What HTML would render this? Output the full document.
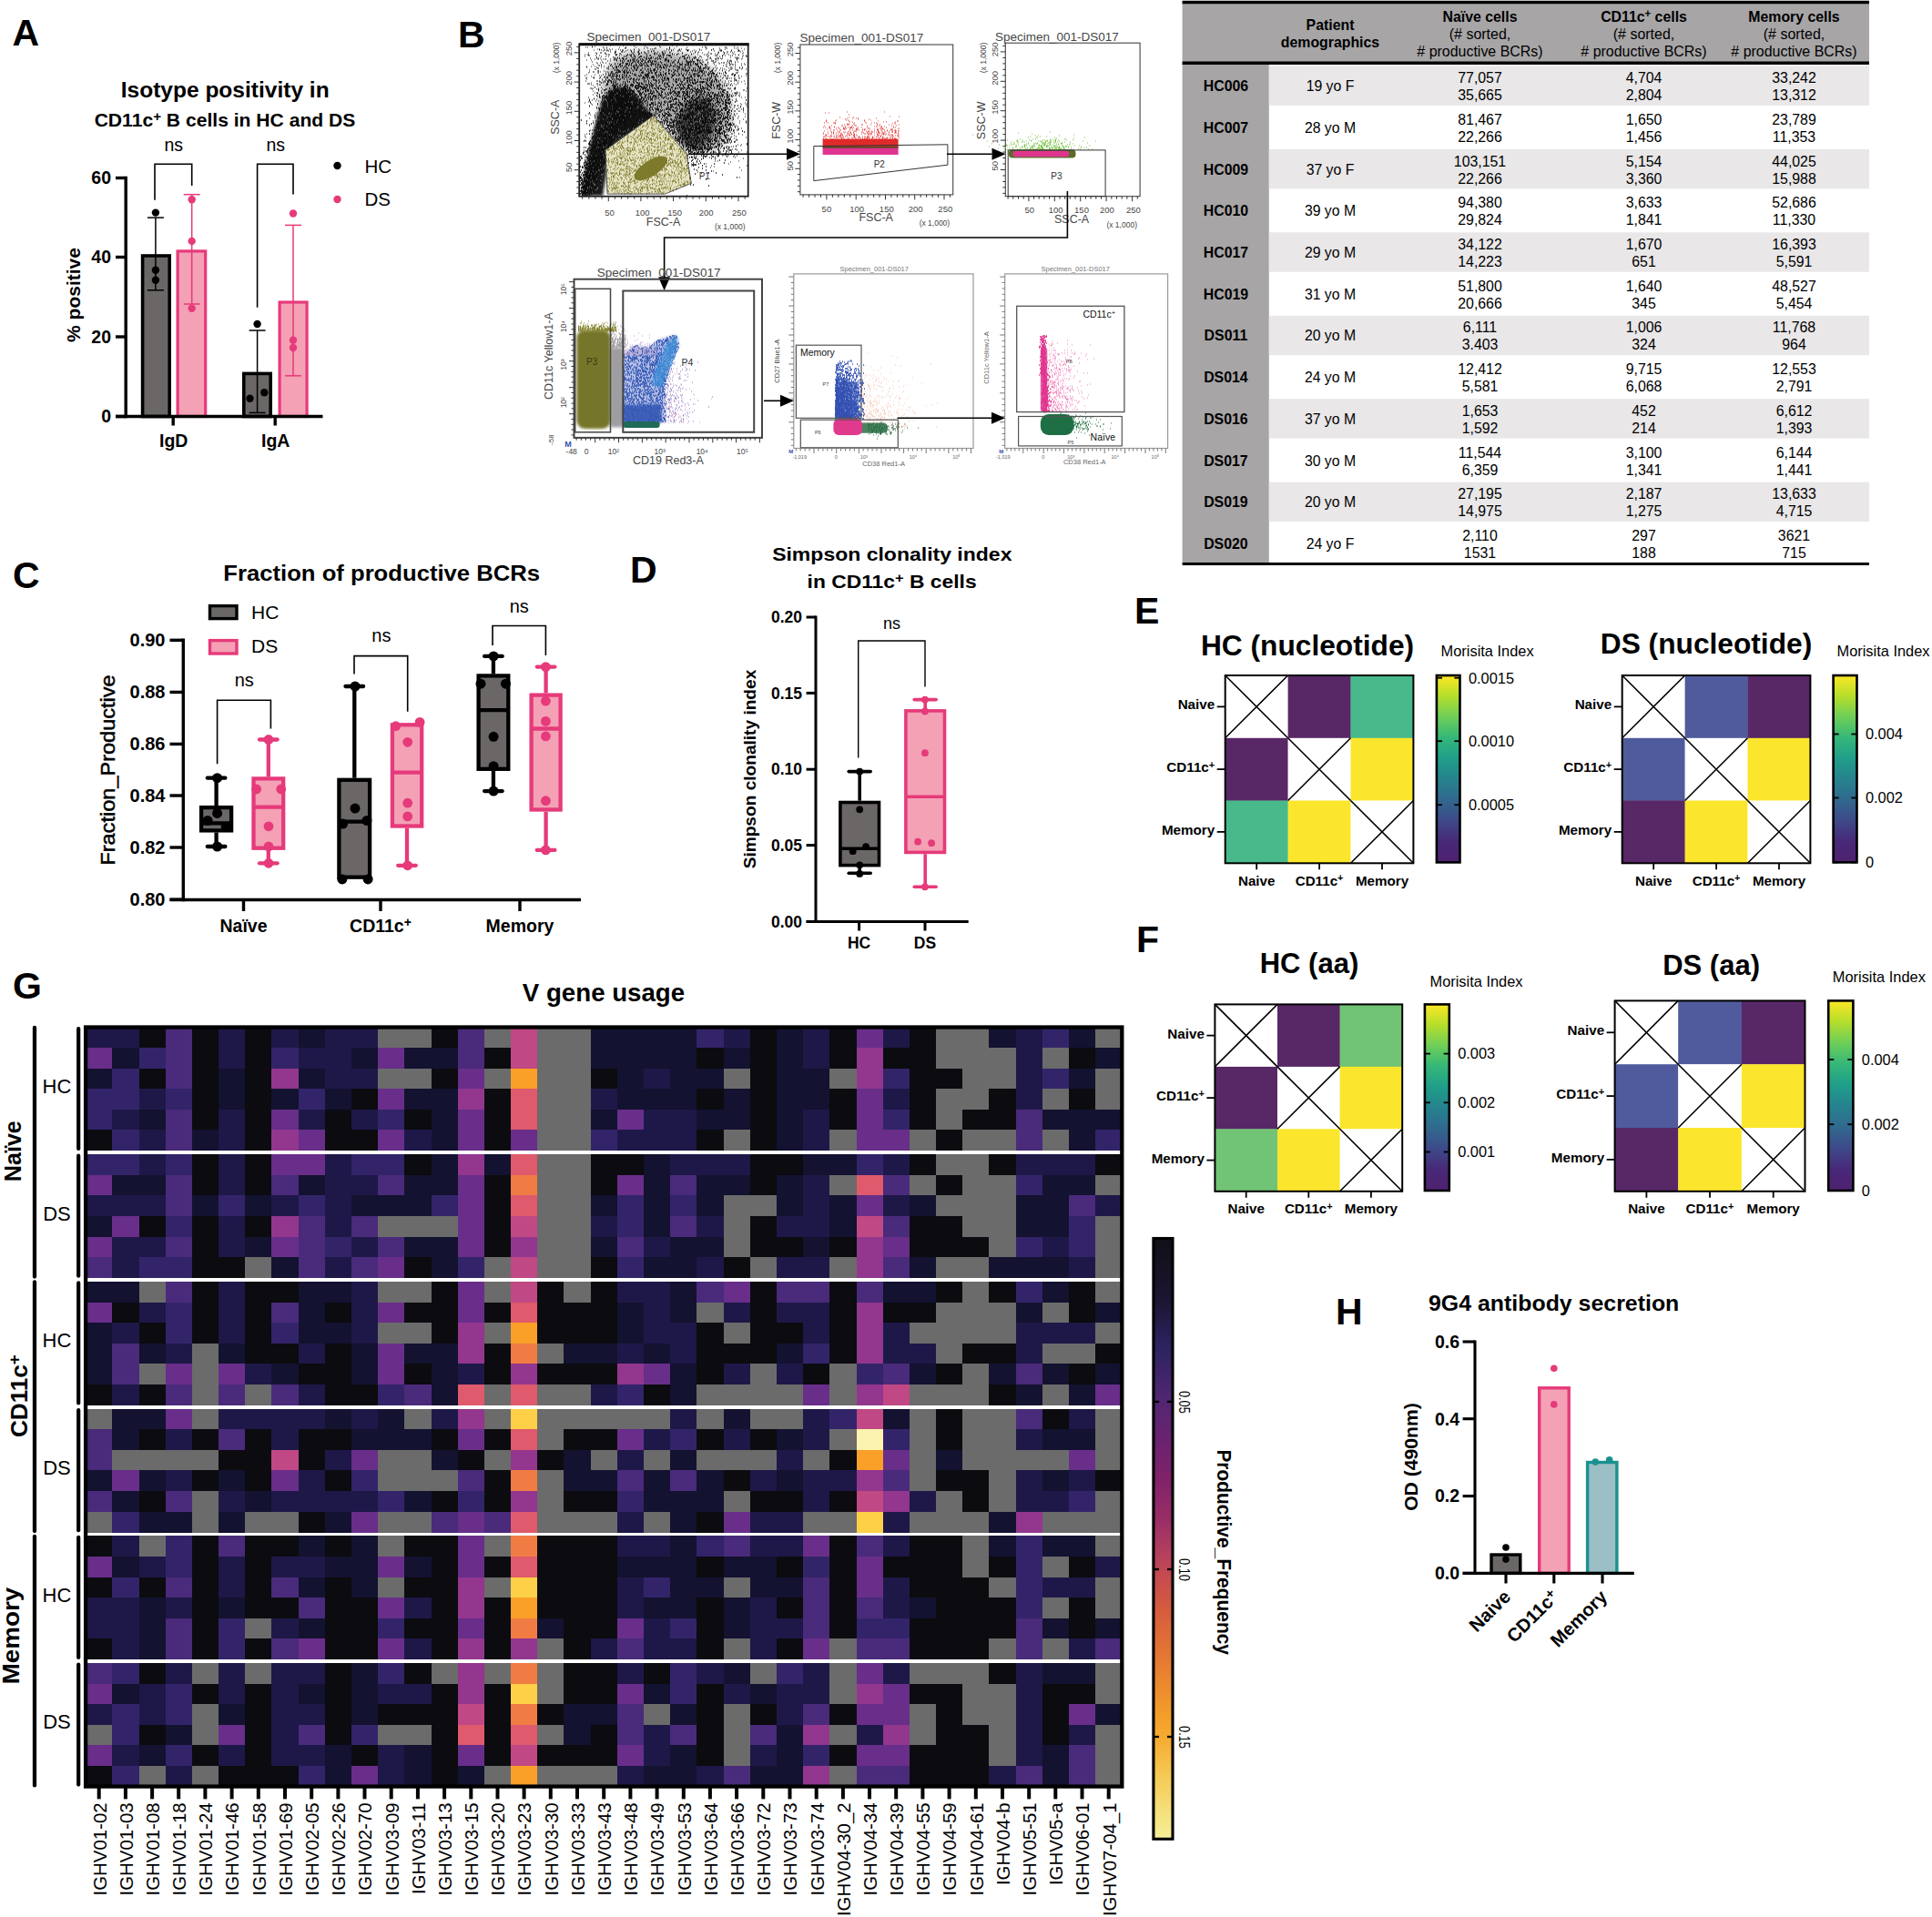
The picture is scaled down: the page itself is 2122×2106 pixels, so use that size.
<!DOCTYPE html><html><head><meta charset="utf-8"><title>Figure</title><style>html,body{margin:0;padding:0;background:#fff}svg{display:block}text{font-family:"Liberation Sans",sans-serif}</style></head><body>
<svg width="2122" height="2106" viewBox="0 0 2122 2106" font-family="Liberation Sans, sans-serif">
<rect x="0.0" y="0.0" width="2122.0" height="2106.0" fill="#fff"/>
<text x="13.5" y="50.0" font-size="41" font-weight="bold">A</text>
<text x="247.2" y="107.3" font-size="23" font-weight="bold" text-anchor="middle" textLength="229.0" lengthAdjust="spacingAndGlyphs">Isotype positivity in</text>
<text x="247.0" y="139.0" font-size="19.3" font-weight="bold" text-anchor="middle" textLength="286.7" lengthAdjust="spacingAndGlyphs">CD11c<tspan dy="-0.42em" font-size="72%">+</tspan><tspan dy="0.302em"> B cells in HC and DS</tspan></text>
<rect x="156.6" y="281.0" width="29.6" height="176.5" fill="#6b6767" stroke="#000" stroke-width="3.6"/>
<rect x="195.1" y="275.9" width="30.6" height="181.6" fill="#f4a1b6" stroke="#e63a7a" stroke-width="3.2"/>
<rect x="267.8" y="410.4" width="29.4" height="47.1" fill="#6b6767" stroke="#000" stroke-width="3.6"/>
<rect x="307.1" y="332.0" width="30.0" height="125.5" fill="#f4a1b6" stroke="#e63a7a" stroke-width="3.2"/>
<line x1="170.9" y1="239.1" x2="170.9" y2="318.8" stroke="#000" stroke-width="1.5"/>
<line x1="161.9" y1="239.1" x2="179.9" y2="239.1" stroke="#000" stroke-width="1.5"/>
<line x1="161.9" y1="318.8" x2="179.9" y2="318.8" stroke="#000" stroke-width="1.5"/>
<line x1="210.7" y1="213.7" x2="210.7" y2="334.0" stroke="#e63a7a" stroke-width="1.5"/>
<line x1="201.7" y1="213.7" x2="219.7" y2="213.7" stroke="#e63a7a" stroke-width="1.5"/>
<line x1="201.7" y1="334.0" x2="219.7" y2="334.0" stroke="#e63a7a" stroke-width="1.5"/>
<line x1="282.6" y1="363.0" x2="282.6" y2="453.4" stroke="#000" stroke-width="1.5"/>
<line x1="273.6" y1="363.0" x2="291.6" y2="363.0" stroke="#000" stroke-width="1.5"/>
<line x1="273.6" y1="453.4" x2="291.6" y2="453.4" stroke="#000" stroke-width="1.5"/>
<line x1="322.0" y1="247.4" x2="322.0" y2="412.8" stroke="#e63a7a" stroke-width="1.5"/>
<line x1="313.0" y1="247.4" x2="331.0" y2="247.4" stroke="#e63a7a" stroke-width="1.5"/>
<line x1="313.0" y1="412.8" x2="331.0" y2="412.8" stroke="#e63a7a" stroke-width="1.5"/>
<circle cx="170.9" cy="233.6" r="4.2" fill="#000"/>
<circle cx="170.9" cy="296.7" r="4.2" fill="#000"/>
<circle cx="170.9" cy="307.7" r="4.2" fill="#000"/>
<circle cx="282.6" cy="356.0" r="4.2" fill="#000"/>
<circle cx="274.5" cy="437.7" r="4.2" fill="#000"/>
<circle cx="290.3" cy="431.3" r="4.2" fill="#000"/>
<circle cx="210.7" cy="219.2" r="4.2" fill="#e63a7a"/>
<circle cx="210.7" cy="264.9" r="4.2" fill="#e63a7a"/>
<circle cx="210.7" cy="338.7" r="4.2" fill="#e63a7a"/>
<circle cx="322.0" cy="234.5" r="4.2" fill="#e63a7a"/>
<circle cx="322.0" cy="373.8" r="4.2" fill="#e63a7a"/>
<circle cx="322.0" cy="382.0" r="4.2" fill="#e63a7a"/>
<line x1="138.2" y1="193.8" x2="138.2" y2="459.2" stroke="#000" stroke-width="3.4"/>
<line x1="127.0" y1="457.5" x2="354.5" y2="457.5" stroke="#000" stroke-width="3.4"/>
<line x1="127.0" y1="195.5" x2="138.0" y2="195.5" stroke="#000" stroke-width="3.4"/>
<text x="122.0" y="202.3" font-size="19.5" font-weight="bold" text-anchor="end">60</text>
<line x1="127.0" y1="282.5" x2="138.0" y2="282.5" stroke="#000" stroke-width="3.4"/>
<text x="122.0" y="289.3" font-size="19.5" font-weight="bold" text-anchor="end">40</text>
<line x1="127.0" y1="370.0" x2="138.0" y2="370.0" stroke="#000" stroke-width="3.4"/>
<text x="122.0" y="376.8" font-size="19.5" font-weight="bold" text-anchor="end">20</text>
<line x1="127.0" y1="457.5" x2="138.0" y2="457.5" stroke="#000" stroke-width="3.4"/>
<text x="122.0" y="464.3" font-size="19.5" font-weight="bold" text-anchor="end">0</text>
<line x1="190.2" y1="457.5" x2="190.2" y2="467.5" stroke="#000" stroke-width="3.4"/>
<text x="190.7" y="490.7" font-size="19.5" font-weight="bold" text-anchor="middle">IgD</text>
<line x1="302.2" y1="457.5" x2="302.2" y2="467.5" stroke="#000" stroke-width="3.4"/>
<text x="302.7" y="490.7" font-size="19.5" font-weight="bold" text-anchor="middle">IgA</text>
<text x="87.5" y="324.0" font-size="21" font-weight="bold" text-anchor="middle" transform="rotate(-90 87.5 324.0)">% positive</text>
<path d="M170.0 219.8V180.3H210.7V204.0" fill="none" stroke="#000" stroke-width="1.6"/>
<path d="M282.6 337.8V180.3H322.0V213.4" fill="none" stroke="#000" stroke-width="1.6"/>
<text x="190.8" y="166.0" font-size="19.5" text-anchor="middle">ns</text>
<text x="302.7" y="166.0" font-size="19.5" text-anchor="middle">ns</text>
<circle cx="370.5" cy="182.0" r="4.2" fill="#000"/>
<text x="400.5" y="189.6" font-size="20.5">HC</text>
<circle cx="370.5" cy="219.0" r="4.2" fill="#e63a7a"/>
<text x="400.5" y="226.4" font-size="20.5">DS</text>
<text x="503.0" y="52.0" font-size="41" font-weight="bold">B</text>
<clipPath id="cp1"><rect x="636.2" y="48.3" width="185.5" height="167.4"/></clipPath>
<g clip-path="url(#cp1)">
<defs><filter id="b5" x="-20%" y="-20%" width="140%" height="140%"><feGaussianBlur stdDeviation="5"/></filter><filter id="b2" x="-20%" y="-20%" width="140%" height="140%"><feGaussianBlur stdDeviation="1.6"/></filter><filter id="b3" x="-30%" y="-30%" width="160%" height="160%"><feGaussianBlur stdDeviation="3.5"/></filter></defs>
<path d="M641 165h1M642 60h1M642 62h1M642 83h1M642 113h1M642 148h1M642 150h1M642 154h1M642 173h1M643 52h1M643 86h1M643 89h1M643 127h1M643 151h1M643 172h1M644 66h1M644 73h1M644 74h1M644 82h1M644 85h1M644 87h1M644 135h1M644 136h1M644 147h1M644 166h1M645 52h1M645 60h1M645 92h1M646 58h1M646 60h1M646 61h1M646 80h1M646 92h1M646 107h1M646 112h1M646 125h1M646 174h1M646 184h1M647 61h1M647 77h1M647 79h1M647 92h1M647 109h1M647 110h1M647 111h1M647 116h1M647 117h1M647 130h1M647 137h1M647 138h1M647 182h1M648 64h1M648 97h1M648 112h1M648 113h1M648 126h1M648 143h1M649 66h1M649 73h1M649 84h1M649 91h1M649 93h1M649 97h1M649 114h1M649 173h1M650 51h1M650 52h1M650 68h1M650 98h1M650 110h1M650 115h1M650 143h1M651 71h1M651 79h1M651 85h1M651 94h1M651 97h1M651 100h1M651 104h1M651 133h1M651 179h1M652 55h1M652 79h1M652 85h1M652 86h1M652 108h1M652 109h1M652 150h1M652 184h1M653 51h1M653 65h1M653 73h1M653 76h1M653 82h1M653 102h1M653 126h1M653 140h1M653 143h1M653 170h1M654 58h1M654 61h1M654 76h1M654 111h1M654 124h1M654 133h1M654 166h1M655 59h1M655 63h1M655 64h1M655 89h1M655 92h1M655 98h1M655 105h1M655 126h1M656 54h1M656 65h1M656 80h1M656 89h1M656 94h1M656 106h1M656 124h1M656 141h1M656 144h1M656 152h1M657 65h1M657 72h1M657 75h1M657 78h1M657 97h1M657 100h1M657 141h1M657 160h1M657 181h1M658 61h1M658 83h1M658 90h1M658 105h1M658 107h1M658 120h1M658 121h1M658 132h1M658 148h1M658 176h1M659 64h1M659 69h1M659 79h1M659 85h1M659 93h1M659 114h1M659 143h1M659 161h1M660 71h1M660 72h1M660 91h1M660 121h1M660 155h1M660 160h1M661 88h1M661 98h1M661 107h1M661 111h1M661 136h1M662 56h1M662 65h1M662 91h1M662 115h1M662 121h1M662 129h1M662 133h1M662 146h1M663 53h1M663 55h1M663 78h1M663 85h1M663 89h1M663 108h1M663 130h1M663 154h1M664 55h1M664 59h1M664 65h1M664 84h1M664 85h1M664 106h1M664 108h1M664 112h1M664 135h1M664 138h1M664 153h1M664 164h1M664 174h1M665 65h1M665 69h1M665 79h1M665 82h1M665 94h1M665 106h1M665 108h1M665 123h1M665 136h1M665 149h1M665 179h1M666 52h1M666 55h1M666 75h1M666 93h1M666 98h1M666 106h1M666 107h1M666 108h1M666 123h1M666 124h1M666 126h1M666 127h1M666 130h1M666 143h1M667 67h1M667 75h1M667 86h1M667 117h1M668 62h1M668 73h1M668 80h1M668 83h1M668 116h1M668 117h1M668 125h1M669 54h1M669 60h1M669 97h1M669 105h1M669 128h1M669 139h1M669 153h1M670 50h1M670 65h1M670 67h1M670 114h1M670 123h1M670 126h1M670 135h1M670 161h1M671 104h1M671 111h1M671 120h1M671 131h1M671 145h1M671 149h1M672 54h1M672 81h1M672 108h1M672 119h1M672 120h1M672 136h1M673 63h1M673 81h1M673 86h1M673 92h1M673 96h1M673 99h1M673 141h1M673 162h1M674 63h1M674 75h1M674 81h1M674 82h1M674 87h1M674 90h1M674 97h1M674 100h1M674 106h1M674 119h1M674 162h1M675 57h1M675 58h1M675 59h1M675 64h1M675 71h1M675 77h1M675 91h1M675 97h1M675 118h1M675 142h1M675 179h1M676 55h1M676 57h1M676 60h1M676 61h1M676 80h1M676 87h1M676 94h1M676 98h1M676 105h1M676 140h1M677 60h1M677 65h1M677 67h1M677 73h1M677 82h1M677 84h1M677 85h1M677 87h1M677 104h1M677 123h1M677 137h1M677 140h1M677 155h1M677 158h1M678 63h1M678 64h1M678 70h1M678 87h1M678 102h1M678 110h1M678 156h1M678 171h1M679 77h1M679 99h1M679 123h1M679 133h1M679 135h1M680 52h1M680 64h1M680 71h1M680 78h1M680 85h1M680 98h1M680 113h1M680 134h1M680 144h1M680 160h1M681 92h1M681 150h1M681 151h1M681 158h1M682 60h1M682 73h1M682 113h1M682 140h1M682 152h1M682 166h1M683 55h1M683 85h1M683 86h1M683 115h1M683 118h1M684 50h1M684 92h1M684 121h1M684 130h1M685 65h1M685 74h1M685 79h1M685 109h1M685 112h1M685 127h1M685 134h1M685 137h1M686 94h1M686 99h1M686 103h1M686 114h1M686 116h1M686 158h1M687 52h1M687 53h1M687 75h1M687 101h1M687 102h1M687 108h1M687 125h1M687 130h1M687 136h1M687 137h1M687 139h1M687 142h1M687 166h1M688 64h1M688 79h1M688 87h1M688 89h1M688 185h1M689 55h1M689 70h1M689 88h1M689 93h1M689 101h1M689 111h1M689 115h1M689 128h1M689 129h1M689 142h1M689 161h1M690 67h1M690 80h1M690 102h1M690 118h1M690 126h1M690 127h1M691 60h1M691 87h1M691 90h1M691 113h1M691 142h1M691 155h1M691 164h1M692 66h1M692 79h1M692 84h1M692 87h1M692 93h1M692 120h1M692 138h1M692 148h1M692 153h1M693 56h1M693 71h1M693 92h1M693 119h1M693 121h1M693 147h1M693 161h1M693 175h1M693 184h1M693 185h1M694 58h1M694 64h1M694 66h1M694 77h1M694 93h1M694 101h1M694 126h1M694 133h1M694 141h1M694 145h1M694 159h1M695 63h1M695 65h1M695 87h1M695 89h1M695 109h1M695 112h1M695 136h1M695 169h1M696 51h1M696 57h1M696 60h1M696 67h1M696 77h1M696 86h1M696 87h1M696 89h1M696 115h1M696 125h1M696 146h1M697 65h1M697 67h1M697 74h1M697 81h1M697 121h1M697 129h1M697 139h1M697 146h1M698 52h1M698 72h1M698 77h1M698 89h1M698 90h1M698 95h1M698 106h1M698 108h1M698 137h1M698 146h1M698 152h1M698 178h1M699 67h1M699 77h1M699 84h1M699 98h1M699 108h1M699 122h1M699 124h1M699 147h1M699 151h1M699 163h1M700 57h1M700 65h1M700 75h1M700 86h1M700 100h1M700 110h1M700 131h1M700 151h1M701 54h1M701 63h1M701 93h1M701 96h1M701 97h1M701 114h1M701 117h1M701 123h1M701 128h1M701 131h1M701 173h1M701 174h1M702 79h1M702 116h1M702 125h1M702 132h1M702 136h1M702 165h1M702 176h1M703 84h1M703 99h1M703 141h1M703 142h1M703 195h1M704 123h1M704 131h1M704 132h1M704 145h1M704 146h1M705 67h1M705 68h1M705 71h1M705 126h1M705 128h1M706 70h1M706 78h1M706 87h1M706 124h1M706 127h1M706 133h1M707 86h1M707 107h1M707 123h1M707 133h1M707 145h1M707 161h1M708 51h1M708 59h1M708 72h1M708 74h1M708 81h1M708 82h1M708 92h1M708 99h1M708 108h1M708 140h1M708 146h1M708 161h1M709 65h1M709 82h1M709 83h1M709 90h1M709 113h1M709 114h1M709 139h1M709 146h1M709 151h1M709 157h1M709 160h1M710 52h1M710 62h1M710 63h1M710 70h1M710 82h1M710 99h1M710 162h1M710 179h1M711 53h1M711 56h1M711 117h1M711 121h1M711 123h1M711 134h1M711 146h1M711 150h1M712 56h1M712 58h1M712 67h1M712 76h1M712 89h1M712 100h1M712 106h1M712 132h1M712 149h1M713 61h1M713 106h1M713 115h1M713 121h1M714 54h1M714 71h1M714 75h1M714 77h1M714 94h1M714 99h1M714 102h1M714 108h1M714 130h1M714 135h1M714 144h1M714 153h1M715 56h1M715 57h1M715 89h1M715 104h1M715 118h1M715 127h1M715 138h1M715 152h1M715 173h1M716 109h1M716 125h1M716 130h1M716 161h1M717 63h1M717 71h1M717 84h1M717 87h1M717 88h1M717 102h1M717 107h1M717 151h1M717 168h1M718 59h1M718 77h1M718 86h1M718 88h1M718 102h1M718 124h1M718 126h1M719 60h1M719 65h1M719 70h1M719 82h1M719 109h1M719 162h1M719 170h1M720 53h1M720 64h1M720 71h1M720 80h1M720 115h1M720 120h1M720 126h1M720 175h1M721 86h1M721 95h1M721 104h1M721 106h1M721 118h1M721 133h1M721 167h1M721 183h1M722 57h1M722 63h1M722 72h1M722 75h1M722 114h1M722 119h1M722 162h1M722 164h1M723 61h1M723 69h1M723 95h1M723 97h1M723 102h1M723 107h1M723 112h1M723 123h1M723 138h1M723 174h1M724 51h1M724 59h1M724 72h1M724 79h1M724 83h1M724 88h1M724 110h1M724 129h1M724 134h1M724 184h1M725 52h1M725 62h1M725 73h1M725 74h1M725 82h1M725 85h1M725 94h1M725 114h1M725 116h1M725 135h1M725 142h1M725 144h1M725 146h1M725 150h1M725 163h1M725 185h1M726 63h1M726 74h1M726 82h1M726 87h1M726 104h1M726 106h1M726 107h1M726 119h1M726 161h1M726 169h1M726 170h1M727 60h1M727 71h1M727 87h1M727 105h1M727 107h1M728 58h1M728 115h1M729 88h1M729 92h1M729 94h1M729 122h1M729 124h1M729 154h1M730 81h1M730 86h1M730 102h1M730 103h1M730 107h1M730 113h1M730 134h1M730 169h1M730 173h1M731 75h1M731 77h1M731 129h1M731 157h1M731 186h1M732 54h1M732 66h1M732 69h1M732 71h1M732 74h1M732 84h1M732 93h1M732 96h1M732 118h1M732 141h1M732 147h1M732 164h1M732 166h1M732 189h1M733 60h1M733 88h1M733 92h1M733 94h1M733 109h1M733 115h1M733 126h1M733 128h1M733 133h1M733 143h1M733 151h1M734 76h1M734 80h1M734 81h1M734 90h1M734 98h1M734 118h1M734 120h1M734 121h1M734 123h1M734 124h1M734 138h1M735 52h1M735 53h1M735 54h1M735 57h1M735 58h1M735 61h1M735 90h1M735 111h1M735 160h1M735 163h1M735 175h1M736 58h1M736 63h1M737 67h1M737 72h1M737 82h1M738 50h1M738 60h1M738 82h1M738 92h1M738 98h1M738 132h1M738 147h1M738 176h1M739 83h1M739 87h1M739 89h1M739 136h1M739 140h1M739 144h1M739 146h1M739 155h1M740 53h1M740 60h1M740 67h1M740 69h1M740 73h1M740 78h1M740 125h1M740 131h1M740 132h1M740 138h1M740 162h1M741 71h1M741 73h1M741 82h1M741 88h1M741 175h1M741 193h1M742 101h1M742 108h1M742 112h1M742 122h1M742 135h1M742 146h1M743 51h1M743 72h1M743 117h1M743 129h1M743 131h1M743 133h1M743 163h1M744 68h1M744 102h1M744 104h1M744 120h1M744 126h1M744 142h1M744 161h1M744 163h1M744 178h1M745 56h1M745 59h1M745 74h1M745 76h1M745 105h1M745 106h1M745 139h1M745 153h1M745 181h1M745 195h1M746 54h1M746 55h1M746 71h1M746 86h1M746 103h1M746 112h1M746 114h1M747 63h1M747 71h1M747 87h1M747 106h1M747 113h1M747 129h1M747 173h1M748 54h1M748 75h1M748 77h1M748 79h1M748 132h1M748 171h1M748 176h1M749 68h1M749 72h1M749 74h1M749 105h1M749 133h1M749 136h1M749 150h1M750 82h1M750 84h1M750 88h1M750 97h1M750 105h1M750 135h1M750 154h1M750 169h1M751 65h1M751 74h1M751 81h1M751 86h1M751 103h1M751 113h1M751 146h1M751 176h1M752 78h1M752 102h1M752 105h1M752 106h1M752 123h1M752 130h1M753 54h1M753 60h1M753 68h1M753 78h1M753 87h1M753 113h1M753 123h1M753 131h1M753 134h1M753 147h1M753 156h1M753 165h1M754 52h1M754 55h1M754 60h1M754 72h1M754 77h1M754 79h1M754 105h1M754 107h1M754 127h1M754 152h1M755 56h1M755 75h1M755 78h1M755 102h1M755 107h1M755 156h1M755 185h1M756 68h1M756 69h1M756 74h1M756 77h1M756 82h1M756 86h1M756 93h1M756 94h1M756 96h1M756 97h1M756 126h1M756 149h1M756 165h1M757 65h1M757 82h1M757 90h1M757 98h1M757 104h1M757 141h1M758 70h1M758 82h1M758 88h1M758 118h1M758 126h1M759 59h1M759 60h1M759 72h1M759 88h1M759 94h1M759 150h1M759 180h1M759 182h1M760 67h1M760 80h1M760 91h1M760 98h1M760 99h1M760 105h1M760 106h1M760 108h1M760 126h1M760 127h1M761 59h1M761 63h1M761 76h1M761 97h1M761 118h1M761 175h1M762 78h1M762 82h1M762 92h1M762 97h1M762 100h1M762 104h1M762 115h1M762 143h1M762 162h1M763 57h1M763 58h1M763 62h1M763 63h1M763 64h1M763 78h1M763 84h1M763 92h1M763 96h1M763 115h1M763 127h1M763 142h1M764 63h1M764 72h1M764 92h1M764 101h1M764 138h1M764 144h1M764 159h1M764 163h1M765 65h1M765 99h1M765 113h1M766 60h1M766 70h1M766 76h1M766 77h1M766 80h1M766 87h1M766 136h1M766 189h1M767 64h1M767 82h1M767 83h1M767 116h1M767 141h1M767 146h1M768 54h1M768 69h1M768 75h1M768 93h1M768 101h1M768 112h1M768 117h1M768 118h1M768 124h1M768 131h1M769 62h1M769 66h1M769 73h1M769 76h1M769 92h1M769 95h1M769 107h1M769 146h1M769 159h1M770 63h1M770 76h1M770 79h1M770 84h1M770 87h1M770 102h1M770 104h1M770 105h1M770 139h1M771 52h1M771 58h1M771 66h1M771 68h1M771 81h1M771 104h1M771 118h1M771 133h1M771 164h1M772 68h1M772 81h1M772 96h1M772 125h1M772 133h1M772 143h1M772 159h1M772 165h1M773 99h1M773 109h1M773 110h1M773 111h1M773 120h1M773 124h1M774 50h1M774 52h1M774 94h1M774 97h1M774 101h1M774 114h1M774 116h1M774 165h1M775 54h1M775 60h1M775 97h1M775 102h1M775 127h1M775 132h1M775 143h1M775 180h1M776 53h1M776 61h1M776 66h1M776 72h1M776 104h1M776 110h1M776 115h1M776 164h1M776 169h1M777 59h1M777 63h1M777 69h1M777 88h1M777 93h1M777 94h1M777 95h1M777 101h1M777 105h1M777 109h1M777 114h1M777 148h1M777 154h1M777 162h1M778 76h1M778 82h1M778 83h1M778 104h1M778 115h1M779 64h1M779 74h1M779 78h1M779 85h1M779 91h1M779 127h1M779 137h1M779 144h1M780 63h1M780 80h1M780 94h1M780 96h1M780 135h1M780 140h1M780 144h1M780 184h1M781 65h1M781 101h1M781 105h1M781 123h1M781 129h1M781 182h1M782 81h1M782 127h1M782 139h1M783 76h1M783 80h1M783 83h1M783 127h1M783 134h1M783 169h1M783 188h1M784 69h1M784 84h1M784 116h1M784 132h1M784 183h1M785 59h1M785 61h1M785 65h1M785 78h1M785 84h1M785 86h1M785 123h1M785 127h1M785 140h1M785 144h1M785 161h1M785 175h1M785 177h1M786 61h1M786 64h1M786 65h1M786 68h1M786 72h1M786 77h1M786 89h1M786 92h1M786 113h1M786 123h1M786 162h1M787 62h1M787 108h1M787 120h1M787 125h1M787 143h1M787 151h1M787 156h1M788 60h1M788 66h1M788 80h1M788 105h1M788 108h1M788 122h1M788 124h1M788 126h1M788 129h1M788 132h1M788 159h1M788 169h1M788 177h1M789 57h1M789 64h1M789 95h1M789 101h1M789 142h1M789 155h1M789 164h1M790 62h1M790 80h1M790 81h1M790 110h1M790 134h1M790 143h1M791 55h1M791 75h1M791 102h1M791 107h1M791 108h1M791 112h1M791 150h1M791 152h1M792 65h1M792 81h1M792 142h1M793 75h1M793 77h1M793 78h1M793 96h1M793 98h1M794 57h1M794 60h1M794 72h1M794 82h1M794 100h1M794 109h1M794 155h1M794 163h1M795 83h1M795 92h1M795 106h1M795 124h1M795 132h1M796 52h1M796 79h1M796 80h1M796 91h1M796 116h1M796 145h1M796 157h1M797 52h1M797 73h1M797 84h1M797 106h1M797 116h1M797 129h1M797 130h1M797 136h1M798 57h1M798 59h1M798 68h1M798 70h1M798 86h1M798 109h1M798 120h1M798 124h1M798 127h1M798 140h1M798 145h1M798 148h1M798 156h1M799 57h1M799 67h1M799 101h1M799 111h1M799 131h1M799 153h1M800 75h1M800 91h1M800 97h1M800 106h1M800 107h1M800 138h1M800 161h1M800 180h1M801 67h1M801 68h1M801 70h1M801 77h1M801 104h1M801 106h1M801 111h1M801 113h1M801 140h1M801 154h1M801 156h1M802 63h1M802 66h1M802 89h1M802 93h1M802 94h1M802 135h1M802 136h1M802 137h1M802 140h1M802 178h1M803 55h1M803 56h1M803 68h1M803 70h1M803 89h1M803 161h1M804 75h1M804 81h1M804 82h1M804 103h1M804 132h1M804 164h1M804 169h1M805 71h1M805 128h1M805 137h1M806 51h1M806 53h1M806 57h1M806 82h1M806 86h1M806 92h1M806 97h1M806 102h1M806 122h1M806 125h1M806 126h1M806 136h1M806 145h1M806 152h1M807 63h1M807 69h1M807 71h1M807 74h1M807 82h1M807 86h1M807 103h1M807 105h1M807 112h1M807 116h1M807 139h1M807 156h1M807 164h1M808 53h1M808 93h1M808 105h1M808 111h1M808 160h1M808 161h1M809 64h1M809 77h1M809 89h1M809 165h1M810 52h1M810 54h1M810 64h1M810 68h1M810 78h1M810 80h1M810 92h1M810 102h1M810 143h1M810 159h1M810 169h1M811 61h1M811 84h1M811 89h1M811 105h1M811 122h1M811 147h1M811 177h1M812 56h1M812 74h1M812 75h1M812 86h1M812 102h1M812 104h1M812 106h1M812 122h1M812 133h1M812 135h1M812 184h1M812 195h1M813 57h1M813 114h1M813 118h1M813 160h1M814 53h1M814 65h1M814 70h1M814 72h1M814 76h1M814 84h1M814 90h1M814 107h1M814 115h1M814 120h1M814 141h1M814 159h1M814 165h1M814 187h1M815 56h1M815 59h1M815 62h1M815 64h1M815 74h1M815 75h1M815 148h1M816 58h1M816 61h1M816 99h1M816 123h1M816 131h1M816 174h1M817 54h1M817 70h1M817 89h1M817 99h1M818 71h1M818 92h1M818 107h1M818 113h1M818 125h1M818 128h1M819 61h1M819 62h1M819 76h1M819 81h1M819 83h1M819 100h1M819 115h1M819 133h1M819 134h1M819 135h1M819 151h1M820 62h1M820 81h1M820 97h1M820 114h1M820 117h1M820 159h1M820 167h1M820 182h1M821 87h1M821 101h1M821 107h1M821 176h1" stroke="#222" stroke-width="1.1" fill="none"/>
<polygon points="658.4,124.4 662.1,94.6 669.6,71.0 687.0,58.6 724.2,56.1 761.5,62.3 786.3,79.7 801.2,104.5 803.7,135.6 793.8,160.4 773.9,169.1 755.3,167.9 719.3,128.1 687.0,141.8" fill="#000" opacity="0.34" filter="url(#b5)"/>
<path d="M659 121h1M659 123h1M660 121h1M661 106h1M661 109h1M661 119h1M661 123h1M661 124h1M662 107h1M662 113h1M662 122h1M663 99h1M663 105h1M663 108h1M663 114h1M663 115h1M664 90h1M664 99h1M664 107h1M664 110h1M664 111h1M664 112h1M664 113h1M664 116h1M664 117h1M664 123h1M664 127h1M665 87h1M665 88h1M665 98h1M665 106h1M665 117h1M666 85h1M666 92h1M666 93h1M666 102h1M666 109h1M666 116h1M666 118h1M667 85h1M667 89h1M667 90h1M667 92h1M667 93h1M667 113h1M667 114h1M667 117h1M667 121h1M667 126h1M667 128h1M668 82h1M668 88h1M668 90h1M668 100h1M668 102h1M668 114h1M668 117h1M668 121h1M668 125h1M669 83h1M669 88h1M669 97h1M669 100h1M669 101h1M669 106h1M669 110h1M669 113h1M669 116h1M669 128h1M670 72h1M670 81h1M670 83h1M670 102h1M670 103h1M670 114h1M670 117h1M670 122h1M670 125h1M670 128h1M670 129h1M670 131h1M671 71h1M671 79h1M671 80h1M671 85h1M671 89h1M671 90h1M671 91h1M671 100h1M671 102h1M671 103h1M671 108h1M671 117h1M671 124h1M671 130h1M671 132h1M672 73h1M672 79h1M672 82h1M672 84h1M672 87h1M672 100h1M672 101h1M672 103h1M672 107h1M672 117h1M672 119h1M672 125h1M672 128h1M672 129h1M672 130h1M673 75h1M673 84h1M673 90h1M673 94h1M673 102h1M673 105h1M673 107h1M673 129h1M673 130h1M674 82h1M674 83h1M674 93h1M674 95h1M674 96h1M674 103h1M674 115h1M674 122h1M674 125h1M674 128h1M675 70h1M675 77h1M675 94h1M675 96h1M675 98h1M675 99h1M675 102h1M675 114h1M675 117h1M675 121h1M675 129h1M676 73h1M676 74h1M676 80h1M676 81h1M676 84h1M676 89h1M676 90h1M676 92h1M676 103h1M676 117h1M676 118h1M676 119h1M676 128h1M677 66h1M677 74h1M677 75h1M677 77h1M677 79h1M677 83h1M677 86h1M677 93h1M677 98h1M677 100h1M677 105h1M677 107h1M677 110h1M677 116h1M677 119h1M677 125h1M677 126h1M677 134h1M678 77h1M678 80h1M678 83h1M678 92h1M678 95h1M678 104h1M678 109h1M678 111h1M678 116h1M678 127h1M678 128h1M678 132h1M678 133h1M679 73h1M679 78h1M679 79h1M679 87h1M679 100h1M679 103h1M679 107h1M679 125h1M679 131h1M679 133h1M680 64h1M680 71h1M680 78h1M680 79h1M680 83h1M680 84h1M680 88h1M680 94h1M680 97h1M680 99h1M680 101h1M680 104h1M680 115h1M680 131h1M680 134h1M680 135h1M681 66h1M681 67h1M681 70h1M681 71h1M681 73h1M681 79h1M681 87h1M681 94h1M681 102h1M681 103h1M681 107h1M681 114h1M681 117h1M681 122h1M681 123h1M681 124h1M682 97h1M682 98h1M682 108h1M682 112h1M682 113h1M682 116h1M682 118h1M682 122h1M683 64h1M683 67h1M683 69h1M683 72h1M683 77h1M683 82h1M683 84h1M683 93h1M683 103h1M683 104h1M683 116h1M683 118h1M683 123h1M683 127h1M683 129h1M683 134h1M684 64h1M684 65h1M684 69h1M684 75h1M684 79h1M684 85h1M684 90h1M684 97h1M684 107h1M684 112h1M684 125h1M684 132h1M684 133h1M684 135h1M685 62h1M685 67h1M685 78h1M685 80h1M685 82h1M685 83h1M685 87h1M685 95h1M685 96h1M685 97h1M685 102h1M685 103h1M685 104h1M685 109h1M685 114h1M685 116h1M685 125h1M685 128h1M685 132h1M685 133h1M685 135h1M686 73h1M686 77h1M686 79h1M686 80h1M686 85h1M686 90h1M686 94h1M686 97h1M686 98h1M686 107h1M686 112h1M686 117h1M686 121h1M686 123h1M686 125h1M686 133h1M686 139h1M687 62h1M687 65h1M687 70h1M687 72h1M687 92h1M687 94h1M687 97h1M687 98h1M687 104h1M687 115h1M687 120h1M687 121h1M687 132h1M687 134h1M687 136h1M687 138h1M687 140h1M688 61h1M688 70h1M688 71h1M688 74h1M688 77h1M688 78h1M688 79h1M688 81h1M688 83h1M688 85h1M688 95h1M688 99h1M688 111h1M688 117h1M688 119h1M688 136h1M689 60h1M689 67h1M689 70h1M689 75h1M689 80h1M689 94h1M689 97h1M689 102h1M689 108h1M689 118h1M689 119h1M689 127h1M689 137h1M689 138h1M689 139h1M689 141h1M690 67h1M690 72h1M690 79h1M690 85h1M690 103h1M690 105h1M690 107h1M690 108h1M690 123h1M690 131h1M690 137h1M690 139h1M691 69h1M691 71h1M691 77h1M691 83h1M691 90h1M691 96h1M691 98h1M691 101h1M691 112h1M691 113h1M691 116h1M691 123h1M691 126h1M691 127h1M692 61h1M692 66h1M692 67h1M692 80h1M692 87h1M692 103h1M692 104h1M692 106h1M692 110h1M692 131h1M692 132h1M692 133h1M692 138h1M693 60h1M693 62h1M693 70h1M693 72h1M693 75h1M693 86h1M693 94h1M693 99h1M693 111h1M693 116h1M693 118h1M693 124h1M693 139h1M694 69h1M694 81h1M694 93h1M694 95h1M694 100h1M694 107h1M694 114h1M694 116h1M694 119h1M695 59h1M695 66h1M695 68h1M695 73h1M695 78h1M695 87h1M695 90h1M695 94h1M695 101h1M695 122h1M695 124h1M695 129h1M695 131h1M695 137h1M696 61h1M696 65h1M696 72h1M696 73h1M696 75h1M696 82h1M696 88h1M696 99h1M696 101h1M696 105h1M696 116h1M696 127h1M696 129h1M696 136h1M697 62h1M697 63h1M697 68h1M697 75h1M697 83h1M697 103h1M697 111h1M697 122h1M697 131h1M697 136h1M698 70h1M698 71h1M698 72h1M698 77h1M698 82h1M698 88h1M698 94h1M698 95h1M698 104h1M698 111h1M698 125h1M698 128h1M698 137h1M699 66h1M699 72h1M699 75h1M699 77h1M699 87h1M699 91h1M699 94h1M699 97h1M699 98h1M699 113h1M699 114h1M699 131h1M699 134h1M700 68h1M700 74h1M700 91h1M700 97h1M700 100h1M700 109h1M700 110h1M700 113h1M700 120h1M701 58h1M701 60h1M701 67h1M701 69h1M701 73h1M701 83h1M701 88h1M701 92h1M701 93h1M701 94h1M701 96h1M701 100h1M701 117h1M702 59h1M702 63h1M702 71h1M702 84h1M702 87h1M702 91h1M702 93h1M702 95h1M702 102h1M702 116h1M702 117h1M702 121h1M702 123h1M702 127h1M702 130h1M703 62h1M703 65h1M703 69h1M703 72h1M703 77h1M703 82h1M703 95h1M703 98h1M703 102h1M703 103h1M703 105h1M703 109h1M703 111h1M703 112h1M703 113h1M703 127h1M704 58h1M704 62h1M704 67h1M704 70h1M704 72h1M704 77h1M704 80h1M704 83h1M704 92h1M704 95h1M704 96h1M704 103h1M704 107h1M704 108h1M704 109h1M704 115h1M704 118h1M704 123h1M704 125h1M705 65h1M705 72h1M705 75h1M705 79h1M705 80h1M705 86h1M705 92h1M705 107h1M705 111h1M705 120h1M705 121h1M705 126h1M706 66h1M706 80h1M706 84h1M706 85h1M706 93h1M706 97h1M706 98h1M706 101h1M706 108h1M706 110h1M706 114h1M706 124h1M707 63h1M707 70h1M707 85h1M707 88h1M707 89h1M707 90h1M707 95h1M707 97h1M707 103h1M707 109h1M707 112h1M707 120h1M707 121h1M707 122h1M707 124h1M707 125h1M708 58h1M708 67h1M708 68h1M708 72h1M708 76h1M708 83h1M708 86h1M708 95h1M708 97h1M708 100h1M708 105h1M708 111h1M708 118h1M708 125h1M708 128h1M709 64h1M709 69h1M709 84h1M709 89h1M709 93h1M709 98h1M709 100h1M709 105h1M709 107h1M709 121h1M709 124h1M709 126h1M710 59h1M710 61h1M710 65h1M710 71h1M710 73h1M710 78h1M710 82h1M710 83h1M710 85h1M710 93h1M710 110h1M710 116h1M710 119h1M710 129h1M710 130h1M711 68h1M711 72h1M711 76h1M711 81h1M711 82h1M711 83h1M711 85h1M711 87h1M711 94h1M711 98h1M711 99h1M711 100h1M711 107h1M711 112h1M711 113h1M711 115h1M711 124h1M711 125h1M711 127h1M711 128h1M711 131h1M712 64h1M712 67h1M712 68h1M712 73h1M712 78h1M712 80h1M712 82h1M712 84h1M712 89h1M712 92h1M712 99h1M712 103h1M712 105h1M712 108h1M712 109h1M712 124h1M712 129h1M713 65h1M713 66h1M713 80h1M713 86h1M713 95h1M713 97h1M713 115h1M713 119h1M713 120h1M713 123h1M713 124h1M713 130h1M714 61h1M714 64h1M714 67h1M714 68h1M714 76h1M714 78h1M714 91h1M714 99h1M714 101h1M714 102h1M714 106h1M714 107h1M714 108h1M714 110h1M714 115h1M714 116h1M714 118h1M714 121h1M714 125h1M715 63h1M715 64h1M715 69h1M715 71h1M715 72h1M715 78h1M715 80h1M715 85h1M715 92h1M715 93h1M715 100h1M715 103h1M715 109h1M715 113h1M715 114h1M715 125h1M715 126h1M715 129h1M716 67h1M716 68h1M716 70h1M716 80h1M716 84h1M716 85h1M716 93h1M716 95h1M716 97h1M716 102h1M716 103h1M716 107h1M716 109h1M716 110h1M716 113h1M716 114h1M716 118h1M716 120h1M717 70h1M717 77h1M717 84h1M717 94h1M717 100h1M717 106h1M717 113h1M717 115h1M717 116h1M717 121h1M718 59h1M718 67h1M718 76h1M718 78h1M718 85h1M718 92h1M718 97h1M718 101h1M718 105h1M718 126h1M719 58h1M719 68h1M719 76h1M719 77h1M719 80h1M719 88h1M719 97h1M719 105h1M719 106h1M719 107h1M719 109h1M719 112h1M719 115h1M719 119h1M719 127h1M720 64h1M720 67h1M720 73h1M720 74h1M720 80h1M720 82h1M720 88h1M720 90h1M720 91h1M720 93h1M720 94h1M720 98h1M720 99h1M720 106h1M720 120h1M720 122h1M720 123h1M720 124h1M720 125h1M721 59h1M721 69h1M721 78h1M721 79h1M721 83h1M721 84h1M721 89h1M721 96h1M721 100h1M721 101h1M721 120h1M721 129h1M722 64h1M722 65h1M722 71h1M722 74h1M722 76h1M722 101h1M722 117h1M722 119h1M722 120h1M722 121h1M722 125h1M723 61h1M723 71h1M723 82h1M723 84h1M723 88h1M723 91h1M723 98h1M723 103h1M723 108h1M723 113h1M723 121h1M723 127h1M724 62h1M724 64h1M724 74h1M724 90h1M724 94h1M724 103h1M724 104h1M724 113h1M724 117h1M724 126h1M724 128h1M725 61h1M725 65h1M725 68h1M725 72h1M725 77h1M725 80h1M725 81h1M725 82h1M725 97h1M725 105h1M725 115h1M725 121h1M725 123h1M725 134h1M726 69h1M726 75h1M726 83h1M726 97h1M726 100h1M726 102h1M726 104h1M726 112h1M726 114h1M726 117h1M726 122h1M726 131h1M726 134h1M727 57h1M727 58h1M727 85h1M727 88h1M727 90h1M727 98h1M727 101h1M727 121h1M727 125h1M727 126h1M727 129h1M727 134h1M727 136h1M728 59h1M728 61h1M728 63h1M728 73h1M728 74h1M728 79h1M728 82h1M728 83h1M728 98h1M728 108h1M728 127h1M728 132h1M729 60h1M729 71h1M729 74h1M729 75h1M729 86h1M729 88h1M729 93h1M729 99h1M729 112h1M729 115h1M729 121h1M729 127h1M729 128h1M729 133h1M729 135h1M729 136h1M730 58h1M730 65h1M730 66h1M730 67h1M730 71h1M730 81h1M730 86h1M730 91h1M730 95h1M730 98h1M730 112h1M730 113h1M730 124h1M730 126h1M730 127h1M730 130h1M731 65h1M731 66h1M731 72h1M731 73h1M731 80h1M731 81h1M731 82h1M731 96h1M731 106h1M731 120h1M731 132h1M732 61h1M732 64h1M732 86h1M732 91h1M732 92h1M732 108h1M732 112h1M732 120h1M732 129h1M732 130h1M732 133h1M732 134h1M732 136h1M733 67h1M733 72h1M733 86h1M733 87h1M733 92h1M733 104h1M733 114h1M733 115h1M733 116h1M733 119h1M733 123h1M733 126h1M733 131h1M733 138h1M733 140h1M734 61h1M734 66h1M734 67h1M734 68h1M734 77h1M734 78h1M734 86h1M734 87h1M734 88h1M734 94h1M734 98h1M734 104h1M734 108h1M734 112h1M734 118h1M734 127h1M734 138h1M735 61h1M735 73h1M735 77h1M735 81h1M735 102h1M735 112h1M735 120h1M735 125h1M735 134h1M735 138h1M735 142h1M735 143h1M735 145h1M736 61h1M736 70h1M736 72h1M736 98h1M736 99h1M736 100h1M736 102h1M736 103h1M736 108h1M736 112h1M736 115h1M736 116h1M736 118h1M736 121h1M736 126h1M736 128h1M736 138h1M737 63h1M737 78h1M737 85h1M737 96h1M737 102h1M737 106h1M737 111h1M737 115h1M737 118h1M737 127h1M737 131h1M737 143h1M738 59h1M738 69h1M738 83h1M738 84h1M738 96h1M738 109h1M738 115h1M738 134h1M738 143h1M738 145h1M738 147h1M739 68h1M739 73h1M739 76h1M739 80h1M739 83h1M739 87h1M739 93h1M739 94h1M739 100h1M739 110h1M739 114h1M739 122h1M739 134h1M739 135h1M739 139h1M739 146h1M739 147h1M740 79h1M740 82h1M740 100h1M740 102h1M740 109h1M740 115h1M740 132h1M740 141h1M740 143h1M741 66h1M741 71h1M741 77h1M741 81h1M741 89h1M741 97h1M741 98h1M741 102h1M741 108h1M741 109h1M741 114h1M741 123h1M741 139h1M741 145h1M742 78h1M742 87h1M742 90h1M742 91h1M742 97h1M742 114h1M742 118h1M742 122h1M742 126h1M742 130h1M742 140h1M742 147h1M742 148h1M742 151h1M743 60h1M743 74h1M743 83h1M743 87h1M743 90h1M743 94h1M743 103h1M743 105h1M743 106h1M743 113h1M743 120h1M743 133h1M743 134h1M743 135h1M743 137h1M743 138h1M743 139h1M743 141h1M743 142h1M743 153h1M744 69h1M744 73h1M744 76h1M744 77h1M744 78h1M744 79h1M744 97h1M744 101h1M744 105h1M744 115h1M744 125h1M744 127h1M744 129h1M744 134h1M744 144h1M744 151h1M744 153h1M744 155h1M745 66h1M745 68h1M745 74h1M745 81h1M745 83h1M745 87h1M745 88h1M745 94h1M745 101h1M745 103h1M745 110h1M745 116h1M745 126h1M745 130h1M745 133h1M745 135h1M745 137h1M745 146h1M745 150h1M745 153h1M746 64h1M746 70h1M746 73h1M746 75h1M746 82h1M746 92h1M746 96h1M746 101h1M746 102h1M746 106h1M746 113h1M746 117h1M746 119h1M746 127h1M746 128h1M746 129h1M746 130h1M746 133h1M746 138h1M746 142h1M746 143h1M746 152h1M746 154h1M746 157h1M747 71h1M747 89h1M747 93h1M747 94h1M747 97h1M747 99h1M747 113h1M747 115h1M747 125h1M747 128h1M747 135h1M747 144h1M747 147h1M748 71h1M748 81h1M748 90h1M748 97h1M748 98h1M748 114h1M748 120h1M748 121h1M748 122h1M748 138h1M748 145h1M748 149h1M749 62h1M749 70h1M749 76h1M749 83h1M749 90h1M749 101h1M749 107h1M749 109h1M749 114h1M749 119h1M749 120h1M749 121h1M749 122h1M749 125h1M749 139h1M749 141h1M749 143h1M749 145h1M749 149h1M749 150h1M749 152h1M749 153h1M749 155h1M749 156h1M749 159h1M750 62h1M750 76h1M750 77h1M750 83h1M750 94h1M750 95h1M750 98h1M750 116h1M750 127h1M750 130h1M750 140h1M750 141h1M750 146h1M750 160h1M750 162h1M751 62h1M751 64h1M751 86h1M751 88h1M751 96h1M751 101h1M751 111h1M751 130h1M751 145h1M751 146h1M751 152h1M752 61h1M752 64h1M752 71h1M752 73h1M752 77h1M752 93h1M752 111h1M752 116h1M752 118h1M752 127h1M752 142h1M752 148h1M753 66h1M753 71h1M753 82h1M753 91h1M753 99h1M753 100h1M753 103h1M753 104h1M753 108h1M753 114h1M753 122h1M753 130h1M753 131h1M753 136h1M753 143h1M753 146h1M753 151h1M753 153h1M753 157h1M753 159h1M753 161h1M753 165h1M754 64h1M754 67h1M754 69h1M754 86h1M754 89h1M754 98h1M754 101h1M754 102h1M754 104h1M754 111h1M754 115h1M754 128h1M754 131h1M754 141h1M754 152h1M754 153h1M754 164h1M755 63h1M755 68h1M755 70h1M755 71h1M755 78h1M755 85h1M755 86h1M755 88h1M755 89h1M755 90h1M755 103h1M755 105h1M755 125h1M755 126h1M755 127h1M755 128h1M755 135h1M755 145h1M755 149h1M755 152h1M755 154h1M755 155h1M755 156h1M755 157h1M755 158h1M755 159h1M755 162h1M755 164h1M756 61h1M756 69h1M756 70h1M756 72h1M756 77h1M756 93h1M756 95h1M756 113h1M756 120h1M756 130h1M756 137h1M756 139h1M756 143h1M756 145h1M756 146h1M756 150h1M756 156h1M756 162h1M756 165h1M756 166h1M756 167h1M757 63h1M757 68h1M757 74h1M757 75h1M757 85h1M757 87h1M757 88h1M757 89h1M757 93h1M757 97h1M757 101h1M757 113h1M757 116h1M757 126h1M757 127h1M757 132h1M757 135h1M757 139h1M757 143h1M757 145h1M757 166h1M758 67h1M758 69h1M758 71h1M758 72h1M758 91h1M758 99h1M758 109h1M758 112h1M758 113h1M758 117h1M758 127h1M758 132h1M758 133h1M758 134h1M758 141h1M758 143h1M758 146h1M758 149h1M758 150h1M758 152h1M758 156h1M758 162h1M758 164h1M758 165h1M758 166h1M758 168h1M759 68h1M759 77h1M759 83h1M759 84h1M759 85h1M759 94h1M759 98h1M759 107h1M759 108h1M759 111h1M759 115h1M759 116h1M759 131h1M759 140h1M759 141h1M759 142h1M759 155h1M759 157h1M759 160h1M759 167h1M760 65h1M760 66h1M760 78h1M760 86h1M760 88h1M760 91h1M760 95h1M760 99h1M760 108h1M760 109h1M760 117h1M760 122h1M760 124h1M760 128h1M760 140h1M760 147h1M760 159h1M760 160h1M760 163h1M761 70h1M761 75h1M761 77h1M761 91h1M761 92h1M761 100h1M761 105h1M761 112h1M761 120h1M761 126h1M761 130h1M761 139h1M761 140h1M761 142h1M761 143h1M761 149h1M761 152h1M761 163h1M761 165h1M762 64h1M762 68h1M762 81h1M762 84h1M762 87h1M762 88h1M762 100h1M762 107h1M762 119h1M762 122h1M762 128h1M762 132h1M762 139h1M762 146h1M762 152h1M762 157h1M762 161h1M763 70h1M763 75h1M763 77h1M763 81h1M763 82h1M763 88h1M763 89h1M763 91h1M763 97h1M763 98h1M763 101h1M763 102h1M763 110h1M763 115h1M763 119h1M763 120h1M763 122h1M763 141h1M763 143h1M763 144h1M763 154h1M763 158h1M763 161h1M763 163h1M763 165h1M764 70h1M764 71h1M764 78h1M764 91h1M764 103h1M764 108h1M764 113h1M764 115h1M764 116h1M764 117h1M764 132h1M764 133h1M764 138h1M764 141h1M764 145h1M764 149h1M764 154h1M764 156h1M764 160h1M764 161h1M765 66h1M765 71h1M765 81h1M765 82h1M765 90h1M765 99h1M765 100h1M765 104h1M765 120h1M765 123h1M765 129h1M765 141h1M765 142h1M765 150h1M765 155h1M765 168h1M766 66h1M766 67h1M766 69h1M766 70h1M766 71h1M766 73h1M766 83h1M766 84h1M766 88h1M766 90h1M766 107h1M766 119h1M766 128h1M766 136h1M766 146h1M766 151h1M766 152h1M766 168h1M767 73h1M767 74h1M767 80h1M767 84h1M767 99h1M767 106h1M767 107h1M767 113h1M767 119h1M767 134h1M767 135h1M767 147h1M767 148h1M767 151h1M767 155h1M767 165h1M767 166h1M767 167h1M768 67h1M768 75h1M768 78h1M768 83h1M768 99h1M768 104h1M768 109h1M768 110h1M768 121h1M768 128h1M768 130h1M768 139h1M768 141h1M768 145h1M768 146h1M768 161h1M768 164h1M769 69h1M769 73h1M769 74h1M769 75h1M769 78h1M769 86h1M769 90h1M769 95h1M769 96h1M769 97h1M769 100h1M769 102h1M769 115h1M769 116h1M769 119h1M769 123h1M769 149h1M769 158h1M769 162h1M770 70h1M770 78h1M770 79h1M770 90h1M770 98h1M770 100h1M770 102h1M770 110h1M770 113h1M770 127h1M770 128h1M770 129h1M770 130h1M770 136h1M770 139h1M770 143h1M770 152h1M770 153h1M770 160h1M770 162h1M770 163h1M770 167h1M771 79h1M771 83h1M771 90h1M771 91h1M771 95h1M771 97h1M771 106h1M771 123h1M771 129h1M771 135h1M771 136h1M771 154h1M771 156h1M771 161h1M771 162h1M771 166h1M772 77h1M772 87h1M772 90h1M772 96h1M772 98h1M772 107h1M772 109h1M772 112h1M772 113h1M772 114h1M772 117h1M772 121h1M772 125h1M772 129h1M772 133h1M772 134h1M772 139h1M772 140h1M772 141h1M772 144h1M772 157h1M773 75h1M773 81h1M773 97h1M773 101h1M773 102h1M773 112h1M773 113h1M773 124h1M773 128h1M773 137h1M773 138h1M773 141h1M773 142h1M773 143h1M773 146h1M773 162h1M773 163h1M774 71h1M774 74h1M774 83h1M774 87h1M774 101h1M774 110h1M774 126h1M774 133h1M774 135h1M774 145h1M774 152h1M775 73h1M775 75h1M775 79h1M775 92h1M775 96h1M775 106h1M775 108h1M775 117h1M775 119h1M775 127h1M775 128h1M775 129h1M775 130h1M775 134h1M775 138h1M775 147h1M775 152h1M775 153h1M776 87h1M776 88h1M776 91h1M776 93h1M776 98h1M776 104h1M776 109h1M776 110h1M776 111h1M776 117h1M776 125h1M776 128h1M776 133h1M776 134h1M776 140h1M776 141h1M776 142h1M776 147h1M776 152h1M776 167h1M777 76h1M777 82h1M777 86h1M777 89h1M777 93h1M777 96h1M777 97h1M777 98h1M777 108h1M777 111h1M777 115h1M777 116h1M777 121h1M777 127h1M777 128h1M777 133h1M777 134h1M777 135h1M777 136h1M777 146h1M777 153h1M777 162h1M777 164h1M778 75h1M778 80h1M778 94h1M778 102h1M778 104h1M778 108h1M778 110h1M778 111h1M778 113h1M778 127h1M778 140h1M778 142h1M778 151h1M778 156h1M778 165h1M779 87h1M779 88h1M779 95h1M779 104h1M779 106h1M779 111h1M779 112h1M779 124h1M779 125h1M779 133h1M779 138h1M779 139h1M779 149h1M779 153h1M779 163h1M779 164h1M780 79h1M780 86h1M780 96h1M780 102h1M780 107h1M780 110h1M780 114h1M780 120h1M780 125h1M780 135h1M780 141h1M780 142h1M780 149h1M780 151h1M780 154h1M780 157h1M780 161h1M781 78h1M781 81h1M781 83h1M781 84h1M781 89h1M781 90h1M781 92h1M781 93h1M781 94h1M781 97h1M781 107h1M781 121h1M781 123h1M781 124h1M781 127h1M781 134h1M781 137h1M781 144h1M781 145h1M781 153h1M781 162h1M781 164h1M782 77h1M782 80h1M782 88h1M782 90h1M782 102h1M782 114h1M782 117h1M782 130h1M782 133h1M782 135h1M782 145h1M782 155h1M782 158h1M783 80h1M783 81h1M783 93h1M783 102h1M783 108h1M783 111h1M783 115h1M783 128h1M783 132h1M783 147h1M783 149h1M783 159h1M784 81h1M784 89h1M784 90h1M784 96h1M784 97h1M784 104h1M784 105h1M784 130h1M784 136h1M784 153h1M784 154h1M785 85h1M785 87h1M785 106h1M785 114h1M785 120h1M785 123h1M785 124h1M785 127h1M785 132h1M785 133h1M785 134h1M785 140h1M785 141h1M785 148h1M785 150h1M785 151h1M785 153h1M785 154h1M785 155h1M785 157h1M786 82h1M786 84h1M786 87h1M786 108h1M786 113h1M786 131h1M786 132h1M786 142h1M786 143h1M786 151h1M786 161h1M786 162h1M787 82h1M787 88h1M787 90h1M787 94h1M787 95h1M787 97h1M787 105h1M787 106h1M787 107h1M787 111h1M787 112h1M787 133h1M787 146h1M787 155h1M788 84h1M788 94h1M788 95h1M788 104h1M788 108h1M788 112h1M788 114h1M788 121h1M788 130h1M788 147h1M788 149h1M788 150h1M788 158h1M788 159h1M789 89h1M789 98h1M789 102h1M789 103h1M789 106h1M789 112h1M789 115h1M789 122h1M789 126h1M789 127h1M789 135h1M789 142h1M789 144h1M789 146h1M789 155h1M789 156h1M789 159h1M789 162h1M790 92h1M790 94h1M790 96h1M790 98h1M790 109h1M790 113h1M790 117h1M790 123h1M790 126h1M790 131h1M790 141h1M790 142h1M790 144h1M790 145h1M790 146h1M790 148h1M790 150h1M790 159h1M791 88h1M791 93h1M791 97h1M791 101h1M791 106h1M791 117h1M791 130h1M791 134h1M791 136h1M791 142h1M791 143h1M791 147h1M792 98h1M792 120h1M792 121h1M792 127h1M792 134h1M792 141h1M792 146h1M792 153h1M792 154h1M792 161h1M793 94h1M793 100h1M793 101h1M793 104h1M793 105h1M793 106h1M793 111h1M793 114h1M793 121h1M793 125h1M793 131h1M793 138h1M793 146h1M793 147h1M793 154h1M794 99h1M794 104h1M794 112h1M794 114h1M794 127h1M794 130h1M794 131h1M794 139h1M794 141h1M794 144h1M794 154h1M795 94h1M795 102h1M795 107h1M795 119h1M795 125h1M795 130h1M795 144h1M795 145h1M795 147h1M795 148h1M795 149h1M795 156h1M796 99h1M796 112h1M796 114h1M796 115h1M796 118h1M796 121h1M796 134h1M796 137h1M796 145h1M796 149h1M796 151h1M797 103h1M797 110h1M797 111h1M797 112h1M797 113h1M797 115h1M797 117h1M797 119h1M797 121h1M797 136h1M797 137h1M797 139h1M797 142h1M797 149h1M797 151h1M798 101h1M798 104h1M798 105h1M798 107h1M798 113h1M798 116h1M798 117h1M798 118h1M798 123h1M798 129h1M798 134h1M798 140h1M798 143h1M798 148h1M799 102h1M799 104h1M799 105h1M799 110h1M799 113h1M799 119h1M799 123h1M799 124h1M799 126h1M799 128h1M799 129h1M799 130h1M799 131h1M799 134h1M799 135h1M799 137h1M799 142h1M800 109h1M800 110h1M800 113h1M800 114h1M800 121h1M800 122h1M800 123h1M800 132h1M800 137h1M800 142h1M800 144h1M801 104h1M801 109h1M801 114h1M801 117h1M801 124h1M801 128h1M801 130h1M801 136h1M801 137h1M801 141h1M802 112h1M802 127h1M802 130h1M802 137h1M802 139h1M803 122h1M803 137h1" stroke="#0a0a0a" stroke-width="1.4" fill="none"/>
<path d="M655 59h1M655 63h1M655 69h1M655 74h1M655 102h1M655 105h1M655 109h1M655 119h1M655 150h1M656 70h1M656 75h1M656 78h1M656 92h1M656 102h1M656 103h1M656 115h1M656 128h1M656 129h1M656 139h1M656 148h1M656 163h1M657 64h1M657 78h1M657 80h1M657 98h1M657 99h1M657 111h1M657 141h1M657 142h1M657 151h1M657 156h1M657 158h1M657 160h1M657 171h1M658 54h1M658 55h1M658 72h1M658 86h1M658 89h1M658 93h1M658 107h1M658 119h1M658 121h1M658 133h1M658 148h1M658 151h1M658 156h1M658 160h1M659 58h1M659 85h1M659 90h1M659 107h1M659 143h1M660 55h1M660 58h1M660 62h1M660 66h1M660 74h1M660 83h1M660 91h1M660 96h1M660 100h1M660 102h1M660 128h1M660 147h1M660 148h1M660 170h1M661 68h1M661 87h1M661 102h1M661 132h1M661 150h1M661 155h1M661 160h1M662 52h1M662 69h1M662 82h1M662 90h1M662 137h1M662 147h1M662 150h1M662 153h1M662 157h1M663 73h1M663 143h1M663 144h1M663 151h1M663 155h1M663 157h1M663 167h1M664 58h1M664 135h1M664 142h1M664 158h1M664 161h1M664 164h1M665 59h1M665 62h1M665 81h1M665 148h1M666 53h1M666 56h1M666 60h1M666 131h1M666 143h1M666 149h1M666 151h1M666 155h1M666 167h1M666 171h1M667 55h1M667 79h1M667 133h1M667 134h1M667 168h1M668 56h1M668 60h1M668 74h1M668 76h1M668 149h1M668 158h1M668 162h1M668 163h1M669 70h1M669 138h1M669 141h1M669 143h1M669 146h1M669 150h1M669 151h1M669 166h1M669 169h1M669 171h1M670 55h1M670 57h1M670 140h1M670 141h1M670 147h1M670 149h1M671 142h1M671 143h1M671 149h1M672 139h1M672 142h1M672 152h1M672 168h1M673 138h1M673 154h1M673 158h1M673 161h1M673 163h1M673 167h1M674 65h1M674 66h1M674 136h1M674 142h1M674 150h1M674 152h1M674 159h1M675 57h1M675 65h1M675 135h1M675 145h1M675 151h1M675 153h1M676 57h1M676 60h1M676 64h1M676 66h1M676 159h1M676 170h1M677 60h1M677 156h1M677 162h1M679 54h1M679 147h1M680 59h1M680 61h1M680 142h1M680 149h1M680 164h1M680 166h1M681 55h1M681 59h1M681 157h1M682 57h1M682 146h1M683 56h1M683 57h1M683 149h1M684 55h1M684 148h1M684 154h1M684 156h1M685 57h1M685 151h1M685 163h1M685 164h1M686 53h1M686 143h1M686 151h1M687 56h1M687 144h1M687 152h1M687 153h1M687 172h1M688 152h1M688 161h1M689 144h1M689 155h1M690 170h1M691 154h1M691 170h1M692 55h1M692 160h1M693 56h1M693 57h1M693 150h1M694 143h1M694 161h1M694 167h1M694 169h1M695 147h1M695 167h1M696 54h1M696 55h1M696 57h1M696 154h1M697 143h1M697 151h1M697 154h1M697 165h1M698 152h1M698 153h1M698 171h1M699 139h1M699 154h1M700 166h1M700 171h1M701 56h1M701 57h1M701 165h1M702 55h1M703 152h1M703 156h1M703 168h1M704 139h1M704 146h1M704 149h1M704 152h1M704 166h1M704 167h1M705 145h1M705 147h1M706 134h1M706 139h1M706 173h1M707 53h1M707 57h1M707 138h1M707 149h1M707 156h1M708 137h1M708 140h1M708 143h1M708 148h1M708 152h1M708 162h1M708 168h1M709 138h1M709 143h1M709 148h1M709 149h1M709 153h1M709 162h1M709 166h1M710 137h1M710 158h1M711 138h1M711 144h1M711 151h1M711 162h1M712 141h1M712 167h1M712 170h1M713 138h1M713 146h1M713 147h1M713 160h1M713 166h1M714 136h1M714 141h1M714 167h1M714 172h1M715 136h1M715 147h1M715 167h1M716 54h1M716 139h1M716 142h1M716 150h1M716 156h1M716 157h1M716 170h1M717 56h1M717 136h1M717 138h1M717 142h1M717 150h1M717 158h1M717 160h1M717 163h1M718 54h1M718 56h1M718 142h1M718 163h1M718 166h1M719 53h1M719 149h1M719 158h1M719 162h1M719 166h1M720 136h1M721 143h1M722 146h1M722 167h1M723 139h1M723 146h1M723 156h1M724 135h1M724 147h1M724 149h1M724 155h1M725 150h1M725 162h1M726 145h1M726 157h1M727 140h1M727 154h1M727 170h1M728 138h1M728 145h1M728 160h1M728 161h1M728 166h1M729 56h1M729 143h1M729 150h1M729 171h1M729 173h1M730 158h1M731 56h1M731 154h1M731 158h1M732 54h1M732 156h1M732 157h1M732 161h1M732 163h1M732 166h1M733 147h1M733 152h1M733 154h1M733 161h1M734 55h1M734 145h1M734 161h1M734 172h1M735 52h1M735 161h1M735 167h1M735 172h1M736 147h1M736 162h1M736 171h1M737 55h1M737 56h1M738 154h1M738 160h1M738 162h1M739 55h1M739 150h1M739 160h1M739 163h1M739 169h1M740 161h1M741 173h1M742 155h1M742 162h1M743 164h1M743 166h1M743 167h1M743 172h1M744 56h1M744 59h1M745 55h1M745 159h1M746 159h1M747 56h1M748 162h1M748 167h1M749 58h1M749 59h1M750 162h1M750 163h1M750 169h1M752 173h1M754 55h1M755 55h1M755 56h1M756 55h1M758 57h1M759 172h1M759 173h1M760 56h1M761 169h1M762 55h1M764 56h1M765 170h1M766 58h1M766 169h1M767 57h1M767 66h1M768 55h1M768 62h1M770 55h1M773 60h1M774 71h1M775 52h1M775 66h1M775 71h1M776 171h1M777 59h1M777 62h1M777 65h1M777 68h1M777 70h1M778 57h1M778 61h1M779 173h1M780 59h1M780 64h1M781 59h1M781 67h1M781 167h1M782 67h1M782 172h1M783 69h1M783 75h1M783 166h1M783 167h1M783 168h1M784 56h1M784 71h1M784 167h1M785 68h1M785 74h1M785 167h1M785 172h1M786 66h1M786 168h1M787 60h1M787 171h1M788 58h1M788 164h1M788 170h1M788 172h1M789 58h1M789 69h1M789 171h1M790 53h1M790 55h1M790 70h1M790 77h1M790 166h1M791 56h1M791 64h1M791 84h1M791 163h1M791 167h1M792 55h1M792 56h1M792 69h1M793 61h1M793 62h1M793 64h1M793 86h1M793 90h1M793 171h1M794 69h1M794 80h1M794 85h1M794 170h1M795 59h1M795 69h1M795 76h1M795 162h1M795 163h1M795 164h1M796 54h1M796 61h1M796 79h1M796 89h1M796 156h1M796 170h1M797 71h1M797 77h1M797 80h1M797 81h1M797 86h1M797 94h1M797 162h1M797 166h1M798 53h1M798 73h1M798 87h1M798 92h1M798 151h1M798 153h1M798 163h1M798 172h1M799 66h1M799 83h1M799 84h1M799 86h1M799 97h1M799 149h1M799 154h1M799 156h1M799 164h1M800 60h1M800 69h1M800 78h1M800 89h1M800 93h1M800 149h1M800 153h1M800 162h1M800 163h1M800 165h1M800 167h1M800 171h1M801 70h1M801 72h1M801 86h1M801 98h1M801 153h1M801 162h1M802 57h1M802 61h1M802 67h1M802 71h1M802 74h1M802 76h1M802 97h1M802 113h1M802 118h1M802 145h1M802 151h1M802 157h1M802 169h1M803 67h1M803 74h1M803 76h1M803 82h1M803 86h1M803 92h1M803 100h1M803 106h1M803 115h1M803 125h1M803 141h1M803 147h1M803 150h1M803 156h1M803 165h1M803 167h1M803 169h1M804 58h1M804 61h1M804 71h1M804 82h1M804 94h1M804 106h1M804 110h1M804 120h1M804 129h1M804 135h1M804 138h1M804 147h1M805 59h1M805 81h1M805 105h1M805 130h1M805 136h1M805 143h1M805 144h1M805 161h1M805 172h1M806 83h1M806 84h1M806 87h1M806 89h1M806 98h1M806 116h1M806 118h1M806 138h1M806 143h1M806 146h1M806 149h1M806 171h1M807 60h1M807 68h1M807 72h1M807 76h1M807 82h1M807 83h1M807 88h1M807 96h1M807 97h1M807 98h1M807 102h1M807 112h1M807 122h1M807 127h1M807 155h1M807 173h1M808 64h1M808 77h1M808 80h1M808 88h1M808 102h1M808 103h1M808 138h1M808 150h1M808 153h1M808 164h1M809 63h1M809 65h1M809 66h1M809 80h1M809 101h1M809 103h1M809 111h1M809 125h1M809 143h1M809 171h1M810 56h1M810 77h1M810 91h1M810 130h1M810 139h1M810 141h1M811 55h1M811 56h1M811 60h1M811 64h1M811 83h1M811 86h1M811 119h1M811 128h1M811 147h1M811 167h1" stroke="#0a0a0a" stroke-width="1.2" fill="none"/>
<polygon points="639.1,215.1 639.8,201.4 643.5,179.1 649.1,154.2 655.3,129.4 662.1,109.5 672.0,97.1 687.0,95.8 699.4,105.8 709.3,119.4 718.0,128.8 667.1,164.2 665.8,191.5 662.1,215.1" fill="#080808" opacity="0.95" filter="url(#b2)"/>
<path d="M633 189h1M633 211h1M634 168h1M635 174h1M635 194h1M635 201h1M635 204h1M635 210h1M635 211h1M636 193h1M636 196h1M636 204h1M636 208h1M636 210h1M636 215h1M637 172h1M637 176h1M637 183h1M637 189h1M637 194h1M637 195h1M637 196h1M637 199h1M637 203h1M637 210h1M637 213h1M638 132h1M638 172h1M638 174h1M638 187h1M638 192h1M638 195h1M638 196h1M638 198h1M638 201h1M638 202h1M638 206h1M638 207h1M638 209h1M638 210h1M638 212h1M639 174h1M639 183h1M639 184h1M639 190h1M639 197h1M639 198h1M639 199h1M639 201h1M639 203h1M639 204h1M639 206h1M639 210h1M639 211h1M639 213h1M639 214h1M639 215h1M640 168h1M640 169h1M640 184h1M640 192h1M640 193h1M640 200h1M640 201h1M640 202h1M640 205h1M640 206h1M640 207h1M640 208h1M640 210h1M640 211h1M640 212h1M640 213h1M640 214h1M640 216h1M641 155h1M641 162h1M641 167h1M641 179h1M641 180h1M641 182h1M641 189h1M641 192h1M641 195h1M641 197h1M641 198h1M641 199h1M641 200h1M641 204h1M641 205h1M641 206h1M641 207h1M641 210h1M641 212h1M641 213h1M641 215h1M641 217h1M641 219h1M641 221h1M642 170h1M642 176h1M642 178h1M642 182h1M642 184h1M642 189h1M642 192h1M642 196h1M642 199h1M642 202h1M642 203h1M642 204h1M642 205h1M642 206h1M642 209h1M642 210h1M642 212h1M642 213h1M642 214h1M642 215h1M642 216h1M643 155h1M643 162h1M643 166h1M643 178h1M643 179h1M643 181h1M643 184h1M643 185h1M643 189h1M643 191h1M643 192h1M643 194h1M643 195h1M643 199h1M643 200h1M643 201h1M643 202h1M643 203h1M643 206h1M643 207h1M643 208h1M643 209h1M643 211h1M643 212h1M643 215h1M643 216h1M644 133h1M644 167h1M644 173h1M644 180h1M644 181h1M644 184h1M644 186h1M644 187h1M644 190h1M644 191h1M644 193h1M644 194h1M644 199h1M644 200h1M644 202h1M644 204h1M644 205h1M644 206h1M644 207h1M644 208h1M644 212h1M644 214h1M644 220h1M645 164h1M645 165h1M645 166h1M645 168h1M645 173h1M645 174h1M645 181h1M645 182h1M645 183h1M645 184h1M645 185h1M645 187h1M645 190h1M645 191h1M645 195h1M645 196h1M645 199h1M645 200h1M645 202h1M645 203h1M645 205h1M645 207h1M645 209h1M645 210h1M645 211h1M645 215h1M645 224h1M646 158h1M646 163h1M646 171h1M646 175h1M646 177h1M646 179h1M646 181h1M646 182h1M646 183h1M646 188h1M646 193h1M646 194h1M646 195h1M646 196h1M646 198h1M646 199h1M646 200h1M646 202h1M646 203h1M646 204h1M646 208h1M646 213h1M647 124h1M647 144h1M647 147h1M647 156h1M647 157h1M647 158h1M647 159h1M647 162h1M647 165h1M647 173h1M647 176h1M647 178h1M647 179h1M647 180h1M647 181h1M647 182h1M647 183h1M647 185h1M647 186h1M647 191h1M647 192h1M647 193h1M647 194h1M647 195h1M647 200h1M647 203h1M647 204h1M647 205h1M647 214h1M648 155h1M648 159h1M648 165h1M648 171h1M648 176h1M648 178h1M648 180h1M648 181h1M648 185h1M648 188h1M648 189h1M648 190h1M648 192h1M648 194h1M648 195h1M648 199h1M648 207h1M648 210h1M648 214h1M648 215h1M649 136h1M649 160h1M649 164h1M649 165h1M649 167h1M649 169h1M649 170h1M649 173h1M649 176h1M649 178h1M649 180h1M649 182h1M649 183h1M649 185h1M649 186h1M649 188h1M649 189h1M649 190h1M649 191h1M649 192h1M649 195h1M649 198h1M649 199h1M649 201h1M649 202h1M649 203h1M649 204h1M649 211h1M649 213h1M649 217h1M650 147h1M650 151h1M650 152h1M650 160h1M650 163h1M650 173h1M650 175h1M650 181h1M650 182h1M650 183h1M650 185h1M650 186h1M650 189h1M650 191h1M650 192h1M650 195h1M650 201h1M650 204h1M650 205h1M651 135h1M651 150h1M651 156h1M651 159h1M651 162h1M651 164h1M651 165h1M651 166h1M651 170h1M651 171h1M651 175h1M651 176h1M651 179h1M651 180h1M651 182h1M651 183h1M651 187h1M651 188h1M651 190h1M651 192h1M651 193h1M651 195h1M651 196h1M651 198h1M651 200h1M651 204h1M651 210h1M652 143h1M652 156h1M652 161h1M652 162h1M652 164h1M652 171h1M652 172h1M652 173h1M652 174h1M652 175h1M652 176h1M652 178h1M652 180h1M652 181h1M652 182h1M652 183h1M652 186h1M652 188h1M652 189h1M652 190h1M652 191h1M652 192h1M652 193h1M652 194h1M652 196h1M652 197h1M652 201h1M652 202h1M653 96h1M653 127h1M653 129h1M653 151h1M653 160h1M653 161h1M653 162h1M653 166h1M653 167h1M653 168h1M653 169h1M653 171h1M653 173h1M653 174h1M653 175h1M653 178h1M653 179h1M653 180h1M653 184h1M653 185h1M653 186h1M653 187h1M653 190h1M653 194h1M653 196h1M653 197h1M653 206h1M654 152h1M654 153h1M654 156h1M654 159h1M654 161h1M654 162h1M654 167h1M654 170h1M654 172h1M654 174h1M654 177h1M654 183h1M654 184h1M654 185h1M654 186h1M654 192h1M654 195h1M654 200h1M655 118h1M655 137h1M655 140h1M655 146h1M655 147h1M655 150h1M655 156h1M655 157h1M655 159h1M655 163h1M655 166h1M655 167h1M655 171h1M655 173h1M655 175h1M655 177h1M655 178h1M655 179h1M655 183h1M655 184h1M655 186h1M655 188h1M655 191h1M655 192h1M655 200h1M655 205h1M656 114h1M656 136h1M656 143h1M656 148h1M656 153h1M656 154h1M656 156h1M656 157h1M656 163h1M656 168h1M656 173h1M656 174h1M656 180h1M656 181h1M656 182h1M656 186h1M656 189h1M656 190h1M656 191h1M656 198h1M657 119h1M657 134h1M657 136h1M657 140h1M657 143h1M657 148h1M657 149h1M657 153h1M657 154h1M657 156h1M657 162h1M657 163h1M657 164h1M657 165h1M657 166h1M657 170h1M657 172h1M657 176h1M657 177h1M657 180h1M657 181h1M657 189h1M658 104h1M658 106h1M658 133h1M658 143h1M658 144h1M658 145h1M658 146h1M658 148h1M658 150h1M658 151h1M658 156h1M658 159h1M658 161h1M658 164h1M658 165h1M658 166h1M658 167h1M658 169h1M658 172h1M658 173h1M658 175h1M658 177h1M658 181h1M658 183h1M658 186h1M658 200h1M659 124h1M659 125h1M659 132h1M659 134h1M659 138h1M659 143h1M659 145h1M659 146h1M659 149h1M659 158h1M659 159h1M659 160h1M659 167h1M659 169h1M659 170h1M659 173h1M659 174h1M659 175h1M659 176h1M659 177h1M659 178h1M659 183h1M659 186h1M659 188h1M659 200h1M660 112h1M660 124h1M660 133h1M660 134h1M660 136h1M660 140h1M660 142h1M660 148h1M660 149h1M660 156h1M660 159h1M660 160h1M660 165h1M660 167h1M660 168h1M660 171h1M660 172h1M660 174h1M660 176h1M660 181h1M660 183h1M660 189h1M660 190h1M661 109h1M661 114h1M661 122h1M661 135h1M661 136h1M661 140h1M661 141h1M661 143h1M661 152h1M661 154h1M661 155h1M661 157h1M661 161h1M661 162h1M661 163h1M661 164h1M661 165h1M661 166h1M661 167h1M661 168h1M661 169h1M661 172h1M661 173h1M661 175h1M661 179h1M661 185h1M661 190h1M662 105h1M662 128h1M662 142h1M662 144h1M662 145h1M662 147h1M662 149h1M662 150h1M662 154h1M662 157h1M662 164h1M662 167h1M662 168h1M662 178h1M662 187h1M663 121h1M663 122h1M663 133h1M663 134h1M663 138h1M663 140h1M663 145h1M663 146h1M663 149h1M663 151h1M663 154h1M663 155h1M663 157h1M663 159h1M663 162h1M663 165h1M663 169h1M663 174h1M663 178h1M664 102h1M664 111h1M664 122h1M664 126h1M664 129h1M664 130h1M664 139h1M664 140h1M664 147h1M664 149h1M664 151h1M664 153h1M664 154h1M664 156h1M664 157h1M664 158h1M664 160h1M664 161h1M664 163h1M664 165h1M664 168h1M664 173h1M664 177h1M664 179h1M665 112h1M665 124h1M665 135h1M665 138h1M665 140h1M665 141h1M665 146h1M665 147h1M665 149h1M665 150h1M665 152h1M665 154h1M665 156h1M665 157h1M665 158h1M665 160h1M665 162h1M665 167h1M665 171h1M666 102h1M666 105h1M666 118h1M666 126h1M666 130h1M666 135h1M666 136h1M666 139h1M666 140h1M666 141h1M666 142h1M666 153h1M666 157h1M666 159h1M666 166h1M666 169h1M666 173h1M666 179h1M667 121h1M667 122h1M667 124h1M667 125h1M667 132h1M667 134h1M667 137h1M667 141h1M667 143h1M667 159h1M667 162h1M667 163h1M667 165h1M667 167h1M667 170h1M667 171h1M667 172h1M668 112h1M668 116h1M668 117h1M668 124h1M668 126h1M668 139h1M668 144h1M668 145h1M668 151h1M668 156h1M668 160h1M668 161h1M668 163h1M668 164h1M668 165h1M668 166h1M669 105h1M669 113h1M669 114h1M669 115h1M669 122h1M669 130h1M669 131h1M669 133h1M669 137h1M669 144h1M669 146h1M669 148h1M669 151h1M669 152h1M669 159h1M669 162h1M669 163h1M669 165h1M669 166h1M670 89h1M670 104h1M670 106h1M670 107h1M670 109h1M670 124h1M670 125h1M670 129h1M670 130h1M670 137h1M670 138h1M670 140h1M670 142h1M670 147h1M670 150h1M670 151h1M670 153h1M670 155h1M670 156h1M670 158h1M670 159h1M670 165h1M670 169h1M671 108h1M671 116h1M671 118h1M671 121h1M671 129h1M671 131h1M671 132h1M671 133h1M671 137h1M671 139h1M671 140h1M671 143h1M671 150h1M671 152h1M671 154h1M671 156h1M671 158h1M671 160h1M671 164h1M671 165h1M671 170h1M672 94h1M672 103h1M672 104h1M672 105h1M672 107h1M672 110h1M672 113h1M672 116h1M672 117h1M672 121h1M672 123h1M672 127h1M672 128h1M672 131h1M672 135h1M672 137h1M672 138h1M672 139h1M672 140h1M672 143h1M672 145h1M672 146h1M672 149h1M672 155h1M672 159h1M672 162h1M673 92h1M673 111h1M673 112h1M673 117h1M673 119h1M673 120h1M673 127h1M673 133h1M673 136h1M673 139h1M673 140h1M673 144h1M673 146h1M673 160h1M674 88h1M674 95h1M674 97h1M674 103h1M674 111h1M674 115h1M674 121h1M674 124h1M674 130h1M674 131h1M674 132h1M674 135h1M674 137h1M674 138h1M674 145h1M674 147h1M674 152h1M674 153h1M674 163h1M675 95h1M675 105h1M675 108h1M675 111h1M675 113h1M675 115h1M675 117h1M675 118h1M675 119h1M675 122h1M675 127h1M675 129h1M675 131h1M675 135h1M675 136h1M675 139h1M675 142h1M675 143h1M675 144h1M675 148h1M675 159h1M676 95h1M676 101h1M676 103h1M676 111h1M676 115h1M676 117h1M676 120h1M676 121h1M676 122h1M676 123h1M676 125h1M676 126h1M676 130h1M676 131h1M676 134h1M676 135h1M676 140h1M676 143h1M676 145h1M676 147h1M676 158h1M676 163h1M677 105h1M677 107h1M677 109h1M677 112h1M677 115h1M677 117h1M677 118h1M677 119h1M677 120h1M677 121h1M677 122h1M677 126h1M677 129h1M677 131h1M677 132h1M677 133h1M677 134h1M677 138h1M677 139h1M677 140h1M677 143h1M677 144h1M677 147h1M677 148h1M677 156h1M677 157h1M678 95h1M678 96h1M678 98h1M678 103h1M678 106h1M678 109h1M678 114h1M678 115h1M678 116h1M678 124h1M678 126h1M678 127h1M678 129h1M678 134h1M678 137h1M678 141h1M678 143h1M678 144h1M678 147h1M678 150h1M679 105h1M679 111h1M679 112h1M679 114h1M679 118h1M679 121h1M679 125h1M679 128h1M679 129h1M679 130h1M679 137h1M679 142h1M679 143h1M679 145h1M679 147h1M679 150h1M680 97h1M680 100h1M680 103h1M680 106h1M680 109h1M680 110h1M680 115h1M680 116h1M680 119h1M680 121h1M680 124h1M680 128h1M680 131h1M680 132h1M680 134h1M680 139h1M680 141h1M680 143h1M680 145h1M680 149h1M681 101h1M681 105h1M681 109h1M681 110h1M681 111h1M681 113h1M681 115h1M681 123h1M681 124h1M681 128h1M681 129h1M681 133h1M681 134h1M681 136h1M681 137h1M681 144h1M681 149h1M682 100h1M682 101h1M682 108h1M682 113h1M682 115h1M682 117h1M682 118h1M682 121h1M682 122h1M682 123h1M682 124h1M682 127h1M682 129h1M682 132h1M682 133h1M682 141h1M683 98h1M683 99h1M683 105h1M683 108h1M683 110h1M683 113h1M683 119h1M683 128h1M683 129h1M683 130h1M683 134h1M683 135h1M683 140h1M683 142h1M683 143h1M683 144h1M684 97h1M684 99h1M684 101h1M684 107h1M684 108h1M684 110h1M684 118h1M684 123h1M684 127h1M684 129h1M684 132h1M684 133h1M684 145h1M684 152h1M685 102h1M685 112h1M685 114h1M685 118h1M685 121h1M685 122h1M685 127h1M685 128h1M685 131h1M685 139h1M685 142h1M685 146h1M685 147h1M686 92h1M686 96h1M686 109h1M686 111h1M686 113h1M686 114h1M686 120h1M686 123h1M686 125h1M686 129h1M686 130h1M686 132h1M686 135h1M686 136h1M686 137h1M687 83h1M687 99h1M687 100h1M687 103h1M687 105h1M687 107h1M687 109h1M687 111h1M687 115h1M687 116h1M687 130h1M687 131h1M687 132h1M687 137h1M687 139h1M688 100h1M688 102h1M688 104h1M688 105h1M688 109h1M688 113h1M688 114h1M688 116h1M688 119h1M688 124h1M688 126h1M688 129h1M689 90h1M689 96h1M689 106h1M689 107h1M689 114h1M689 122h1M689 128h1M690 99h1M690 101h1M690 104h1M690 112h1M690 113h1M690 116h1M690 119h1M690 129h1M690 130h1M690 134h1M691 97h1M691 100h1M691 101h1M691 103h1M691 104h1M691 105h1M691 111h1M691 113h1M691 116h1M691 117h1M691 118h1M691 120h1M691 121h1M691 128h1M692 94h1M692 97h1M692 99h1M692 100h1M692 111h1M692 116h1M692 122h1M693 93h1M693 99h1M693 104h1M693 109h1M693 110h1M693 111h1M693 117h1M693 121h1M693 123h1M693 133h1M693 136h1M693 142h1M694 100h1M694 103h1M694 104h1M694 107h1M694 114h1M694 115h1M694 118h1M694 119h1M694 120h1M694 125h1M694 127h1M694 136h1M694 138h1M694 139h1M695 93h1M695 100h1M695 102h1M695 118h1M696 91h1M696 101h1M696 102h1M696 125h1M696 135h1M697 95h1M697 96h1M697 104h1M697 106h1M697 115h1M697 116h1M697 117h1M697 126h1M698 96h1M698 97h1M698 117h1M698 119h1M698 122h1M698 132h1M699 104h1M699 108h1M699 114h1M699 119h1M699 133h1M700 94h1M700 96h1M700 106h1M700 109h1M700 111h1M700 114h1M701 101h1M701 106h1M701 121h1M702 100h1M702 103h1M702 104h1M702 109h1M702 110h1M702 112h1M702 113h1M702 116h1M703 95h1M703 114h1M704 91h1M704 104h1M704 106h1M704 112h1M704 117h1M705 96h1M705 98h1M705 102h1M705 113h1M706 96h1M706 110h1M708 96h1M708 104h1M708 106h1M709 97h1M709 101h1M709 111h1M710 95h1M710 96h1M710 104h1M710 109h1M713 93h1M713 103h1M713 115h1M714 102h1M714 127h1M715 95h1M717 86h1M717 105h1M719 114h1M725 105h1" stroke="#0a0a0a" stroke-width="1.4" fill="none"/>
<path d="M640 209h1M641 201h1M641 214h1M642 202h1M643 196h1M644 187h1M644 210h1M645 183h1M645 198h1M645 206h1M645 207h1M646 178h1M646 181h1M646 191h1M647 189h1M647 205h1M648 177h1M648 200h1M648 214h1M649 171h1M649 180h1M649 191h1M649 195h1M649 206h1M650 199h1M650 211h1M651 148h1M651 184h1M651 188h1M651 201h1M652 177h1M652 202h1M652 203h1M653 191h1M653 203h1M653 215h1M654 171h1M654 209h1M655 162h1M655 189h1M655 197h1M655 208h1M656 143h1M656 152h1M656 156h1M656 206h1M656 207h1M657 157h1M657 162h1M657 187h1M658 132h1M658 143h1M658 152h1M658 187h1M659 121h1M659 122h1M659 176h1M659 181h1M659 198h1M660 137h1M660 139h1M660 186h1M660 192h1M660 199h1M660 203h1M661 139h1M661 155h1M661 167h1M661 192h1M661 195h1M662 124h1M662 131h1M662 141h1M662 161h1M662 170h1M662 185h1M662 191h1M662 209h1M663 138h1M663 146h1M663 162h1M663 173h1M663 183h1M663 207h1M664 109h1M664 126h1M664 152h1M664 165h1M664 168h1M665 109h1M665 110h1M665 145h1M665 161h1M665 169h1M666 111h1M666 130h1M666 139h1M666 159h1M666 169h1M666 186h1M666 187h1M667 105h1M667 113h1M667 115h1M667 117h1M667 128h1M667 134h1M667 145h1M667 168h1M668 125h1M669 124h1M669 134h1M669 136h1M669 148h1M670 128h1M671 110h1M671 125h1M671 134h1M671 140h1M671 148h1M672 97h1M672 98h1M672 99h1M672 117h1M672 120h1M672 130h1M672 131h1M673 100h1M673 151h1M674 107h1M674 136h1M675 104h1M675 109h1M676 111h1M676 125h1M676 153h1M677 102h1M677 122h1M677 134h1M677 156h1M678 103h1M678 123h1M678 132h1M678 148h1M679 123h1M679 142h1M679 144h1M679 150h1M680 98h1M680 119h1M680 127h1M680 149h1M680 153h1M681 100h1M681 105h1M681 144h1M681 149h1M682 151h1M684 106h1M684 132h1M684 145h1M684 149h1M685 151h1M686 113h1M686 123h1M686 127h1M686 144h1M687 121h1M688 102h1M688 118h1M689 119h1M689 143h1M690 101h1M690 112h1M690 142h1M691 106h1M691 123h1M692 119h1M692 128h1M693 105h1M693 112h1M694 112h1M694 114h1M695 141h1M699 119h1M700 113h1M700 118h1M701 117h1M701 135h1M702 132h1M703 114h1M704 137h1M704 138h1M705 121h1M705 131h1M705 134h1M706 121h1M706 136h1M708 136h1M717 129h1M718 129h1" stroke="#ddd" stroke-width="1.0" fill="none" opacity="0.55"/>
<ellipse cx="765.2" cy="135.6" rx="19" ry="28" fill="#080808" opacity="0.8" filter="url(#b3)" transform="rotate(15 765.2 135.6)"/>
<path d="M705 147h1M708 152h1M711 100h1M712 90h1M713 96h1M713 125h1M713 126h1M713 179h1M716 127h1M717 136h1M717 143h1M719 71h1M721 108h1M721 156h1M722 97h1M722 116h1M723 96h1M723 105h1M723 120h1M723 133h1M723 143h1M724 123h1M725 145h1M726 163h1M727 91h1M727 101h1M728 89h1M728 145h1M728 164h1M728 170h1M729 86h1M729 107h1M729 146h1M729 159h1M730 84h1M730 92h1M730 111h1M730 132h1M730 148h1M731 88h1M731 104h1M731 125h1M731 141h1M731 146h1M731 147h1M731 171h1M732 120h1M732 125h1M732 137h1M733 92h1M733 102h1M733 116h1M733 134h1M733 138h1M733 140h1M733 147h1M733 157h1M733 178h1M734 95h1M734 126h1M734 127h1M734 141h1M734 147h1M734 151h1M734 186h1M735 95h1M735 127h1M735 136h1M735 154h1M735 165h1M735 178h1M736 108h1M736 111h1M736 119h1M736 131h1M736 135h1M736 140h1M736 144h1M736 153h1M737 117h1M737 132h1M737 135h1M737 138h1M737 140h1M738 101h1M738 107h1M738 117h1M738 121h1M738 139h1M738 140h1M738 152h1M738 153h1M738 171h1M739 104h1M739 111h1M739 118h1M739 121h1M739 133h1M739 135h1M739 137h1M739 138h1M739 147h1M739 161h1M739 162h1M739 172h1M739 196h1M740 122h1M740 134h1M740 137h1M740 143h1M740 145h1M740 146h1M741 101h1M741 105h1M741 119h1M741 124h1M741 129h1M741 133h1M741 150h1M741 151h1M741 153h1M741 161h1M741 176h1M742 103h1M742 108h1M742 109h1M742 112h1M742 115h1M742 128h1M742 132h1M742 137h1M742 140h1M742 152h1M742 155h1M742 169h1M742 181h1M743 89h1M743 109h1M743 119h1M743 122h1M743 125h1M743 132h1M743 133h1M743 134h1M743 137h1M743 138h1M743 154h1M744 93h1M744 128h1M744 136h1M744 141h1M744 143h1M744 144h1M744 163h1M744 178h1M745 101h1M745 110h1M745 112h1M745 115h1M745 116h1M745 140h1M745 143h1M745 145h1M745 155h1M745 167h1M745 168h1M746 96h1M746 123h1M746 128h1M746 133h1M746 135h1M746 140h1M746 143h1M746 151h1M746 156h1M746 157h1M747 115h1M747 121h1M747 122h1M747 123h1M747 126h1M747 127h1M747 130h1M747 134h1M747 136h1M747 149h1M747 151h1M747 152h1M747 163h1M747 172h1M747 177h1M747 192h1M748 92h1M748 115h1M748 126h1M748 129h1M748 135h1M748 139h1M748 140h1M748 144h1M748 156h1M748 157h1M748 162h1M748 165h1M748 180h1M748 182h1M749 93h1M749 97h1M749 109h1M749 115h1M749 116h1M749 120h1M749 121h1M749 122h1M749 126h1M749 127h1M749 134h1M749 141h1M749 144h1M749 147h1M749 148h1M749 153h1M749 157h1M749 164h1M749 189h1M750 83h1M750 95h1M750 98h1M750 101h1M750 103h1M750 104h1M750 123h1M750 130h1M750 132h1M750 136h1M750 139h1M750 153h1M750 160h1M750 164h1M750 189h1M751 85h1M751 92h1M751 101h1M751 102h1M751 106h1M751 108h1M751 121h1M751 127h1M751 129h1M751 131h1M751 134h1M751 138h1M751 139h1M751 140h1M751 143h1M751 145h1M751 147h1M751 149h1M751 172h1M752 75h1M752 86h1M752 97h1M752 108h1M752 109h1M752 115h1M752 117h1M752 122h1M752 127h1M752 130h1M752 132h1M752 137h1M752 138h1M752 141h1M752 145h1M752 150h1M752 156h1M752 168h1M752 186h1M752 187h1M753 77h1M753 103h1M753 109h1M753 113h1M753 114h1M753 116h1M753 118h1M753 122h1M753 129h1M753 131h1M753 134h1M753 136h1M753 140h1M753 141h1M753 144h1M753 146h1M753 149h1M753 151h1M753 175h1M753 181h1M754 80h1M754 97h1M754 111h1M754 114h1M754 115h1M754 120h1M754 121h1M754 127h1M754 129h1M754 137h1M754 139h1M754 147h1M754 151h1M754 157h1M754 159h1M754 160h1M754 172h1M754 215h1M755 86h1M755 91h1M755 94h1M755 95h1M755 97h1M755 100h1M755 101h1M755 104h1M755 106h1M755 111h1M755 119h1M755 126h1M755 128h1M755 129h1M755 146h1M755 152h1M755 157h1M755 171h1M755 174h1M755 183h1M755 184h1M756 96h1M756 106h1M756 112h1M756 116h1M756 120h1M756 122h1M756 127h1M756 128h1M756 129h1M756 134h1M756 135h1M756 136h1M756 140h1M756 142h1M756 143h1M756 148h1M756 149h1M756 151h1M756 155h1M756 156h1M756 159h1M756 161h1M756 167h1M756 179h1M757 80h1M757 103h1M757 106h1M757 107h1M757 110h1M757 111h1M757 120h1M757 124h1M757 132h1M757 134h1M757 135h1M757 139h1M757 143h1M757 150h1M757 159h1M757 169h1M757 173h1M757 197h1M758 84h1M758 94h1M758 100h1M758 109h1M758 113h1M758 115h1M758 118h1M758 119h1M758 123h1M758 125h1M758 127h1M758 130h1M758 134h1M758 137h1M758 142h1M758 144h1M758 160h1M758 161h1M758 163h1M758 165h1M758 203h1M759 102h1M759 112h1M759 118h1M759 119h1M759 121h1M759 122h1M759 125h1M759 134h1M759 142h1M759 151h1M759 157h1M759 159h1M759 177h1M759 219h1M760 90h1M760 91h1M760 96h1M760 101h1M760 106h1M760 115h1M760 124h1M760 128h1M760 130h1M760 134h1M760 137h1M760 142h1M760 143h1M760 147h1M760 152h1M760 160h1M760 162h1M760 167h1M760 173h1M760 176h1M760 181h1M761 68h1M761 82h1M761 110h1M761 113h1M761 114h1M761 120h1M761 121h1M761 123h1M761 125h1M761 130h1M761 132h1M761 135h1M761 136h1M761 143h1M761 145h1M761 146h1M761 160h1M761 161h1M761 162h1M761 163h1M761 179h1M761 181h1M761 182h1M761 203h1M762 110h1M762 121h1M762 127h1M762 128h1M762 131h1M762 133h1M762 142h1M762 147h1M762 149h1M762 151h1M762 153h1M762 156h1M762 161h1M762 163h1M762 168h1M762 169h1M762 171h1M762 173h1M762 181h1M762 186h1M763 102h1M763 110h1M763 111h1M763 116h1M763 118h1M763 125h1M763 129h1M763 131h1M763 132h1M763 134h1M763 135h1M763 137h1M763 140h1M763 142h1M763 144h1M763 149h1M763 154h1M763 158h1M763 159h1M763 160h1M763 162h1M763 163h1M763 164h1M763 168h1M763 174h1M763 181h1M763 191h1M764 99h1M764 105h1M764 109h1M764 111h1M764 112h1M764 116h1M764 120h1M764 121h1M764 122h1M764 128h1M764 129h1M764 131h1M764 132h1M764 136h1M764 139h1M764 140h1M764 144h1M764 146h1M764 150h1M764 154h1M764 155h1M764 158h1M764 159h1M764 164h1M764 172h1M764 174h1M764 181h1M765 98h1M765 101h1M765 102h1M765 103h1M765 108h1M765 111h1M765 112h1M765 113h1M765 115h1M765 117h1M765 118h1M765 119h1M765 121h1M765 124h1M765 125h1M765 126h1M765 128h1M765 129h1M765 132h1M765 134h1M765 135h1M765 139h1M765 140h1M765 141h1M765 143h1M765 145h1M765 147h1M765 151h1M765 156h1M765 158h1M765 162h1M765 165h1M765 166h1M765 169h1M765 177h1M765 178h1M765 187h1M766 78h1M766 94h1M766 97h1M766 98h1M766 101h1M766 109h1M766 112h1M766 117h1M766 118h1M766 127h1M766 130h1M766 136h1M766 137h1M766 140h1M766 142h1M766 146h1M766 147h1M766 151h1M766 153h1M766 156h1M766 161h1M766 162h1M766 163h1M766 168h1M766 175h1M767 100h1M767 102h1M767 106h1M767 107h1M767 117h1M767 120h1M767 125h1M767 128h1M767 129h1M767 130h1M767 132h1M767 133h1M767 135h1M767 136h1M767 137h1M767 140h1M767 141h1M767 145h1M767 147h1M767 148h1M767 152h1M767 153h1M767 156h1M767 164h1M767 180h1M767 184h1M768 77h1M768 79h1M768 90h1M768 106h1M768 115h1M768 119h1M768 120h1M768 122h1M768 126h1M768 128h1M768 131h1M768 135h1M768 136h1M768 138h1M768 141h1M768 142h1M768 144h1M768 154h1M768 155h1M768 159h1M768 163h1M768 169h1M768 177h1M769 85h1M769 93h1M769 95h1M769 96h1M769 104h1M769 115h1M769 118h1M769 120h1M769 130h1M769 133h1M769 134h1M769 135h1M769 139h1M769 144h1M769 146h1M769 148h1M769 164h1M769 167h1M769 179h1M770 98h1M770 111h1M770 117h1M770 118h1M770 121h1M770 123h1M770 124h1M770 125h1M770 126h1M770 127h1M770 134h1M770 135h1M770 144h1M770 145h1M770 149h1M770 150h1M770 157h1M770 163h1M770 164h1M770 171h1M770 175h1M770 190h1M771 71h1M771 78h1M771 90h1M771 100h1M771 110h1M771 113h1M771 118h1M771 119h1M771 121h1M771 123h1M771 132h1M771 134h1M771 135h1M771 136h1M771 138h1M771 141h1M771 142h1M771 146h1M771 147h1M771 148h1M771 149h1M771 152h1M771 155h1M771 157h1M771 159h1M771 161h1M771 164h1M771 165h1M771 168h1M771 182h1M771 185h1M772 75h1M772 90h1M772 103h1M772 107h1M772 114h1M772 118h1M772 120h1M772 121h1M772 127h1M772 129h1M772 135h1M772 137h1M772 138h1M772 141h1M772 142h1M772 144h1M772 147h1M772 148h1M772 149h1M772 151h1M772 156h1M772 158h1M772 159h1M772 167h1M772 168h1M772 171h1M772 173h1M772 174h1M773 79h1M773 90h1M773 100h1M773 104h1M773 113h1M773 115h1M773 117h1M773 119h1M773 120h1M773 122h1M773 124h1M773 127h1M773 135h1M773 136h1M773 137h1M773 138h1M773 152h1M773 159h1M773 161h1M773 163h1M773 167h1M773 171h1M773 180h1M774 109h1M774 110h1M774 113h1M774 117h1M774 120h1M774 126h1M774 129h1M774 130h1M774 131h1M774 133h1M774 138h1M774 148h1M774 149h1M774 160h1M774 161h1M774 163h1M774 172h1M775 90h1M775 112h1M775 113h1M775 114h1M775 116h1M775 118h1M775 122h1M775 123h1M775 124h1M775 126h1M775 129h1M775 130h1M775 133h1M775 134h1M775 137h1M775 146h1M775 154h1M775 162h1M775 163h1M775 172h1M775 183h1M775 187h1M775 197h1M776 104h1M776 105h1M776 118h1M776 119h1M776 125h1M776 126h1M776 127h1M776 130h1M776 132h1M776 134h1M776 143h1M776 144h1M776 148h1M776 151h1M776 158h1M776 164h1M776 167h1M776 170h1M777 74h1M777 94h1M777 97h1M777 102h1M777 115h1M777 117h1M777 120h1M777 123h1M777 124h1M777 125h1M777 126h1M777 132h1M777 133h1M777 134h1M777 138h1M777 139h1M777 143h1M777 144h1M777 154h1M777 155h1M777 158h1M777 159h1M777 160h1M777 164h1M777 166h1M778 99h1M778 114h1M778 116h1M778 120h1M778 125h1M778 132h1M778 134h1M778 141h1M778 143h1M778 144h1M778 145h1M778 146h1M778 152h1M778 153h1M778 155h1M778 159h1M778 161h1M778 164h1M778 165h1M778 190h1M778 204h1M779 81h1M779 88h1M779 99h1M779 104h1M779 106h1M779 109h1M779 114h1M779 120h1M779 122h1M779 123h1M779 131h1M779 143h1M779 144h1M779 145h1M779 146h1M779 154h1M779 155h1M779 156h1M779 162h1M780 91h1M780 93h1M780 106h1M780 110h1M780 111h1M780 115h1M780 116h1M780 119h1M780 120h1M780 122h1M780 125h1M780 126h1M780 127h1M780 133h1M780 140h1M780 141h1M780 145h1M780 146h1M780 155h1M780 159h1M780 160h1M780 163h1M780 168h1M781 55h1M781 85h1M781 106h1M781 109h1M781 110h1M781 128h1M781 129h1M781 132h1M781 133h1M781 141h1M781 144h1M781 145h1M781 153h1M781 158h1M781 164h1M781 171h1M781 174h1M781 188h1M782 78h1M782 103h1M782 109h1M782 117h1M782 118h1M782 119h1M782 121h1M782 130h1M782 152h1M782 155h1M782 162h1M783 54h1M783 67h1M783 94h1M783 116h1M783 120h1M783 121h1M783 125h1M783 129h1M783 134h1M783 135h1M783 143h1M783 147h1M783 167h1M783 172h1M784 81h1M784 106h1M784 108h1M784 121h1M784 122h1M784 124h1M784 126h1M784 127h1M784 132h1M784 133h1M784 138h1M784 158h1M784 162h1M784 180h1M785 103h1M785 105h1M785 110h1M785 118h1M785 126h1M785 130h1M785 141h1M785 143h1M785 144h1M785 148h1M785 154h1M785 174h1M786 88h1M786 104h1M786 116h1M786 122h1M786 123h1M786 124h1M786 135h1M786 139h1M786 142h1M786 144h1M786 145h1M786 148h1M786 152h1M786 155h1M786 190h1M787 75h1M787 105h1M787 109h1M787 117h1M787 121h1M787 126h1M787 139h1M787 143h1M787 153h1M787 161h1M788 64h1M788 104h1M788 110h1M788 112h1M788 124h1M788 131h1M788 136h1M788 137h1M788 144h1M788 146h1M788 147h1M788 164h1M789 90h1M789 93h1M789 112h1M789 120h1M789 124h1M789 130h1M789 138h1M789 146h1M789 161h1M789 165h1M789 166h1M789 168h1M789 171h1M790 105h1M790 113h1M790 129h1M790 134h1M790 135h1M790 139h1M790 140h1M790 143h1M790 146h1M790 152h1M790 158h1M790 160h1M790 168h1M790 176h1M791 116h1M791 117h1M791 122h1M791 126h1M791 129h1M791 133h1M791 136h1M791 140h1M791 147h1M792 103h1M792 105h1M792 109h1M792 110h1M792 124h1M792 128h1M792 135h1M792 136h1M792 139h1M792 142h1M792 158h1M793 133h1M793 155h1M793 160h1M793 192h1M794 101h1M794 119h1M794 128h1M794 155h1M794 166h1M795 58h1M795 99h1M795 119h1M795 130h1M795 146h1M795 154h1M795 157h1M795 179h1M796 79h1M796 83h1M796 110h1M796 120h1M796 121h1M796 128h1M796 130h1M796 138h1M796 150h1M796 169h1M796 170h1M796 176h1M797 110h1M797 120h1M797 121h1M797 129h1M797 133h1M797 152h1M797 157h1M797 168h1M798 94h1M798 108h1M798 125h1M798 154h1M798 161h1M798 166h1M798 170h1M798 172h1M799 107h1M799 155h1M799 157h1M800 121h1M800 126h1M800 144h1M800 152h1M801 109h1M801 121h1M801 136h1M801 137h1M801 141h1M801 143h1M801 154h1M801 165h1M802 153h1M802 165h1M803 105h1M803 122h1M803 142h1M803 143h1M803 155h1M803 167h1M805 131h1M806 156h1M807 140h1M808 88h1M808 109h1M809 120h1M809 154h1M809 195h1M810 116h1M811 142h1M813 117h1M815 144h1M816 119h1M816 121h1M817 145h1M819 110h1M820 158h1M821 132h1M823 116h1M832 147h1" stroke="#0a0a0a" stroke-width="1.4" fill="none"/>
<path d="M732 122h1M736 128h1M738 141h1M740 126h1M742 122h1M742 140h1M744 142h1M745 129h1M747 116h1M748 144h1M749 144h1M750 136h1M750 163h1M751 133h1M751 147h1M751 155h1M752 138h1M752 167h1M753 123h1M753 135h1M753 137h1M753 140h1M753 163h1M753 172h1M754 144h1M754 150h1M755 123h1M755 132h1M755 135h1M755 145h1M755 146h1M755 156h1M756 139h1M756 154h1M757 133h1M757 140h1M758 100h1M758 109h1M758 127h1M758 136h1M758 150h1M759 106h1M759 121h1M759 122h1M759 129h1M759 136h1M759 145h1M759 149h1M760 96h1M760 120h1M760 141h1M760 151h1M760 156h1M761 101h1M761 121h1M761 131h1M761 133h1M761 136h1M761 144h1M761 147h1M761 150h1M761 174h1M762 100h1M762 117h1M762 118h1M762 120h1M762 122h1M762 128h1M762 129h1M762 135h1M762 139h1M762 141h1M762 142h1M762 153h1M762 179h1M763 102h1M763 112h1M763 127h1M763 128h1M763 134h1M763 157h1M763 159h1M764 117h1M764 123h1M764 129h1M764 133h1M764 145h1M764 150h1M764 169h1M765 126h1M765 134h1M766 125h1M766 128h1M766 134h1M766 139h1M766 143h1M766 155h1M766 160h1M766 166h1M767 110h1M767 113h1M767 122h1M767 124h1M767 125h1M767 127h1M767 148h1M767 149h1M767 153h1M768 116h1M768 123h1M768 124h1M768 130h1M768 132h1M768 133h1M768 134h1M768 136h1M768 150h1M769 125h1M769 130h1M769 131h1M769 135h1M769 148h1M769 158h1M770 105h1M770 122h1M770 135h1M770 142h1M770 148h1M770 150h1M770 153h1M770 160h1M771 117h1M771 121h1M771 122h1M771 127h1M771 128h1M771 137h1M771 147h1M771 151h1M771 161h1M772 115h1M772 129h1M772 137h1M772 141h1M772 146h1M773 148h1M773 170h1M774 102h1M774 116h1M774 120h1M774 138h1M774 141h1M775 127h1M775 147h1M775 153h1M776 113h1M776 120h1M776 125h1M776 127h1M776 133h1M776 136h1M777 130h1M777 173h1M778 117h1M778 133h1M778 148h1M778 149h1M779 124h1M779 127h1M779 129h1M779 138h1M779 150h1M779 154h1M780 108h1M780 130h1M780 131h1M780 149h1M781 124h1M781 127h1M781 136h1M781 141h1M781 152h1M783 147h1M784 118h1M784 129h1M785 119h1M785 137h1M786 112h1M786 123h1M786 133h1M786 146h1M788 128h1M790 117h1M791 107h1M797 122h1" stroke="#ddd" stroke-width="1.0" fill="none" opacity="0.55"/>
<polygon points="665.1,164.9 717.7,126.9 753.9,168.6 759.3,201.2 730.4,213.1 667.0,213.1" fill="#e6e3c2"/>
<path d="M666 170h1M666 175h1M666 177h1M666 182h1M666 187h1M666 189h1M666 196h1M667 164h1M667 165h1M667 177h1M667 186h1M667 187h1M667 188h1M667 196h1M667 200h1M667 204h1M667 207h1M667 209h1M667 210h1M668 164h1M668 165h1M668 170h1M668 174h1M668 175h1M668 176h1M668 178h1M668 179h1M668 181h1M668 190h1M668 196h1M668 205h1M668 210h1M668 211h1M669 164h1M669 168h1M669 177h1M669 183h1M669 196h1M669 198h1M669 201h1M669 203h1M669 207h1M670 167h1M670 184h1M670 187h1M670 190h1M670 200h1M671 163h1M671 168h1M671 170h1M671 176h1M671 178h1M671 183h1M671 190h1M671 191h1M671 194h1M671 195h1M671 197h1M671 198h1M671 203h1M671 206h1M671 209h1M672 166h1M672 167h1M672 169h1M672 175h1M672 178h1M672 180h1M672 190h1M672 191h1M672 200h1M672 202h1M672 207h1M672 208h1M672 210h1M673 160h1M673 161h1M673 162h1M673 163h1M673 177h1M673 178h1M673 186h1M673 190h1M673 193h1M673 194h1M673 195h1M673 198h1M673 201h1M673 204h1M673 206h1M673 208h1M674 161h1M674 163h1M674 164h1M674 165h1M674 168h1M674 169h1M674 174h1M674 175h1M674 179h1M674 185h1M674 190h1M674 193h1M674 194h1M674 196h1M674 201h1M674 203h1M674 206h1M674 207h1M674 212h1M675 163h1M675 166h1M675 174h1M675 177h1M675 182h1M675 185h1M675 187h1M675 191h1M675 192h1M675 201h1M675 203h1M675 206h1M675 207h1M675 208h1M675 210h1M676 163h1M676 165h1M676 173h1M676 179h1M676 181h1M676 183h1M676 190h1M676 195h1M676 204h1M676 205h1M676 207h1M676 212h1M677 159h1M677 163h1M677 168h1M677 170h1M677 173h1M677 175h1M677 176h1M677 179h1M677 186h1M677 190h1M677 191h1M677 200h1M677 202h1M677 204h1M677 206h1M677 207h1M677 210h1M678 157h1M678 158h1M678 161h1M678 164h1M678 172h1M678 175h1M678 177h1M678 178h1M678 179h1M678 180h1M678 181h1M678 185h1M678 192h1M678 196h1M678 197h1M678 201h1M678 206h1M678 209h1M678 211h1M679 157h1M679 161h1M679 172h1M679 184h1M679 193h1M679 198h1M679 202h1M679 206h1M679 212h1M680 155h1M680 157h1M680 160h1M680 163h1M680 165h1M680 168h1M680 171h1M680 173h1M680 180h1M680 181h1M680 188h1M680 189h1M680 190h1M680 191h1M680 192h1M680 201h1M680 209h1M680 211h1M681 156h1M681 161h1M681 162h1M681 167h1M681 169h1M681 170h1M681 173h1M681 174h1M681 178h1M681 180h1M681 181h1M681 186h1M681 187h1M681 191h1M681 195h1M681 208h1M682 158h1M682 159h1M682 160h1M682 163h1M682 164h1M682 170h1M682 173h1M682 174h1M682 175h1M682 177h1M682 180h1M682 185h1M682 187h1M682 191h1M682 195h1M682 196h1M682 198h1M682 204h1M682 205h1M682 210h1M682 213h1M683 154h1M683 156h1M683 157h1M683 160h1M683 161h1M683 162h1M683 168h1M683 172h1M683 174h1M683 178h1M683 180h1M683 187h1M683 196h1M683 204h1M683 212h1M684 157h1M684 162h1M684 163h1M684 166h1M684 170h1M684 172h1M684 178h1M684 181h1M684 186h1M684 187h1M684 193h1M684 200h1M684 201h1M684 204h1M684 205h1M684 208h1M685 152h1M685 156h1M685 163h1M685 165h1M685 168h1M685 173h1M685 180h1M685 181h1M685 182h1M685 188h1M685 191h1M685 193h1M685 198h1M685 201h1M685 202h1M685 206h1M685 209h1M685 210h1M685 211h1M685 213h1M686 155h1M686 166h1M686 169h1M686 171h1M686 174h1M686 176h1M686 177h1M686 186h1M686 192h1M686 195h1M686 201h1M686 203h1M686 206h1M686 213h1M687 164h1M687 175h1M687 176h1M687 180h1M687 183h1M687 185h1M687 189h1M687 191h1M687 192h1M687 193h1M687 194h1M687 196h1M687 204h1M687 205h1M687 208h1M687 209h1M687 210h1M688 152h1M688 155h1M688 163h1M688 165h1M688 168h1M688 171h1M688 173h1M688 179h1M688 182h1M688 183h1M688 185h1M688 186h1M688 188h1M688 189h1M688 191h1M688 197h1M688 205h1M688 212h1M689 148h1M689 150h1M689 151h1M689 153h1M689 154h1M689 155h1M689 156h1M689 159h1M689 162h1M689 163h1M689 165h1M689 166h1M689 168h1M689 169h1M689 170h1M689 175h1M689 176h1M689 177h1M689 180h1M689 183h1M689 185h1M689 189h1M689 192h1M689 193h1M689 200h1M689 206h1M689 208h1M689 211h1M689 212h1M690 149h1M690 151h1M690 162h1M690 165h1M690 166h1M690 170h1M690 177h1M690 183h1M690 186h1M690 191h1M690 194h1M690 200h1M690 201h1M690 203h1M690 204h1M690 205h1M690 206h1M690 208h1M690 209h1M690 212h1M691 157h1M691 163h1M691 166h1M691 168h1M691 170h1M691 173h1M691 174h1M691 183h1M691 185h1M691 187h1M691 188h1M691 190h1M691 191h1M691 192h1M691 195h1M691 198h1M691 200h1M691 204h1M691 206h1M691 210h1M691 213h1M692 150h1M692 156h1M692 158h1M692 163h1M692 165h1M692 166h1M692 167h1M692 169h1M692 175h1M692 176h1M692 184h1M692 187h1M692 190h1M692 193h1M692 197h1M692 198h1M692 200h1M692 202h1M692 207h1M692 210h1M692 213h1M693 150h1M693 153h1M693 156h1M693 157h1M693 166h1M693 176h1M693 177h1M693 180h1M693 185h1M693 188h1M693 196h1M693 197h1M693 200h1M693 211h1M693 213h1M694 151h1M694 163h1M694 164h1M694 165h1M694 170h1M694 173h1M694 176h1M694 179h1M694 186h1M694 190h1M694 194h1M694 199h1M694 211h1M695 148h1M695 151h1M695 160h1M695 162h1M695 165h1M695 174h1M695 176h1M695 180h1M695 185h1M695 189h1M695 196h1M695 199h1M695 207h1M696 148h1M696 149h1M696 152h1M696 153h1M696 155h1M696 157h1M696 158h1M696 159h1M696 162h1M696 164h1M696 165h1M696 170h1M696 176h1M696 179h1M696 181h1M696 182h1M696 187h1M696 188h1M696 192h1M696 198h1M696 199h1M696 201h1M696 206h1M696 210h1M696 212h1M697 143h1M697 146h1M697 147h1M697 153h1M697 156h1M697 162h1M697 164h1M697 169h1M697 173h1M697 175h1M697 177h1M697 178h1M697 180h1M697 186h1M697 188h1M697 192h1M697 198h1M697 199h1M697 201h1M697 202h1M697 205h1M697 209h1M698 143h1M698 145h1M698 151h1M698 154h1M698 155h1M698 156h1M698 166h1M698 177h1M698 182h1M698 187h1M698 188h1M698 196h1M698 201h1M698 206h1M698 207h1M698 212h1M699 141h1M699 143h1M699 144h1M699 151h1M699 157h1M699 171h1M699 174h1M699 182h1M699 183h1M699 184h1M699 186h1M699 189h1M699 191h1M699 194h1M699 200h1M699 204h1M699 207h1M699 208h1M700 149h1M700 151h1M700 152h1M700 156h1M700 159h1M700 160h1M700 174h1M700 188h1M700 192h1M700 193h1M700 194h1M700 195h1M700 196h1M700 200h1M700 208h1M700 210h1M701 140h1M701 142h1M701 148h1M701 150h1M701 154h1M701 164h1M701 168h1M701 173h1M701 179h1M701 182h1M701 185h1M701 186h1M701 193h1M701 194h1M701 195h1M701 197h1M701 208h1M701 209h1M701 211h1M701 212h1M702 143h1M702 149h1M702 153h1M702 159h1M702 165h1M702 167h1M702 176h1M702 181h1M702 182h1M702 186h1M702 188h1M702 191h1M702 206h1M703 138h1M703 141h1M703 144h1M703 145h1M703 146h1M703 147h1M703 148h1M703 152h1M703 154h1M703 155h1M703 164h1M703 167h1M703 170h1M703 173h1M703 174h1M703 182h1M703 183h1M703 185h1M703 187h1M703 198h1M703 202h1M703 205h1M703 208h1M703 209h1M703 210h1M703 212h1M704 143h1M704 144h1M704 148h1M704 150h1M704 151h1M704 152h1M704 156h1M704 159h1M704 166h1M704 167h1M704 174h1M704 176h1M704 179h1M704 184h1M704 192h1M704 194h1M704 195h1M704 201h1M704 203h1M704 206h1M704 207h1M704 210h1M704 213h1M705 139h1M705 140h1M705 144h1M705 146h1M705 147h1M705 149h1M705 154h1M705 161h1M705 163h1M705 168h1M705 174h1M705 177h1M705 179h1M705 185h1M705 187h1M705 189h1M705 194h1M705 195h1M705 200h1M705 205h1M705 206h1M705 207h1M705 208h1M705 210h1M706 138h1M706 139h1M706 143h1M706 153h1M706 161h1M706 162h1M706 172h1M706 174h1M706 178h1M706 179h1M706 182h1M706 183h1M706 188h1M706 198h1M706 205h1M707 138h1M707 143h1M707 148h1M707 151h1M707 152h1M707 153h1M707 156h1M707 161h1M707 164h1M707 165h1M707 168h1M707 172h1M707 181h1M707 182h1M707 183h1M707 186h1M707 187h1M707 189h1M707 199h1M707 202h1M707 206h1M707 207h1M708 146h1M708 153h1M708 156h1M708 158h1M708 159h1M708 168h1M708 171h1M708 173h1M708 176h1M708 177h1M708 178h1M708 182h1M708 189h1M708 190h1M708 205h1M709 138h1M709 139h1M709 143h1M709 144h1M709 146h1M709 149h1M709 150h1M709 175h1M709 180h1M709 188h1M709 190h1M709 198h1M709 202h1M709 203h1M709 206h1M710 135h1M710 137h1M710 141h1M710 147h1M710 150h1M710 151h1M710 153h1M710 154h1M710 157h1M710 163h1M710 164h1M710 168h1M710 170h1M710 174h1M710 177h1M710 186h1M710 192h1M710 193h1M710 195h1M710 198h1M710 200h1M710 203h1M710 205h1M710 207h1M710 209h1M710 212h1M710 213h1M711 133h1M711 135h1M711 136h1M711 137h1M711 139h1M711 141h1M711 146h1M711 147h1M711 148h1M711 150h1M711 157h1M711 162h1M711 163h1M711 165h1M711 166h1M711 167h1M711 171h1M711 180h1M711 182h1M711 185h1M711 187h1M711 189h1M711 197h1M711 198h1M711 199h1M711 203h1M711 205h1M711 206h1M711 207h1M711 208h1M711 210h1M712 139h1M712 146h1M712 151h1M712 152h1M712 155h1M712 160h1M712 166h1M712 168h1M712 170h1M712 173h1M712 175h1M712 183h1M712 186h1M712 193h1M712 195h1M712 196h1M712 197h1M712 201h1M712 209h1M712 212h1M713 134h1M713 136h1M713 145h1M713 148h1M713 153h1M713 154h1M713 156h1M713 161h1M713 163h1M713 165h1M713 168h1M713 170h1M713 177h1M713 181h1M713 183h1M713 187h1M713 191h1M713 192h1M713 199h1M713 203h1M713 205h1M713 212h1M714 131h1M714 132h1M714 133h1M714 145h1M714 152h1M714 153h1M714 157h1M714 172h1M714 174h1M714 175h1M714 179h1M714 180h1M714 182h1M714 183h1M714 186h1M714 190h1M714 195h1M714 203h1M714 206h1M714 207h1M715 129h1M715 130h1M715 131h1M715 133h1M715 135h1M715 137h1M715 140h1M715 141h1M715 146h1M715 149h1M715 152h1M715 153h1M715 154h1M715 155h1M715 157h1M715 158h1M715 160h1M715 164h1M715 165h1M715 169h1M715 173h1M715 182h1M715 183h1M715 184h1M715 186h1M715 188h1M715 191h1M715 192h1M715 195h1M715 207h1M715 211h1M716 131h1M716 134h1M716 136h1M716 138h1M716 140h1M716 142h1M716 144h1M716 147h1M716 149h1M716 157h1M716 160h1M716 167h1M716 169h1M716 172h1M716 175h1M716 178h1M716 180h1M716 182h1M716 186h1M716 197h1M716 198h1M716 199h1M716 202h1M716 203h1M716 206h1M716 207h1M716 211h1M717 128h1M717 129h1M717 130h1M717 132h1M717 138h1M717 141h1M717 146h1M717 147h1M717 148h1M717 150h1M717 153h1M717 157h1M717 161h1M717 169h1M717 170h1M717 172h1M717 174h1M717 176h1M717 177h1M717 185h1M717 198h1M717 202h1M717 207h1M718 130h1M718 132h1M718 134h1M718 137h1M718 142h1M718 143h1M718 147h1M718 149h1M718 154h1M718 161h1M718 165h1M718 166h1M718 167h1M718 169h1M718 173h1M718 176h1M718 181h1M718 190h1M718 192h1M718 193h1M718 198h1M718 201h1M718 208h1M719 133h1M719 146h1M719 148h1M719 153h1M719 154h1M719 155h1M719 158h1M719 161h1M719 162h1M719 166h1M719 173h1M719 192h1M719 193h1M719 195h1M719 202h1M719 207h1M719 208h1M719 210h1M719 211h1M720 129h1M720 131h1M720 133h1M720 134h1M720 136h1M720 139h1M720 141h1M720 146h1M720 151h1M720 165h1M720 171h1M720 175h1M720 183h1M720 188h1M720 190h1M720 192h1M720 199h1M720 204h1M720 205h1M720 210h1M721 132h1M721 133h1M721 134h1M721 135h1M721 149h1M721 151h1M721 155h1M721 158h1M721 162h1M721 168h1M721 169h1M721 174h1M721 176h1M721 178h1M721 183h1M721 184h1M721 185h1M721 189h1M721 191h1M721 192h1M721 193h1M721 194h1M721 196h1M721 197h1M721 200h1M721 201h1M721 204h1M721 208h1M721 212h1M722 133h1M722 141h1M722 143h1M722 147h1M722 149h1M722 151h1M722 152h1M722 153h1M722 158h1M722 161h1M722 162h1M722 164h1M722 165h1M722 166h1M722 167h1M722 175h1M722 181h1M722 184h1M722 193h1M722 194h1M722 195h1M722 209h1M722 210h1M723 134h1M723 138h1M723 139h1M723 141h1M723 144h1M723 157h1M723 160h1M723 162h1M723 165h1M723 170h1M723 171h1M723 174h1M723 175h1M723 181h1M723 183h1M723 184h1M723 188h1M723 191h1M723 194h1M723 199h1M723 204h1M723 207h1M723 208h1M723 211h1M723 212h1M724 137h1M724 142h1M724 144h1M724 145h1M724 148h1M724 150h1M724 152h1M724 165h1M724 171h1M724 172h1M724 176h1M724 180h1M724 185h1M724 191h1M724 192h1M724 195h1M724 199h1M724 200h1M724 202h1M724 203h1M724 207h1M724 208h1M724 209h1M724 210h1M725 137h1M725 143h1M725 145h1M725 148h1M725 151h1M725 152h1M725 156h1M725 157h1M725 158h1M725 159h1M725 160h1M725 162h1M725 165h1M725 168h1M725 176h1M725 177h1M725 192h1M725 194h1M725 197h1M725 199h1M725 203h1M725 210h1M725 211h1M726 140h1M726 144h1M726 146h1M726 153h1M726 163h1M726 165h1M726 167h1M726 177h1M726 180h1M726 185h1M726 187h1M726 193h1M726 196h1M726 199h1M726 203h1M726 205h1M726 207h1M726 212h1M727 139h1M727 140h1M727 143h1M727 145h1M727 156h1M727 161h1M727 163h1M727 176h1M727 180h1M727 186h1M727 187h1M727 192h1M727 197h1M727 200h1M727 202h1M727 203h1M727 207h1M727 212h1M728 140h1M728 143h1M728 149h1M728 151h1M728 155h1M728 160h1M728 166h1M728 167h1M728 175h1M728 180h1M728 182h1M728 195h1M728 199h1M728 206h1M728 208h1M728 211h1M728 213h1M729 143h1M729 156h1M729 157h1M729 160h1M729 162h1M729 164h1M729 167h1M729 170h1M729 173h1M729 176h1M729 177h1M729 184h1M729 185h1M729 187h1M729 192h1M729 193h1M729 194h1M729 197h1M729 200h1M729 202h1M729 206h1M729 207h1M729 211h1M730 141h1M730 145h1M730 147h1M730 148h1M730 151h1M730 152h1M730 153h1M730 154h1M730 158h1M730 160h1M730 165h1M730 166h1M730 167h1M730 175h1M730 182h1M730 185h1M730 187h1M730 189h1M730 191h1M730 193h1M730 195h1M730 206h1M731 148h1M731 150h1M731 151h1M731 152h1M731 154h1M731 160h1M731 165h1M731 167h1M731 171h1M731 177h1M731 185h1M731 186h1M731 187h1M731 192h1M731 197h1M731 199h1M731 203h1M731 205h1M731 206h1M731 207h1M732 145h1M732 159h1M732 169h1M732 170h1M732 173h1M732 176h1M732 177h1M732 178h1M732 179h1M732 180h1M732 182h1M732 183h1M732 186h1M732 191h1M732 202h1M732 208h1M733 145h1M733 152h1M733 153h1M733 154h1M733 157h1M733 158h1M733 163h1M733 164h1M733 167h1M733 181h1M733 182h1M733 190h1M733 199h1M733 205h1M733 206h1M734 147h1M734 148h1M734 150h1M734 152h1M734 153h1M734 154h1M734 170h1M734 176h1M734 177h1M734 179h1M734 180h1M734 181h1M734 188h1M734 191h1M734 192h1M734 195h1M734 199h1M734 208h1M735 150h1M735 153h1M735 158h1M735 162h1M735 164h1M735 170h1M735 173h1M735 174h1M735 176h1M735 180h1M735 192h1M735 193h1M735 201h1M735 203h1M735 206h1M735 210h1M736 149h1M736 151h1M736 155h1M736 158h1M736 160h1M736 161h1M736 162h1M736 163h1M736 164h1M736 168h1M736 169h1M736 174h1M736 175h1M736 178h1M736 179h1M736 181h1M736 182h1M736 193h1M736 196h1M736 199h1M736 206h1M736 207h1M736 208h1M736 209h1M737 152h1M737 158h1M737 160h1M737 161h1M737 162h1M737 163h1M737 164h1M737 169h1M737 170h1M737 171h1M737 175h1M737 179h1M737 183h1M737 187h1M737 189h1M737 192h1M737 194h1M737 204h1M738 152h1M738 158h1M738 159h1M738 160h1M738 164h1M738 166h1M738 168h1M738 170h1M738 175h1M738 177h1M738 178h1M738 179h1M738 189h1M738 190h1M738 199h1M738 200h1M738 202h1M738 209h1M739 156h1M739 159h1M739 161h1M739 169h1M739 171h1M739 177h1M739 179h1M739 182h1M739 185h1M739 193h1M739 198h1M739 199h1M739 208h1M739 210h1M740 155h1M740 157h1M740 163h1M740 164h1M740 176h1M740 182h1M740 183h1M740 189h1M740 190h1M740 191h1M740 195h1M740 197h1M740 199h1M740 206h1M741 158h1M741 165h1M741 176h1M741 177h1M741 178h1M741 179h1M741 182h1M741 193h1M741 199h1M741 200h1M742 155h1M742 158h1M742 173h1M742 179h1M742 180h1M742 184h1M742 187h1M742 192h1M742 194h1M742 197h1M742 200h1M742 201h1M742 205h1M742 207h1M743 160h1M743 164h1M743 169h1M743 171h1M743 172h1M743 178h1M743 179h1M743 184h1M743 186h1M743 207h1M743 208h1M744 161h1M744 171h1M744 175h1M744 177h1M744 180h1M744 181h1M744 182h1M744 183h1M744 188h1M744 192h1M744 194h1M744 195h1M744 198h1M744 204h1M745 164h1M745 166h1M745 169h1M745 171h1M745 175h1M745 180h1M745 181h1M745 184h1M745 186h1M745 190h1M745 191h1M745 197h1M745 198h1M745 200h1M745 201h1M745 204h1M746 163h1M746 164h1M746 169h1M746 179h1M746 183h1M746 188h1M746 191h1M746 203h1M747 163h1M747 165h1M747 166h1M747 167h1M747 168h1M747 172h1M747 173h1M747 176h1M747 177h1M747 178h1M747 179h1M747 184h1M747 188h1M747 189h1M747 193h1M747 195h1M747 203h1M747 204h1M748 164h1M748 166h1M748 172h1M748 178h1M748 179h1M748 180h1M748 181h1M748 183h1M748 185h1M748 187h1M748 189h1M748 190h1M748 192h1M748 194h1M748 196h1M748 197h1M748 200h1M748 204h1M749 164h1M749 167h1M749 169h1M749 170h1M749 176h1M749 181h1M749 182h1M749 185h1M749 188h1M749 202h1M750 166h1M750 171h1M750 185h1M750 187h1M750 195h1M750 202h1M750 203h1M750 205h1M751 168h1M751 169h1M751 173h1M751 184h1M751 185h1M751 186h1M751 188h1M751 199h1M751 201h1M751 202h1M751 203h1M752 167h1M752 172h1M752 173h1M752 174h1M752 175h1M752 178h1M752 186h1M752 190h1M752 191h1M752 195h1M752 201h1M752 203h1M752 204h1M753 168h1M753 169h1M753 177h1M753 182h1M753 186h1M753 188h1M753 189h1M753 193h1M753 199h1M754 170h1M754 171h1M754 173h1M754 181h1M754 182h1M754 183h1M754 185h1M754 186h1M754 192h1M754 200h1M754 203h1M755 176h1M755 179h1M755 180h1M755 184h1M755 185h1M755 188h1M755 199h1M755 200h1M755 201h1M756 186h1M756 189h1M756 190h1M756 191h1M757 188h1M757 194h1M757 195h1M757 196h1M757 197h1M757 200h1M758 195h1M758 196h1M758 200h1M759 201h1" stroke="#7e7b2e" stroke-width="1.2" fill="none"/>
<ellipse cx="714.8" cy="184.9" rx="21" ry="8.5" fill="#7d7a2c" transform="rotate(-33 714.8 184.9)"/>
<polygon points="665.1,164.9 717.7,126.9 753.9,168.6 759.3,201.2 730.4,213.1 667.0,213.1" fill="none" stroke="#444" stroke-width="0.9"/>
</g>
<rect x="636.2" y="48.3" width="185.5" height="167.4" fill="none" stroke="#222" stroke-width="1.8"/>
<line x1="636.2" y1="48.8" x2="822.6" y2="48.8" stroke="#111" stroke-width="3"/>
<path d="M639.7 215.7v3M646.9 215.7v3M654.0 215.7v3M661.1 215.7v3M668.3 215.7v5.5M675.4 215.7v3M682.5 215.7v3M689.7 215.7v3M696.8 215.7v3M703.9 215.7v5.5M711.1 215.7v3M718.2 215.7v3M725.3 215.7v3M732.5 215.7v3M739.6 215.7v5.5M746.8 215.7v3M753.9 215.7v3M761.0 215.7v3M768.2 215.7v3M775.3 215.7v5.5M782.4 215.7v3M789.6 215.7v3M796.7 215.7v3M803.8 215.7v3M811.0 215.7v5.5M818.1 215.7v3" stroke="#333" stroke-width="1" fill="none"/>
<path d="M636.2 212.4h-3M636.2 206.0h-3M636.2 199.6h-3M636.2 193.1h-3M636.2 186.7h-5.5M636.2 180.2h-3M636.2 173.8h-3M636.2 167.4h-3M636.2 160.9h-3M636.2 154.5h-5.5M636.2 148.1h-3M636.2 141.6h-3M636.2 135.2h-3M636.2 128.7h-3M636.2 122.3h-5.5M636.2 115.9h-3M636.2 109.4h-3M636.2 103.0h-3M636.2 96.5h-3M636.2 90.1h-5.5M636.2 83.7h-3M636.2 77.2h-3M636.2 70.8h-3M636.2 64.4h-3M636.2 57.9h-5.5M636.2 51.5h-3" stroke="#333" stroke-width="1" fill="none"/>
<text x="644.5" y="44.6" font-size="13.5" fill="#474747">Specimen_001-DS017</text>
<text x="669.5" y="236.7" font-size="9.5" text-anchor="middle" fill="#474747">50</text>
<text x="705.7" y="236.7" font-size="9.5" text-anchor="middle" fill="#474747">100</text>
<text x="741.2" y="236.7" font-size="9.5" text-anchor="middle" fill="#474747">150</text>
<text x="775.7" y="236.7" font-size="9.5" text-anchor="middle" fill="#474747">200</text>
<text x="811.9" y="236.7" font-size="9.5" text-anchor="middle" fill="#474747">250</text>
<text x="728.6" y="247.5" font-size="12.5" text-anchor="middle" fill="#474747">FSC-A</text>
<text x="801.7" y="251.9" font-size="8.5" text-anchor="middle" fill="#474747">(x 1,000)</text>
<text x="614.4" y="128.7" font-size="12.5" text-anchor="middle" fill="#474747" transform="rotate(-90 614.4 128.7)">SSC-A</text>
<text x="614.4" y="63.5" font-size="8.5" text-anchor="middle" fill="#474747" transform="rotate(-90 614.4 63.5)">(x 1,000)</text>
<text x="627.8" y="183.8" font-size="9.5" text-anchor="middle" fill="#474747" transform="rotate(-90 627.8 183.8)">50</text>
<text x="627.8" y="151.2" font-size="9.5" text-anchor="middle" fill="#474747" transform="rotate(-90 627.8 151.2)">100</text>
<text x="627.8" y="118.6" font-size="9.5" text-anchor="middle" fill="#474747" transform="rotate(-90 627.8 118.6)">150</text>
<text x="627.8" y="85.9" font-size="9.5" text-anchor="middle" fill="#474747" transform="rotate(-90 627.8 85.9)">200</text>
<text x="627.8" y="53.3" font-size="9.5" text-anchor="middle" fill="#474747" transform="rotate(-90 627.8 53.3)">250</text>
<text x="767.7" y="196.8" font-size="10" fill="#333">P1</text>
<rect x="878.9" y="49.0" width="167.8" height="164.9" fill="none" stroke="#444" stroke-width="1.1"/>
<path d="M904 140h1M904 146h1M904 147h1M904 150h1M904 152h1M904 153h1M905 135h1M905 138h1M905 144h1M905 150h1M906 124h1M906 140h1M906 148h1M906 150h1M906 152h1M907 132h1M907 133h1M907 134h1M907 148h1M907 149h1M907 153h1M908 142h1M908 150h1M908 153h1M909 135h1M909 145h1M909 147h1M910 124h1M910 140h1M910 150h1M911 139h1M911 140h1M911 141h1M911 151h1M912 142h1M912 144h1M912 149h1M912 150h1M912 153h1M913 138h1M913 145h1M913 146h1M913 148h1M913 150h1M913 153h1M914 153h1M915 135h1M915 143h1M915 145h1M915 146h1M915 147h1M915 150h1M915 153h1M916 135h1M916 139h1M916 140h1M916 143h1M916 149h1M916 151h1M917 133h1M917 135h1M917 136h1M917 153h1M918 132h1M918 141h1M918 146h1M918 148h1M918 150h1M918 151h1M919 143h1M919 149h1M919 151h1M919 153h1M920 140h1M920 145h1M920 147h1M921 141h1M921 145h1M921 149h1M921 150h1M921 151h1M922 129h1M922 142h1M922 144h1M922 146h1M922 149h1M923 143h1M923 147h1M923 148h1M923 149h1M923 150h1M923 151h1M924 138h1M924 146h1M924 148h1M924 151h1M924 152h1M924 153h1M925 138h1M925 148h1M925 149h1M925 151h1M926 140h1M926 141h1M926 142h1M926 145h1M926 150h1M926 152h1M927 137h1M927 141h1M927 142h1M927 146h1M927 153h1M928 131h1M928 139h1M928 140h1M928 142h1M928 145h1M928 150h1M929 132h1M929 141h1M929 149h1M930 123h1M930 130h1M930 136h1M930 137h1M930 146h1M930 148h1M930 150h1M930 153h1M931 132h1M931 137h1M931 140h1M931 145h1M931 147h1M931 152h1M932 126h1M932 129h1M932 133h1M932 136h1M932 137h1M932 144h1M932 147h1M932 149h1M932 152h1M933 134h1M933 140h1M933 141h1M933 143h1M933 146h1M933 148h1M933 149h1M934 140h1M934 141h1M934 145h1M934 146h1M935 139h1M935 140h1M935 147h1M935 148h1M935 151h1M936 130h1M936 134h1M936 138h1M936 141h1M936 143h1M936 152h1M937 129h1M937 136h1M937 140h1M937 145h1M937 146h1M937 148h1M937 149h1M937 151h1M938 135h1M938 137h1M938 144h1M938 147h1M938 148h1M938 149h1M938 150h1M938 151h1M939 138h1M939 144h1M939 151h1M939 153h1M940 130h1M940 138h1M940 141h1M940 142h1M940 143h1M940 145h1M940 148h1M940 152h1M941 141h1M941 143h1M941 149h1M942 130h1M942 131h1M942 140h1M942 142h1M942 151h1M943 143h1M943 150h1M943 151h1M943 153h1M944 151h1M945 152h1M946 137h1M946 140h1M946 145h1M946 147h1M947 137h1M947 142h1M947 143h1M947 145h1M947 150h1M947 152h1M947 153h1M948 146h1M949 132h1M949 133h1M949 142h1M949 143h1M949 147h1M949 150h1M949 152h1M949 153h1M950 134h1M950 142h1M950 147h1M950 150h1M950 152h1M951 135h1M951 144h1M951 152h1M952 138h1M952 140h1M952 145h1M952 146h1M952 147h1M952 150h1M952 151h1M952 152h1M952 153h1M953 141h1M953 144h1M953 148h1M953 150h1M953 151h1M954 131h1M954 141h1M954 144h1M954 145h1M954 146h1M954 147h1M954 148h1M954 150h1M954 152h1M954 153h1M955 142h1M955 151h1M956 132h1M956 137h1M956 146h1M956 147h1M956 148h1M957 135h1M957 144h1M957 145h1M957 147h1M957 152h1M958 145h1M958 150h1M958 151h1M958 152h1M959 151h1M960 135h1M960 139h1M960 142h1M960 144h1M960 146h1M960 149h1M960 153h1M961 153h1M962 130h1M962 135h1M962 139h1M962 145h1M962 150h1M962 152h1M963 136h1M963 137h1M963 139h1M963 142h1M963 143h1M963 147h1M963 148h1M963 150h1M964 133h1M964 142h1M964 143h1M964 144h1M964 145h1M964 146h1M964 148h1M964 149h1M964 151h1M965 138h1M965 145h1M965 146h1M965 148h1M965 152h1M966 137h1M966 141h1M966 146h1M966 150h1M966 152h1M967 139h1M967 141h1M967 143h1M967 149h1M967 150h1M968 139h1M968 140h1M968 142h1M968 144h1M968 146h1M968 148h1M968 153h1M969 141h1M969 142h1M969 145h1M969 147h1M969 150h1M969 151h1M969 152h1M969 153h1M970 134h1M970 142h1M970 146h1M970 147h1M970 148h1M970 151h1M971 123h1M971 139h1M971 143h1M971 145h1M971 147h1M971 152h1M972 145h1M972 148h1M972 152h1M973 134h1M973 140h1M973 147h1M973 152h1M974 143h1M974 144h1M974 151h1M974 152h1M975 148h1M976 137h1M976 145h1M976 146h1M976 148h1M977 128h1M977 143h1M977 149h1M977 151h1M977 153h1M978 142h1M978 148h1M978 151h1M979 138h1M979 142h1M979 143h1M979 145h1M979 148h1M979 150h1M979 153h1M980 136h1M980 142h1M980 144h1M980 145h1M980 148h1M980 149h1M980 151h1M980 152h1M981 139h1M981 140h1M981 150h1M982 135h1M982 143h1M982 146h1M982 152h1M982 153h1M983 134h1M983 136h1M983 140h1M983 143h1M983 144h1M983 145h1M983 146h1M983 149h1M983 152h1M983 153h1M984 138h1M984 144h1M984 146h1M984 153h1M985 133h1M985 149h1M986 133h1M986 142h1M986 144h1M986 146h1M986 147h1M986 149h1M986 150h1M987 128h1M987 137h1M987 141h1M987 144h1M987 148h1M987 151h1" stroke="#e24a4a" stroke-width="1.1" fill="none"/>
<rect x="903.6" y="152.6" width="83.0" height="9.4" fill="#e02a2a"/>
<rect x="903.6" y="162.0" width="83.0" height="8.0" fill="#e0358f"/>
<rect x="903.6" y="160.9" width="83.0" height="1.8" fill="#5a4a20"/>
<polygon points="893.8,160.6 1040.9,158.8 1040.9,181.2 893.8,198.6" fill="none" stroke="#333" stroke-width="1"/>
<path d="M882.1 213.8v3M888.6 213.8v3M895.0 213.8v3M901.5 213.8v3M907.9 213.8v5.5M914.4 213.8v3M920.9 213.8v3M927.3 213.8v3M933.8 213.8v3M940.2 213.8v5.5M946.7 213.8v3M953.1 213.8v3M959.6 213.8v3M966.0 213.8v3M972.5 213.8v5.5M978.9 213.8v3M985.4 213.8v3M991.8 213.8v3M998.3 213.8v3M1004.7 213.8v5.5M1011.2 213.8v3M1017.6 213.8v3M1024.1 213.8v3M1030.5 213.8v3M1037.0 213.8v5.5M1043.4 213.8v3" stroke="#333" stroke-width="1" fill="none"/>
<path d="M878.9 210.7h-3M878.9 204.3h-3M878.9 198.0h-3M878.9 191.6h-3M878.9 185.3h-5.5M878.9 179.0h-3M878.9 172.6h-3M878.9 166.3h-3M878.9 159.9h-3M878.9 153.6h-5.5M878.9 147.3h-3M878.9 140.9h-3M878.9 134.6h-3M878.9 128.2h-3M878.9 121.9h-5.5M878.9 115.6h-3M878.9 109.2h-3M878.9 102.9h-3M878.9 96.5h-3M878.9 90.2h-5.5M878.9 83.9h-3M878.9 77.5h-3M878.9 71.2h-3M878.9 64.8h-3M878.9 58.5h-5.5M878.9 52.2h-3" stroke="#333" stroke-width="1" fill="none"/>
<text x="878.5" y="46.3" font-size="13.5" fill="#474747">Specimen_001-DS017</text>
<text x="907.9" y="232.7" font-size="9.5" text-anchor="middle" fill="#474747">50</text>
<text x="941.2" y="232.7" font-size="9.5" text-anchor="middle" fill="#474747">100</text>
<text x="973.8" y="232.7" font-size="9.5" text-anchor="middle" fill="#474747">150</text>
<text x="1005.7" y="232.7" font-size="9.5" text-anchor="middle" fill="#474747">200</text>
<text x="1038.3" y="232.7" font-size="9.5" text-anchor="middle" fill="#474747">250</text>
<text x="962.2" y="242.8" font-size="12.5" text-anchor="middle" fill="#474747">FSC-A</text>
<text x="1026.4" y="247.5" font-size="8.5" text-anchor="middle" fill="#474747">(x 1,000)</text>
<text x="857.2" y="132.3" font-size="12.5" text-anchor="middle" fill="#474747" transform="rotate(-90 857.2 132.3)">FSC-W</text>
<text x="857.2" y="63.5" font-size="8.5" text-anchor="middle" fill="#474747" transform="rotate(-90 857.2 63.5)">(x 1,000)</text>
<text x="870.6" y="182.3" font-size="9.5" text-anchor="middle" fill="#474747" transform="rotate(-90 870.6 182.3)">50</text>
<text x="870.6" y="149.7" font-size="9.5" text-anchor="middle" fill="#474747" transform="rotate(-90 870.6 149.7)">100</text>
<text x="870.6" y="117.8" font-size="9.5" text-anchor="middle" fill="#474747" transform="rotate(-90 870.6 117.8)">150</text>
<text x="870.6" y="85.9" font-size="9.5" text-anchor="middle" fill="#474747" transform="rotate(-90 870.6 85.9)">200</text>
<text x="870.6" y="54.4" font-size="9.5" text-anchor="middle" fill="#474747" transform="rotate(-90 870.6 54.4)">250</text>
<text x="959.7" y="183.8" font-size="10" fill="#333">P2</text>
<rect x="1104.3" y="47.2" width="147.8" height="168.5" fill="none" stroke="#444" stroke-width="1.1"/>
<path d="M1068 148h1M1084 155h1M1086 161h1M1089 158h1M1096 163h1M1097 159h1M1102 154h1M1102 163h1M1103 165h1M1104 162h1M1105 159h1M1105 160h1M1106 154h1M1106 160h1M1106 164h1M1108 160h1M1108 163h1M1110 156h1M1110 158h1M1110 159h1M1110 165h1M1112 159h1M1112 162h1M1112 163h1M1113 156h1M1113 158h1M1114 158h1M1115 160h1M1115 162h1M1116 155h1M1116 160h1M1116 161h1M1117 154h1M1117 155h1M1117 157h1M1117 164h1M1118 146h1M1118 156h1M1118 159h1M1119 164h1M1120 153h1M1120 162h1M1121 164h1M1122 156h1M1122 161h1M1122 162h1M1123 154h1M1123 156h1M1123 162h1M1124 160h1M1124 165h1M1125 156h1M1125 159h1M1125 160h1M1125 161h1M1125 162h1M1125 165h1M1126 159h1M1126 163h1M1127 155h1M1127 158h1M1127 160h1M1127 164h1M1128 162h1M1128 164h1M1129 151h1M1129 157h1M1129 158h1M1130 154h1M1130 160h1M1130 164h1M1131 150h1M1131 163h1M1131 164h1M1131 165h1M1132 154h1M1132 155h1M1132 161h1M1132 162h1M1132 164h1M1133 147h1M1133 161h1M1133 163h1M1134 153h1M1134 160h1M1134 161h1M1134 162h1M1134 163h1M1134 165h1M1135 158h1M1135 160h1M1135 164h1M1136 158h1M1136 160h1M1136 161h1M1136 164h1M1137 149h1M1137 153h1M1137 157h1M1137 164h1M1137 165h1M1138 151h1M1138 158h1M1138 164h1M1138 165h1M1139 151h1M1139 157h1M1139 158h1M1139 163h1M1139 164h1M1140 149h1M1140 155h1M1140 160h1M1140 162h1M1140 163h1M1141 159h1M1141 160h1M1141 162h1M1141 163h1M1141 165h1M1142 150h1M1142 155h1M1142 160h1M1142 163h1M1142 164h1M1143 156h1M1143 160h1M1143 161h1M1143 162h1M1143 164h1M1143 165h1M1144 155h1M1144 156h1M1144 158h1M1144 160h1M1144 161h1M1144 162h1M1144 163h1M1144 164h1M1145 154h1M1145 157h1M1145 158h1M1145 162h1M1145 163h1M1145 164h1M1146 157h1M1146 159h1M1146 160h1M1146 164h1M1147 154h1M1147 157h1M1147 158h1M1147 159h1M1147 160h1M1147 165h1M1148 155h1M1148 156h1M1148 157h1M1148 159h1M1148 165h1M1149 150h1M1149 155h1M1149 160h1M1149 161h1M1149 162h1M1149 165h1M1150 154h1M1150 155h1M1150 158h1M1150 160h1M1150 161h1M1150 165h1M1151 157h1M1151 160h1M1152 156h1M1152 158h1M1152 160h1M1152 162h1M1152 163h1M1152 164h1M1152 165h1M1153 145h1M1153 153h1M1153 154h1M1153 156h1M1153 157h1M1153 158h1M1153 159h1M1153 163h1M1153 164h1M1154 155h1M1154 156h1M1154 160h1M1154 162h1M1155 153h1M1155 162h1M1155 163h1M1156 159h1M1156 162h1M1156 164h1M1157 154h1M1157 157h1M1157 160h1M1157 162h1M1157 165h1M1158 151h1M1158 155h1M1158 157h1M1158 160h1M1158 161h1M1158 163h1M1159 153h1M1159 154h1M1159 155h1M1159 156h1M1159 160h1M1159 162h1M1159 163h1M1160 152h1M1160 158h1M1160 160h1M1160 162h1M1160 163h1M1161 156h1M1161 161h1M1162 154h1M1162 158h1M1162 159h1M1162 162h1M1162 163h1M1163 149h1M1163 155h1M1163 161h1M1163 162h1M1163 163h1M1163 164h1M1164 163h1M1164 164h1M1165 157h1M1165 158h1M1165 163h1M1166 157h1M1166 158h1M1166 160h1M1166 164h1M1167 160h1M1167 162h1M1168 161h1M1168 162h1M1168 163h1M1168 164h1M1169 153h1M1169 156h1M1169 163h1M1169 165h1M1170 152h1M1170 160h1M1170 161h1M1170 165h1M1171 154h1M1171 161h1M1172 159h1M1173 161h1M1173 162h1M1173 165h1M1174 159h1M1175 156h1M1175 158h1M1176 161h1M1176 163h1M1178 154h1M1178 158h1M1179 148h1M1179 152h1M1180 160h1M1184 163h1M1185 160h1M1186 164h1M1187 161h1M1187 162h1M1189 155h1M1191 151h1M1191 162h1M1193 162h1M1194 157h1M1195 164h1M1196 160h1M1199 164h1M1203 155h1" stroke="#7cc64a" stroke-width="1.1" fill="none"/>
<rect x="1107.9" y="164.2" width="73.6" height="9.4" fill="#5d6b2a" rx="4"/>
<rect x="1112.6" y="165.7" width="61.6" height="6.5" fill="#e0358f" rx="3"/>
<rect x="1107.2" y="164.9" width="106.9" height="50.7" fill="none" stroke="#333" stroke-width="1"/>
<path d="M1107.1 215.7v3M1112.8 215.7v3M1118.5 215.7v3M1124.2 215.7v3M1129.9 215.7v5.5M1135.5 215.7v3M1141.2 215.7v3M1146.9 215.7v3M1152.6 215.7v3M1158.3 215.7v5.5M1164.0 215.7v3M1169.7 215.7v3M1175.3 215.7v3M1181.0 215.7v3M1186.7 215.7v5.5M1192.4 215.7v3M1198.1 215.7v3M1203.8 215.7v3M1209.5 215.7v3M1215.1 215.7v5.5M1220.8 215.7v3M1226.5 215.7v3M1232.2 215.7v3M1237.9 215.7v3M1243.6 215.7v5.5M1249.3 215.7v3" stroke="#333" stroke-width="1" fill="none"/>
<path d="M1104.3 212.4h-3M1104.3 205.9h-3M1104.3 199.5h-3M1104.3 193.0h-3M1104.3 186.5h-5.5M1104.3 180.0h-3M1104.3 173.5h-3M1104.3 167.1h-3M1104.3 160.6h-3M1104.3 154.1h-5.5M1104.3 147.6h-3M1104.3 141.1h-3M1104.3 134.7h-3M1104.3 128.2h-3M1104.3 121.7h-5.5M1104.3 115.2h-3M1104.3 108.7h-3M1104.3 102.3h-3M1104.3 95.8h-3M1104.3 89.3h-5.5M1104.3 82.8h-3M1104.3 76.3h-3M1104.3 69.9h-3M1104.3 63.4h-3M1104.3 56.9h-5.5M1104.3 50.4h-3" stroke="#333" stroke-width="1" fill="none"/>
<text x="1093.0" y="44.6" font-size="13.5" fill="#474747">Specimen_001-DS017</text>
<text x="1130.7" y="233.8" font-size="9.5" text-anchor="middle" fill="#474747">50</text>
<text x="1159.7" y="233.8" font-size="9.5" text-anchor="middle" fill="#474747">100</text>
<text x="1188.0" y="233.8" font-size="9.5" text-anchor="middle" fill="#474747">150</text>
<text x="1215.9" y="233.8" font-size="9.5" text-anchor="middle" fill="#474747">200</text>
<text x="1244.9" y="233.8" font-size="9.5" text-anchor="middle" fill="#474747">250</text>
<text x="1177.1" y="245.4" font-size="12.5" text-anchor="middle" fill="#474747">SSC-A</text>
<text x="1232.2" y="250.1" font-size="8.5" text-anchor="middle" fill="#474747">(x 1,000)</text>
<text x="1082.5" y="132.3" font-size="12.5" text-anchor="middle" fill="#474747" transform="rotate(-90 1082.5 132.3)">SSC-W</text>
<text x="1082.5" y="63.5" font-size="8.5" text-anchor="middle" fill="#474747" transform="rotate(-90 1082.5 63.5)">(x 1,000)</text>
<text x="1096.3" y="182.3" font-size="9.5" text-anchor="middle" fill="#474747" transform="rotate(-90 1096.3 182.3)">50</text>
<text x="1096.3" y="149.7" font-size="9.5" text-anchor="middle" fill="#474747" transform="rotate(-90 1096.3 149.7)">100</text>
<text x="1096.3" y="117.8" font-size="9.5" text-anchor="middle" fill="#474747" transform="rotate(-90 1096.3 117.8)">150</text>
<text x="1096.3" y="85.9" font-size="9.5" text-anchor="middle" fill="#474747" transform="rotate(-90 1096.3 85.9)">200</text>
<text x="1096.3" y="54.4" font-size="9.5" text-anchor="middle" fill="#474747" transform="rotate(-90 1096.3 54.4)">250</text>
<text x="1154.3" y="196.8" font-size="10" fill="#333">P3</text>
<line x1="755.7" y1="169.3" x2="864.0" y2="169.3" stroke="#000" stroke-width="1.6"/>
<polygon points="879.0,169.3 864.0,175.8 864.0,162.8" fill="#000"/>
<line x1="1040.0" y1="169.3" x2="1089.5" y2="169.3" stroke="#000" stroke-width="1.6"/>
<polygon points="1104.5,169.3 1089.5,175.8 1089.5,162.8" fill="#000"/>
<path d="M1172.4 210V261H729.6V305" fill="none" stroke="#000" stroke-width="1.6"/>
<line x1="729.6" y1="300.0" x2="729.6" y2="304.2" stroke="#000" stroke-width="1.6"/>
<polygon points="729.6,319.2 723.1,304.2 736.1,304.2" fill="#000"/>
<rect x="670.5" y="381.9" width="14.4" height="87.5" fill="#8e8c90" opacity="0.85" filter="url(#b2)"/>
<path d="M671 367h1M671 368h1M671 369h1M671 372h1M671 376h1M671 377h1M671 379h1M672 362h1M672 367h1M672 371h1M672 372h1M672 373h1M672 374h1M672 375h1M672 376h1M672 379h1M672 380h1M672 381h1M672 382h1M673 364h1M673 366h1M673 370h1M673 372h1M673 373h1M673 375h1M673 376h1M673 377h1M673 378h1M673 379h1M673 380h1M673 381h1M673 382h1M674 357h1M674 360h1M674 366h1M674 368h1M674 370h1M674 374h1M674 375h1M674 376h1M674 377h1M674 378h1M674 379h1M674 380h1M674 381h1M674 382h1M675 355h1M675 368h1M675 372h1M675 373h1M675 374h1M675 375h1M675 376h1M675 378h1M675 380h1M675 381h1M676 367h1M676 370h1M676 371h1M676 372h1M676 373h1M676 377h1M676 381h1M676 382h1M677 364h1M677 369h1M677 373h1M677 376h1M677 378h1M677 379h1M677 380h1M677 381h1M677 382h1M678 358h1M678 372h1M678 373h1M678 374h1M678 375h1M678 376h1M678 377h1M678 378h1M678 379h1M678 380h1M678 382h1M679 362h1M679 366h1M679 373h1M679 374h1M679 376h1M679 378h1M679 379h1M679 380h1M679 381h1M680 366h1M680 367h1M680 370h1M680 371h1M680 372h1M680 373h1M680 375h1M680 376h1M680 377h1M680 378h1M680 379h1M680 380h1M680 381h1M681 358h1M681 367h1M681 368h1M681 369h1M681 371h1M681 372h1M681 373h1M681 374h1M681 376h1M681 377h1M681 378h1M681 379h1M681 380h1M681 381h1M681 382h1M682 359h1M682 364h1M682 367h1M682 371h1M682 373h1M682 374h1M682 375h1M682 376h1M682 377h1M682 378h1M682 379h1M682 380h1M682 381h1M683 368h1M683 370h1M683 372h1M683 375h1M683 376h1M683 377h1M683 380h1M683 381h1M684 366h1M684 371h1M684 373h1M684 376h1M684 378h1M684 381h1M685 361h1M685 363h1M685 371h1M685 373h1M685 374h1M685 376h1M685 378h1M685 380h1M685 381h1M685 382h1M686 368h1M686 370h1M686 371h1M686 372h1M686 373h1M686 374h1M686 376h1M686 377h1M686 378h1M686 380h1M686 381h1M687 364h1M687 369h1M687 374h1M687 378h1M687 382h1" stroke="#a9a4ac" stroke-width="1.1" fill="none"/>
<rect x="633.3" y="362.4" width="37.4" height="108.6" fill="#76762a" rx="9" filter="url(#b2)"/>
<path d="M635 358h1M635 359h1M635 360h1M635 361h1M635 362h1M635 363h1M635 364h1M636 359h1M636 361h1M636 362h1M636 364h1M637 355h1M637 358h1M637 359h1M637 360h1M637 361h1M637 362h1M637 363h1M637 364h1M638 353h1M638 355h1M638 360h1M638 362h1M638 363h1M638 364h1M639 360h1M639 361h1M639 362h1M639 363h1M639 364h1M640 357h1M640 358h1M640 359h1M640 360h1M640 361h1M640 362h1M640 364h1M641 355h1M641 358h1M641 360h1M641 362h1M641 363h1M641 364h1M642 358h1M642 360h1M642 361h1M642 362h1M642 364h1M643 357h1M643 359h1M643 360h1M643 361h1M643 363h1M644 359h1M644 362h1M644 364h1M645 356h1M645 358h1M645 359h1M645 361h1M645 362h1M645 363h1M645 364h1M646 353h1M646 358h1M646 359h1M646 360h1M646 361h1M646 362h1M646 364h1M647 361h1M647 363h1M647 364h1M648 360h1M648 361h1M648 363h1M648 364h1M649 357h1M649 358h1M649 361h1M649 364h1M650 357h1M650 358h1M650 360h1M650 361h1M650 362h1M650 363h1M650 364h1M651 359h1M651 360h1M651 361h1M651 363h1M651 364h1M652 357h1M652 359h1M652 360h1M652 361h1M652 362h1M652 363h1M652 364h1M653 357h1M653 358h1M653 359h1M653 360h1M653 361h1M653 362h1M653 363h1M653 364h1M654 356h1M654 358h1M654 363h1M654 364h1M655 357h1M655 360h1M655 361h1M655 362h1M655 363h1M655 364h1M656 360h1M656 361h1M656 362h1M656 363h1M656 364h1M657 356h1M657 359h1M657 361h1M657 362h1M657 363h1M657 364h1M658 358h1M658 359h1M658 360h1M658 361h1M658 362h1M658 363h1M658 364h1M659 358h1M659 359h1M659 363h1M660 357h1M660 358h1M660 359h1M660 360h1M660 361h1M660 362h1M660 363h1M660 364h1M661 355h1M661 360h1M661 361h1M661 362h1M661 363h1M661 364h1M662 357h1M662 358h1M662 359h1M662 362h1M662 363h1M662 364h1M663 355h1M663 356h1M663 359h1M663 360h1M663 361h1M663 363h1M663 364h1M664 358h1M664 361h1M664 362h1M664 363h1M664 364h1M665 354h1M665 360h1M665 361h1M665 362h1M665 363h1M665 364h1M666 358h1M666 361h1M666 362h1M666 363h1M666 364h1M667 355h1M667 359h1M667 360h1M667 361h1M667 362h1M667 363h1M667 364h1M668 360h1M668 361h1M668 362h1M668 363h1M669 358h1M669 360h1M669 361h1M669 362h1M669 363h1M669 364h1M670 358h1M670 361h1M670 362h1M670 364h1M671 356h1M671 361h1M671 362h1M671 363h1M671 364h1M672 359h1M672 360h1M672 361h1M672 362h1M672 363h1M672 364h1M673 354h1M673 356h1M673 357h1M673 359h1M673 361h1M673 362h1M673 363h1M673 364h1M674 358h1M674 360h1M674 361h1M674 363h1M674 364h1M675 356h1M675 357h1M675 359h1M675 360h1M675 362h1M675 363h1M676 354h1M676 359h1M676 360h1M676 361h1M676 362h1M676 363h1M676 364h1" stroke="#8a8836" stroke-width="1.2" fill="none"/>
<polygon points="684.2,464.0 684.2,390.0 697.7,379.2 711.1,381.9 724.6,372.5 742.1,367.8 746.1,379.2 736.7,399.4 730.6,419.6 730.6,464.0" fill="#4a62c0" opacity="0.42" filter="url(#b2)"/>
<path d="M684 398h1M684 408h1M684 412h1M684 413h1M684 432h1M684 442h1M684 443h1M684 449h1M684 463h1M685 390h1M685 391h1M685 392h1M685 403h1M685 406h1M685 408h1M685 410h1M685 413h1M685 414h1M685 415h1M685 416h1M685 418h1M685 419h1M685 420h1M685 423h1M685 424h1M685 427h1M685 428h1M685 430h1M685 435h1M685 438h1M685 440h1M685 442h1M685 443h1M685 444h1M685 446h1M685 449h1M685 451h1M685 452h1M685 453h1M685 454h1M685 459h1M685 460h1M686 389h1M686 393h1M686 396h1M686 400h1M686 401h1M686 408h1M686 415h1M686 416h1M686 417h1M686 428h1M686 431h1M686 436h1M686 438h1M686 446h1M686 449h1M686 451h1M686 454h1M686 456h1M686 460h1M686 461h1M686 463h1M687 393h1M687 397h1M687 401h1M687 404h1M687 411h1M687 412h1M687 416h1M687 417h1M687 421h1M687 423h1M687 427h1M687 430h1M687 431h1M687 436h1M687 438h1M687 439h1M687 440h1M687 443h1M687 448h1M687 451h1M687 453h1M687 460h1M687 462h1M688 389h1M688 392h1M688 399h1M688 403h1M688 406h1M688 407h1M688 418h1M688 424h1M688 428h1M688 430h1M688 432h1M688 433h1M688 434h1M688 436h1M688 446h1M688 447h1M688 454h1M689 387h1M689 389h1M689 391h1M689 396h1M689 400h1M689 403h1M689 405h1M689 408h1M689 409h1M689 411h1M689 412h1M689 417h1M689 422h1M689 424h1M689 427h1M689 432h1M689 433h1M689 434h1M689 435h1M689 436h1M689 437h1M689 438h1M689 442h1M689 446h1M689 451h1M689 454h1M689 455h1M689 459h1M689 460h1M689 462h1M690 389h1M690 391h1M690 392h1M690 393h1M690 394h1M690 396h1M690 397h1M690 400h1M690 402h1M690 405h1M690 406h1M690 409h1M690 410h1M690 416h1M690 417h1M690 418h1M690 425h1M690 432h1M690 435h1M690 438h1M690 440h1M690 445h1M690 446h1M690 448h1M690 449h1M690 455h1M690 457h1M690 459h1M690 461h1M690 462h1M690 463h1M690 464h1M691 385h1M691 388h1M691 391h1M691 393h1M691 398h1M691 402h1M691 403h1M691 411h1M691 412h1M691 418h1M691 424h1M691 427h1M691 428h1M691 429h1M691 430h1M691 432h1M691 434h1M691 438h1M691 441h1M691 443h1M691 444h1M691 449h1M691 461h1M691 462h1M691 464h1M692 385h1M692 393h1M692 394h1M692 397h1M692 403h1M692 404h1M692 405h1M692 409h1M692 416h1M692 419h1M692 431h1M692 438h1M692 440h1M692 441h1M692 447h1M692 451h1M692 458h1M692 462h1M693 386h1M693 394h1M693 396h1M693 402h1M693 408h1M693 410h1M693 413h1M693 414h1M693 416h1M693 417h1M693 425h1M693 426h1M693 432h1M693 433h1M693 435h1M693 437h1M693 439h1M693 443h1M693 446h1M693 447h1M693 448h1M693 449h1M693 453h1M693 454h1M693 463h1M694 383h1M694 384h1M694 385h1M694 387h1M694 392h1M694 394h1M694 395h1M694 396h1M694 397h1M694 401h1M694 406h1M694 420h1M694 421h1M694 422h1M694 423h1M694 424h1M694 427h1M694 430h1M694 432h1M694 436h1M694 438h1M694 441h1M694 442h1M694 446h1M694 451h1M694 453h1M694 455h1M694 456h1M694 457h1M694 460h1M694 461h1M695 382h1M695 384h1M695 385h1M695 386h1M695 389h1M695 391h1M695 393h1M695 395h1M695 405h1M695 407h1M695 409h1M695 414h1M695 417h1M695 418h1M695 419h1M695 421h1M695 425h1M695 432h1M695 439h1M695 441h1M695 443h1M695 449h1M695 450h1M695 451h1M695 455h1M695 457h1M695 462h1M696 381h1M696 384h1M696 386h1M696 388h1M696 389h1M696 390h1M696 393h1M696 394h1M696 396h1M696 398h1M696 403h1M696 410h1M696 419h1M696 422h1M696 424h1M696 426h1M696 430h1M696 431h1M696 434h1M696 435h1M696 438h1M696 439h1M696 440h1M696 443h1M696 445h1M696 449h1M696 458h1M696 462h1M696 463h1M697 381h1M697 390h1M697 392h1M697 393h1M697 394h1M697 395h1M697 404h1M697 407h1M697 410h1M697 418h1M697 422h1M697 424h1M697 427h1M697 429h1M697 435h1M697 447h1M697 450h1M697 451h1M697 459h1M697 460h1M697 462h1M698 380h1M698 387h1M698 393h1M698 394h1M698 398h1M698 403h1M698 405h1M698 408h1M698 411h1M698 413h1M698 414h1M698 416h1M698 419h1M698 420h1M698 424h1M698 427h1M698 429h1M698 431h1M698 434h1M698 435h1M698 436h1M698 437h1M698 438h1M698 448h1M698 451h1M698 455h1M699 380h1M699 384h1M699 385h1M699 388h1M699 391h1M699 392h1M699 393h1M699 394h1M699 400h1M699 404h1M699 406h1M699 408h1M699 410h1M699 412h1M699 415h1M699 416h1M699 417h1M699 418h1M699 419h1M699 423h1M699 424h1M699 425h1M699 431h1M699 434h1M699 438h1M699 441h1M699 442h1M699 447h1M699 450h1M699 452h1M699 456h1M699 458h1M700 380h1M700 387h1M700 388h1M700 395h1M700 400h1M700 402h1M700 407h1M700 409h1M700 410h1M700 412h1M700 415h1M700 416h1M700 418h1M700 419h1M700 420h1M700 421h1M700 423h1M700 427h1M700 428h1M700 439h1M700 440h1M700 444h1M700 446h1M700 451h1M700 452h1M700 453h1M700 460h1M700 461h1M700 462h1M701 382h1M701 385h1M701 391h1M701 396h1M701 397h1M701 406h1M701 407h1M701 408h1M701 411h1M701 413h1M701 417h1M701 421h1M701 422h1M701 424h1M701 427h1M701 431h1M701 434h1M701 435h1M701 439h1M701 441h1M701 443h1M701 451h1M701 452h1M701 457h1M701 462h1M702 383h1M702 390h1M702 402h1M702 407h1M702 410h1M702 415h1M702 418h1M702 419h1M702 423h1M702 428h1M702 430h1M702 431h1M702 432h1M702 433h1M702 435h1M702 436h1M702 442h1M702 444h1M702 446h1M702 450h1M702 454h1M702 462h1M703 384h1M703 390h1M703 391h1M703 395h1M703 396h1M703 401h1M703 403h1M703 407h1M703 408h1M703 411h1M703 412h1M703 414h1M703 415h1M703 418h1M703 419h1M703 422h1M703 423h1M703 424h1M703 428h1M703 429h1M703 431h1M703 436h1M703 437h1M703 445h1M703 448h1M703 458h1M703 462h1M704 383h1M704 390h1M704 395h1M704 396h1M704 398h1M704 400h1M704 403h1M704 405h1M704 410h1M704 411h1M704 414h1M704 415h1M704 416h1M704 418h1M704 422h1M704 430h1M704 433h1M704 437h1M704 438h1M704 441h1M704 443h1M704 444h1M704 448h1M704 450h1M704 451h1M704 452h1M704 453h1M704 456h1M704 457h1M704 460h1M704 461h1M705 383h1M705 384h1M705 386h1M705 387h1M705 389h1M705 392h1M705 393h1M705 396h1M705 397h1M705 400h1M705 401h1M705 402h1M705 404h1M705 405h1M705 406h1M705 407h1M705 408h1M705 413h1M705 420h1M705 422h1M705 429h1M705 438h1M705 439h1M705 442h1M705 447h1M705 452h1M705 456h1M705 460h1M706 382h1M706 383h1M706 385h1M706 386h1M706 390h1M706 392h1M706 393h1M706 404h1M706 407h1M706 408h1M706 409h1M706 412h1M706 415h1M706 419h1M706 420h1M706 422h1M706 425h1M706 432h1M706 434h1M706 436h1M706 438h1M706 439h1M706 440h1M706 442h1M706 444h1M706 445h1M706 446h1M706 447h1M706 449h1M706 450h1M706 457h1M706 459h1M706 463h1M707 388h1M707 392h1M707 396h1M707 398h1M707 400h1M707 401h1M707 406h1M707 407h1M707 408h1M707 412h1M707 413h1M707 415h1M707 416h1M707 417h1M707 420h1M707 421h1M707 423h1M707 424h1M707 425h1M707 427h1M707 430h1M707 433h1M707 434h1M707 437h1M707 441h1M707 445h1M707 449h1M707 452h1M707 459h1M707 462h1M707 463h1M708 381h1M708 382h1M708 384h1M708 385h1M708 386h1M708 388h1M708 391h1M708 394h1M708 397h1M708 400h1M708 401h1M708 402h1M708 404h1M708 408h1M708 409h1M708 412h1M708 416h1M708 418h1M708 419h1M708 421h1M708 422h1M708 423h1M708 425h1M708 428h1M708 429h1M708 432h1M708 434h1M708 441h1M708 445h1M708 446h1M708 448h1M708 450h1M708 452h1M708 455h1M708 460h1M708 461h1M709 385h1M709 387h1M709 391h1M709 393h1M709 396h1M709 398h1M709 404h1M709 405h1M709 407h1M709 408h1M709 409h1M709 411h1M709 415h1M709 418h1M709 419h1M709 421h1M709 424h1M709 429h1M709 431h1M709 441h1M709 447h1M709 451h1M709 459h1M709 463h1M710 382h1M710 384h1M710 386h1M710 387h1M710 389h1M710 392h1M710 393h1M710 394h1M710 395h1M710 396h1M710 398h1M710 399h1M710 401h1M710 405h1M710 409h1M710 411h1M710 413h1M710 415h1M710 421h1M710 423h1M710 424h1M710 428h1M710 432h1M710 433h1M710 434h1M710 437h1M710 439h1M710 442h1M710 445h1M710 447h1M710 451h1M710 452h1M710 454h1M710 456h1M711 386h1M711 387h1M711 391h1M711 392h1M711 393h1M711 394h1M711 395h1M711 397h1M711 398h1M711 405h1M711 406h1M711 412h1M711 415h1M711 416h1M711 417h1M711 419h1M711 424h1M711 426h1M711 428h1M711 429h1M711 430h1M711 432h1M711 433h1M711 445h1M711 458h1M711 462h1M712 384h1M712 386h1M712 389h1M712 393h1M712 395h1M712 396h1M712 409h1M712 410h1M712 415h1M712 419h1M712 425h1M712 427h1M712 430h1M712 432h1M712 439h1M712 443h1M712 446h1M712 447h1M712 452h1M712 453h1M712 461h1M712 462h1M712 463h1M712 464h1M713 381h1M713 382h1M713 383h1M713 384h1M713 387h1M713 391h1M713 393h1M713 394h1M713 397h1M713 399h1M713 401h1M713 404h1M713 406h1M713 408h1M713 410h1M713 411h1M713 415h1M713 418h1M713 421h1M713 423h1M713 425h1M713 429h1M713 432h1M713 433h1M713 435h1M713 436h1M713 440h1M713 446h1M713 450h1M713 451h1M713 453h1M713 454h1M713 455h1M713 457h1M713 461h1M713 463h1M714 381h1M714 382h1M714 393h1M714 396h1M714 400h1M714 401h1M714 402h1M714 404h1M714 406h1M714 409h1M714 413h1M714 414h1M714 415h1M714 421h1M714 425h1M714 428h1M714 431h1M714 433h1M714 434h1M714 436h1M714 438h1M714 440h1M714 443h1M714 445h1M714 446h1M714 447h1M714 448h1M714 451h1M714 454h1M714 457h1M714 458h1M714 459h1M714 460h1M714 462h1M715 380h1M715 382h1M715 383h1M715 386h1M715 387h1M715 388h1M715 390h1M715 392h1M715 399h1M715 401h1M715 406h1M715 408h1M715 412h1M715 413h1M715 419h1M715 421h1M715 427h1M715 430h1M715 432h1M715 434h1M715 436h1M715 438h1M715 439h1M715 442h1M715 444h1M715 447h1M715 448h1M715 449h1M715 455h1M715 456h1M715 457h1M715 459h1M716 379h1M716 385h1M716 390h1M716 391h1M716 397h1M716 400h1M716 401h1M716 402h1M716 403h1M716 404h1M716 407h1M716 409h1M716 419h1M716 420h1M716 423h1M716 428h1M716 431h1M716 437h1M716 440h1M716 441h1M716 450h1M716 453h1M716 456h1M716 457h1M716 461h1M716 462h1M717 387h1M717 388h1M717 391h1M717 393h1M717 398h1M717 399h1M717 400h1M717 401h1M717 406h1M717 407h1M717 409h1M717 411h1M717 414h1M717 422h1M717 423h1M717 430h1M717 431h1M717 434h1M717 439h1M717 441h1M717 442h1M717 446h1M717 449h1M717 453h1M717 455h1M717 456h1M717 458h1M717 461h1M717 462h1M717 463h1M718 377h1M718 379h1M718 384h1M718 386h1M718 387h1M718 390h1M718 398h1M718 401h1M718 402h1M718 405h1M718 406h1M718 407h1M718 409h1M718 411h1M718 413h1M718 414h1M718 415h1M718 428h1M718 431h1M718 435h1M718 444h1M718 447h1M718 457h1M718 462h1M719 382h1M719 383h1M719 388h1M719 396h1M719 399h1M719 400h1M719 401h1M719 403h1M719 408h1M719 412h1M719 417h1M719 421h1M719 423h1M719 426h1M719 435h1M719 442h1M719 445h1M719 446h1M719 450h1M719 452h1M719 454h1M719 455h1M719 458h1M719 462h1M719 463h1M719 464h1M720 376h1M720 385h1M720 390h1M720 392h1M720 393h1M720 395h1M720 397h1M720 398h1M720 399h1M720 400h1M720 405h1M720 407h1M720 409h1M720 414h1M720 415h1M720 419h1M720 429h1M720 430h1M720 434h1M720 438h1M720 440h1M720 443h1M720 446h1M720 449h1M720 454h1M720 455h1M720 457h1M720 459h1M720 461h1M720 464h1M721 375h1M721 376h1M721 377h1M721 378h1M721 379h1M721 381h1M721 382h1M721 383h1M721 386h1M721 388h1M721 391h1M721 392h1M721 393h1M721 394h1M721 396h1M721 397h1M721 398h1M721 399h1M721 401h1M721 406h1M721 412h1M721 422h1M721 423h1M721 430h1M721 436h1M721 437h1M721 438h1M721 440h1M721 441h1M721 445h1M721 446h1M721 448h1M721 449h1M721 451h1M721 457h1M721 458h1M721 459h1M722 374h1M722 383h1M722 384h1M722 389h1M722 391h1M722 394h1M722 396h1M722 398h1M722 408h1M722 410h1M722 411h1M722 412h1M722 414h1M722 416h1M722 419h1M722 420h1M722 421h1M722 423h1M722 425h1M722 434h1M722 437h1M722 439h1M722 441h1M722 442h1M722 445h1M722 448h1M722 451h1M722 458h1M723 374h1M723 376h1M723 380h1M723 388h1M723 389h1M723 392h1M723 393h1M723 395h1M723 401h1M723 403h1M723 404h1M723 407h1M723 408h1M723 414h1M723 418h1M723 421h1M723 422h1M723 423h1M723 428h1M723 432h1M723 433h1M723 434h1M723 440h1M723 443h1M723 446h1M723 448h1M723 449h1M723 453h1M723 457h1M723 460h1M723 461h1M723 464h1M724 374h1M724 376h1M724 379h1M724 382h1M724 383h1M724 387h1M724 390h1M724 391h1M724 396h1M724 397h1M724 398h1M724 399h1M724 406h1M724 408h1M724 423h1M724 427h1M724 429h1M724 430h1M724 431h1M724 433h1M724 436h1M724 439h1M724 445h1M724 447h1M724 448h1M724 449h1M724 453h1M724 458h1M724 461h1M724 462h1M725 374h1M725 384h1M725 388h1M725 390h1M725 399h1M725 402h1M725 403h1M725 405h1M725 408h1M725 410h1M725 415h1M725 416h1M725 419h1M725 425h1M725 426h1M725 429h1M725 431h1M725 436h1M725 437h1M725 438h1M725 439h1M725 442h1M725 443h1M725 446h1M725 447h1M725 449h1M725 455h1M725 456h1M725 458h1M725 460h1M725 462h1M726 375h1M726 378h1M726 379h1M726 383h1M726 384h1M726 386h1M726 388h1M726 389h1M726 390h1M726 391h1M726 394h1M726 395h1M726 396h1M726 398h1M726 402h1M726 410h1M726 413h1M726 414h1M726 415h1M726 422h1M726 423h1M726 424h1M726 432h1M726 435h1M726 440h1M726 443h1M726 449h1M726 451h1M726 453h1M726 457h1M726 460h1M726 461h1M726 462h1M727 375h1M727 376h1M727 378h1M727 380h1M727 390h1M727 391h1M727 401h1M727 403h1M727 411h1M727 413h1M727 415h1M727 416h1M727 418h1M727 420h1M727 422h1M727 424h1M727 425h1M727 427h1M727 428h1M727 430h1M727 431h1M727 434h1M727 435h1M727 437h1M727 438h1M727 441h1M727 443h1M727 445h1M727 446h1M727 449h1M727 463h1M728 373h1M728 377h1M728 379h1M728 382h1M728 388h1M728 389h1M728 395h1M728 398h1M728 400h1M728 402h1M728 405h1M728 406h1M728 412h1M728 413h1M728 414h1M728 415h1M728 416h1M728 417h1M728 421h1M728 425h1M728 427h1M728 429h1M728 430h1M728 434h1M728 447h1M728 448h1M728 455h1M728 459h1M728 463h1M729 376h1M729 377h1M729 384h1M729 388h1M729 393h1M729 396h1M729 397h1M729 399h1M729 402h1M729 405h1M729 407h1M729 409h1M729 410h1M729 411h1M729 412h1M729 415h1M729 416h1M729 417h1M729 418h1M729 419h1M729 422h1M729 424h1M729 427h1M729 431h1M729 433h1M729 434h1M729 437h1M729 443h1M729 449h1M729 452h1M729 459h1M729 460h1M729 461h1M730 374h1M730 375h1M730 380h1M730 383h1M730 384h1M730 385h1M730 386h1M730 396h1M730 401h1M730 402h1M730 406h1M730 407h1M730 409h1M730 411h1M730 415h1M730 416h1M730 418h1M730 419h1M730 422h1M730 428h1M730 433h1M730 434h1M730 436h1M730 440h1M730 444h1M730 445h1M730 451h1M730 452h1M730 453h1M730 457h1M730 460h1M730 461h1M730 463h1M731 373h1M731 374h1M731 375h1M731 390h1M731 391h1M731 392h1M731 397h1M731 404h1M731 409h1M731 412h1M731 417h1M731 419h1M731 422h1M731 456h1M731 462h1M732 371h1M732 373h1M732 374h1M732 376h1M732 377h1M732 381h1M732 385h1M732 388h1M732 390h1M732 395h1M732 401h1M732 403h1M732 405h1M732 414h1M732 415h1M733 372h1M733 373h1M733 374h1M733 377h1M733 380h1M733 387h1M733 388h1M733 389h1M733 393h1M733 399h1M733 402h1M733 406h1M733 408h1M733 409h1M733 411h1M733 412h1M734 375h1M734 379h1M734 381h1M734 383h1M734 390h1M734 396h1M734 399h1M734 401h1M734 406h1M734 408h1M735 370h1M735 379h1M735 385h1M735 388h1M735 389h1M735 392h1M735 395h1M735 399h1M735 403h1M736 370h1M736 372h1M736 377h1M736 378h1M736 380h1M736 381h1M736 382h1M736 384h1M736 385h1M736 391h1M736 392h1M736 393h1M736 395h1M736 401h1M737 371h1M737 378h1M737 382h1M737 384h1M737 387h1M737 388h1M737 393h1M737 398h1M738 369h1M738 373h1M738 376h1M738 379h1M738 380h1M738 381h1M738 387h1M738 388h1M738 393h1M738 396h1M739 369h1M739 372h1M739 380h1M739 382h1M739 383h1M739 391h1M739 393h1M740 369h1M740 371h1M740 375h1M740 377h1M740 381h1M740 383h1M740 384h1M740 385h1M740 386h1M740 392h1M741 371h1M741 375h1M741 378h1M741 380h1M741 382h1M741 384h1M741 386h1M741 388h1M742 369h1M742 371h1M742 376h1M742 378h1M742 380h1M742 381h1M742 382h1M742 383h1M742 386h1M742 387h1M743 370h1M743 371h1M743 381h1M743 386h1M744 378h1M744 381h1M744 384h1M745 377h1M745 382h1" stroke="#3558b5" stroke-width="1.3" fill="none"/>
<polygon points="715.2,420.9 724.6,392.7 735.4,372.5 744.8,370.5 741.4,390.0 732.0,412.9 724.6,427.7" fill="#3f8fd8" opacity="0.55" filter="url(#b2)"/>
<path d="M716 419h1M717 417h1M717 420h1M718 413h1M718 414h1M719 409h1M719 410h1M719 414h1M719 415h1M719 419h1M719 424h1M720 408h1M720 409h1M720 413h1M720 414h1M720 415h1M720 416h1M720 417h1M720 420h1M720 422h1M720 423h1M721 405h1M721 406h1M721 407h1M721 408h1M721 409h1M721 410h1M721 412h1M721 420h1M721 422h1M722 401h1M722 402h1M722 403h1M722 404h1M722 406h1M722 408h1M722 411h1M722 412h1M722 413h1M722 415h1M722 417h1M723 399h1M723 400h1M723 406h1M723 407h1M723 409h1M723 411h1M723 412h1M723 414h1M723 415h1M723 418h1M723 419h1M723 423h1M723 424h1M724 396h1M724 399h1M724 401h1M724 402h1M724 403h1M724 404h1M724 407h1M724 410h1M724 411h1M724 412h1M724 415h1M724 417h1M724 418h1M724 420h1M724 422h1M724 423h1M724 424h1M725 393h1M725 394h1M725 395h1M725 404h1M725 406h1M725 407h1M725 409h1M725 412h1M725 413h1M725 414h1M725 415h1M725 417h1M725 419h1M725 420h1M725 422h1M725 424h1M726 391h1M726 392h1M726 398h1M726 399h1M726 400h1M726 406h1M726 411h1M726 415h1M726 418h1M726 420h1M726 423h1M727 391h1M727 392h1M727 400h1M727 404h1M727 405h1M727 409h1M727 412h1M727 416h1M727 417h1M727 419h1M727 421h1M728 389h1M728 394h1M728 398h1M728 399h1M728 401h1M728 402h1M728 406h1M728 409h1M728 410h1M728 413h1M728 414h1M728 417h1M728 418h1M728 420h1M729 387h1M729 390h1M729 396h1M729 398h1M729 403h1M729 409h1M729 413h1M729 414h1M730 383h1M730 385h1M730 386h1M730 387h1M730 392h1M730 397h1M730 400h1M730 402h1M730 403h1M730 405h1M730 406h1M730 408h1M730 411h1M730 412h1M730 413h1M731 384h1M731 386h1M731 391h1M731 392h1M731 393h1M731 395h1M731 403h1M731 405h1M731 407h1M731 408h1M731 409h1M731 412h1M732 379h1M732 381h1M732 383h1M732 387h1M732 388h1M732 389h1M732 390h1M732 394h1M732 395h1M732 396h1M732 397h1M732 399h1M732 404h1M732 406h1M732 407h1M732 411h1M732 412h1M732 413h1M733 378h1M733 380h1M733 387h1M733 392h1M733 396h1M733 398h1M733 399h1M733 400h1M733 401h1M733 404h1M733 408h1M733 409h1M733 410h1M734 377h1M734 382h1M734 384h1M734 385h1M734 386h1M734 387h1M734 392h1M734 394h1M734 396h1M734 399h1M734 400h1M734 402h1M734 404h1M734 406h1M735 377h1M735 378h1M735 381h1M735 382h1M735 383h1M735 386h1M735 390h1M735 392h1M735 395h1M735 396h1M735 399h1M735 404h1M735 405h1M736 377h1M736 380h1M736 382h1M736 383h1M736 386h1M736 387h1M736 388h1M736 390h1M736 391h1M736 393h1M736 396h1M736 401h1M736 402h1M737 378h1M737 381h1M737 382h1M737 383h1M737 384h1M737 386h1M737 387h1M737 388h1M737 392h1M737 393h1M737 398h1M737 401h1M738 375h1M738 376h1M738 377h1M738 378h1M738 379h1M738 381h1M738 382h1M738 384h1M738 385h1M738 392h1M738 399h1M739 374h1M739 375h1M739 376h1M739 382h1M739 383h1M739 384h1M739 392h1M739 394h1M740 373h1M740 375h1M740 380h1M740 384h1M740 385h1M740 388h1M740 394h1M741 372h1M741 373h1M741 375h1M741 378h1M741 382h1M741 386h1M741 390h1M741 391h1M742 371h1M742 380h1M742 382h1M742 385h1M742 386h1M743 371h1M743 378h1M743 381h1" stroke="#3f8fd8" stroke-width="1.3" fill="none"/>
<path d="M730 416h1M730 439h1M730 464h1M731 426h1M731 435h1M731 441h1M731 443h1M731 444h1M731 456h1M732 414h1M732 422h1M732 433h1M732 434h1M732 442h1M732 444h1M732 449h1M733 415h1M733 422h1M733 423h1M733 424h1M733 426h1M733 428h1M733 431h1M733 439h1M733 449h1M733 458h1M734 405h1M734 406h1M734 409h1M734 417h1M734 424h1M734 438h1M734 439h1M734 441h1M734 442h1M734 448h1M734 449h1M734 450h1M734 457h1M734 458h1M734 459h1M734 462h1M735 402h1M735 403h1M735 411h1M735 414h1M735 419h1M735 430h1M735 439h1M735 440h1M735 443h1M735 446h1M735 449h1M735 451h1M735 453h1M735 456h1M736 408h1M736 416h1M736 422h1M736 427h1M736 430h1M736 434h1M736 437h1M736 439h1M736 442h1M736 452h1M736 461h1M736 463h1M737 405h1M737 406h1M737 428h1M737 429h1M737 435h1M737 438h1M737 444h1M737 447h1M737 454h1M737 457h1M737 463h1M738 415h1M738 418h1M738 426h1M738 434h1M738 448h1M738 452h1M738 456h1M739 399h1M739 413h1M739 424h1M739 430h1M739 451h1M739 454h1M739 464h1M740 400h1M740 435h1M740 440h1M740 441h1M740 458h1M740 461h1M740 462h1M740 463h1M741 437h1M741 438h1M741 450h1M741 453h1M741 454h1M741 457h1M742 432h1M742 436h1M742 438h1M742 448h1M742 449h1M742 462h1M743 405h1M743 424h1M743 434h1M743 445h1M744 429h1M744 436h1M744 451h1M745 411h1M745 416h1M745 426h1M745 437h1M745 441h1M745 443h1M745 448h1M746 411h1M746 414h1M746 416h1M746 425h1M746 447h1M746 464h1M747 402h1M747 408h1M747 416h1M747 427h1M747 434h1M747 450h1M747 462h1M748 423h1M748 435h1M748 440h1M748 446h1M748 460h1M748 464h1M749 406h1M749 427h1M749 434h1M749 441h1M750 456h1M750 457h1M750 460h1M750 461h1M750 463h1M751 418h1M752 404h1M752 412h1M752 444h1M752 450h1M752 455h1M753 397h1M753 400h1M753 407h1M753 418h1M753 428h1M754 405h1M754 406h1M754 457h1M755 411h1M755 414h1M755 443h1M755 454h1M756 445h1M756 458h1M756 463h1M757 406h1M757 449h1M757 453h1M758 439h1M759 430h1M760 420h1M760 453h1M761 444h1M761 463h1M762 451h1M763 407h1M766 398h1M766 440h1M778 447h1M782 436h1" stroke="#7f78c8" stroke-width="1.1" fill="none"/>
<path d="M730 409h1M730 413h1M730 428h1M730 430h1M730 439h1M730 440h1M730 445h1M731 437h1M731 445h1M731 446h1M731 448h1M731 452h1M731 458h1M731 462h1M732 396h1M732 402h1M732 410h1M732 426h1M732 432h1M732 436h1M732 447h1M732 453h1M732 458h1M732 464h1M733 408h1M734 405h1M734 412h1M734 416h1M734 419h1M734 441h1M734 442h1M734 447h1M734 465h1M735 435h1M735 448h1M735 449h1M736 410h1M736 422h1M736 426h1M736 427h1M736 432h1M736 442h1M736 447h1M736 457h1M736 461h1M737 422h1M737 438h1M737 441h1M737 446h1M738 408h1M738 409h1M738 458h1M739 405h1M739 422h1M739 431h1M739 434h1M739 454h1M739 459h1M739 461h1M740 441h1M740 453h1M740 455h1M740 458h1M741 398h1M741 411h1M741 423h1M741 439h1M741 442h1M741 450h1M741 456h1M741 464h1M742 423h1M742 429h1M742 445h1M742 454h1M742 455h1M742 456h1M743 408h1M743 410h1M743 438h1M743 440h1M743 446h1M743 455h1M745 415h1M745 428h1M745 442h1M745 449h1M745 455h1M745 458h1M745 459h1M746 411h1M746 457h1M747 413h1M747 422h1M747 429h1M747 430h1M747 458h1M748 437h1M748 441h1M748 450h1M748 462h1M748 463h1M749 433h1M749 438h1M749 446h1M749 452h1M750 426h1M750 442h1M750 463h1M750 464h1M752 444h1M752 446h1M753 402h1M753 448h1M754 406h1M754 453h1M754 460h1M755 451h1M755 455h1M755 465h1M757 397h1M757 427h1M761 433h1M762 434h1M762 438h1M763 444h1M768 464h1M781 438h1" stroke="#d9a3c4" stroke-width="1.1" fill="none"/>
<path d="M684 376h1M684 378h1M684 384h1M684 389h1M685 368h1M685 385h1M685 386h1M685 387h1M685 388h1M685 389h1M686 377h1M686 385h1M686 386h1M686 389h1M686 390h1M687 380h1M687 384h1M687 386h1M687 388h1M687 389h1M688 372h1M688 379h1M688 380h1M688 385h1M688 388h1M688 389h1M689 374h1M689 376h1M689 377h1M689 378h1M689 384h1M689 389h1M689 390h1M690 384h1M690 386h1M690 387h1M690 388h1M690 389h1M691 381h1M691 386h1M691 387h1M691 389h1M692 379h1M692 382h1M692 383h1M692 386h1M692 388h1M692 390h1M693 381h1M693 383h1M693 388h1M694 379h1M694 381h1M694 382h1M694 386h1M694 387h1M695 381h1M695 382h1M695 383h1M695 388h1M695 390h1M696 369h1M696 388h1M696 389h1M697 374h1M697 385h1M697 387h1M697 388h1M698 383h1M698 385h1M698 386h1M698 389h1M699 379h1M699 380h1M699 383h1M699 384h1M699 385h1M699 388h1M699 389h1M700 373h1M700 383h1M700 385h1M700 390h1M701 366h1M701 385h1M701 386h1M701 389h1M701 390h1M702 378h1M702 383h1M702 384h1M702 387h1M702 388h1M702 389h1M703 376h1M703 378h1M703 379h1M703 383h1M703 384h1M703 386h1M703 387h1M703 388h1M703 389h1M704 377h1M704 385h1M704 387h1M705 369h1M705 376h1M705 380h1M705 382h1M706 383h1M706 384h1M706 385h1M706 386h1M706 390h1M707 383h1M707 384h1M707 388h1M707 389h1M708 378h1M708 382h1M708 384h1M708 385h1M709 381h1M709 385h1M709 386h1M709 387h1M709 388h1M710 381h1M711 377h1M711 379h1M711 382h1M711 385h1M711 387h1M712 384h1M712 388h1M712 389h1M713 368h1M713 371h1M713 378h1M713 379h1M713 381h1M713 383h1M713 385h1M713 386h1M713 387h1M714 380h1M714 385h1M714 386h1M714 390h1M715 381h1M715 388h1M715 389h1M716 384h1M716 386h1M716 387h1M716 388h1M716 390h1M717 381h1M717 382h1M717 385h1M717 388h1M718 384h1" stroke="#c8a8d0" stroke-width="1.0" fill="none"/>
<rect x="684.5" y="444.5" width="41.7" height="20.2" fill="#3558b5" opacity="0.9" filter="url(#b2)"/>
<rect x="684.5" y="462.9" width="40.1" height="7.0" fill="#1f6a58" rx="3"/>
<rect x="631.7" y="317.3" width="38.8" height="157.5" fill="none" stroke="#444" stroke-width="1.5"/>
<rect x="684.3" y="319.5" width="143.9" height="155.3" fill="none" stroke="#444" stroke-width="2"/>
<rect x="630.5" y="306.7" width="206.5" height="174.2" fill="none" stroke="#444" stroke-width="2"/>
<path d="M633.1 480.8v3M638.3 480.8v3M643.4 480.8v3M648.6 480.8v3M653.7 480.8v5.5M658.9 480.8v3M664.1 480.8v3M669.2 480.8v3M674.4 480.8v3M679.5 480.8v5.5M684.7 480.8v3M689.9 480.8v3M695.0 480.8v3M700.2 480.8v3M705.4 480.8v5.5M710.5 480.8v3M715.7 480.8v3M720.8 480.8v3M726.0 480.8v3M731.2 480.8v5.5M736.3 480.8v3M741.5 480.8v3M746.6 480.8v3M751.8 480.8v3M757.0 480.8v5.5M762.1 480.8v3M767.3 480.8v3M772.5 480.8v3M777.6 480.8v3M782.8 480.8v5.5M787.9 480.8v3M793.1 480.8v3M798.3 480.8v3M803.4 480.8v3M808.6 480.8v5.5M813.7 480.8v3M818.9 480.8v3M824.1 480.8v3M829.2 480.8v3M834.4 480.8v5.5" stroke="#333" stroke-width="1" fill="none"/>
<path d="M630.5 477.9h-3M630.5 472.1h-3M630.5 466.3h-3M630.5 460.5h-3M630.5 454.7h-5.5M630.5 448.9h-3M630.5 443.1h-3M630.5 437.3h-3M630.5 431.5h-3M630.5 425.7h-5.5M630.5 419.9h-3M630.5 414.1h-3M630.5 408.3h-3M630.5 402.5h-3M630.5 396.7h-5.5M630.5 390.8h-3M630.5 385.0h-3M630.5 379.2h-3M630.5 373.4h-3M630.5 367.6h-5.5M630.5 361.8h-3M630.5 356.0h-3M630.5 350.2h-3M630.5 344.4h-3M630.5 338.6h-5.5M630.5 332.8h-3M630.5 327.0h-3M630.5 321.2h-3M630.5 315.4h-3M630.5 309.6h-5.5" stroke="#333" stroke-width="1" fill="none"/>
<text x="655.7" y="304.3" font-size="13.5" fill="#474747">Specimen_001-DS017</text>
<text x="733.9" y="509.7" font-size="12.5" text-anchor="middle" fill="#474747">CD19 Red3-A</text>
<text x="606.8" y="391.1" font-size="12.5" text-anchor="middle" fill="#474747" transform="rotate(-90 606.8 391.1)">CD11c Yellow1-A</text>
<text x="627.7" y="498.5" font-size="8.5" text-anchor="middle" fill="#474747">-48</text>
<text x="644.1" y="498.5" font-size="8.5" text-anchor="middle" fill="#474747">0</text>
<text x="673.9" y="498.5" font-size="8.5" text-anchor="middle" fill="#474747">10²</text>
<text x="724.6" y="498.5" font-size="8.5" text-anchor="middle" fill="#474747">10³</text>
<text x="771.2" y="498.5" font-size="8.5" text-anchor="middle" fill="#474747">10⁴</text>
<text x="815.6" y="498.5" font-size="8.5" text-anchor="middle" fill="#474747">10⁵</text>
<text x="621.7" y="442.2" font-size="8.5" text-anchor="middle" fill="#474747" transform="rotate(-90 621.7 442.2)">10²</text>
<text x="621.7" y="400.5" font-size="8.5" text-anchor="middle" fill="#474747" transform="rotate(-90 621.7 400.5)">10³</text>
<text x="621.7" y="358.7" font-size="8.5" text-anchor="middle" fill="#474747" transform="rotate(-90 621.7 358.7)">10⁴</text>
<text x="621.7" y="317.7" font-size="8.5" text-anchor="middle" fill="#474747" transform="rotate(-90 621.7 317.7)">10⁵</text>
<text x="608.0" y="483.2" font-size="8" text-anchor="middle" fill="#474747" transform="rotate(-90 608.0 483.2)">-58</text>
<text x="620.3" y="490.6" font-size="9" font-weight="bold" fill="#3a50b0">M</text>
<text x="748.5" y="402.3" font-size="10.5" fill="#333">P4</text>
<text x="644.1" y="401.2" font-size="10" fill="#3a3a10">P3</text>
<rect x="871.8" y="300.9" width="197.2" height="191.6" fill="none" stroke="#999" stroke-width="1.2"/>
<path d="M947 427h1M947 443h1M947 452h1M947 456h1M948 425h1M948 433h1M948 434h1M948 435h1M948 445h1M948 451h1M948 454h1M948 457h1M948 465h1M948 469h1M949 415h1M949 429h1M949 441h1M949 445h1M949 447h1M949 453h1M949 456h1M949 464h1M949 469h1M949 471h1M950 402h1M950 412h1M950 420h1M950 430h1M950 435h1M950 443h1M950 451h1M950 455h1M950 457h1M950 468h1M950 471h1M951 413h1M951 433h1M951 436h1M951 451h1M951 457h1M951 468h1M952 440h1M952 446h1M952 447h1M952 450h1M952 456h1M952 457h1M952 458h1M952 459h1M952 464h1M952 465h1M952 469h1M952 470h1M953 422h1M953 423h1M953 424h1M953 428h1M953 437h1M953 439h1M953 442h1M953 454h1M953 463h1M953 465h1M953 466h1M953 470h1M954 387h1M954 412h1M954 424h1M954 425h1M954 426h1M954 434h1M954 449h1M954 454h1M954 458h1M954 459h1M954 461h1M954 465h1M954 469h1M955 417h1M955 427h1M955 430h1M955 435h1M955 441h1M955 442h1M955 443h1M955 445h1M955 452h1M955 454h1M955 455h1M955 460h1M955 463h1M955 466h1M955 469h1M955 470h1M956 403h1M956 413h1M956 424h1M956 427h1M956 434h1M956 440h1M956 443h1M956 444h1M956 446h1M956 447h1M956 452h1M956 455h1M956 458h1M956 461h1M956 462h1M956 465h1M956 466h1M956 471h1M957 436h1M957 443h1M957 452h1M957 455h1M957 456h1M957 465h1M957 468h1M957 471h1M958 416h1M958 445h1M958 447h1M958 456h1M958 458h1M958 464h1M959 407h1M959 412h1M959 420h1M959 424h1M959 441h1M959 445h1M959 446h1M959 451h1M959 452h1M959 457h1M959 458h1M959 462h1M959 463h1M960 423h1M960 427h1M960 438h1M960 441h1M960 450h1M960 458h1M960 471h1M961 414h1M961 419h1M961 441h1M961 450h1M961 453h1M961 459h1M961 469h1M962 417h1M962 418h1M962 428h1M962 439h1M962 441h1M962 445h1M962 449h1M962 450h1M962 453h1M962 455h1M962 463h1M962 465h1M962 468h1M963 423h1M963 436h1M963 443h1M963 445h1M963 451h1M963 452h1M963 460h1M963 464h1M963 466h1M963 467h1M963 468h1M963 471h1M964 407h1M964 415h1M964 434h1M964 442h1M964 450h1M964 451h1M964 453h1M964 456h1M964 460h1M964 462h1M964 466h1M964 470h1M964 471h1M965 417h1M965 420h1M965 424h1M965 435h1M965 440h1M965 443h1M965 457h1M965 466h1M965 468h1M965 469h1M965 471h1M966 424h1M966 437h1M966 454h1M966 457h1M966 460h1M966 461h1M966 465h1M966 467h1M967 404h1M967 411h1M967 421h1M967 425h1M967 454h1M967 456h1M967 459h1M967 460h1M967 462h1M967 463h1M967 470h1M968 420h1M968 430h1M968 436h1M968 447h1M968 449h1M968 458h1M968 463h1M968 465h1M968 470h1M969 425h1M969 437h1M969 451h1M969 458h1M969 460h1M969 467h1M969 469h1M970 414h1M970 429h1M970 447h1M970 450h1M970 455h1M970 461h1M971 417h1M971 451h1M971 452h1M971 453h1M971 455h1M971 458h1M971 459h1M971 464h1M972 436h1M972 454h1M972 455h1M972 461h1M973 416h1M973 422h1M973 445h1M973 466h1M974 434h1M974 447h1M974 449h1M974 461h1M974 464h1M975 419h1M975 431h1M975 443h1M975 444h1M975 447h1M975 452h1M975 455h1M976 427h1M976 430h1M976 435h1M976 453h1M976 457h1M976 464h1M976 467h1M977 426h1M977 437h1M977 440h1M977 446h1M977 452h1M978 410h1M978 435h1M978 447h1M978 455h1M978 462h1M978 465h1M978 468h1M978 470h1M979 391h1M979 456h1M979 457h1M979 463h1M979 470h1M979 471h1M980 424h1M980 433h1M981 419h1M981 427h1M981 441h1M981 445h1M981 460h1M981 461h1M981 469h1M982 453h1M983 401h1M983 437h1M983 465h1M984 435h1M984 453h1M984 468h1M984 470h1M985 393h1M985 452h1M985 454h1M985 465h1M986 419h1M986 450h1M986 454h1M986 456h1M986 461h1M987 418h1M987 425h1M987 435h1M987 438h1M987 442h1M987 445h1M987 466h1M987 467h1M987 471h1M988 437h1M988 438h1M988 468h1M989 402h1M989 459h1M990 431h1M990 450h1M990 457h1M990 461h1M990 468h1M991 469h1M992 424h1M992 430h1M992 446h1M992 456h1M992 459h1M992 468h1M993 443h1M993 455h1M993 469h1M993 471h1M994 466h1M994 468h1M995 422h1M995 439h1M995 450h1M995 468h1M996 458h1M996 467h1M997 437h1M997 447h1M998 451h1M998 463h1M999 447h1M999 448h1M1002 415h1M1002 451h1M1003 454h1M1003 462h1M1004 453h1M1005 454h1M1012 421h1M1013 459h1M1017 446h1M1022 400h1M1023 445h1M1028 469h1M1029 443h1" stroke="#f2b9a0" stroke-width="1.1" fill="none" opacity="0.8"/>
<path d="M917 409h1M917 417h1M917 423h1M917 426h1M917 427h1M917 429h1M917 430h1M917 434h1M917 440h1M917 441h1M917 443h1M917 445h1M917 447h1M917 448h1M917 449h1M917 450h1M917 451h1M917 453h1M917 454h1M917 455h1M917 456h1M917 457h1M917 459h1M917 460h1M918 401h1M918 403h1M918 405h1M918 406h1M918 407h1M918 409h1M918 410h1M918 414h1M918 416h1M918 417h1M918 418h1M918 419h1M918 420h1M918 421h1M918 422h1M918 423h1M918 424h1M918 425h1M918 426h1M918 428h1M918 429h1M918 430h1M918 431h1M918 432h1M918 433h1M918 434h1M918 435h1M918 436h1M918 437h1M918 438h1M918 439h1M918 440h1M918 441h1M918 442h1M918 443h1M918 444h1M918 445h1M918 446h1M918 447h1M918 448h1M918 449h1M918 450h1M918 451h1M918 452h1M918 453h1M918 454h1M918 455h1M918 456h1M918 457h1M918 458h1M918 459h1M918 460h1M919 401h1M919 402h1M919 403h1M919 404h1M919 405h1M919 407h1M919 411h1M919 412h1M919 413h1M919 415h1M919 417h1M919 418h1M919 419h1M919 420h1M919 421h1M919 422h1M919 423h1M919 425h1M919 426h1M919 427h1M919 428h1M919 429h1M919 431h1M919 432h1M919 433h1M919 434h1M919 435h1M919 436h1M919 437h1M919 438h1M919 439h1M919 440h1M919 441h1M919 442h1M919 443h1M919 444h1M919 445h1M919 446h1M919 448h1M919 449h1M919 450h1M919 451h1M919 452h1M919 453h1M919 454h1M919 455h1M919 456h1M919 457h1M919 458h1M919 459h1M919 460h1M920 399h1M920 401h1M920 404h1M920 406h1M920 410h1M920 411h1M920 412h1M920 414h1M920 415h1M920 416h1M920 417h1M920 418h1M920 419h1M920 420h1M920 421h1M920 424h1M920 425h1M920 426h1M920 427h1M920 428h1M920 429h1M920 430h1M920 431h1M920 432h1M920 433h1M920 434h1M920 435h1M920 436h1M920 437h1M920 438h1M920 439h1M920 440h1M920 441h1M920 442h1M920 443h1M920 444h1M920 445h1M920 446h1M920 447h1M920 448h1M920 449h1M920 450h1M920 451h1M920 452h1M920 453h1M920 454h1M920 455h1M920 456h1M920 458h1M921 400h1M921 401h1M921 402h1M921 403h1M921 406h1M921 407h1M921 411h1M921 414h1M921 416h1M921 417h1M921 418h1M921 421h1M921 422h1M921 426h1M921 427h1M921 428h1M921 429h1M921 430h1M921 431h1M921 432h1M921 434h1M921 435h1M921 436h1M921 437h1M921 438h1M921 439h1M921 440h1M921 441h1M921 442h1M921 443h1M921 444h1M921 445h1M921 446h1M921 447h1M921 448h1M921 449h1M921 450h1M921 451h1M921 452h1M921 453h1M921 454h1M921 455h1M921 456h1M921 457h1M921 458h1M921 459h1M922 397h1M922 399h1M922 404h1M922 406h1M922 410h1M922 412h1M922 413h1M922 414h1M922 416h1M922 418h1M922 420h1M922 422h1M922 423h1M922 424h1M922 425h1M922 426h1M922 427h1M922 428h1M922 430h1M922 432h1M922 433h1M922 434h1M922 435h1M922 436h1M922 437h1M922 439h1M922 442h1M922 443h1M922 444h1M922 445h1M922 446h1M922 447h1M922 448h1M922 449h1M922 450h1M922 451h1M922 452h1M922 453h1M922 454h1M922 455h1M922 456h1M922 457h1M922 458h1M922 459h1M923 399h1M923 401h1M923 402h1M923 406h1M923 407h1M923 410h1M923 412h1M923 414h1M923 416h1M923 417h1M923 421h1M923 422h1M923 423h1M923 424h1M923 425h1M923 427h1M923 428h1M923 429h1M923 430h1M923 431h1M923 432h1M923 433h1M923 434h1M923 435h1M923 436h1M923 437h1M923 438h1M923 439h1M923 440h1M923 441h1M923 442h1M923 443h1M923 444h1M923 445h1M923 446h1M923 447h1M923 449h1M923 450h1M923 451h1M923 452h1M923 453h1M923 455h1M923 456h1M923 457h1M923 458h1M923 459h1M923 460h1M924 399h1M924 403h1M924 406h1M924 408h1M924 410h1M924 415h1M924 416h1M924 417h1M924 418h1M924 419h1M924 420h1M924 421h1M924 422h1M924 423h1M924 425h1M924 426h1M924 427h1M924 428h1M924 431h1M924 432h1M924 433h1M924 434h1M924 435h1M924 436h1M924 437h1M924 438h1M924 439h1M924 440h1M924 441h1M924 442h1M924 443h1M924 444h1M924 445h1M924 446h1M924 447h1M924 448h1M924 449h1M924 450h1M924 451h1M924 452h1M924 453h1M924 454h1M924 455h1M924 456h1M924 457h1M924 458h1M924 459h1M924 460h1M925 397h1M925 402h1M925 404h1M925 406h1M925 408h1M925 411h1M925 412h1M925 413h1M925 416h1M925 418h1M925 419h1M925 421h1M925 422h1M925 425h1M925 426h1M925 427h1M925 428h1M925 429h1M925 430h1M925 431h1M925 432h1M925 433h1M925 434h1M925 435h1M925 436h1M925 437h1M925 438h1M925 439h1M925 440h1M925 441h1M925 442h1M925 443h1M925 444h1M925 446h1M925 448h1M925 449h1M925 450h1M925 451h1M925 452h1M925 453h1M925 454h1M925 455h1M925 456h1M925 457h1M925 458h1M925 459h1M926 402h1M926 403h1M926 407h1M926 412h1M926 415h1M926 416h1M926 417h1M926 418h1M926 419h1M926 420h1M926 421h1M926 422h1M926 423h1M926 424h1M926 425h1M926 426h1M926 427h1M926 428h1M926 429h1M926 430h1M926 431h1M926 432h1M926 433h1M926 434h1M926 435h1M926 436h1M926 437h1M926 439h1M926 440h1M926 441h1M926 442h1M926 443h1M926 444h1M926 445h1M926 446h1M926 447h1M926 449h1M926 450h1M926 451h1M926 452h1M926 453h1M926 454h1M926 455h1M926 456h1M926 457h1M926 458h1M926 459h1M926 460h1M927 398h1M927 401h1M927 412h1M927 413h1M927 415h1M927 416h1M927 418h1M927 419h1M927 420h1M927 421h1M927 422h1M927 423h1M927 424h1M927 425h1M927 426h1M927 427h1M927 429h1M927 430h1M927 431h1M927 432h1M927 434h1M927 435h1M927 436h1M927 437h1M927 438h1M927 439h1M927 440h1M927 442h1M927 443h1M927 444h1M927 446h1M927 448h1M927 449h1M927 451h1M927 452h1M927 453h1M927 454h1M927 455h1M927 456h1M927 457h1M927 458h1M927 459h1M927 460h1M928 400h1M928 405h1M928 408h1M928 409h1M928 416h1M928 418h1M928 419h1M928 420h1M928 421h1M928 423h1M928 426h1M928 428h1M928 429h1M928 430h1M928 432h1M928 433h1M928 435h1M928 436h1M928 440h1M928 442h1M928 443h1M928 444h1M928 445h1M928 446h1M928 447h1M928 448h1M928 449h1M928 453h1M928 454h1M928 455h1M928 456h1M928 457h1M928 458h1M928 459h1M928 460h1M929 400h1M929 405h1M929 408h1M929 409h1M929 410h1M929 411h1M929 412h1M929 414h1M929 415h1M929 417h1M929 419h1M929 420h1M929 422h1M929 423h1M929 424h1M929 425h1M929 426h1M929 427h1M929 428h1M929 429h1M929 430h1M929 431h1M929 432h1M929 435h1M929 436h1M929 437h1M929 438h1M929 439h1M929 440h1M929 441h1M929 442h1M929 443h1M929 444h1M929 445h1M929 446h1M929 447h1M929 448h1M929 449h1M929 450h1M929 451h1M929 452h1M929 453h1M929 454h1M929 455h1M929 456h1M929 457h1M929 458h1M929 459h1M930 399h1M930 405h1M930 409h1M930 410h1M930 413h1M930 415h1M930 417h1M930 418h1M930 419h1M930 421h1M930 422h1M930 423h1M930 425h1M930 427h1M930 429h1M930 430h1M930 432h1M930 433h1M930 434h1M930 435h1M930 436h1M930 437h1M930 438h1M930 439h1M930 440h1M930 441h1M930 443h1M930 444h1M930 445h1M930 447h1M930 448h1M930 449h1M930 450h1M930 451h1M930 452h1M930 453h1M930 454h1M930 455h1M930 456h1M930 457h1M930 458h1M930 459h1M930 460h1M931 397h1M931 398h1M931 400h1M931 403h1M931 406h1M931 408h1M931 409h1M931 410h1M931 412h1M931 417h1M931 421h1M931 422h1M931 423h1M931 424h1M931 426h1M931 427h1M931 428h1M931 429h1M931 430h1M931 432h1M931 433h1M931 434h1M931 436h1M931 437h1M931 439h1M931 440h1M931 441h1M931 442h1M931 443h1M931 444h1M931 445h1M931 446h1M931 447h1M931 449h1M931 450h1M931 451h1M931 452h1M931 453h1M931 454h1M931 455h1M931 456h1M931 457h1M931 458h1M931 459h1M931 460h1M932 411h1M932 412h1M932 413h1M932 416h1M932 418h1M932 419h1M932 420h1M932 421h1M932 424h1M932 425h1M932 426h1M932 427h1M932 428h1M932 429h1M932 430h1M932 433h1M932 434h1M932 437h1M932 440h1M932 441h1M932 443h1M932 444h1M932 445h1M932 446h1M932 448h1M932 449h1M932 450h1M932 451h1M932 452h1M932 453h1M932 454h1M932 455h1M932 456h1M932 457h1M932 458h1M932 459h1M932 460h1M933 397h1M933 403h1M933 404h1M933 407h1M933 410h1M933 411h1M933 413h1M933 415h1M933 416h1M933 417h1M933 421h1M933 422h1M933 423h1M933 427h1M933 429h1M933 430h1M933 432h1M933 433h1M933 434h1M933 435h1M933 436h1M933 437h1M933 438h1M933 440h1M933 441h1M933 442h1M933 443h1M933 444h1M933 445h1M933 446h1M933 448h1M933 449h1M933 450h1M933 451h1M933 452h1M933 454h1M933 456h1M933 457h1M933 458h1M933 459h1M934 396h1M934 405h1M934 407h1M934 410h1M934 413h1M934 420h1M934 422h1M934 424h1M934 425h1M934 428h1M934 429h1M934 430h1M934 431h1M934 432h1M934 434h1M934 435h1M934 436h1M934 437h1M934 439h1M934 440h1M934 441h1M934 443h1M934 444h1M934 445h1M934 446h1M934 447h1M934 448h1M934 449h1M934 450h1M934 452h1M934 454h1M934 455h1M934 456h1M934 457h1M934 458h1M934 459h1M934 460h1M935 397h1M935 406h1M935 412h1M935 417h1M935 418h1M935 420h1M935 422h1M935 423h1M935 424h1M935 425h1M935 427h1M935 429h1M935 430h1M935 431h1M935 432h1M935 433h1M935 434h1M935 435h1M935 437h1M935 438h1M935 439h1M935 441h1M935 442h1M935 443h1M935 444h1M935 445h1M935 446h1M935 447h1M935 448h1M935 449h1M935 450h1M935 452h1M935 453h1M935 455h1M935 456h1M935 457h1M935 458h1M935 459h1M935 460h1M936 400h1M936 413h1M936 415h1M936 420h1M936 424h1M936 427h1M936 430h1M936 432h1M936 436h1M936 440h1M936 441h1M936 442h1M936 444h1M936 445h1M936 447h1M936 448h1M936 450h1M936 451h1M936 452h1M936 453h1M936 454h1M936 455h1M936 456h1M936 457h1M936 459h1M936 460h1M937 411h1M937 413h1M937 415h1M937 419h1M937 421h1M937 422h1M937 427h1M937 429h1M937 434h1M937 435h1M937 436h1M937 440h1M937 442h1M937 443h1M937 444h1M937 445h1M937 447h1M937 449h1M937 451h1M937 452h1M937 455h1M937 456h1M937 458h1M938 406h1M938 408h1M938 410h1M938 417h1M938 421h1M938 424h1M938 426h1M938 428h1M938 429h1M938 430h1M938 431h1M938 432h1M938 436h1M938 437h1M938 438h1M938 439h1M938 440h1M938 442h1M938 443h1M938 444h1M938 445h1M938 446h1M938 447h1M938 448h1M938 449h1M938 450h1M938 452h1M938 454h1M938 455h1M938 456h1M938 457h1M938 458h1M938 460h1M939 405h1M939 409h1M939 410h1M939 417h1M939 418h1M939 422h1M939 424h1M939 425h1M939 426h1M939 427h1M939 430h1M939 433h1M939 435h1M939 437h1M939 438h1M939 441h1M939 442h1M939 443h1M939 444h1M939 446h1M939 448h1M939 449h1M939 450h1M939 451h1M939 452h1M939 454h1M939 455h1M939 458h1M939 459h1M940 405h1M940 407h1M940 411h1M940 413h1M940 414h1M940 416h1M940 421h1M940 422h1M940 423h1M940 424h1M940 425h1M940 426h1M940 430h1M940 431h1M940 432h1M940 435h1M940 436h1M940 440h1M940 442h1M940 443h1M940 445h1M940 446h1M940 448h1M940 449h1M940 451h1M940 452h1M940 453h1M940 455h1M940 456h1M940 457h1M941 400h1M941 413h1M941 414h1M941 426h1M941 431h1M941 434h1M941 435h1M941 437h1M941 440h1M941 444h1M941 447h1M941 448h1M941 449h1M941 450h1M941 451h1M941 452h1M941 457h1M941 459h1M942 405h1M942 406h1M942 410h1M942 412h1M942 418h1M942 423h1M942 426h1M942 431h1M942 432h1M942 434h1M942 436h1M942 447h1M942 448h1M942 449h1M942 452h1M942 453h1M942 455h1M942 456h1M942 458h1M943 402h1M943 407h1M943 408h1M943 410h1M943 427h1M943 430h1M943 431h1M943 432h1M943 434h1M943 440h1M943 441h1M943 446h1M943 448h1M943 452h1M943 454h1M943 456h1M943 458h1M943 459h1M944 410h1M944 411h1M944 413h1M944 417h1M944 419h1M944 421h1M944 425h1M944 434h1M944 435h1M944 437h1M944 438h1M944 440h1M944 441h1M944 447h1M944 452h1M944 454h1M944 455h1M944 456h1M944 457h1M944 460h1M945 417h1M945 421h1M945 425h1M945 429h1M945 431h1M945 434h1M945 435h1M945 439h1M945 443h1M945 444h1M945 446h1M945 447h1M945 449h1M945 455h1M945 456h1M945 457h1M945 460h1M946 420h1M946 422h1M946 423h1M946 427h1M946 429h1M946 430h1M946 434h1M946 436h1M946 438h1M946 455h1M946 456h1M947 418h1M947 420h1M947 421h1M947 423h1M947 438h1M947 440h1M947 441h1M947 449h1M947 450h1M947 452h1M947 460h1M948 401h1M948 410h1M948 421h1M948 438h1M948 440h1M948 441h1M948 443h1M948 450h1M948 453h1M948 456h1M948 457h1M948 460h1M949 427h1M949 433h1M949 443h1M949 455h1" stroke="#3350b2" stroke-width="1.3" fill="none"/>
<rect x="917.7" y="419.1" width="25.7" height="41.0" fill="#3350b2" opacity="0.6"/>
<rect x="937.8" y="464.6" width="37.3" height="11.2" fill="#2c6e46" rx="5" opacity="0.85"/>
<path d="M953 466h1M953 467h1M953 468h1M953 470h1M953 472h1M953 474h1M954 466h1M954 467h1M954 468h1M954 472h1M954 477h1M955 467h1M955 468h1M955 469h1M955 471h1M955 472h1M955 475h1M956 471h1M956 476h1M957 466h1M957 467h1M957 468h1M957 470h1M957 472h1M957 473h1M957 474h1M957 475h1M958 466h1M958 472h1M958 473h1M958 474h1M958 475h1M959 465h1M959 468h1M959 469h1M959 470h1M959 472h1M959 473h1M959 478h1M960 470h1M960 471h1M960 472h1M960 473h1M961 466h1M961 468h1M961 469h1M961 470h1M961 475h1M962 468h1M962 469h1M962 470h1M962 472h1M962 473h1M962 474h1M962 475h1M962 477h1M963 466h1M963 468h1M963 470h1M963 472h1M963 474h1M963 475h1M963 482h1M964 466h1M964 469h1M964 476h1M964 479h1M965 468h1M965 469h1M965 470h1M965 471h1M965 472h1M965 473h1M966 465h1M966 466h1M966 467h1M966 471h1M966 474h1M966 476h1M966 477h1M967 465h1M967 468h1M967 469h1M967 471h1M967 472h1M967 473h1M967 474h1M967 475h1M967 476h1M967 477h1M968 464h1M968 466h1M968 471h1M968 473h1M968 476h1M969 466h1M969 467h1M969 469h1M969 470h1M969 471h1M969 474h1M970 471h1M970 472h1M971 468h1M971 470h1M972 469h1M972 472h1M972 476h1M973 468h1M973 469h1M973 470h1M973 473h1M973 474h1M973 475h1M973 477h1M974 469h1M974 477h1M975 468h1M975 472h1M976 469h1M976 472h1M977 474h1M977 476h1M978 475h1M978 476h1M978 477h1M979 467h1M979 470h1M979 475h1M980 465h1M980 467h1M980 469h1M980 470h1M980 472h1M981 468h1M981 471h1M981 472h1M982 471h1M983 466h1M983 471h1M983 473h1M984 469h1M985 467h1M985 469h1M985 471h1M986 466h1M986 469h1M986 474h1M987 465h1M987 469h1M990 469h1M990 475h1M991 473h1M993 466h1M996 470h1M1008 470h1" stroke="#2c6e46" stroke-width="1.1" fill="none"/>
<rect x="915.4" y="460.1" width="31.7" height="17.9" fill="#e03a8c" rx="6"/>
<rect x="874.4" y="379.2" width="71.6" height="80.1" fill="none" stroke="#555" stroke-width="1.2"/>
<rect x="879.3" y="461.2" width="107.0" height="30.6" fill="none" stroke="#555" stroke-width="1.2"/>
<path d="M874.3 492.5v3M879.2 492.5v3M884.2 492.5v3M889.1 492.5v3M894.0 492.5v5.5M898.9 492.5v3M903.9 492.5v3M908.8 492.5v3M913.7 492.5v3M918.7 492.5v5.5M923.6 492.5v3M928.5 492.5v3M933.5 492.5v3M938.4 492.5v3M943.3 492.5v5.5M948.2 492.5v3M953.2 492.5v3M958.1 492.5v3M963.0 492.5v3M968.0 492.5v5.5M972.9 492.5v3M977.8 492.5v3M982.7 492.5v3M987.7 492.5v3M992.6 492.5v5.5M997.5 492.5v3M1002.5 492.5v3M1007.4 492.5v3M1012.3 492.5v3M1017.2 492.5v5.5M1022.2 492.5v3M1027.1 492.5v3M1032.0 492.5v3M1037.0 492.5v3M1041.9 492.5v5.5M1046.8 492.5v3M1051.8 492.5v3M1056.7 492.5v3M1061.6 492.5v3M1066.5 492.5v5.5" stroke="#777" stroke-width="1" fill="none"/>
<path d="M871.8 489.3h-3M871.8 482.9h-3M871.8 476.5h-3M871.8 470.2h-3M871.8 463.8h-5.5M871.8 457.4h-3M871.8 451.0h-3M871.8 444.6h-3M871.8 438.2h-3M871.8 431.8h-5.5M871.8 425.5h-3M871.8 419.1h-3M871.8 412.7h-3M871.8 406.3h-3M871.8 399.9h-5.5M871.8 393.5h-3M871.8 387.1h-3M871.8 380.8h-3M871.8 374.4h-3M871.8 368.0h-5.5M871.8 361.6h-3M871.8 355.2h-3M871.8 348.8h-3M871.8 342.4h-3M871.8 336.1h-5.5M871.8 329.7h-3M871.8 323.3h-3M871.8 316.9h-3M871.8 310.5h-3M871.8 304.1h-5.5" stroke="#777" stroke-width="1" fill="none"/>
<text x="960.2" y="298.3" font-size="7.5" text-anchor="middle" fill="#777">Specimen_001-DS017</text>
<text x="970.6" y="511.5" font-size="7.5" text-anchor="middle" fill="#666">CD38 Red1-A</text>
<text x="855.8" y="396.7" font-size="7.5" text-anchor="middle" fill="#444" transform="rotate(-90 855.8 396.7)">CD27 Blue1-A</text>
<text x="878.9" y="391.1" font-size="10.5" fill="#111">Memory</text>
<text x="903.5" y="423.6" font-size="5.5" fill="#444">P7</text>
<text x="894.9" y="477.2" font-size="5.5" fill="#444">P6</text>
<text x="878.2" y="504.1" font-size="5.5" text-anchor="middle" fill="#666">-1,019</text>
<text x="918.4" y="504.1" font-size="5.5" text-anchor="middle" fill="#666">0</text>
<text x="949.0" y="504.1" font-size="5.5" text-anchor="middle" fill="#666">10³</text>
<text x="1003.0" y="504.1" font-size="5.5" text-anchor="middle" fill="#666">10⁴</text>
<text x="1050.4" y="504.1" font-size="5.5" text-anchor="middle" fill="#666">10⁵</text>
<text x="866.2" y="498.1" font-size="6" font-weight="bold" fill="#3a50b0">M</text>
<rect x="1103.7" y="300.9" width="178.9" height="191.6" fill="none" stroke="#999" stroke-width="1.2"/>
<path d="M1150 410h1M1150 419h1M1150 433h1M1150 439h1M1150 440h1M1150 442h1M1151 396h1M1151 402h1M1151 408h1M1151 413h1M1151 416h1M1151 417h1M1151 421h1M1151 423h1M1151 426h1M1151 431h1M1151 433h1M1151 436h1M1151 437h1M1151 440h1M1151 441h1M1151 443h1M1151 444h1M1151 446h1M1151 447h1M1151 450h1M1151 452h1M1152 378h1M1152 385h1M1152 390h1M1152 396h1M1152 399h1M1152 401h1M1152 409h1M1152 410h1M1152 421h1M1152 423h1M1152 436h1M1152 440h1M1152 445h1M1152 446h1M1152 447h1M1152 449h1M1152 450h1M1152 452h1M1153 389h1M1153 392h1M1153 395h1M1153 396h1M1153 398h1M1153 419h1M1153 420h1M1153 422h1M1153 433h1M1153 436h1M1153 441h1M1153 445h1M1153 446h1M1153 449h1M1153 452h1M1154 379h1M1154 380h1M1154 387h1M1154 398h1M1154 406h1M1154 407h1M1154 409h1M1154 418h1M1154 419h1M1154 428h1M1154 431h1M1154 436h1M1154 441h1M1154 443h1M1154 444h1M1154 445h1M1154 446h1M1155 375h1M1155 377h1M1155 379h1M1155 384h1M1155 398h1M1155 402h1M1155 407h1M1155 412h1M1155 413h1M1155 420h1M1155 422h1M1155 423h1M1155 425h1M1155 426h1M1155 431h1M1155 438h1M1155 439h1M1155 441h1M1155 448h1M1155 450h1M1155 451h1M1155 452h1M1156 378h1M1156 390h1M1156 394h1M1156 401h1M1156 402h1M1156 409h1M1156 414h1M1156 415h1M1156 418h1M1156 420h1M1156 421h1M1156 425h1M1156 429h1M1156 432h1M1156 439h1M1156 442h1M1156 447h1M1156 451h1M1156 452h1M1157 382h1M1157 385h1M1157 389h1M1157 391h1M1157 401h1M1157 406h1M1157 420h1M1157 421h1M1157 423h1M1157 425h1M1157 426h1M1157 431h1M1157 432h1M1157 437h1M1157 440h1M1157 441h1M1157 442h1M1157 443h1M1157 445h1M1157 446h1M1157 448h1M1157 452h1M1158 385h1M1158 391h1M1158 393h1M1158 394h1M1158 396h1M1158 398h1M1158 404h1M1158 410h1M1158 411h1M1158 412h1M1158 419h1M1158 420h1M1158 422h1M1158 423h1M1158 425h1M1158 427h1M1158 431h1M1158 436h1M1158 438h1M1158 441h1M1158 445h1M1158 449h1M1159 385h1M1159 388h1M1159 392h1M1159 394h1M1159 400h1M1159 405h1M1159 408h1M1159 410h1M1159 417h1M1159 420h1M1159 424h1M1159 430h1M1159 431h1M1159 436h1M1159 438h1M1159 442h1M1159 443h1M1159 445h1M1159 449h1M1159 450h1M1159 451h1M1160 401h1M1160 403h1M1160 404h1M1160 405h1M1160 410h1M1160 413h1M1160 417h1M1160 424h1M1160 426h1M1160 428h1M1160 430h1M1160 431h1M1160 432h1M1160 433h1M1160 435h1M1160 439h1M1160 445h1M1160 447h1M1160 451h1M1160 452h1M1161 377h1M1161 389h1M1161 397h1M1161 407h1M1161 415h1M1161 416h1M1161 421h1M1161 429h1M1161 435h1M1161 442h1M1161 446h1M1161 447h1M1161 448h1M1161 449h1M1162 389h1M1162 390h1M1162 405h1M1162 408h1M1162 410h1M1162 412h1M1162 414h1M1162 417h1M1162 419h1M1162 421h1M1162 422h1M1162 423h1M1162 427h1M1162 429h1M1162 431h1M1162 433h1M1162 434h1M1162 441h1M1162 444h1M1162 445h1M1162 449h1M1162 452h1M1163 389h1M1163 395h1M1163 400h1M1163 405h1M1163 406h1M1163 412h1M1163 431h1M1163 433h1M1163 435h1M1163 436h1M1163 443h1M1163 448h1M1163 449h1M1163 451h1M1163 452h1M1164 400h1M1164 402h1M1164 406h1M1164 407h1M1164 409h1M1164 410h1M1164 412h1M1164 418h1M1164 420h1M1164 426h1M1164 427h1M1164 429h1M1164 431h1M1164 432h1M1164 437h1M1164 444h1M1164 445h1M1164 452h1M1165 397h1M1165 401h1M1165 425h1M1165 432h1M1165 445h1M1165 446h1M1165 448h1M1165 451h1M1166 388h1M1166 397h1M1166 405h1M1166 418h1M1166 423h1M1166 426h1M1166 427h1M1166 428h1M1166 435h1M1166 436h1M1166 441h1M1166 442h1M1166 444h1M1166 448h1M1167 401h1M1167 408h1M1167 416h1M1167 418h1M1167 421h1M1167 424h1M1167 426h1M1167 435h1M1167 437h1M1167 445h1M1167 450h1M1168 397h1M1168 400h1M1168 401h1M1168 411h1M1168 413h1M1168 419h1M1168 425h1M1168 429h1M1168 431h1M1168 433h1M1168 450h1M1169 385h1M1169 388h1M1169 399h1M1169 405h1M1169 416h1M1169 435h1M1169 436h1M1170 393h1M1170 395h1M1170 400h1M1170 401h1M1170 411h1M1170 424h1M1170 432h1M1170 436h1M1170 437h1M1170 438h1M1170 442h1M1170 444h1M1170 447h1M1170 449h1M1170 451h1M1171 397h1M1171 405h1M1171 406h1M1171 408h1M1171 416h1M1171 427h1M1171 435h1M1171 438h1M1171 439h1M1171 445h1M1171 446h1M1171 447h1M1171 451h1M1172 374h1M1172 378h1M1172 384h1M1172 387h1M1172 390h1M1172 426h1M1172 427h1M1172 431h1M1172 438h1M1172 439h1M1172 441h1M1172 442h1M1172 447h1M1173 396h1M1173 397h1M1173 402h1M1173 403h1M1173 406h1M1173 407h1M1173 417h1M1173 425h1M1173 427h1M1173 439h1M1173 449h1M1173 452h1M1174 395h1M1174 404h1M1174 407h1M1174 408h1M1174 416h1M1174 429h1M1174 442h1M1175 392h1M1175 398h1M1175 406h1M1175 409h1M1175 413h1M1175 424h1M1175 428h1M1175 429h1M1175 431h1M1175 435h1M1175 438h1M1175 444h1M1175 446h1M1176 385h1M1176 392h1M1176 406h1M1176 437h1M1176 439h1M1176 445h1M1177 379h1M1177 388h1M1177 398h1M1177 424h1M1177 426h1M1177 427h1M1177 437h1M1177 440h1M1177 443h1M1178 428h1M1178 436h1M1178 439h1M1178 445h1M1178 450h1M1179 389h1M1179 402h1M1179 415h1M1179 429h1M1180 387h1M1180 389h1M1180 413h1M1180 440h1M1180 449h1M1180 452h1M1181 447h1M1182 440h1M1182 450h1M1183 408h1M1183 426h1M1183 443h1M1183 450h1M1184 394h1M1184 429h1M1184 442h1M1185 393h1M1185 399h1M1185 419h1M1185 432h1M1185 441h1M1186 419h1M1187 388h1M1187 424h1M1187 430h1M1188 432h1M1188 436h1M1190 410h1M1190 438h1M1191 446h1M1192 391h1M1193 389h1M1194 395h1M1194 410h1M1194 423h1M1194 437h1M1195 434h1M1197 379h1M1197 422h1M1201 394h1" stroke="#ee6fb0" stroke-width="1.1" fill="none" opacity="0.85"/>
<path d="M1141 381h1M1141 382h1M1141 401h1M1141 412h1M1142 370h1M1142 373h1M1142 376h1M1142 380h1M1142 381h1M1142 392h1M1142 396h1M1142 405h1M1142 410h1M1143 370h1M1143 372h1M1143 373h1M1143 374h1M1143 378h1M1143 382h1M1143 385h1M1143 386h1M1143 387h1M1143 388h1M1143 389h1M1143 390h1M1143 392h1M1143 399h1M1143 400h1M1143 401h1M1143 402h1M1143 403h1M1143 404h1M1143 406h1M1143 407h1M1143 408h1M1143 409h1M1143 410h1M1143 413h1M1143 424h1M1143 432h1M1143 442h1M1143 443h1M1143 447h1M1144 370h1M1144 371h1M1144 372h1M1144 374h1M1144 375h1M1144 376h1M1144 377h1M1144 379h1M1144 380h1M1144 382h1M1144 383h1M1144 384h1M1144 385h1M1144 386h1M1144 387h1M1144 388h1M1144 389h1M1144 390h1M1144 391h1M1144 392h1M1144 393h1M1144 395h1M1144 399h1M1144 401h1M1144 404h1M1144 405h1M1144 406h1M1144 407h1M1144 408h1M1144 409h1M1144 410h1M1144 411h1M1144 412h1M1144 417h1M1144 419h1M1144 428h1M1144 431h1M1144 432h1M1144 434h1M1144 438h1M1144 439h1M1144 440h1M1144 442h1M1144 445h1M1144 448h1M1144 449h1M1145 369h1M1145 372h1M1145 373h1M1145 374h1M1145 375h1M1145 376h1M1145 379h1M1145 380h1M1145 381h1M1145 382h1M1145 383h1M1145 384h1M1145 385h1M1145 386h1M1145 388h1M1145 389h1M1145 391h1M1145 392h1M1145 393h1M1145 394h1M1145 395h1M1145 396h1M1145 397h1M1145 398h1M1145 399h1M1145 400h1M1145 401h1M1145 402h1M1145 403h1M1145 404h1M1145 405h1M1145 406h1M1145 407h1M1145 408h1M1145 410h1M1145 411h1M1145 412h1M1145 414h1M1145 415h1M1145 418h1M1145 419h1M1145 420h1M1145 422h1M1145 423h1M1145 424h1M1145 425h1M1145 426h1M1145 427h1M1145 428h1M1145 429h1M1145 430h1M1145 431h1M1145 432h1M1145 433h1M1145 434h1M1145 436h1M1145 437h1M1145 438h1M1145 439h1M1145 440h1M1145 442h1M1145 443h1M1145 448h1M1145 449h1M1145 450h1M1145 451h1M1145 452h1M1146 369h1M1146 370h1M1146 371h1M1146 372h1M1146 374h1M1146 375h1M1146 376h1M1146 377h1M1146 378h1M1146 379h1M1146 380h1M1146 381h1M1146 382h1M1146 384h1M1146 385h1M1146 386h1M1146 387h1M1146 388h1M1146 389h1M1146 390h1M1146 391h1M1146 392h1M1146 393h1M1146 394h1M1146 395h1M1146 396h1M1146 397h1M1146 398h1M1146 399h1M1146 400h1M1146 401h1M1146 402h1M1146 403h1M1146 404h1M1146 405h1M1146 406h1M1146 407h1M1146 408h1M1146 409h1M1146 410h1M1146 411h1M1146 412h1M1146 414h1M1146 415h1M1146 417h1M1146 418h1M1146 419h1M1146 420h1M1146 421h1M1146 423h1M1146 424h1M1146 426h1M1146 427h1M1146 428h1M1146 429h1M1146 430h1M1146 431h1M1146 433h1M1146 434h1M1146 437h1M1146 438h1M1146 439h1M1146 440h1M1146 441h1M1146 442h1M1146 444h1M1146 445h1M1146 446h1M1146 447h1M1146 448h1M1146 449h1M1146 451h1M1146 452h1M1147 369h1M1147 371h1M1147 374h1M1147 377h1M1147 378h1M1147 379h1M1147 381h1M1147 382h1M1147 383h1M1147 384h1M1147 386h1M1147 387h1M1147 388h1M1147 389h1M1147 390h1M1147 391h1M1147 392h1M1147 393h1M1147 394h1M1147 395h1M1147 397h1M1147 398h1M1147 399h1M1147 400h1M1147 402h1M1147 403h1M1147 404h1M1147 405h1M1147 406h1M1147 407h1M1147 408h1M1147 409h1M1147 410h1M1147 411h1M1147 412h1M1147 413h1M1147 414h1M1147 415h1M1147 416h1M1147 417h1M1147 418h1M1147 419h1M1147 420h1M1147 421h1M1147 422h1M1147 423h1M1147 424h1M1147 425h1M1147 426h1M1147 427h1M1147 428h1M1147 429h1M1147 430h1M1147 431h1M1147 432h1M1147 433h1M1147 434h1M1147 436h1M1147 437h1M1147 438h1M1147 439h1M1147 440h1M1147 441h1M1147 442h1M1147 443h1M1147 444h1M1147 445h1M1147 446h1M1147 449h1M1147 450h1M1147 451h1M1147 452h1M1147 453h1M1148 370h1M1148 374h1M1148 375h1M1148 376h1M1148 380h1M1148 382h1M1148 383h1M1148 386h1M1148 388h1M1148 389h1M1148 393h1M1148 394h1M1148 395h1M1148 399h1M1148 400h1M1148 401h1M1148 404h1M1148 405h1M1148 406h1M1148 407h1M1148 409h1M1148 411h1M1148 412h1M1148 413h1M1148 414h1M1148 416h1M1148 417h1M1148 418h1M1148 419h1M1148 420h1M1148 421h1M1148 422h1M1148 423h1M1148 424h1M1148 425h1M1148 426h1M1148 427h1M1148 429h1M1148 430h1M1148 431h1M1148 432h1M1148 433h1M1148 434h1M1148 436h1M1148 437h1M1148 438h1M1148 439h1M1148 440h1M1148 441h1M1148 442h1M1148 443h1M1148 444h1M1148 445h1M1148 446h1M1148 447h1M1148 448h1M1148 449h1M1148 450h1M1148 451h1M1148 452h1M1149 369h1M1149 370h1M1149 377h1M1149 392h1M1149 396h1M1149 400h1M1149 402h1M1149 403h1M1149 404h1M1149 410h1M1149 414h1M1149 415h1M1149 416h1M1149 417h1M1149 418h1M1149 419h1M1149 420h1M1149 421h1M1149 422h1M1149 426h1M1149 428h1M1149 429h1M1149 430h1M1149 432h1M1149 434h1M1149 435h1M1149 436h1M1149 437h1M1149 438h1M1149 439h1M1149 441h1M1149 442h1M1149 444h1M1149 445h1M1149 446h1M1149 447h1M1149 448h1M1149 449h1M1149 450h1M1149 451h1M1149 452h1M1150 398h1M1150 411h1M1150 412h1M1150 417h1M1150 425h1M1150 426h1M1150 427h1M1150 428h1M1150 429h1M1150 430h1M1150 432h1M1150 434h1M1150 435h1M1150 436h1M1150 437h1M1150 438h1M1150 439h1M1150 440h1M1150 441h1M1150 443h1M1150 444h1M1150 445h1M1150 446h1M1150 451h1M1151 405h1M1151 412h1M1151 418h1M1151 424h1M1151 425h1M1151 429h1M1151 433h1M1151 441h1M1151 445h1M1151 448h1M1151 451h1M1152 413h1M1152 415h1M1152 432h1M1152 435h1M1152 439h1M1152 440h1M1152 451h1M1152 452h1M1153 414h1M1153 427h1M1153 431h1M1153 441h1M1153 446h1M1154 441h1M1155 425h1" stroke="#e0358f" stroke-width="1.4" fill="none"/>
<rect x="1142.8" y="381.8" width="7.5" height="70.8" fill="#e0358f" rx="3" opacity="0.8"/>
<path d="M1161 466h1M1162 459h1M1162 461h1M1162 463h1M1162 464h1M1162 465h1M1162 466h1M1162 467h1M1162 468h1M1162 470h1M1162 471h1M1163 459h1M1163 464h1M1163 465h1M1163 467h1M1163 469h1M1163 471h1M1163 473h1M1164 455h1M1164 462h1M1164 463h1M1164 464h1M1164 465h1M1164 467h1M1164 468h1M1164 469h1M1164 475h1M1164 477h1M1165 454h1M1165 459h1M1165 460h1M1165 462h1M1165 463h1M1165 464h1M1165 465h1M1165 467h1M1165 468h1M1165 469h1M1165 472h1M1166 461h1M1166 462h1M1166 463h1M1166 465h1M1166 466h1M1166 467h1M1166 468h1M1167 457h1M1167 459h1M1167 462h1M1167 464h1M1167 465h1M1167 466h1M1167 467h1M1167 469h1M1168 461h1M1168 465h1M1168 466h1M1168 467h1M1168 468h1M1168 472h1M1168 475h1M1169 462h1M1169 463h1M1169 464h1M1169 465h1M1169 466h1M1169 467h1M1169 472h1M1170 460h1M1170 461h1M1170 463h1M1170 464h1M1170 466h1M1170 467h1M1170 469h1M1170 470h1M1170 471h1M1171 457h1M1171 458h1M1171 461h1M1171 463h1M1171 464h1M1171 467h1M1171 468h1M1172 458h1M1172 460h1M1172 463h1M1172 464h1M1172 465h1M1172 466h1M1172 467h1M1172 468h1M1172 473h1M1172 474h1M1173 456h1M1173 458h1M1173 460h1M1173 462h1M1173 463h1M1173 465h1M1173 466h1M1173 469h1M1173 470h1M1173 472h1M1173 473h1M1174 459h1M1174 462h1M1174 463h1M1174 465h1M1174 466h1M1174 467h1M1175 458h1M1175 464h1M1175 467h1M1175 468h1M1176 460h1M1176 462h1M1176 464h1M1176 465h1M1176 466h1M1176 468h1M1176 469h1M1176 472h1M1177 457h1M1177 458h1M1177 460h1M1177 468h1M1177 471h1M1178 459h1M1178 464h1M1178 465h1M1178 466h1M1178 467h1M1178 468h1M1178 470h1M1179 458h1M1179 459h1M1179 461h1M1179 463h1M1179 464h1M1179 467h1M1179 468h1M1179 469h1M1179 471h1M1180 459h1M1180 464h1M1180 466h1M1180 467h1M1180 475h1M1181 456h1M1181 458h1M1181 463h1M1181 465h1M1181 466h1M1181 468h1M1182 457h1M1182 465h1M1182 468h1M1182 469h1M1182 470h1M1182 472h1M1182 481h1M1183 465h1M1183 466h1M1183 467h1M1183 469h1M1184 460h1M1184 465h1M1184 466h1M1184 468h1M1184 470h1M1184 475h1M1185 458h1M1185 463h1M1185 464h1M1185 465h1M1185 470h1M1185 473h1M1186 457h1M1186 466h1M1186 467h1M1186 469h1M1186 471h1M1187 467h1M1187 475h1M1188 461h1M1188 463h1M1188 465h1M1188 466h1M1188 470h1M1189 458h1M1189 464h1M1189 471h1M1189 472h1M1190 463h1M1190 464h1M1190 466h1M1190 471h1M1191 465h1M1191 471h1M1191 476h1M1192 454h1M1192 459h1M1192 460h1M1192 464h1M1192 465h1M1192 466h1M1192 468h1M1192 470h1M1193 458h1M1193 464h1M1193 467h1M1193 468h1M1193 471h1M1194 463h1M1194 469h1M1194 470h1M1194 472h1M1194 474h1M1195 466h1M1195 467h1M1195 471h1M1195 472h1M1196 463h1M1196 478h1M1197 459h1M1197 465h1M1197 469h1M1198 459h1M1199 466h1M1200 458h1M1203 466h1M1204 461h1M1204 468h1M1205 468h1M1206 464h1M1208 461h1M1208 468h1M1208 469h1M1211 466h1M1211 472h1M1212 466h1M1219 471h1M1220 465h1" stroke="#2c7a4a" stroke-width="1.1" fill="none"/>
<rect x="1142.8" y="454.9" width="36.5" height="23.1" fill="#1f6f45" rx="9"/>
<rect x="1116.7" y="336.3" width="118.2" height="116.3" fill="none" stroke="#555" stroke-width="1.3"/>
<rect x="1118.6" y="457.5" width="113.7" height="32.4" fill="none" stroke="#555" stroke-width="1.2"/>
<path d="M1105.9 492.5v3M1110.4 492.5v3M1114.8 492.5v3M1119.3 492.5v3M1123.8 492.5v5.5M1128.3 492.5v3M1132.7 492.5v3M1137.2 492.5v3M1141.7 492.5v3M1146.2 492.5v5.5M1150.6 492.5v3M1155.1 492.5v3M1159.6 492.5v3M1164.0 492.5v3M1168.5 492.5v5.5M1173.0 492.5v3M1177.5 492.5v3M1181.9 492.5v3M1186.4 492.5v3M1190.9 492.5v5.5M1195.4 492.5v3M1199.8 492.5v3M1204.3 492.5v3M1208.8 492.5v3M1213.2 492.5v5.5M1217.7 492.5v3M1222.2 492.5v3M1226.7 492.5v3M1231.1 492.5v3M1235.6 492.5v5.5M1240.1 492.5v3M1244.6 492.5v3M1249.0 492.5v3M1253.5 492.5v3M1258.0 492.5v5.5M1262.4 492.5v3M1266.9 492.5v3M1271.4 492.5v3M1275.9 492.5v3M1280.3 492.5v5.5" stroke="#777" stroke-width="1" fill="none"/>
<path d="M1103.7 489.3h-3M1103.7 482.9h-3M1103.7 476.5h-3M1103.7 470.2h-3M1103.7 463.8h-5.5M1103.7 457.4h-3M1103.7 451.0h-3M1103.7 444.6h-3M1103.7 438.2h-3M1103.7 431.8h-5.5M1103.7 425.5h-3M1103.7 419.1h-3M1103.7 412.7h-3M1103.7 406.3h-3M1103.7 399.9h-5.5M1103.7 393.5h-3M1103.7 387.1h-3M1103.7 380.8h-3M1103.7 374.4h-3M1103.7 368.0h-5.5M1103.7 361.6h-3M1103.7 355.2h-3M1103.7 348.8h-3M1103.7 342.4h-3M1103.7 336.1h-5.5M1103.7 329.7h-3M1103.7 323.3h-3M1103.7 316.9h-3M1103.7 310.5h-3M1103.7 304.1h-5.5" stroke="#777" stroke-width="1" fill="none"/>
<text x="1181.2" y="298.3" font-size="7.5" text-anchor="middle" fill="#777">Specimen_001-DS017</text>
<text x="1191.3" y="510.4" font-size="7.5" text-anchor="middle" fill="#666">CD38 Red1-A</text>
<text x="1086.1" y="393.0" font-size="7.5" text-anchor="middle" fill="#666" transform="rotate(-90 1086.1 393.0)">CD11c Yellow1-A</text>
<text x="1189.4" y="349.4" font-size="10.5" fill="#111">CD11c<tspan dy="-0.42em" font-size="72%">+</tspan></text>
<text x="1197.6" y="483.6" font-size="10.5" fill="#111">Naïve</text>
<text x="1170.8" y="398.6" font-size="5.5" fill="#444">P8</text>
<text x="1172.6" y="488.0" font-size="5.5" fill="#444">P5</text>
<text x="1101.8" y="504.1" font-size="5.5" text-anchor="middle" fill="#666">-1,019</text>
<text x="1145.8" y="504.1" font-size="5.5" text-anchor="middle" fill="#666">0</text>
<text x="1176.3" y="504.1" font-size="5.5" text-anchor="middle" fill="#666">10³</text>
<text x="1224.8" y="504.1" font-size="5.5" text-anchor="middle" fill="#666">10⁴</text>
<text x="1268.8" y="504.1" font-size="5.5" text-anchor="middle" fill="#666">10⁵</text>
<text x="1097.3" y="498.1" font-size="6" font-weight="bold" fill="#3a50b0">M</text>
<line x1="839.0" y1="440.3" x2="857.0" y2="440.3" stroke="#000" stroke-width="1.6"/>
<polygon points="872.0,440.3 857.0,446.8 857.0,433.8" fill="#000"/>
<line x1="985.5" y1="459.3" x2="1089.0" y2="459.3" stroke="#000" stroke-width="1.6"/>
<polygon points="1104.0,459.3 1089.0,465.8 1089.0,452.8" fill="#000"/>
<rect x="1298.6" y="1.5" width="754.4" height="68.0" fill="#a7a5a6"/>
<rect x="1298.6" y="70.0" width="95.2" height="549.0" fill="#a7a5a6"/>
<rect x="1393.8" y="72.4" width="659.2" height="43.4" fill="#e9e7e8"/>
<text transform="translate(1346.4 100.1) scale(0.935 1)" font-size="17" font-weight="bold" text-anchor="middle">HC006</text>
<text transform="translate(1461.0 100.1) scale(0.93 1)" font-size="17" text-anchor="middle">19 yo F</text>
<text transform="translate(1625.5 91.1) scale(0.935 1)" font-size="17" text-anchor="middle">77,057</text>
<text transform="translate(1625.5 110.1) scale(0.935 1)" font-size="17" text-anchor="middle">35,665</text>
<text transform="translate(1805.5 91.1) scale(0.935 1)" font-size="17" text-anchor="middle">4,704</text>
<text transform="translate(1805.5 110.1) scale(0.935 1)" font-size="17" text-anchor="middle">2,804</text>
<text transform="translate(1970.5 91.1) scale(0.935 1)" font-size="17" text-anchor="middle">33,242</text>
<text transform="translate(1970.5 110.1) scale(0.935 1)" font-size="17" text-anchor="middle">13,312</text>
<text transform="translate(1346.4 145.8) scale(0.935 1)" font-size="17" font-weight="bold" text-anchor="middle">HC007</text>
<text transform="translate(1461.0 145.8) scale(0.93 1)" font-size="17" text-anchor="middle">28 yo M</text>
<text transform="translate(1625.5 136.8) scale(0.935 1)" font-size="17" text-anchor="middle">81,467</text>
<text transform="translate(1625.5 155.8) scale(0.935 1)" font-size="17" text-anchor="middle">22,266</text>
<text transform="translate(1805.5 136.8) scale(0.935 1)" font-size="17" text-anchor="middle">1,650</text>
<text transform="translate(1805.5 155.8) scale(0.935 1)" font-size="17" text-anchor="middle">1,456</text>
<text transform="translate(1970.5 136.8) scale(0.935 1)" font-size="17" text-anchor="middle">23,789</text>
<text transform="translate(1970.5 155.8) scale(0.935 1)" font-size="17" text-anchor="middle">11,353</text>
<rect x="1393.8" y="163.9" width="659.2" height="43.4" fill="#e9e7e8"/>
<text transform="translate(1346.4 191.5) scale(0.935 1)" font-size="17" font-weight="bold" text-anchor="middle">HC009</text>
<text transform="translate(1461.0 191.5) scale(0.93 1)" font-size="17" text-anchor="middle">37 yo F</text>
<text transform="translate(1625.5 182.5) scale(0.935 1)" font-size="17" text-anchor="middle">103,151</text>
<text transform="translate(1625.5 201.5) scale(0.935 1)" font-size="17" text-anchor="middle">22,266</text>
<text transform="translate(1805.5 182.5) scale(0.935 1)" font-size="17" text-anchor="middle">5,154</text>
<text transform="translate(1805.5 201.5) scale(0.935 1)" font-size="17" text-anchor="middle">3,360</text>
<text transform="translate(1970.5 182.5) scale(0.935 1)" font-size="17" text-anchor="middle">44,025</text>
<text transform="translate(1970.5 201.5) scale(0.935 1)" font-size="17" text-anchor="middle">15,988</text>
<text transform="translate(1346.4 237.3) scale(0.935 1)" font-size="17" font-weight="bold" text-anchor="middle">HC010</text>
<text transform="translate(1461.0 237.3) scale(0.93 1)" font-size="17" text-anchor="middle">39 yo M</text>
<text transform="translate(1625.5 228.3) scale(0.935 1)" font-size="17" text-anchor="middle">94,380</text>
<text transform="translate(1625.5 247.3) scale(0.935 1)" font-size="17" text-anchor="middle">29,824</text>
<text transform="translate(1805.5 228.3) scale(0.935 1)" font-size="17" text-anchor="middle">3,633</text>
<text transform="translate(1805.5 247.3) scale(0.935 1)" font-size="17" text-anchor="middle">1,841</text>
<text transform="translate(1970.5 228.3) scale(0.935 1)" font-size="17" text-anchor="middle">52,686</text>
<text transform="translate(1970.5 247.3) scale(0.935 1)" font-size="17" text-anchor="middle">11,330</text>
<rect x="1393.8" y="255.3" width="659.2" height="43.4" fill="#e9e7e8"/>
<text transform="translate(1346.4 283.0) scale(0.935 1)" font-size="17" font-weight="bold" text-anchor="middle">HC017</text>
<text transform="translate(1461.0 283.0) scale(0.93 1)" font-size="17" text-anchor="middle">29 yo M</text>
<text transform="translate(1625.5 274.0) scale(0.935 1)" font-size="17" text-anchor="middle">34,122</text>
<text transform="translate(1625.5 293.0) scale(0.935 1)" font-size="17" text-anchor="middle">14,223</text>
<text transform="translate(1805.5 274.0) scale(0.935 1)" font-size="17" text-anchor="middle">1,670</text>
<text transform="translate(1805.5 293.0) scale(0.935 1)" font-size="17" text-anchor="middle">651</text>
<text transform="translate(1970.5 274.0) scale(0.935 1)" font-size="17" text-anchor="middle">16,393</text>
<text transform="translate(1970.5 293.0) scale(0.935 1)" font-size="17" text-anchor="middle">5,591</text>
<text transform="translate(1346.4 328.7) scale(0.935 1)" font-size="17" font-weight="bold" text-anchor="middle">HC019</text>
<text transform="translate(1461.0 328.7) scale(0.93 1)" font-size="17" text-anchor="middle">31 yo M</text>
<text transform="translate(1625.5 319.7) scale(0.935 1)" font-size="17" text-anchor="middle">51,800</text>
<text transform="translate(1625.5 338.7) scale(0.935 1)" font-size="17" text-anchor="middle">20,666</text>
<text transform="translate(1805.5 319.7) scale(0.935 1)" font-size="17" text-anchor="middle">1,640</text>
<text transform="translate(1805.5 338.7) scale(0.935 1)" font-size="17" text-anchor="middle">345</text>
<text transform="translate(1970.5 319.7) scale(0.935 1)" font-size="17" text-anchor="middle">48,527</text>
<text transform="translate(1970.5 338.7) scale(0.935 1)" font-size="17" text-anchor="middle">5,454</text>
<rect x="1393.8" y="346.8" width="659.2" height="43.4" fill="#e9e7e8"/>
<text transform="translate(1346.4 374.4) scale(0.935 1)" font-size="17" font-weight="bold" text-anchor="middle">DS011</text>
<text transform="translate(1461.0 374.4) scale(0.93 1)" font-size="17" text-anchor="middle">20 yo M</text>
<text transform="translate(1625.5 365.4) scale(0.935 1)" font-size="17" text-anchor="middle">6,111</text>
<text transform="translate(1625.5 384.4) scale(0.935 1)" font-size="17" text-anchor="middle">3.403</text>
<text transform="translate(1805.5 365.4) scale(0.935 1)" font-size="17" text-anchor="middle">1,006</text>
<text transform="translate(1805.5 384.4) scale(0.935 1)" font-size="17" text-anchor="middle">324</text>
<text transform="translate(1970.5 365.4) scale(0.935 1)" font-size="17" text-anchor="middle">11,768</text>
<text transform="translate(1970.5 384.4) scale(0.935 1)" font-size="17" text-anchor="middle">964</text>
<text transform="translate(1346.4 420.2) scale(0.935 1)" font-size="17" font-weight="bold" text-anchor="middle">DS014</text>
<text transform="translate(1461.0 420.2) scale(0.93 1)" font-size="17" text-anchor="middle">24 yo M</text>
<text transform="translate(1625.5 411.2) scale(0.935 1)" font-size="17" text-anchor="middle">12,412</text>
<text transform="translate(1625.5 430.2) scale(0.935 1)" font-size="17" text-anchor="middle">5,581</text>
<text transform="translate(1805.5 411.2) scale(0.935 1)" font-size="17" text-anchor="middle">9,715</text>
<text transform="translate(1805.5 430.2) scale(0.935 1)" font-size="17" text-anchor="middle">6,068</text>
<text transform="translate(1970.5 411.2) scale(0.935 1)" font-size="17" text-anchor="middle">12,553</text>
<text transform="translate(1970.5 430.2) scale(0.935 1)" font-size="17" text-anchor="middle">2,791</text>
<rect x="1393.8" y="438.2" width="659.2" height="43.4" fill="#e9e7e8"/>
<text transform="translate(1346.4 465.9) scale(0.935 1)" font-size="17" font-weight="bold" text-anchor="middle">DS016</text>
<text transform="translate(1461.0 465.9) scale(0.93 1)" font-size="17" text-anchor="middle">37 yo M</text>
<text transform="translate(1625.5 456.9) scale(0.935 1)" font-size="17" text-anchor="middle">1,653</text>
<text transform="translate(1625.5 475.9) scale(0.935 1)" font-size="17" text-anchor="middle">1,592</text>
<text transform="translate(1805.5 456.9) scale(0.935 1)" font-size="17" text-anchor="middle">452</text>
<text transform="translate(1805.5 475.9) scale(0.935 1)" font-size="17" text-anchor="middle">214</text>
<text transform="translate(1970.5 456.9) scale(0.935 1)" font-size="17" text-anchor="middle">6,612</text>
<text transform="translate(1970.5 475.9) scale(0.935 1)" font-size="17" text-anchor="middle">1,393</text>
<text transform="translate(1346.4 511.6) scale(0.935 1)" font-size="17" font-weight="bold" text-anchor="middle">DS017</text>
<text transform="translate(1461.0 511.6) scale(0.93 1)" font-size="17" text-anchor="middle">30 yo M</text>
<text transform="translate(1625.5 502.6) scale(0.935 1)" font-size="17" text-anchor="middle">11,544</text>
<text transform="translate(1625.5 521.6) scale(0.935 1)" font-size="17" text-anchor="middle">6,359</text>
<text transform="translate(1805.5 502.6) scale(0.935 1)" font-size="17" text-anchor="middle">3,100</text>
<text transform="translate(1805.5 521.6) scale(0.935 1)" font-size="17" text-anchor="middle">1,341</text>
<text transform="translate(1970.5 502.6) scale(0.935 1)" font-size="17" text-anchor="middle">6,144</text>
<text transform="translate(1970.5 521.6) scale(0.935 1)" font-size="17" text-anchor="middle">1,441</text>
<rect x="1393.8" y="529.7" width="659.2" height="43.4" fill="#e9e7e8"/>
<text transform="translate(1346.4 557.4) scale(0.935 1)" font-size="17" font-weight="bold" text-anchor="middle">DS019</text>
<text transform="translate(1461.0 557.4) scale(0.93 1)" font-size="17" text-anchor="middle">20 yo M</text>
<text transform="translate(1625.5 548.4) scale(0.935 1)" font-size="17" text-anchor="middle">27,195</text>
<text transform="translate(1625.5 567.4) scale(0.935 1)" font-size="17" text-anchor="middle">14,975</text>
<text transform="translate(1805.5 548.4) scale(0.935 1)" font-size="17" text-anchor="middle">2,187</text>
<text transform="translate(1805.5 567.4) scale(0.935 1)" font-size="17" text-anchor="middle">1,275</text>
<text transform="translate(1970.5 548.4) scale(0.935 1)" font-size="17" text-anchor="middle">13,633</text>
<text transform="translate(1970.5 567.4) scale(0.935 1)" font-size="17" text-anchor="middle">4,715</text>
<text transform="translate(1346.4 603.1) scale(0.935 1)" font-size="17" font-weight="bold" text-anchor="middle">DS020</text>
<text transform="translate(1461.0 603.1) scale(0.93 1)" font-size="17" text-anchor="middle">24 yo F</text>
<text transform="translate(1625.5 594.1) scale(0.935 1)" font-size="17" text-anchor="middle">2,110</text>
<text transform="translate(1625.5 613.1) scale(0.935 1)" font-size="17" text-anchor="middle">1531</text>
<text transform="translate(1805.5 594.1) scale(0.935 1)" font-size="17" text-anchor="middle">297</text>
<text transform="translate(1805.5 613.1) scale(0.935 1)" font-size="17" text-anchor="middle">188</text>
<text transform="translate(1970.5 594.1) scale(0.935 1)" font-size="17" text-anchor="middle">3621</text>
<text transform="translate(1970.5 613.1) scale(0.935 1)" font-size="17" text-anchor="middle">715</text>
<line x1="1298.6" y1="2.5" x2="2053.0" y2="2.5" stroke="#000" stroke-width="3.4"/>
<line x1="1298.6" y1="69.3" x2="2053.0" y2="69.3" stroke="#000" stroke-width="3.4"/>
<line x1="1298.6" y1="619.5" x2="2053.0" y2="619.5" stroke="#000" stroke-width="3.2"/>
<text transform="translate(1461.0 32.5) scale(0.955 1)" font-size="16.6" font-weight="bold" text-anchor="middle">Patient</text>
<text transform="translate(1461.0 51.5) scale(0.955 1)" font-size="16.6" font-weight="bold" text-anchor="middle">demographics</text>
<text transform="translate(1625.5 23.8) scale(0.955 1)" font-size="16.6" font-weight="bold" text-anchor="middle">Naïve cells</text>
<text transform="translate(1625.5 42.5) scale(0.962 1)" font-size="16.6" text-anchor="middle">(# sorted,</text>
<text transform="translate(1625.5 61.5) scale(0.962 1)" font-size="16.6" text-anchor="middle"># productive BCRs)</text>
<text transform="translate(1805.5 23.8) scale(0.955 1)" font-size="16.6" font-weight="bold" text-anchor="middle">CD11c<tspan dy="-0.42em" font-size="72%">+</tspan><tspan dy="0.302em"> cells</tspan></text>
<text transform="translate(1805.5 42.5) scale(0.962 1)" font-size="16.6" text-anchor="middle">(# sorted,</text>
<text transform="translate(1805.5 61.5) scale(0.962 1)" font-size="16.6" text-anchor="middle"># productive BCRs)</text>
<text transform="translate(1970.5 23.8) scale(0.955 1)" font-size="16.6" font-weight="bold" text-anchor="middle">Memory cells</text>
<text transform="translate(1970.5 42.5) scale(0.962 1)" font-size="16.6" text-anchor="middle">(# sorted,</text>
<text transform="translate(1970.5 61.5) scale(0.962 1)" font-size="16.6" text-anchor="middle"># productive BCRs)</text>
<text x="14.0" y="646.0" font-size="41" font-weight="bold">C</text>
<text x="419.2" y="637.5" font-size="24.6" font-weight="bold" text-anchor="middle" textLength="347.8" lengthAdjust="spacingAndGlyphs">Fraction of productive BCRs</text>
<rect x="230.5" y="665.6" width="29.5" height="14.0" fill="#6b6767" stroke="#000" stroke-width="3.4"/>
<text x="276.0" y="679.8" font-size="21">HC</text>
<rect x="230.5" y="703.6" width="29.5" height="14.4" fill="#f4a1b6" stroke="#e63a7a" stroke-width="3.4"/>
<text x="276.0" y="717.4" font-size="21">DS</text>
<line x1="237.6" y1="854.7" x2="237.6" y2="885.0" stroke="#000" stroke-width="4.3"/>
<line x1="227.8" y1="854.7" x2="247.4" y2="854.7" stroke="#000" stroke-width="4.3" stroke-linecap="round"/>
<line x1="237.6" y1="914.5" x2="237.6" y2="930.0" stroke="#000" stroke-width="4.3"/>
<line x1="227.8" y1="930.0" x2="247.4" y2="930.0" stroke="#000" stroke-width="4.3" stroke-linecap="round"/>
<rect x="221.1" y="887.1" width="33.0" height="25.3" fill="#6b6767" stroke="#000" stroke-width="4.3"/>
<line x1="221.1" y1="904.3" x2="254.1" y2="904.3" stroke="#000" stroke-width="4.3"/>
<line x1="294.8" y1="812.5" x2="294.8" y2="853.3" stroke="#e63a7a" stroke-width="4.3"/>
<line x1="285.0" y1="812.5" x2="304.6" y2="812.5" stroke="#e63a7a" stroke-width="4.3" stroke-linecap="round"/>
<line x1="294.8" y1="933.9" x2="294.8" y2="948.3" stroke="#e63a7a" stroke-width="4.3"/>
<line x1="285.0" y1="948.3" x2="304.6" y2="948.3" stroke="#e63a7a" stroke-width="4.3" stroke-linecap="round"/>
<rect x="278.5" y="855.4" width="32.7" height="76.3" fill="#f4a1b6" stroke="#e63a7a" stroke-width="4.3"/>
<line x1="278.5" y1="886.7" x2="311.1" y2="886.7" stroke="#e63a7a" stroke-width="4.3"/>
<line x1="389.3" y1="754.0" x2="389.3" y2="854.7" stroke="#000" stroke-width="4.3"/>
<line x1="379.5" y1="754.0" x2="399.1" y2="754.0" stroke="#000" stroke-width="4.3" stroke-linecap="round"/>
<rect x="372.4" y="856.8" width="33.7" height="106.9" fill="#6b6767" stroke="#000" stroke-width="4.3"/>
<line x1="372.4" y1="902.6" x2="406.2" y2="902.6" stroke="#000" stroke-width="4.3"/>
<line x1="447.0" y1="909.6" x2="447.0" y2="950.8" stroke="#e63a7a" stroke-width="4.3"/>
<line x1="437.2" y1="950.8" x2="456.8" y2="950.8" stroke="#e63a7a" stroke-width="4.3" stroke-linecap="round"/>
<rect x="430.9" y="796.3" width="32.3" height="111.2" fill="#f4a1b6" stroke="#e63a7a" stroke-width="4.3"/>
<line x1="430.9" y1="848.7" x2="463.2" y2="848.7" stroke="#e63a7a" stroke-width="4.3"/>
<line x1="541.9" y1="720.9" x2="541.9" y2="740.3" stroke="#000" stroke-width="4.3"/>
<line x1="532.1" y1="720.9" x2="551.7" y2="720.9" stroke="#000" stroke-width="4.3" stroke-linecap="round"/>
<line x1="541.9" y1="847.0" x2="541.9" y2="869.1" stroke="#000" stroke-width="4.3"/>
<line x1="532.1" y1="869.1" x2="551.7" y2="869.1" stroke="#000" stroke-width="4.3" stroke-linecap="round"/>
<rect x="525.6" y="742.4" width="32.7" height="102.4" fill="#6b6767" stroke="#000" stroke-width="4.3"/>
<line x1="525.6" y1="780.1" x2="558.2" y2="780.1" stroke="#000" stroke-width="4.3"/>
<line x1="599.6" y1="732.6" x2="599.6" y2="761.4" stroke="#e63a7a" stroke-width="4.3"/>
<line x1="589.8" y1="732.6" x2="609.4" y2="732.6" stroke="#e63a7a" stroke-width="4.3" stroke-linecap="round"/>
<line x1="599.6" y1="891.7" x2="599.6" y2="933.9" stroke="#e63a7a" stroke-width="4.3"/>
<line x1="589.8" y1="933.9" x2="609.4" y2="933.9" stroke="#e63a7a" stroke-width="4.3" stroke-linecap="round"/>
<rect x="583.6" y="763.6" width="32.0" height="125.9" fill="#f4a1b6" stroke="#e63a7a" stroke-width="4.3"/>
<line x1="583.6" y1="800.5" x2="615.6" y2="800.5" stroke="#e63a7a" stroke-width="4.3"/>
<circle cx="238.6" cy="854.7" r="5.5" fill="#000"/>
<circle cx="238.6" cy="893.4" r="5.5" fill="#000"/>
<circle cx="228.1" cy="901.5" r="5.5" fill="#000"/>
<circle cx="248.2" cy="908.5" r="5.5" fill="#000"/>
<circle cx="238.6" cy="930.0" r="5.5" fill="#000"/>
<circle cx="390.0" cy="754.0" r="5.5" fill="#000"/>
<circle cx="390.0" cy="888.1" r="5.5" fill="#000"/>
<circle cx="376.6" cy="905.0" r="5.5" fill="#000"/>
<circle cx="403.0" cy="901.5" r="5.5" fill="#000"/>
<circle cx="375.9" cy="965.9" r="5.5" fill="#000"/>
<circle cx="404.1" cy="965.9" r="5.5" fill="#000"/>
<circle cx="542.1" cy="720.9" r="5.5" fill="#000"/>
<circle cx="528.0" cy="751.2" r="5.5" fill="#000"/>
<circle cx="555.4" cy="751.2" r="5.5" fill="#000"/>
<circle cx="542.1" cy="809.3" r="5.5" fill="#000"/>
<circle cx="542.1" cy="841.7" r="5.5" fill="#000"/>
<circle cx="542.1" cy="869.1" r="5.5" fill="#000"/>
<circle cx="295.0" cy="812.5" r="5.4" fill="#e63a7a"/>
<circle cx="281.6" cy="867.0" r="5.4" fill="#e63a7a"/>
<circle cx="308.7" cy="867.0" r="5.4" fill="#e63a7a"/>
<circle cx="295.0" cy="907.8" r="5.4" fill="#e63a7a"/>
<circle cx="295.0" cy="930.0" r="5.4" fill="#e63a7a"/>
<circle cx="295.0" cy="948.3" r="5.4" fill="#e63a7a"/>
<circle cx="461.1" cy="793.4" r="5.4" fill="#e63a7a"/>
<circle cx="434.7" cy="797.7" r="5.4" fill="#e63a7a"/>
<circle cx="447.7" cy="815.3" r="5.4" fill="#e63a7a"/>
<circle cx="447.7" cy="882.2" r="5.4" fill="#e63a7a"/>
<circle cx="447.7" cy="896.9" r="5.4" fill="#e63a7a"/>
<circle cx="447.7" cy="950.8" r="5.4" fill="#e63a7a"/>
<circle cx="599.4" cy="732.6" r="5.4" fill="#e63a7a"/>
<circle cx="599.4" cy="770.2" r="5.4" fill="#e63a7a"/>
<circle cx="599.4" cy="792.4" r="5.4" fill="#e63a7a"/>
<circle cx="599.4" cy="808.9" r="5.4" fill="#e63a7a"/>
<circle cx="599.4" cy="879.7" r="5.4" fill="#e63a7a"/>
<circle cx="599.4" cy="933.9" r="5.4" fill="#e63a7a"/>
<line x1="201.3" y1="701.6" x2="201.3" y2="990.2" stroke="#000" stroke-width="3.4"/>
<line x1="186.5" y1="988.5" x2="638.0" y2="988.5" stroke="#000" stroke-width="3.4"/>
<line x1="186.5" y1="703.3" x2="201.0" y2="703.3" stroke="#000" stroke-width="3.4"/>
<text x="181.5" y="710.3" font-size="20" font-weight="bold" text-anchor="end">0.90</text>
<line x1="186.5" y1="760.4" x2="201.0" y2="760.4" stroke="#000" stroke-width="3.4"/>
<text x="181.5" y="767.4" font-size="20" font-weight="bold" text-anchor="end">0.88</text>
<line x1="186.5" y1="817.4" x2="201.0" y2="817.4" stroke="#000" stroke-width="3.4"/>
<text x="181.5" y="824.4" font-size="20" font-weight="bold" text-anchor="end">0.86</text>
<line x1="186.5" y1="874.0" x2="201.0" y2="874.0" stroke="#000" stroke-width="3.4"/>
<text x="181.5" y="881.0" font-size="20" font-weight="bold" text-anchor="end">0.84</text>
<line x1="186.5" y1="931.0" x2="201.0" y2="931.0" stroke="#000" stroke-width="3.4"/>
<text x="181.5" y="938.0" font-size="20" font-weight="bold" text-anchor="end">0.82</text>
<line x1="186.5" y1="988.2" x2="201.0" y2="988.2" stroke="#000" stroke-width="3.4"/>
<text x="181.5" y="995.2" font-size="20" font-weight="bold" text-anchor="end">0.80</text>
<line x1="267.5" y1="988.5" x2="267.5" y2="1001.0" stroke="#000" stroke-width="3.4"/>
<text x="267.5" y="1023.6" font-size="19.5" font-weight="bold" text-anchor="middle">Naïve</text>
<line x1="418.0" y1="988.5" x2="418.0" y2="1001.0" stroke="#000" stroke-width="3.4"/>
<text x="418.0" y="1023.6" font-size="19.5" font-weight="bold" text-anchor="middle">CD11c<tspan dy="-0.42em" font-size="72%">+</tspan></text>
<line x1="571.0" y1="988.5" x2="571.0" y2="1001.0" stroke="#000" stroke-width="3.4"/>
<text x="571.0" y="1023.6" font-size="19.5" font-weight="bold" text-anchor="middle">Memory</text>
<text x="125.5" y="846.0" font-size="22" text-anchor="middle" transform="rotate(-90 125.5 846.0)" stroke="#000" stroke-width="0.5" textLength="209.4" lengthAdjust="spacingAndGlyphs">Fraction_Productive</text>
<path d="M238.6 839.2V769.2H297.4V800.5" fill="none" stroke="#000" stroke-width="1.6"/>
<text x="268.2" y="753.7" font-size="20" text-anchor="middle">ns</text>
<path d="M389.0 740.6V720.6H447.7V781.8" fill="none" stroke="#000" stroke-width="1.6"/>
<text x="418.9" y="705.0" font-size="20" text-anchor="middle">ns</text>
<path d="M541.0 709.0V687.5H599.4V720.0" fill="none" stroke="#000" stroke-width="1.6"/>
<text x="570.2" y="673.4" font-size="20" text-anchor="middle">ns</text>
<text x="692.0" y="639.5" font-size="41" font-weight="bold">D</text>
<text x="979.8" y="616.4" font-size="20.6" font-weight="bold" text-anchor="middle" textLength="263.3" lengthAdjust="spacingAndGlyphs">Simpson clonality index</text>
<text x="979.6" y="646.4" font-size="20.6" font-weight="bold" text-anchor="middle" textLength="186.1" lengthAdjust="spacingAndGlyphs">in CD11c<tspan dy="-0.42em" font-size="72%">+</tspan><tspan dy="0.302em"> B cells</tspan></text>
<line x1="944.2" y1="847.6" x2="944.2" y2="879.7" stroke="#000" stroke-width="3.6"/>
<line x1="932.2" y1="847.6" x2="956.2" y2="847.6" stroke="#000" stroke-width="3.6" stroke-linecap="round"/>
<line x1="944.2" y1="952.4" x2="944.2" y2="959.3" stroke="#000" stroke-width="3.6"/>
<line x1="932.2" y1="959.3" x2="956.2" y2="959.3" stroke="#000" stroke-width="3.6" stroke-linecap="round"/>
<rect x="922.9" y="881.5" width="42.6" height="69.1" fill="#6b6767" stroke="#000" stroke-width="3.6"/>
<line x1="922.9" y1="932.2" x2="965.5" y2="932.2" stroke="#000" stroke-width="3.6"/>
<line x1="1016.2" y1="768.6" x2="1016.2" y2="779.1" stroke="#e63a7a" stroke-width="3.6"/>
<line x1="1004.2" y1="768.6" x2="1028.2" y2="768.6" stroke="#e63a7a" stroke-width="3.6" stroke-linecap="round"/>
<line x1="1016.2" y1="938.2" x2="1016.2" y2="974.3" stroke="#e63a7a" stroke-width="3.6"/>
<line x1="1004.2" y1="974.3" x2="1028.2" y2="974.3" stroke="#e63a7a" stroke-width="3.6" stroke-linecap="round"/>
<rect x="994.9" y="780.9" width="42.6" height="155.5" fill="#f4a1b6" stroke="#e63a7a" stroke-width="3.6"/>
<line x1="994.9" y1="875.2" x2="1037.6" y2="875.2" stroke="#e63a7a" stroke-width="3.6"/>
<circle cx="944.2" cy="847.6" r="3.9" fill="#000"/>
<circle cx="944.2" cy="889.3" r="3.9" fill="#000"/>
<circle cx="951.1" cy="930.1" r="3.9" fill="#000"/>
<circle cx="936.7" cy="935.2" r="3.9" fill="#000"/>
<circle cx="944.2" cy="950.3" r="3.9" fill="#000"/>
<circle cx="944.2" cy="959.9" r="3.9" fill="#000"/>
<circle cx="1015.9" cy="768.6" r="3.9" fill="#e63a7a"/>
<circle cx="1015.9" cy="781.5" r="3.9" fill="#e63a7a"/>
<circle cx="1015.9" cy="827.2" r="3.9" fill="#e63a7a"/>
<circle cx="1008.1" cy="924.7" r="3.9" fill="#e63a7a"/>
<circle cx="1023.1" cy="926.2" r="3.9" fill="#e63a7a"/>
<circle cx="1015.9" cy="974.3" r="3.9" fill="#e63a7a"/>
<line x1="896.0" y1="676.5" x2="896.0" y2="1014.0" stroke="#000" stroke-width="3"/>
<line x1="885.6" y1="1012.5" x2="1063.7" y2="1012.5" stroke="#000" stroke-width="3"/>
<line x1="885.6" y1="678.0" x2="896.0" y2="678.0" stroke="#000" stroke-width="3"/>
<text x="881.0" y="684.2" font-size="17.5" font-weight="bold" text-anchor="end">0.20</text>
<line x1="885.6" y1="761.4" x2="896.0" y2="761.4" stroke="#000" stroke-width="3"/>
<text x="881.0" y="767.6" font-size="17.5" font-weight="bold" text-anchor="end">0.15</text>
<line x1="885.6" y1="845.2" x2="896.0" y2="845.2" stroke="#000" stroke-width="3"/>
<text x="881.0" y="851.4" font-size="17.5" font-weight="bold" text-anchor="end">0.10</text>
<line x1="885.6" y1="928.6" x2="896.0" y2="928.6" stroke="#000" stroke-width="3"/>
<text x="881.0" y="934.8" font-size="17.5" font-weight="bold" text-anchor="end">0.05</text>
<line x1="885.6" y1="1012.4" x2="896.0" y2="1012.4" stroke="#000" stroke-width="3"/>
<text x="881.0" y="1018.6" font-size="17.5" font-weight="bold" text-anchor="end">0.00</text>
<line x1="943.6" y1="1012.5" x2="943.6" y2="1022.5" stroke="#000" stroke-width="3"/>
<text x="943.6" y="1041.8" font-size="17.5" font-weight="bold" text-anchor="middle">HC</text>
<line x1="1016.0" y1="1012.5" x2="1016.0" y2="1022.5" stroke="#000" stroke-width="3"/>
<text x="1016.0" y="1041.8" font-size="17.5" font-weight="bold" text-anchor="middle">DS</text>
<text x="830.0" y="845.0" font-size="17.8" font-weight="bold" text-anchor="middle" transform="rotate(-90 830.0 845.0)" textLength="218.6" lengthAdjust="spacingAndGlyphs">Simpson clonality index</text>
<path d="M942.7 832.6V704.0H1016.0V754.5" fill="none" stroke="#000" stroke-width="1.4"/>
<text x="979.6" y="691.2" font-size="18" text-anchor="middle">ns</text>
<text x="1246.0" y="685.0" font-size="41" font-weight="bold">E</text>
<text x="1248.0" y="1046.0" font-size="41" font-weight="bold">F</text>
<rect x="1345.7" y="742.0" width="68.9" height="68.8" fill="#fff"/>
<rect x="1414.6" y="742.0" width="69.2" height="69.1" fill="#582766"/>
<rect x="1483.5" y="742.0" width="69.2" height="69.1" fill="#48b98b"/>
<rect x="1345.7" y="810.8" width="69.2" height="69.1" fill="#582766"/>
<rect x="1414.6" y="810.8" width="68.9" height="68.8" fill="#fff"/>
<rect x="1483.5" y="810.8" width="69.2" height="69.1" fill="#fbe62d"/>
<rect x="1345.7" y="879.5" width="69.2" height="69.1" fill="#48b98b"/>
<rect x="1414.6" y="879.5" width="69.2" height="69.1" fill="#fbe62d"/>
<rect x="1483.5" y="879.5" width="68.9" height="68.8" fill="#fff"/>
<path d="M1345.7 742.0L1414.6 810.8M1414.6 742.0L1345.7 810.8" fill="none" stroke="#000" stroke-width="1.6"/>
<path d="M1414.6 810.8L1483.5 879.5M1483.5 810.8L1414.6 879.5" fill="none" stroke="#000" stroke-width="1.6"/>
<path d="M1483.5 879.5L1552.4 948.3M1552.4 879.5L1483.5 948.3" fill="none" stroke="#000" stroke-width="1.6"/>
<rect x="1345.7" y="742.0" width="206.7" height="206.3" fill="none" stroke="#000" stroke-width="2"/>
<line x1="1336.7" y1="776.4" x2="1345.7" y2="776.4" stroke="#000" stroke-width="1.8"/>
<text x="1334.2" y="779.4" font-size="15.2" font-weight="bold" text-anchor="end">Naive</text>
<line x1="1380.2" y1="948.3" x2="1380.2" y2="955.3" stroke="#000" stroke-width="1.8"/>
<text x="1380.2" y="972.6" font-size="15.2" font-weight="bold" text-anchor="middle">Naive</text>
<line x1="1336.7" y1="845.1" x2="1345.7" y2="845.1" stroke="#000" stroke-width="1.8"/>
<text x="1334.2" y="848.1" font-size="15.2" font-weight="bold" text-anchor="end">CD11c<tspan dy="-0.42em" font-size="72%">+</tspan></text>
<line x1="1449.1" y1="948.3" x2="1449.1" y2="955.3" stroke="#000" stroke-width="1.8"/>
<text x="1449.1" y="972.6" font-size="15.2" font-weight="bold" text-anchor="middle">CD11c<tspan dy="-0.42em" font-size="72%">+</tspan></text>
<line x1="1336.7" y1="913.9" x2="1345.7" y2="913.9" stroke="#000" stroke-width="1.8"/>
<text x="1334.2" y="916.9" font-size="15.2" font-weight="bold" text-anchor="end">Memory</text>
<line x1="1518.0" y1="948.3" x2="1518.0" y2="955.3" stroke="#000" stroke-width="1.8"/>
<text x="1518.0" y="972.6" font-size="15.2" font-weight="bold" text-anchor="middle">Memory</text>
<text x="1436.0" y="720.3" font-size="31" font-weight="bold" text-anchor="middle" textLength="234.2" lengthAdjust="spacingAndGlyphs">HC (nucleotide)</text>
<defs><linearGradient id="vg1" x1="0" y1="0" x2="0" y2="1"><stop offset="0" stop-color="#fde725"/><stop offset="0.111" stop-color="#b5de2b"/><stop offset="0.222" stop-color="#6ece58"/><stop offset="0.333" stop-color="#35b779"/><stop offset="0.444" stop-color="#1f9e89"/><stop offset="0.556" stop-color="#26828e"/><stop offset="0.667" stop-color="#31688e"/><stop offset="0.778" stop-color="#3e4989"/><stop offset="0.889" stop-color="#482878"/><stop offset="1" stop-color="#4e2270"/></linearGradient></defs>
<rect x="1577.9" y="742.0" width="25.6" height="205.4" fill="url(#vg1)" stroke="#000" stroke-width="2.6"/>
<line x1="1578.0" y1="744.7" x2="1584.0" y2="744.7" stroke="#000" stroke-width="1.8"/>
<line x1="1597.4" y1="744.7" x2="1603.4" y2="744.7" stroke="#000" stroke-width="1.8"/>
<text x="1612.9" y="750.5" font-size="16.4">0.0015</text>
<line x1="1578.0" y1="814.2" x2="1584.0" y2="814.2" stroke="#000" stroke-width="1.8"/>
<line x1="1597.4" y1="814.2" x2="1603.4" y2="814.2" stroke="#000" stroke-width="1.8"/>
<text x="1612.9" y="820.0" font-size="16.4">0.0010</text>
<line x1="1578.0" y1="884.2" x2="1584.0" y2="884.2" stroke="#000" stroke-width="1.8"/>
<line x1="1597.4" y1="884.2" x2="1603.4" y2="884.2" stroke="#000" stroke-width="1.8"/>
<text x="1612.9" y="890.0" font-size="16.4">0.0005</text>
<text x="1582.6" y="720.8" font-size="16.4">Morisita Index</text>
<rect x="1781.7" y="742.0" width="68.9" height="68.8" fill="#fff"/>
<rect x="1850.6" y="742.0" width="69.2" height="69.1" fill="#4f5b9c"/>
<rect x="1919.5" y="742.0" width="69.2" height="69.1" fill="#582766"/>
<rect x="1781.7" y="810.8" width="69.2" height="69.1" fill="#4f5b9c"/>
<rect x="1850.6" y="810.8" width="68.9" height="68.8" fill="#fff"/>
<rect x="1919.5" y="810.8" width="69.2" height="69.1" fill="#fbe62d"/>
<rect x="1781.7" y="879.5" width="69.2" height="69.1" fill="#582766"/>
<rect x="1850.6" y="879.5" width="69.2" height="69.1" fill="#fbe62d"/>
<rect x="1919.5" y="879.5" width="68.9" height="68.8" fill="#fff"/>
<path d="M1781.7 742.0L1850.6 810.8M1850.6 742.0L1781.7 810.8" fill="none" stroke="#000" stroke-width="1.6"/>
<path d="M1850.6 810.8L1919.5 879.5M1919.5 810.8L1850.6 879.5" fill="none" stroke="#000" stroke-width="1.6"/>
<path d="M1919.5 879.5L1988.4 948.3M1988.4 879.5L1919.5 948.3" fill="none" stroke="#000" stroke-width="1.6"/>
<rect x="1781.7" y="742.0" width="206.7" height="206.3" fill="none" stroke="#000" stroke-width="2"/>
<line x1="1772.7" y1="776.4" x2="1781.7" y2="776.4" stroke="#000" stroke-width="1.8"/>
<text x="1770.2" y="779.4" font-size="15.2" font-weight="bold" text-anchor="end">Naive</text>
<line x1="1816.2" y1="948.3" x2="1816.2" y2="955.3" stroke="#000" stroke-width="1.8"/>
<text x="1816.2" y="972.6" font-size="15.2" font-weight="bold" text-anchor="middle">Naive</text>
<line x1="1772.7" y1="845.1" x2="1781.7" y2="845.1" stroke="#000" stroke-width="1.8"/>
<text x="1770.2" y="848.1" font-size="15.2" font-weight="bold" text-anchor="end">CD11c<tspan dy="-0.42em" font-size="72%">+</tspan></text>
<line x1="1885.1" y1="948.3" x2="1885.1" y2="955.3" stroke="#000" stroke-width="1.8"/>
<text x="1885.1" y="972.6" font-size="15.2" font-weight="bold" text-anchor="middle">CD11c<tspan dy="-0.42em" font-size="72%">+</tspan></text>
<line x1="1772.7" y1="913.9" x2="1781.7" y2="913.9" stroke="#000" stroke-width="1.8"/>
<text x="1770.2" y="916.9" font-size="15.2" font-weight="bold" text-anchor="end">Memory</text>
<line x1="1954.0" y1="948.3" x2="1954.0" y2="955.3" stroke="#000" stroke-width="1.8"/>
<text x="1954.0" y="972.6" font-size="15.2" font-weight="bold" text-anchor="middle">Memory</text>
<text x="1874.0" y="717.6" font-size="31" font-weight="bold" text-anchor="middle" textLength="232.4" lengthAdjust="spacingAndGlyphs">DS (nucleotide)</text>
<defs><linearGradient id="vg2" x1="0" y1="0" x2="0" y2="1"><stop offset="0" stop-color="#fde725"/><stop offset="0.111" stop-color="#b5de2b"/><stop offset="0.222" stop-color="#6ece58"/><stop offset="0.333" stop-color="#35b779"/><stop offset="0.444" stop-color="#1f9e89"/><stop offset="0.556" stop-color="#26828e"/><stop offset="0.667" stop-color="#31688e"/><stop offset="0.778" stop-color="#3e4989"/><stop offset="0.889" stop-color="#482878"/><stop offset="1" stop-color="#4e2270"/></linearGradient></defs>
<rect x="2013.6" y="742.0" width="25.9" height="205.4" fill="url(#vg2)" stroke="#000" stroke-width="2.6"/>
<line x1="2013.7" y1="806.5" x2="2019.7" y2="806.5" stroke="#000" stroke-width="1.8"/>
<line x1="2033.4" y1="806.5" x2="2039.4" y2="806.5" stroke="#000" stroke-width="1.8"/>
<text x="2048.9" y="812.3" font-size="16.4">0.004</text>
<line x1="2013.7" y1="876.5" x2="2019.7" y2="876.5" stroke="#000" stroke-width="1.8"/>
<line x1="2033.4" y1="876.5" x2="2039.4" y2="876.5" stroke="#000" stroke-width="1.8"/>
<text x="2048.9" y="882.3" font-size="16.4">0.002</text>
<line x1="2013.7" y1="947.4" x2="2019.7" y2="947.4" stroke="#000" stroke-width="1.8"/>
<line x1="2033.4" y1="947.4" x2="2039.4" y2="947.4" stroke="#000" stroke-width="1.8"/>
<text x="2048.9" y="953.2" font-size="16.4">0</text>
<text x="2017.5" y="721.3" font-size="16.4">Morisita Index</text>
<rect x="1334.4" y="1103.4" width="68.6" height="68.5" fill="#fff"/>
<rect x="1403.0" y="1103.4" width="68.9" height="68.8" fill="#582766"/>
<rect x="1471.6" y="1103.4" width="68.9" height="68.8" fill="#71c375"/>
<rect x="1334.4" y="1171.9" width="68.9" height="68.8" fill="#582766"/>
<rect x="1403.0" y="1171.9" width="68.6" height="68.5" fill="#fff"/>
<rect x="1471.6" y="1171.9" width="68.9" height="68.8" fill="#fbe62d"/>
<rect x="1334.4" y="1240.3" width="68.9" height="68.8" fill="#71c375"/>
<rect x="1403.0" y="1240.3" width="68.9" height="68.8" fill="#fbe62d"/>
<rect x="1471.6" y="1240.3" width="68.6" height="68.5" fill="#fff"/>
<path d="M1334.4 1103.4L1403.0 1171.9M1403.0 1103.4L1334.4 1171.9" fill="none" stroke="#000" stroke-width="1.6"/>
<path d="M1403.0 1171.9L1471.6 1240.3M1471.6 1171.9L1403.0 1240.3" fill="none" stroke="#000" stroke-width="1.6"/>
<path d="M1471.6 1240.3L1540.2 1308.8M1540.2 1240.3L1471.6 1308.8" fill="none" stroke="#000" stroke-width="1.6"/>
<rect x="1334.4" y="1103.4" width="205.8" height="205.4" fill="none" stroke="#000" stroke-width="2"/>
<line x1="1325.4" y1="1137.6" x2="1334.4" y2="1137.6" stroke="#000" stroke-width="1.8"/>
<text x="1322.9" y="1140.6" font-size="15.2" font-weight="bold" text-anchor="end">Naive</text>
<line x1="1368.7" y1="1308.8" x2="1368.7" y2="1315.8" stroke="#000" stroke-width="1.8"/>
<text x="1368.7" y="1333.1" font-size="15.2" font-weight="bold" text-anchor="middle">Naive</text>
<line x1="1325.4" y1="1206.1" x2="1334.4" y2="1206.1" stroke="#000" stroke-width="1.8"/>
<text x="1322.9" y="1209.1" font-size="15.2" font-weight="bold" text-anchor="end">CD11c<tspan dy="-0.42em" font-size="72%">+</tspan></text>
<line x1="1437.3" y1="1308.8" x2="1437.3" y2="1315.8" stroke="#000" stroke-width="1.8"/>
<text x="1437.3" y="1333.1" font-size="15.2" font-weight="bold" text-anchor="middle">CD11c<tspan dy="-0.42em" font-size="72%">+</tspan></text>
<line x1="1325.4" y1="1274.6" x2="1334.4" y2="1274.6" stroke="#000" stroke-width="1.8"/>
<text x="1322.9" y="1277.6" font-size="15.2" font-weight="bold" text-anchor="end">Memory</text>
<line x1="1505.9" y1="1308.8" x2="1505.9" y2="1315.8" stroke="#000" stroke-width="1.8"/>
<text x="1505.9" y="1333.1" font-size="15.2" font-weight="bold" text-anchor="middle">Memory</text>
<text x="1438.0" y="1068.7" font-size="31" font-weight="bold" text-anchor="middle">HC (aa)</text>
<defs><linearGradient id="vg3" x1="0" y1="0" x2="0" y2="1"><stop offset="0" stop-color="#fde725"/><stop offset="0.111" stop-color="#b5de2b"/><stop offset="0.222" stop-color="#6ece58"/><stop offset="0.333" stop-color="#35b779"/><stop offset="0.444" stop-color="#1f9e89"/><stop offset="0.556" stop-color="#26828e"/><stop offset="0.667" stop-color="#31688e"/><stop offset="0.778" stop-color="#3e4989"/><stop offset="0.889" stop-color="#482878"/><stop offset="1" stop-color="#4e2270"/></linearGradient></defs>
<rect x="1564.9" y="1103.4" width="26.9" height="204.6" fill="url(#vg3)" stroke="#000" stroke-width="2.6"/>
<line x1="1565.0" y1="1157.6" x2="1571.0" y2="1157.6" stroke="#000" stroke-width="1.8"/>
<line x1="1585.7" y1="1157.6" x2="1591.7" y2="1157.6" stroke="#000" stroke-width="1.8"/>
<text x="1601.2" y="1163.4" font-size="16.4">0.003</text>
<line x1="1565.0" y1="1211.3" x2="1571.0" y2="1211.3" stroke="#000" stroke-width="1.8"/>
<line x1="1585.7" y1="1211.3" x2="1591.7" y2="1211.3" stroke="#000" stroke-width="1.8"/>
<text x="1601.2" y="1217.1" font-size="16.4">0.002</text>
<line x1="1565.0" y1="1265.5" x2="1571.0" y2="1265.5" stroke="#000" stroke-width="1.8"/>
<line x1="1585.7" y1="1265.5" x2="1591.7" y2="1265.5" stroke="#000" stroke-width="1.8"/>
<text x="1601.2" y="1271.3" font-size="16.4">0.001</text>
<text x="1570.5" y="1083.8" font-size="16.4">Morisita Index</text>
<rect x="1773.6" y="1099.4" width="69.6" height="69.8" fill="#fff"/>
<rect x="1843.2" y="1099.4" width="69.9" height="70.1" fill="#4f5b9c"/>
<rect x="1912.9" y="1099.4" width="69.9" height="70.1" fill="#582766"/>
<rect x="1773.6" y="1169.2" width="69.9" height="70.1" fill="#4f5b9c"/>
<rect x="1843.2" y="1169.2" width="69.6" height="69.8" fill="#fff"/>
<rect x="1912.9" y="1169.2" width="69.9" height="70.1" fill="#fbe62d"/>
<rect x="1773.6" y="1239.0" width="69.9" height="70.1" fill="#582766"/>
<rect x="1843.2" y="1239.0" width="69.9" height="70.1" fill="#fbe62d"/>
<rect x="1912.9" y="1239.0" width="69.6" height="69.8" fill="#fff"/>
<path d="M1773.6 1099.4L1843.2 1169.2M1843.2 1099.4L1773.6 1169.2" fill="none" stroke="#000" stroke-width="1.6"/>
<path d="M1843.2 1169.2L1912.9 1239.0M1912.9 1169.2L1843.2 1239.0" fill="none" stroke="#000" stroke-width="1.6"/>
<path d="M1912.9 1239.0L1982.5 1308.8M1982.5 1239.0L1912.9 1308.8" fill="none" stroke="#000" stroke-width="1.6"/>
<rect x="1773.6" y="1099.4" width="208.9" height="209.4" fill="none" stroke="#000" stroke-width="2"/>
<line x1="1764.6" y1="1134.3" x2="1773.6" y2="1134.3" stroke="#000" stroke-width="1.8"/>
<text x="1762.1" y="1137.3" font-size="15.2" font-weight="bold" text-anchor="end">Naive</text>
<line x1="1808.4" y1="1308.8" x2="1808.4" y2="1315.8" stroke="#000" stroke-width="1.8"/>
<text x="1808.4" y="1333.1" font-size="15.2" font-weight="bold" text-anchor="middle">Naive</text>
<line x1="1764.6" y1="1204.1" x2="1773.6" y2="1204.1" stroke="#000" stroke-width="1.8"/>
<text x="1762.1" y="1207.1" font-size="15.2" font-weight="bold" text-anchor="end">CD11c<tspan dy="-0.42em" font-size="72%">+</tspan></text>
<line x1="1878.0" y1="1308.8" x2="1878.0" y2="1315.8" stroke="#000" stroke-width="1.8"/>
<text x="1878.0" y="1333.1" font-size="15.2" font-weight="bold" text-anchor="middle">CD11c<tspan dy="-0.42em" font-size="72%">+</tspan></text>
<line x1="1764.6" y1="1273.9" x2="1773.6" y2="1273.9" stroke="#000" stroke-width="1.8"/>
<text x="1762.1" y="1276.9" font-size="15.2" font-weight="bold" text-anchor="end">Memory</text>
<line x1="1947.7" y1="1308.8" x2="1947.7" y2="1315.8" stroke="#000" stroke-width="1.8"/>
<text x="1947.7" y="1333.1" font-size="15.2" font-weight="bold" text-anchor="middle">Memory</text>
<text x="1879.6" y="1071.0" font-size="31" font-weight="bold" text-anchor="middle">DS (aa)</text>
<defs><linearGradient id="vg4" x1="0" y1="0" x2="0" y2="1"><stop offset="0" stop-color="#fde725"/><stop offset="0.111" stop-color="#b5de2b"/><stop offset="0.222" stop-color="#6ece58"/><stop offset="0.333" stop-color="#35b779"/><stop offset="0.444" stop-color="#1f9e89"/><stop offset="0.556" stop-color="#26828e"/><stop offset="0.667" stop-color="#31688e"/><stop offset="0.778" stop-color="#3e4989"/><stop offset="0.889" stop-color="#482878"/><stop offset="1" stop-color="#4e2270"/></linearGradient></defs>
<rect x="2008.2" y="1099.4" width="27.2" height="208.6" fill="url(#vg4)" stroke="#000" stroke-width="2.6"/>
<line x1="2008.3" y1="1164.0" x2="2014.3" y2="1164.0" stroke="#000" stroke-width="1.8"/>
<line x1="2029.3" y1="1164.0" x2="2035.3" y2="1164.0" stroke="#000" stroke-width="1.8"/>
<text x="2044.8" y="1169.8" font-size="16.4">0.004</text>
<line x1="2008.3" y1="1235.2" x2="2014.3" y2="1235.2" stroke="#000" stroke-width="1.8"/>
<line x1="2029.3" y1="1235.2" x2="2035.3" y2="1235.2" stroke="#000" stroke-width="1.8"/>
<text x="2044.8" y="1241.0" font-size="16.4">0.002</text>
<line x1="2008.3" y1="1308.0" x2="2014.3" y2="1308.0" stroke="#000" stroke-width="1.8"/>
<line x1="2029.3" y1="1308.0" x2="2035.3" y2="1308.0" stroke="#000" stroke-width="1.8"/>
<text x="2044.8" y="1313.8" font-size="16.4">0</text>
<text x="2012.8" y="1079.4" font-size="16.4">Morisita Index</text>
<g shape-rendering="crispEdges">
<rect x="94.1" y="1128.5" width="1138.2" height="834.1" fill="#fff"/>
<rect x="94.1" y="1128.5" width="58.7" height="22.9" fill="#1e1848"/>
<rect x="152.5" y="1128.5" width="29.5" height="22.9" fill="#0b0b10"/>
<rect x="181.7" y="1128.5" width="29.5" height="22.9" fill="#4a2a7a"/>
<rect x="210.8" y="1128.5" width="29.5" height="22.9" fill="#0b0b10"/>
<rect x="240.0" y="1128.5" width="29.5" height="22.9" fill="#1e1848"/>
<rect x="269.2" y="1128.5" width="29.5" height="22.9" fill="#0b0b10"/>
<rect x="298.4" y="1128.5" width="29.5" height="22.9" fill="#1e1848"/>
<rect x="327.6" y="1128.5" width="29.5" height="22.9" fill="#131230"/>
<rect x="356.8" y="1128.5" width="58.7" height="22.9" fill="#1e1848"/>
<rect x="415.1" y="1128.5" width="58.7" height="22.9" fill="#6b6b6b"/>
<rect x="473.5" y="1128.5" width="29.5" height="22.9" fill="#0b0b10"/>
<rect x="502.7" y="1128.5" width="29.5" height="22.9" fill="#4a2a7a"/>
<rect x="531.9" y="1128.5" width="29.5" height="22.9" fill="#6b6b6b"/>
<rect x="561.1" y="1128.5" width="29.5" height="22.9" fill="#c04884"/>
<rect x="590.2" y="1128.5" width="58.7" height="22.9" fill="#6b6b6b"/>
<rect x="648.6" y="1128.5" width="117.0" height="22.9" fill="#131230"/>
<rect x="765.3" y="1128.5" width="29.5" height="22.9" fill="#33246a"/>
<rect x="794.5" y="1128.5" width="29.5" height="22.9" fill="#1e1848"/>
<rect x="823.7" y="1128.5" width="29.5" height="22.9" fill="#0b0b10"/>
<rect x="852.9" y="1128.5" width="29.5" height="22.9" fill="#131230"/>
<rect x="882.1" y="1128.5" width="29.5" height="22.9" fill="#1e1848"/>
<rect x="911.3" y="1128.5" width="29.5" height="22.9" fill="#0b0b10"/>
<rect x="940.5" y="1128.5" width="29.5" height="22.9" fill="#682e8a"/>
<rect x="969.6" y="1128.5" width="29.5" height="22.9" fill="#1e1848"/>
<rect x="998.8" y="1128.5" width="29.5" height="22.9" fill="#0b0b10"/>
<rect x="1028.0" y="1128.5" width="58.7" height="22.9" fill="#6b6b6b"/>
<rect x="1086.4" y="1128.5" width="29.5" height="22.9" fill="#131230"/>
<rect x="1115.6" y="1128.5" width="29.5" height="22.9" fill="#1e1848"/>
<rect x="1144.7" y="1128.5" width="29.5" height="22.9" fill="#33246a"/>
<rect x="1173.9" y="1128.5" width="29.5" height="22.9" fill="#131230"/>
<rect x="1203.1" y="1128.5" width="29.5" height="22.9" fill="#6b6b6b"/>
<rect x="94.1" y="1151.1" width="29.5" height="22.9" fill="#682e8a"/>
<rect x="123.3" y="1151.1" width="29.5" height="22.9" fill="#131230"/>
<rect x="152.5" y="1151.1" width="29.5" height="22.9" fill="#33246a"/>
<rect x="181.7" y="1151.1" width="29.5" height="22.9" fill="#4a2a7a"/>
<rect x="210.8" y="1151.1" width="29.5" height="22.9" fill="#0b0b10"/>
<rect x="240.0" y="1151.1" width="29.5" height="22.9" fill="#1e1848"/>
<rect x="269.2" y="1151.1" width="29.5" height="22.9" fill="#0b0b10"/>
<rect x="298.4" y="1151.1" width="29.5" height="22.9" fill="#33246a"/>
<rect x="327.6" y="1151.1" width="58.7" height="22.9" fill="#1e1848"/>
<rect x="385.9" y="1151.1" width="29.5" height="22.9" fill="#131230"/>
<rect x="415.1" y="1151.1" width="29.5" height="22.9" fill="#682e8a"/>
<rect x="444.3" y="1151.1" width="58.7" height="22.9" fill="#131230"/>
<rect x="502.7" y="1151.1" width="29.5" height="22.9" fill="#4a2a7a"/>
<rect x="531.9" y="1151.1" width="29.5" height="22.9" fill="#0b0b10"/>
<rect x="561.1" y="1151.1" width="29.5" height="22.9" fill="#c04884"/>
<rect x="590.2" y="1151.1" width="58.7" height="22.9" fill="#6b6b6b"/>
<rect x="648.6" y="1151.1" width="117.0" height="22.9" fill="#131230"/>
<rect x="765.3" y="1151.1" width="29.5" height="22.9" fill="#0b0b10"/>
<rect x="794.5" y="1151.1" width="29.5" height="22.9" fill="#131230"/>
<rect x="823.7" y="1151.1" width="29.5" height="22.9" fill="#0b0b10"/>
<rect x="852.9" y="1151.1" width="29.5" height="22.9" fill="#131230"/>
<rect x="882.1" y="1151.1" width="29.5" height="22.9" fill="#1e1848"/>
<rect x="911.3" y="1151.1" width="29.5" height="22.9" fill="#0b0b10"/>
<rect x="940.5" y="1151.1" width="29.5" height="22.9" fill="#92368e"/>
<rect x="969.6" y="1151.1" width="58.7" height="22.9" fill="#0b0b10"/>
<rect x="1028.0" y="1151.1" width="87.9" height="22.9" fill="#6b6b6b"/>
<rect x="1115.6" y="1151.1" width="29.5" height="22.9" fill="#1e1848"/>
<rect x="1144.7" y="1151.1" width="29.5" height="22.9" fill="#6b6b6b"/>
<rect x="1173.9" y="1151.1" width="29.5" height="22.9" fill="#0b0b10"/>
<rect x="1203.1" y="1151.1" width="29.5" height="22.9" fill="#131230"/>
<rect x="94.1" y="1173.7" width="29.5" height="22.9" fill="#131230"/>
<rect x="123.3" y="1173.7" width="29.5" height="22.9" fill="#33246a"/>
<rect x="152.5" y="1173.7" width="29.5" height="22.9" fill="#0b0b10"/>
<rect x="181.7" y="1173.7" width="29.5" height="22.9" fill="#4a2a7a"/>
<rect x="210.8" y="1173.7" width="29.5" height="22.9" fill="#0b0b10"/>
<rect x="240.0" y="1173.7" width="29.5" height="22.9" fill="#131230"/>
<rect x="269.2" y="1173.7" width="29.5" height="22.9" fill="#0b0b10"/>
<rect x="298.4" y="1173.7" width="29.5" height="22.9" fill="#92368e"/>
<rect x="327.6" y="1173.7" width="29.5" height="22.9" fill="#131230"/>
<rect x="356.8" y="1173.7" width="58.7" height="22.9" fill="#1e1848"/>
<rect x="415.1" y="1173.7" width="58.7" height="22.9" fill="#6b6b6b"/>
<rect x="473.5" y="1173.7" width="29.5" height="22.9" fill="#0b0b10"/>
<rect x="502.7" y="1173.7" width="29.5" height="22.9" fill="#682e8a"/>
<rect x="531.9" y="1173.7" width="29.5" height="22.9" fill="#6b6b6b"/>
<rect x="561.1" y="1173.7" width="29.5" height="22.9" fill="#fa9f28"/>
<rect x="590.2" y="1173.7" width="58.7" height="22.9" fill="#6b6b6b"/>
<rect x="648.6" y="1173.7" width="29.5" height="22.9" fill="#0b0b10"/>
<rect x="677.8" y="1173.7" width="29.5" height="22.9" fill="#131230"/>
<rect x="707.0" y="1173.7" width="29.5" height="22.9" fill="#1e1848"/>
<rect x="736.2" y="1173.7" width="58.7" height="22.9" fill="#131230"/>
<rect x="794.5" y="1173.7" width="29.5" height="22.9" fill="#6b6b6b"/>
<rect x="823.7" y="1173.7" width="29.5" height="22.9" fill="#0b0b10"/>
<rect x="852.9" y="1173.7" width="58.7" height="22.9" fill="#131230"/>
<rect x="911.3" y="1173.7" width="29.5" height="22.9" fill="#6b6b6b"/>
<rect x="940.5" y="1173.7" width="29.5" height="22.9" fill="#92368e"/>
<rect x="969.6" y="1173.7" width="29.5" height="22.9" fill="#33246a"/>
<rect x="998.8" y="1173.7" width="58.7" height="22.9" fill="#0b0b10"/>
<rect x="1057.2" y="1173.7" width="58.7" height="22.9" fill="#6b6b6b"/>
<rect x="1115.6" y="1173.7" width="29.5" height="22.9" fill="#1e1848"/>
<rect x="1144.7" y="1173.7" width="29.5" height="22.9" fill="#33246a"/>
<rect x="1173.9" y="1173.7" width="29.5" height="22.9" fill="#131230"/>
<rect x="1203.1" y="1173.7" width="29.5" height="22.9" fill="#6b6b6b"/>
<rect x="94.1" y="1196.3" width="58.7" height="22.9" fill="#33246a"/>
<rect x="152.5" y="1196.3" width="29.5" height="22.9" fill="#1e1848"/>
<rect x="181.7" y="1196.3" width="29.5" height="22.9" fill="#33246a"/>
<rect x="210.8" y="1196.3" width="29.5" height="22.9" fill="#0b0b10"/>
<rect x="240.0" y="1196.3" width="29.5" height="22.9" fill="#131230"/>
<rect x="269.2" y="1196.3" width="29.5" height="22.9" fill="#0b0b10"/>
<rect x="298.4" y="1196.3" width="29.5" height="22.9" fill="#131230"/>
<rect x="327.6" y="1196.3" width="29.5" height="22.9" fill="#33246a"/>
<rect x="356.8" y="1196.3" width="29.5" height="22.9" fill="#131230"/>
<rect x="385.9" y="1196.3" width="29.5" height="22.9" fill="#0b0b10"/>
<rect x="415.1" y="1196.3" width="29.5" height="22.9" fill="#682e8a"/>
<rect x="444.3" y="1196.3" width="58.7" height="22.9" fill="#131230"/>
<rect x="502.7" y="1196.3" width="29.5" height="22.9" fill="#92368e"/>
<rect x="531.9" y="1196.3" width="29.5" height="22.9" fill="#0b0b10"/>
<rect x="561.1" y="1196.3" width="29.5" height="22.9" fill="#de5a6c"/>
<rect x="590.2" y="1196.3" width="58.7" height="22.9" fill="#6b6b6b"/>
<rect x="648.6" y="1196.3" width="29.5" height="22.9" fill="#1e1848"/>
<rect x="677.8" y="1196.3" width="87.9" height="22.9" fill="#131230"/>
<rect x="765.3" y="1196.3" width="29.5" height="22.9" fill="#0b0b10"/>
<rect x="794.5" y="1196.3" width="29.5" height="22.9" fill="#131230"/>
<rect x="823.7" y="1196.3" width="29.5" height="22.9" fill="#0b0b10"/>
<rect x="852.9" y="1196.3" width="58.7" height="22.9" fill="#131230"/>
<rect x="911.3" y="1196.3" width="29.5" height="22.9" fill="#0b0b10"/>
<rect x="940.5" y="1196.3" width="29.5" height="22.9" fill="#682e8a"/>
<rect x="969.6" y="1196.3" width="29.5" height="22.9" fill="#1e1848"/>
<rect x="998.8" y="1196.3" width="29.5" height="22.9" fill="#0b0b10"/>
<rect x="1028.0" y="1196.3" width="58.7" height="22.9" fill="#6b6b6b"/>
<rect x="1086.4" y="1196.3" width="29.5" height="22.9" fill="#0b0b10"/>
<rect x="1115.6" y="1196.3" width="29.5" height="22.9" fill="#1e1848"/>
<rect x="1144.7" y="1196.3" width="29.5" height="22.9" fill="#6b6b6b"/>
<rect x="1173.9" y="1196.3" width="29.5" height="22.9" fill="#0b0b10"/>
<rect x="1203.1" y="1196.3" width="29.5" height="22.9" fill="#6b6b6b"/>
<rect x="94.1" y="1218.8" width="29.5" height="22.9" fill="#33246a"/>
<rect x="123.3" y="1218.8" width="29.5" height="22.9" fill="#1e1848"/>
<rect x="152.5" y="1218.8" width="29.5" height="22.9" fill="#131230"/>
<rect x="181.7" y="1218.8" width="29.5" height="22.9" fill="#4a2a7a"/>
<rect x="210.8" y="1218.8" width="29.5" height="22.9" fill="#0b0b10"/>
<rect x="240.0" y="1218.8" width="29.5" height="22.9" fill="#1e1848"/>
<rect x="269.2" y="1218.8" width="29.5" height="22.9" fill="#0b0b10"/>
<rect x="298.4" y="1218.8" width="29.5" height="22.9" fill="#682e8a"/>
<rect x="327.6" y="1218.8" width="29.5" height="22.9" fill="#1e1848"/>
<rect x="356.8" y="1218.8" width="29.5" height="22.9" fill="#0b0b10"/>
<rect x="385.9" y="1218.8" width="29.5" height="22.9" fill="#1e1848"/>
<rect x="415.1" y="1218.8" width="29.5" height="22.9" fill="#33246a"/>
<rect x="444.3" y="1218.8" width="29.5" height="22.9" fill="#0b0b10"/>
<rect x="473.5" y="1218.8" width="29.5" height="22.9" fill="#131230"/>
<rect x="502.7" y="1218.8" width="29.5" height="22.9" fill="#682e8a"/>
<rect x="531.9" y="1218.8" width="29.5" height="22.9" fill="#0b0b10"/>
<rect x="561.1" y="1218.8" width="29.5" height="22.9" fill="#de5a6c"/>
<rect x="590.2" y="1218.8" width="58.7" height="22.9" fill="#6b6b6b"/>
<rect x="648.6" y="1218.8" width="29.5" height="22.9" fill="#131230"/>
<rect x="677.8" y="1218.8" width="29.5" height="22.9" fill="#682e8a"/>
<rect x="707.0" y="1218.8" width="58.7" height="22.9" fill="#1e1848"/>
<rect x="765.3" y="1218.8" width="58.7" height="22.9" fill="#131230"/>
<rect x="823.7" y="1218.8" width="29.5" height="22.9" fill="#0b0b10"/>
<rect x="852.9" y="1218.8" width="29.5" height="22.9" fill="#131230"/>
<rect x="882.1" y="1218.8" width="29.5" height="22.9" fill="#1e1848"/>
<rect x="911.3" y="1218.8" width="29.5" height="22.9" fill="#0b0b10"/>
<rect x="940.5" y="1218.8" width="29.5" height="22.9" fill="#682e8a"/>
<rect x="969.6" y="1218.8" width="29.5" height="22.9" fill="#33246a"/>
<rect x="998.8" y="1218.8" width="29.5" height="22.9" fill="#0b0b10"/>
<rect x="1028.0" y="1218.8" width="29.5" height="22.9" fill="#6b6b6b"/>
<rect x="1057.2" y="1218.8" width="58.7" height="22.9" fill="#0b0b10"/>
<rect x="1115.6" y="1218.8" width="29.5" height="22.9" fill="#4a2a7a"/>
<rect x="1144.7" y="1218.8" width="87.9" height="22.9" fill="#131230"/>
<rect x="94.1" y="1241.4" width="29.5" height="22.9" fill="#0b0b10"/>
<rect x="123.3" y="1241.4" width="29.5" height="22.9" fill="#33246a"/>
<rect x="152.5" y="1241.4" width="29.5" height="22.9" fill="#1e1848"/>
<rect x="181.7" y="1241.4" width="29.5" height="22.9" fill="#4a2a7a"/>
<rect x="210.8" y="1241.4" width="29.5" height="22.9" fill="#131230"/>
<rect x="240.0" y="1241.4" width="29.5" height="22.9" fill="#1e1848"/>
<rect x="269.2" y="1241.4" width="29.5" height="22.9" fill="#0b0b10"/>
<rect x="298.4" y="1241.4" width="29.5" height="22.9" fill="#92368e"/>
<rect x="327.6" y="1241.4" width="29.5" height="22.9" fill="#682e8a"/>
<rect x="356.8" y="1241.4" width="58.7" height="22.9" fill="#0b0b10"/>
<rect x="415.1" y="1241.4" width="29.5" height="22.9" fill="#682e8a"/>
<rect x="444.3" y="1241.4" width="29.5" height="22.9" fill="#1e1848"/>
<rect x="473.5" y="1241.4" width="29.5" height="22.9" fill="#131230"/>
<rect x="502.7" y="1241.4" width="29.5" height="22.9" fill="#682e8a"/>
<rect x="531.9" y="1241.4" width="29.5" height="22.9" fill="#0b0b10"/>
<rect x="561.1" y="1241.4" width="29.5" height="22.9" fill="#682e8a"/>
<rect x="590.2" y="1241.4" width="58.7" height="22.9" fill="#6b6b6b"/>
<rect x="648.6" y="1241.4" width="29.5" height="22.9" fill="#33246a"/>
<rect x="677.8" y="1241.4" width="87.9" height="22.9" fill="#1e1848"/>
<rect x="765.3" y="1241.4" width="29.5" height="22.9" fill="#0b0b10"/>
<rect x="794.5" y="1241.4" width="29.5" height="22.9" fill="#6b6b6b"/>
<rect x="823.7" y="1241.4" width="29.5" height="22.9" fill="#0b0b10"/>
<rect x="852.9" y="1241.4" width="29.5" height="22.9" fill="#131230"/>
<rect x="882.1" y="1241.4" width="29.5" height="22.9" fill="#1e1848"/>
<rect x="911.3" y="1241.4" width="29.5" height="22.9" fill="#6b6b6b"/>
<rect x="940.5" y="1241.4" width="58.7" height="22.9" fill="#682e8a"/>
<rect x="998.8" y="1241.4" width="29.5" height="22.9" fill="#6b6b6b"/>
<rect x="1028.0" y="1241.4" width="29.5" height="22.9" fill="#0b0b10"/>
<rect x="1057.2" y="1241.4" width="58.7" height="22.9" fill="#6b6b6b"/>
<rect x="1115.6" y="1241.4" width="29.5" height="22.9" fill="#4a2a7a"/>
<rect x="1144.7" y="1241.4" width="29.5" height="22.9" fill="#6b6b6b"/>
<rect x="1173.9" y="1241.4" width="29.5" height="22.9" fill="#131230"/>
<rect x="1203.1" y="1241.4" width="29.5" height="22.9" fill="#33246a"/>
<rect x="94.1" y="1268.2" width="58.7" height="22.9" fill="#33246a"/>
<rect x="152.5" y="1268.2" width="29.5" height="22.9" fill="#1e1848"/>
<rect x="181.7" y="1268.2" width="29.5" height="22.9" fill="#33246a"/>
<rect x="210.8" y="1268.2" width="29.5" height="22.9" fill="#0b0b10"/>
<rect x="240.0" y="1268.2" width="29.5" height="22.9" fill="#1e1848"/>
<rect x="269.2" y="1268.2" width="29.5" height="22.9" fill="#0b0b10"/>
<rect x="298.4" y="1268.2" width="58.7" height="22.9" fill="#682e8a"/>
<rect x="356.8" y="1268.2" width="29.5" height="22.9" fill="#1e1848"/>
<rect x="385.9" y="1268.2" width="58.7" height="22.9" fill="#33246a"/>
<rect x="444.3" y="1268.2" width="29.5" height="22.9" fill="#0b0b10"/>
<rect x="473.5" y="1268.2" width="29.5" height="22.9" fill="#131230"/>
<rect x="502.7" y="1268.2" width="29.5" height="22.9" fill="#92368e"/>
<rect x="531.9" y="1268.2" width="29.5" height="22.9" fill="#131230"/>
<rect x="561.1" y="1268.2" width="29.5" height="22.9" fill="#de5a6c"/>
<rect x="590.2" y="1268.2" width="58.7" height="22.9" fill="#6b6b6b"/>
<rect x="648.6" y="1268.2" width="58.7" height="22.9" fill="#0b0b10"/>
<rect x="707.0" y="1268.2" width="29.5" height="22.9" fill="#131230"/>
<rect x="736.2" y="1268.2" width="87.9" height="22.9" fill="#1e1848"/>
<rect x="823.7" y="1268.2" width="58.7" height="22.9" fill="#0b0b10"/>
<rect x="882.1" y="1268.2" width="58.7" height="22.9" fill="#131230"/>
<rect x="940.5" y="1268.2" width="29.5" height="22.9" fill="#33246a"/>
<rect x="969.6" y="1268.2" width="29.5" height="22.9" fill="#1e1848"/>
<rect x="998.8" y="1268.2" width="29.5" height="22.9" fill="#0b0b10"/>
<rect x="1028.0" y="1268.2" width="58.7" height="22.9" fill="#6b6b6b"/>
<rect x="1086.4" y="1268.2" width="29.5" height="22.9" fill="#0b0b10"/>
<rect x="1115.6" y="1268.2" width="87.9" height="22.9" fill="#1e1848"/>
<rect x="1203.1" y="1268.2" width="29.5" height="22.9" fill="#0b0b10"/>
<rect x="94.1" y="1290.8" width="29.5" height="22.9" fill="#682e8a"/>
<rect x="123.3" y="1290.8" width="58.7" height="22.9" fill="#131230"/>
<rect x="181.7" y="1290.8" width="29.5" height="22.9" fill="#4a2a7a"/>
<rect x="210.8" y="1290.8" width="29.5" height="22.9" fill="#0b0b10"/>
<rect x="240.0" y="1290.8" width="29.5" height="22.9" fill="#1e1848"/>
<rect x="269.2" y="1290.8" width="29.5" height="22.9" fill="#0b0b10"/>
<rect x="298.4" y="1290.8" width="29.5" height="22.9" fill="#4a2a7a"/>
<rect x="327.6" y="1290.8" width="29.5" height="22.9" fill="#131230"/>
<rect x="356.8" y="1290.8" width="58.7" height="22.9" fill="#1e1848"/>
<rect x="415.1" y="1290.8" width="29.5" height="22.9" fill="#4a2a7a"/>
<rect x="444.3" y="1290.8" width="58.7" height="22.9" fill="#131230"/>
<rect x="502.7" y="1290.8" width="29.5" height="22.9" fill="#682e8a"/>
<rect x="531.9" y="1290.8" width="29.5" height="22.9" fill="#0b0b10"/>
<rect x="561.1" y="1290.8" width="29.5" height="22.9" fill="#f07c44"/>
<rect x="590.2" y="1290.8" width="58.7" height="22.9" fill="#6b6b6b"/>
<rect x="648.6" y="1290.8" width="29.5" height="22.9" fill="#0b0b10"/>
<rect x="677.8" y="1290.8" width="29.5" height="22.9" fill="#682e8a"/>
<rect x="707.0" y="1290.8" width="29.5" height="22.9" fill="#131230"/>
<rect x="736.2" y="1290.8" width="29.5" height="22.9" fill="#4a2a7a"/>
<rect x="765.3" y="1290.8" width="58.7" height="22.9" fill="#131230"/>
<rect x="823.7" y="1290.8" width="29.5" height="22.9" fill="#0b0b10"/>
<rect x="852.9" y="1290.8" width="29.5" height="22.9" fill="#131230"/>
<rect x="882.1" y="1290.8" width="29.5" height="22.9" fill="#1e1848"/>
<rect x="911.3" y="1290.8" width="29.5" height="22.9" fill="#6b6b6b"/>
<rect x="940.5" y="1290.8" width="29.5" height="22.9" fill="#de5a6c"/>
<rect x="969.6" y="1290.8" width="29.5" height="22.9" fill="#4a2a7a"/>
<rect x="998.8" y="1290.8" width="29.5" height="22.9" fill="#6b6b6b"/>
<rect x="1028.0" y="1290.8" width="29.5" height="22.9" fill="#0b0b10"/>
<rect x="1057.2" y="1290.8" width="58.7" height="22.9" fill="#6b6b6b"/>
<rect x="1115.6" y="1290.8" width="29.5" height="22.9" fill="#33246a"/>
<rect x="1144.7" y="1290.8" width="58.7" height="22.9" fill="#131230"/>
<rect x="1203.1" y="1290.8" width="29.5" height="22.9" fill="#6b6b6b"/>
<rect x="94.1" y="1313.4" width="87.9" height="22.9" fill="#1e1848"/>
<rect x="181.7" y="1313.4" width="29.5" height="22.9" fill="#4a2a7a"/>
<rect x="210.8" y="1313.4" width="29.5" height="22.9" fill="#131230"/>
<rect x="240.0" y="1313.4" width="29.5" height="22.9" fill="#33246a"/>
<rect x="269.2" y="1313.4" width="29.5" height="22.9" fill="#131230"/>
<rect x="298.4" y="1313.4" width="29.5" height="22.9" fill="#1e1848"/>
<rect x="327.6" y="1313.4" width="29.5" height="22.9" fill="#33246a"/>
<rect x="356.8" y="1313.4" width="29.5" height="22.9" fill="#1e1848"/>
<rect x="385.9" y="1313.4" width="87.9" height="22.9" fill="#131230"/>
<rect x="473.5" y="1313.4" width="29.5" height="22.9" fill="#33246a"/>
<rect x="502.7" y="1313.4" width="29.5" height="22.9" fill="#682e8a"/>
<rect x="531.9" y="1313.4" width="29.5" height="22.9" fill="#0b0b10"/>
<rect x="561.1" y="1313.4" width="29.5" height="22.9" fill="#de5a6c"/>
<rect x="590.2" y="1313.4" width="58.7" height="22.9" fill="#6b6b6b"/>
<rect x="648.6" y="1313.4" width="29.5" height="22.9" fill="#131230"/>
<rect x="677.8" y="1313.4" width="29.5" height="22.9" fill="#33246a"/>
<rect x="707.0" y="1313.4" width="29.5" height="22.9" fill="#131230"/>
<rect x="736.2" y="1313.4" width="29.5" height="22.9" fill="#33246a"/>
<rect x="765.3" y="1313.4" width="29.5" height="22.9" fill="#131230"/>
<rect x="794.5" y="1313.4" width="58.7" height="22.9" fill="#6b6b6b"/>
<rect x="852.9" y="1313.4" width="29.5" height="22.9" fill="#131230"/>
<rect x="882.1" y="1313.4" width="29.5" height="22.9" fill="#1e1848"/>
<rect x="911.3" y="1313.4" width="29.5" height="22.9" fill="#131230"/>
<rect x="940.5" y="1313.4" width="29.5" height="22.9" fill="#682e8a"/>
<rect x="969.6" y="1313.4" width="29.5" height="22.9" fill="#1e1848"/>
<rect x="998.8" y="1313.4" width="29.5" height="22.9" fill="#131230"/>
<rect x="1028.0" y="1313.4" width="87.9" height="22.9" fill="#6b6b6b"/>
<rect x="1115.6" y="1313.4" width="58.7" height="22.9" fill="#131230"/>
<rect x="1173.9" y="1313.4" width="29.5" height="22.9" fill="#4a2a7a"/>
<rect x="1203.1" y="1313.4" width="29.5" height="22.9" fill="#1e1848"/>
<rect x="94.1" y="1336.0" width="29.5" height="22.9" fill="#131230"/>
<rect x="123.3" y="1336.0" width="29.5" height="22.9" fill="#682e8a"/>
<rect x="152.5" y="1336.0" width="29.5" height="22.9" fill="#0b0b10"/>
<rect x="181.7" y="1336.0" width="29.5" height="22.9" fill="#33246a"/>
<rect x="210.8" y="1336.0" width="29.5" height="22.9" fill="#0b0b10"/>
<rect x="240.0" y="1336.0" width="29.5" height="22.9" fill="#1e1848"/>
<rect x="269.2" y="1336.0" width="29.5" height="22.9" fill="#0b0b10"/>
<rect x="298.4" y="1336.0" width="29.5" height="22.9" fill="#92368e"/>
<rect x="327.6" y="1336.0" width="29.5" height="22.9" fill="#4a2a7a"/>
<rect x="356.8" y="1336.0" width="29.5" height="22.9" fill="#1e1848"/>
<rect x="385.9" y="1336.0" width="29.5" height="22.9" fill="#4a2a7a"/>
<rect x="415.1" y="1336.0" width="87.9" height="22.9" fill="#6b6b6b"/>
<rect x="502.7" y="1336.0" width="29.5" height="22.9" fill="#682e8a"/>
<rect x="531.9" y="1336.0" width="29.5" height="22.9" fill="#0b0b10"/>
<rect x="561.1" y="1336.0" width="29.5" height="22.9" fill="#c04884"/>
<rect x="590.2" y="1336.0" width="58.7" height="22.9" fill="#6b6b6b"/>
<rect x="648.6" y="1336.0" width="29.5" height="22.9" fill="#1e1848"/>
<rect x="677.8" y="1336.0" width="29.5" height="22.9" fill="#33246a"/>
<rect x="707.0" y="1336.0" width="29.5" height="22.9" fill="#131230"/>
<rect x="736.2" y="1336.0" width="29.5" height="22.9" fill="#4a2a7a"/>
<rect x="765.3" y="1336.0" width="29.5" height="22.9" fill="#1e1848"/>
<rect x="794.5" y="1336.0" width="29.5" height="22.9" fill="#6b6b6b"/>
<rect x="823.7" y="1336.0" width="29.5" height="22.9" fill="#0b0b10"/>
<rect x="852.9" y="1336.0" width="58.7" height="22.9" fill="#1e1848"/>
<rect x="911.3" y="1336.0" width="29.5" height="22.9" fill="#131230"/>
<rect x="940.5" y="1336.0" width="29.5" height="22.9" fill="#c04884"/>
<rect x="969.6" y="1336.0" width="29.5" height="22.9" fill="#4a2a7a"/>
<rect x="998.8" y="1336.0" width="58.7" height="22.9" fill="#0b0b10"/>
<rect x="1057.2" y="1336.0" width="58.7" height="22.9" fill="#6b6b6b"/>
<rect x="1115.6" y="1336.0" width="58.7" height="22.9" fill="#131230"/>
<rect x="1173.9" y="1336.0" width="29.5" height="22.9" fill="#33246a"/>
<rect x="1203.1" y="1336.0" width="29.5" height="22.9" fill="#6b6b6b"/>
<rect x="94.1" y="1358.6" width="29.5" height="22.9" fill="#682e8a"/>
<rect x="123.3" y="1358.6" width="58.7" height="22.9" fill="#1e1848"/>
<rect x="181.7" y="1358.6" width="29.5" height="22.9" fill="#4a2a7a"/>
<rect x="210.8" y="1358.6" width="29.5" height="22.9" fill="#0b0b10"/>
<rect x="240.0" y="1358.6" width="29.5" height="22.9" fill="#1e1848"/>
<rect x="269.2" y="1358.6" width="29.5" height="22.9" fill="#131230"/>
<rect x="298.4" y="1358.6" width="29.5" height="22.9" fill="#682e8a"/>
<rect x="327.6" y="1358.6" width="29.5" height="22.9" fill="#4a2a7a"/>
<rect x="356.8" y="1358.6" width="29.5" height="22.9" fill="#33246a"/>
<rect x="385.9" y="1358.6" width="29.5" height="22.9" fill="#1e1848"/>
<rect x="415.1" y="1358.6" width="29.5" height="22.9" fill="#4a2a7a"/>
<rect x="444.3" y="1358.6" width="58.7" height="22.9" fill="#131230"/>
<rect x="502.7" y="1358.6" width="29.5" height="22.9" fill="#682e8a"/>
<rect x="531.9" y="1358.6" width="29.5" height="22.9" fill="#0b0b10"/>
<rect x="561.1" y="1358.6" width="29.5" height="22.9" fill="#92368e"/>
<rect x="590.2" y="1358.6" width="58.7" height="22.9" fill="#6b6b6b"/>
<rect x="648.6" y="1358.6" width="29.5" height="22.9" fill="#131230"/>
<rect x="677.8" y="1358.6" width="29.5" height="22.9" fill="#4a2a7a"/>
<rect x="707.0" y="1358.6" width="29.5" height="22.9" fill="#1e1848"/>
<rect x="736.2" y="1358.6" width="58.7" height="22.9" fill="#131230"/>
<rect x="794.5" y="1358.6" width="29.5" height="22.9" fill="#6b6b6b"/>
<rect x="823.7" y="1358.6" width="58.7" height="22.9" fill="#0b0b10"/>
<rect x="882.1" y="1358.6" width="29.5" height="22.9" fill="#131230"/>
<rect x="911.3" y="1358.6" width="29.5" height="22.9" fill="#0b0b10"/>
<rect x="940.5" y="1358.6" width="29.5" height="22.9" fill="#92368e"/>
<rect x="969.6" y="1358.6" width="29.5" height="22.9" fill="#682e8a"/>
<rect x="998.8" y="1358.6" width="87.9" height="22.9" fill="#0b0b10"/>
<rect x="1086.4" y="1358.6" width="29.5" height="22.9" fill="#6b6b6b"/>
<rect x="1115.6" y="1358.6" width="29.5" height="22.9" fill="#33246a"/>
<rect x="1144.7" y="1358.6" width="29.5" height="22.9" fill="#1e1848"/>
<rect x="1173.9" y="1358.6" width="29.5" height="22.9" fill="#33246a"/>
<rect x="1203.1" y="1358.6" width="29.5" height="22.9" fill="#6b6b6b"/>
<rect x="94.1" y="1381.1" width="29.5" height="22.9" fill="#4a2a7a"/>
<rect x="123.3" y="1381.1" width="29.5" height="22.9" fill="#1e1848"/>
<rect x="152.5" y="1381.1" width="58.7" height="22.9" fill="#33246a"/>
<rect x="210.8" y="1381.1" width="58.7" height="22.9" fill="#0b0b10"/>
<rect x="269.2" y="1381.1" width="29.5" height="22.9" fill="#6b6b6b"/>
<rect x="298.4" y="1381.1" width="29.5" height="22.9" fill="#131230"/>
<rect x="327.6" y="1381.1" width="29.5" height="22.9" fill="#4a2a7a"/>
<rect x="356.8" y="1381.1" width="29.5" height="22.9" fill="#1e1848"/>
<rect x="385.9" y="1381.1" width="29.5" height="22.9" fill="#4a2a7a"/>
<rect x="415.1" y="1381.1" width="29.5" height="22.9" fill="#682e8a"/>
<rect x="444.3" y="1381.1" width="29.5" height="22.9" fill="#0b0b10"/>
<rect x="473.5" y="1381.1" width="29.5" height="22.9" fill="#131230"/>
<rect x="502.7" y="1381.1" width="29.5" height="22.9" fill="#33246a"/>
<rect x="531.9" y="1381.1" width="29.5" height="22.9" fill="#6b6b6b"/>
<rect x="561.1" y="1381.1" width="29.5" height="22.9" fill="#c04884"/>
<rect x="590.2" y="1381.1" width="58.7" height="22.9" fill="#6b6b6b"/>
<rect x="648.6" y="1381.1" width="29.5" height="22.9" fill="#0b0b10"/>
<rect x="677.8" y="1381.1" width="29.5" height="22.9" fill="#33246a"/>
<rect x="707.0" y="1381.1" width="58.7" height="22.9" fill="#131230"/>
<rect x="765.3" y="1381.1" width="29.5" height="22.9" fill="#1e1848"/>
<rect x="794.5" y="1381.1" width="29.5" height="22.9" fill="#0b0b10"/>
<rect x="823.7" y="1381.1" width="29.5" height="22.9" fill="#6b6b6b"/>
<rect x="852.9" y="1381.1" width="58.7" height="22.9" fill="#1e1848"/>
<rect x="911.3" y="1381.1" width="29.5" height="22.9" fill="#6b6b6b"/>
<rect x="940.5" y="1381.1" width="29.5" height="22.9" fill="#92368e"/>
<rect x="969.6" y="1381.1" width="29.5" height="22.9" fill="#4a2a7a"/>
<rect x="998.8" y="1381.1" width="29.5" height="22.9" fill="#131230"/>
<rect x="1028.0" y="1381.1" width="58.7" height="22.9" fill="#6b6b6b"/>
<rect x="1086.4" y="1381.1" width="87.9" height="22.9" fill="#131230"/>
<rect x="1173.9" y="1381.1" width="29.5" height="22.9" fill="#1e1848"/>
<rect x="1203.1" y="1381.1" width="29.5" height="22.9" fill="#6b6b6b"/>
<rect x="94.1" y="1407.9" width="58.7" height="22.9" fill="#131230"/>
<rect x="152.5" y="1407.9" width="29.5" height="22.9" fill="#6b6b6b"/>
<rect x="181.7" y="1407.9" width="29.5" height="22.9" fill="#4a2a7a"/>
<rect x="210.8" y="1407.9" width="29.5" height="22.9" fill="#0b0b10"/>
<rect x="240.0" y="1407.9" width="29.5" height="22.9" fill="#1e1848"/>
<rect x="269.2" y="1407.9" width="58.7" height="22.9" fill="#0b0b10"/>
<rect x="327.6" y="1407.9" width="58.7" height="22.9" fill="#131230"/>
<rect x="385.9" y="1407.9" width="29.5" height="22.9" fill="#1e1848"/>
<rect x="415.1" y="1407.9" width="58.7" height="22.9" fill="#6b6b6b"/>
<rect x="473.5" y="1407.9" width="29.5" height="22.9" fill="#0b0b10"/>
<rect x="502.7" y="1407.9" width="29.5" height="22.9" fill="#682e8a"/>
<rect x="531.9" y="1407.9" width="29.5" height="22.9" fill="#6b6b6b"/>
<rect x="561.1" y="1407.9" width="29.5" height="22.9" fill="#c04884"/>
<rect x="590.2" y="1407.9" width="29.5" height="22.9" fill="#0b0b10"/>
<rect x="619.4" y="1407.9" width="29.5" height="22.9" fill="#6b6b6b"/>
<rect x="648.6" y="1407.9" width="29.5" height="22.9" fill="#0b0b10"/>
<rect x="677.8" y="1407.9" width="58.7" height="22.9" fill="#1e1848"/>
<rect x="736.2" y="1407.9" width="29.5" height="22.9" fill="#131230"/>
<rect x="765.3" y="1407.9" width="29.5" height="22.9" fill="#4a2a7a"/>
<rect x="794.5" y="1407.9" width="29.5" height="22.9" fill="#682e8a"/>
<rect x="823.7" y="1407.9" width="29.5" height="22.9" fill="#0b0b10"/>
<rect x="852.9" y="1407.9" width="58.7" height="22.9" fill="#4a2a7a"/>
<rect x="911.3" y="1407.9" width="29.5" height="22.9" fill="#0b0b10"/>
<rect x="940.5" y="1407.9" width="29.5" height="22.9" fill="#4a2a7a"/>
<rect x="969.6" y="1407.9" width="58.7" height="22.9" fill="#131230"/>
<rect x="1028.0" y="1407.9" width="29.5" height="22.9" fill="#0b0b10"/>
<rect x="1057.2" y="1407.9" width="29.5" height="22.9" fill="#6b6b6b"/>
<rect x="1086.4" y="1407.9" width="29.5" height="22.9" fill="#0b0b10"/>
<rect x="1115.6" y="1407.9" width="29.5" height="22.9" fill="#33246a"/>
<rect x="1144.7" y="1407.9" width="29.5" height="22.9" fill="#131230"/>
<rect x="1173.9" y="1407.9" width="29.5" height="22.9" fill="#0b0b10"/>
<rect x="1203.1" y="1407.9" width="29.5" height="22.9" fill="#6b6b6b"/>
<rect x="94.1" y="1430.5" width="29.5" height="22.9" fill="#682e8a"/>
<rect x="123.3" y="1430.5" width="29.5" height="22.9" fill="#0b0b10"/>
<rect x="152.5" y="1430.5" width="29.5" height="22.9" fill="#1e1848"/>
<rect x="181.7" y="1430.5" width="29.5" height="22.9" fill="#33246a"/>
<rect x="210.8" y="1430.5" width="29.5" height="22.9" fill="#0b0b10"/>
<rect x="240.0" y="1430.5" width="29.5" height="22.9" fill="#1e1848"/>
<rect x="269.2" y="1430.5" width="29.5" height="22.9" fill="#0b0b10"/>
<rect x="298.4" y="1430.5" width="29.5" height="22.9" fill="#4a2a7a"/>
<rect x="327.6" y="1430.5" width="29.5" height="22.9" fill="#131230"/>
<rect x="356.8" y="1430.5" width="29.5" height="22.9" fill="#0b0b10"/>
<rect x="385.9" y="1430.5" width="29.5" height="22.9" fill="#1e1848"/>
<rect x="415.1" y="1430.5" width="29.5" height="22.9" fill="#682e8a"/>
<rect x="444.3" y="1430.5" width="58.7" height="22.9" fill="#0b0b10"/>
<rect x="502.7" y="1430.5" width="29.5" height="22.9" fill="#682e8a"/>
<rect x="531.9" y="1430.5" width="29.5" height="22.9" fill="#0b0b10"/>
<rect x="561.1" y="1430.5" width="29.5" height="22.9" fill="#de5a6c"/>
<rect x="590.2" y="1430.5" width="87.9" height="22.9" fill="#0b0b10"/>
<rect x="677.8" y="1430.5" width="29.5" height="22.9" fill="#131230"/>
<rect x="707.0" y="1430.5" width="29.5" height="22.9" fill="#1e1848"/>
<rect x="736.2" y="1430.5" width="29.5" height="22.9" fill="#131230"/>
<rect x="765.3" y="1430.5" width="29.5" height="22.9" fill="#6b6b6b"/>
<rect x="794.5" y="1430.5" width="29.5" height="22.9" fill="#1e1848"/>
<rect x="823.7" y="1430.5" width="29.5" height="22.9" fill="#0b0b10"/>
<rect x="852.9" y="1430.5" width="58.7" height="22.9" fill="#1e1848"/>
<rect x="911.3" y="1430.5" width="29.5" height="22.9" fill="#0b0b10"/>
<rect x="940.5" y="1430.5" width="29.5" height="22.9" fill="#92368e"/>
<rect x="969.6" y="1430.5" width="58.7" height="22.9" fill="#0b0b10"/>
<rect x="1028.0" y="1430.5" width="87.9" height="22.9" fill="#6b6b6b"/>
<rect x="1115.6" y="1430.5" width="29.5" height="22.9" fill="#131230"/>
<rect x="1144.7" y="1430.5" width="29.5" height="22.9" fill="#6b6b6b"/>
<rect x="1173.9" y="1430.5" width="29.5" height="22.9" fill="#0b0b10"/>
<rect x="1203.1" y="1430.5" width="29.5" height="22.9" fill="#131230"/>
<rect x="94.1" y="1453.1" width="29.5" height="22.9" fill="#131230"/>
<rect x="123.3" y="1453.1" width="29.5" height="22.9" fill="#1e1848"/>
<rect x="152.5" y="1453.1" width="29.5" height="22.9" fill="#0b0b10"/>
<rect x="181.7" y="1453.1" width="29.5" height="22.9" fill="#33246a"/>
<rect x="210.8" y="1453.1" width="29.5" height="22.9" fill="#0b0b10"/>
<rect x="240.0" y="1453.1" width="29.5" height="22.9" fill="#1e1848"/>
<rect x="269.2" y="1453.1" width="29.5" height="22.9" fill="#0b0b10"/>
<rect x="298.4" y="1453.1" width="29.5" height="22.9" fill="#33246a"/>
<rect x="327.6" y="1453.1" width="58.7" height="22.9" fill="#131230"/>
<rect x="385.9" y="1453.1" width="29.5" height="22.9" fill="#1e1848"/>
<rect x="415.1" y="1453.1" width="58.7" height="22.9" fill="#6b6b6b"/>
<rect x="473.5" y="1453.1" width="29.5" height="22.9" fill="#0b0b10"/>
<rect x="502.7" y="1453.1" width="29.5" height="22.9" fill="#92368e"/>
<rect x="531.9" y="1453.1" width="29.5" height="22.9" fill="#6b6b6b"/>
<rect x="561.1" y="1453.1" width="29.5" height="22.9" fill="#fa9f28"/>
<rect x="590.2" y="1453.1" width="87.9" height="22.9" fill="#0b0b10"/>
<rect x="677.8" y="1453.1" width="29.5" height="22.9" fill="#131230"/>
<rect x="707.0" y="1453.1" width="58.7" height="22.9" fill="#1e1848"/>
<rect x="765.3" y="1453.1" width="29.5" height="22.9" fill="#0b0b10"/>
<rect x="794.5" y="1453.1" width="29.5" height="22.9" fill="#6b6b6b"/>
<rect x="823.7" y="1453.1" width="58.7" height="22.9" fill="#0b0b10"/>
<rect x="882.1" y="1453.1" width="29.5" height="22.9" fill="#1e1848"/>
<rect x="911.3" y="1453.1" width="29.5" height="22.9" fill="#0b0b10"/>
<rect x="940.5" y="1453.1" width="29.5" height="22.9" fill="#92368e"/>
<rect x="969.6" y="1453.1" width="29.5" height="22.9" fill="#1e1848"/>
<rect x="998.8" y="1453.1" width="117.0" height="22.9" fill="#6b6b6b"/>
<rect x="1115.6" y="1453.1" width="87.9" height="22.9" fill="#1e1848"/>
<rect x="1203.1" y="1453.1" width="29.5" height="22.9" fill="#6b6b6b"/>
<rect x="94.1" y="1475.7" width="29.5" height="22.9" fill="#131230"/>
<rect x="123.3" y="1475.7" width="29.5" height="22.9" fill="#4a2a7a"/>
<rect x="152.5" y="1475.7" width="29.5" height="22.9" fill="#131230"/>
<rect x="181.7" y="1475.7" width="29.5" height="22.9" fill="#1e1848"/>
<rect x="210.8" y="1475.7" width="29.5" height="22.9" fill="#6b6b6b"/>
<rect x="240.0" y="1475.7" width="29.5" height="22.9" fill="#131230"/>
<rect x="269.2" y="1475.7" width="58.7" height="22.9" fill="#0b0b10"/>
<rect x="327.6" y="1475.7" width="29.5" height="22.9" fill="#1e1848"/>
<rect x="356.8" y="1475.7" width="29.5" height="22.9" fill="#0b0b10"/>
<rect x="385.9" y="1475.7" width="29.5" height="22.9" fill="#131230"/>
<rect x="415.1" y="1475.7" width="29.5" height="22.9" fill="#682e8a"/>
<rect x="444.3" y="1475.7" width="58.7" height="22.9" fill="#131230"/>
<rect x="502.7" y="1475.7" width="29.5" height="22.9" fill="#92368e"/>
<rect x="531.9" y="1475.7" width="29.5" height="22.9" fill="#0b0b10"/>
<rect x="561.1" y="1475.7" width="29.5" height="22.9" fill="#f07c44"/>
<rect x="590.2" y="1475.7" width="29.5" height="22.9" fill="#6b6b6b"/>
<rect x="619.4" y="1475.7" width="58.7" height="22.9" fill="#131230"/>
<rect x="677.8" y="1475.7" width="29.5" height="22.9" fill="#1e1848"/>
<rect x="707.0" y="1475.7" width="29.5" height="22.9" fill="#131230"/>
<rect x="736.2" y="1475.7" width="29.5" height="22.9" fill="#1e1848"/>
<rect x="765.3" y="1475.7" width="87.9" height="22.9" fill="#0b0b10"/>
<rect x="852.9" y="1475.7" width="29.5" height="22.9" fill="#131230"/>
<rect x="882.1" y="1475.7" width="29.5" height="22.9" fill="#33246a"/>
<rect x="911.3" y="1475.7" width="29.5" height="22.9" fill="#0b0b10"/>
<rect x="940.5" y="1475.7" width="29.5" height="22.9" fill="#92368e"/>
<rect x="969.6" y="1475.7" width="58.7" height="22.9" fill="#1e1848"/>
<rect x="1028.0" y="1475.7" width="29.5" height="22.9" fill="#6b6b6b"/>
<rect x="1057.2" y="1475.7" width="58.7" height="22.9" fill="#0b0b10"/>
<rect x="1115.6" y="1475.7" width="29.5" height="22.9" fill="#1e1848"/>
<rect x="1144.7" y="1475.7" width="58.7" height="22.9" fill="#6b6b6b"/>
<rect x="1203.1" y="1475.7" width="29.5" height="22.9" fill="#0b0b10"/>
<rect x="94.1" y="1498.3" width="29.5" height="22.9" fill="#131230"/>
<rect x="123.3" y="1498.3" width="29.5" height="22.9" fill="#4a2a7a"/>
<rect x="152.5" y="1498.3" width="29.5" height="22.9" fill="#6b6b6b"/>
<rect x="181.7" y="1498.3" width="29.5" height="22.9" fill="#682e8a"/>
<rect x="210.8" y="1498.3" width="29.5" height="22.9" fill="#6b6b6b"/>
<rect x="240.0" y="1498.3" width="29.5" height="22.9" fill="#682e8a"/>
<rect x="269.2" y="1498.3" width="29.5" height="22.9" fill="#1e1848"/>
<rect x="298.4" y="1498.3" width="29.5" height="22.9" fill="#131230"/>
<rect x="327.6" y="1498.3" width="58.7" height="22.9" fill="#0b0b10"/>
<rect x="385.9" y="1498.3" width="29.5" height="22.9" fill="#131230"/>
<rect x="415.1" y="1498.3" width="29.5" height="22.9" fill="#682e8a"/>
<rect x="444.3" y="1498.3" width="29.5" height="22.9" fill="#0b0b10"/>
<rect x="473.5" y="1498.3" width="29.5" height="22.9" fill="#131230"/>
<rect x="502.7" y="1498.3" width="29.5" height="22.9" fill="#1e1848"/>
<rect x="531.9" y="1498.3" width="29.5" height="22.9" fill="#0b0b10"/>
<rect x="561.1" y="1498.3" width="29.5" height="22.9" fill="#92368e"/>
<rect x="590.2" y="1498.3" width="87.9" height="22.9" fill="#0b0b10"/>
<rect x="677.8" y="1498.3" width="29.5" height="22.9" fill="#92368e"/>
<rect x="707.0" y="1498.3" width="29.5" height="22.9" fill="#682e8a"/>
<rect x="736.2" y="1498.3" width="29.5" height="22.9" fill="#131230"/>
<rect x="765.3" y="1498.3" width="29.5" height="22.9" fill="#0b0b10"/>
<rect x="794.5" y="1498.3" width="29.5" height="22.9" fill="#1e1848"/>
<rect x="823.7" y="1498.3" width="29.5" height="22.9" fill="#6b6b6b"/>
<rect x="852.9" y="1498.3" width="29.5" height="22.9" fill="#1e1848"/>
<rect x="882.1" y="1498.3" width="29.5" height="22.9" fill="#0b0b10"/>
<rect x="911.3" y="1498.3" width="29.5" height="22.9" fill="#6b6b6b"/>
<rect x="940.5" y="1498.3" width="29.5" height="22.9" fill="#33246a"/>
<rect x="969.6" y="1498.3" width="29.5" height="22.9" fill="#4a2a7a"/>
<rect x="998.8" y="1498.3" width="29.5" height="22.9" fill="#131230"/>
<rect x="1028.0" y="1498.3" width="29.5" height="22.9" fill="#0b0b10"/>
<rect x="1057.2" y="1498.3" width="29.5" height="22.9" fill="#6b6b6b"/>
<rect x="1086.4" y="1498.3" width="29.5" height="22.9" fill="#131230"/>
<rect x="1115.6" y="1498.3" width="29.5" height="22.9" fill="#4a2a7a"/>
<rect x="1144.7" y="1498.3" width="29.5" height="22.9" fill="#131230"/>
<rect x="1173.9" y="1498.3" width="29.5" height="22.9" fill="#0b0b10"/>
<rect x="1203.1" y="1498.3" width="29.5" height="22.9" fill="#131230"/>
<rect x="94.1" y="1520.9" width="29.5" height="22.9" fill="#0b0b10"/>
<rect x="123.3" y="1520.9" width="29.5" height="22.9" fill="#1e1848"/>
<rect x="152.5" y="1520.9" width="29.5" height="22.9" fill="#0b0b10"/>
<rect x="181.7" y="1520.9" width="29.5" height="22.9" fill="#4a2a7a"/>
<rect x="210.8" y="1520.9" width="29.5" height="22.9" fill="#6b6b6b"/>
<rect x="240.0" y="1520.9" width="29.5" height="22.9" fill="#4a2a7a"/>
<rect x="269.2" y="1520.9" width="29.5" height="22.9" fill="#6b6b6b"/>
<rect x="298.4" y="1520.9" width="29.5" height="22.9" fill="#4a2a7a"/>
<rect x="327.6" y="1520.9" width="29.5" height="22.9" fill="#1e1848"/>
<rect x="356.8" y="1520.9" width="58.7" height="22.9" fill="#0b0b10"/>
<rect x="415.1" y="1520.9" width="29.5" height="22.9" fill="#33246a"/>
<rect x="444.3" y="1520.9" width="29.5" height="22.9" fill="#4a2a7a"/>
<rect x="473.5" y="1520.9" width="29.5" height="22.9" fill="#131230"/>
<rect x="502.7" y="1520.9" width="29.5" height="22.9" fill="#de5a6c"/>
<rect x="531.9" y="1520.9" width="29.5" height="22.9" fill="#6b6b6b"/>
<rect x="561.1" y="1520.9" width="29.5" height="22.9" fill="#de5a6c"/>
<rect x="590.2" y="1520.9" width="58.7" height="22.9" fill="#6b6b6b"/>
<rect x="648.6" y="1520.9" width="29.5" height="22.9" fill="#1e1848"/>
<rect x="677.8" y="1520.9" width="29.5" height="22.9" fill="#33246a"/>
<rect x="707.0" y="1520.9" width="29.5" height="22.9" fill="#0b0b10"/>
<rect x="736.2" y="1520.9" width="29.5" height="22.9" fill="#131230"/>
<rect x="765.3" y="1520.9" width="117.0" height="22.9" fill="#6b6b6b"/>
<rect x="882.1" y="1520.9" width="29.5" height="22.9" fill="#682e8a"/>
<rect x="911.3" y="1520.9" width="29.5" height="22.9" fill="#6b6b6b"/>
<rect x="940.5" y="1520.9" width="29.5" height="22.9" fill="#92368e"/>
<rect x="969.6" y="1520.9" width="29.5" height="22.9" fill="#c04884"/>
<rect x="998.8" y="1520.9" width="87.9" height="22.9" fill="#6b6b6b"/>
<rect x="1086.4" y="1520.9" width="29.5" height="22.9" fill="#0b0b10"/>
<rect x="1115.6" y="1520.9" width="29.5" height="22.9" fill="#131230"/>
<rect x="1144.7" y="1520.9" width="29.5" height="22.9" fill="#6b6b6b"/>
<rect x="1173.9" y="1520.9" width="29.5" height="22.9" fill="#131230"/>
<rect x="1203.1" y="1520.9" width="29.5" height="22.9" fill="#682e8a"/>
<rect x="94.1" y="1547.6" width="29.5" height="22.9" fill="#6b6b6b"/>
<rect x="123.3" y="1547.6" width="58.7" height="22.9" fill="#131230"/>
<rect x="181.7" y="1547.6" width="29.5" height="22.9" fill="#682e8a"/>
<rect x="210.8" y="1547.6" width="29.5" height="22.9" fill="#6b6b6b"/>
<rect x="240.0" y="1547.6" width="117.0" height="22.9" fill="#1e1848"/>
<rect x="356.8" y="1547.6" width="29.5" height="22.9" fill="#131230"/>
<rect x="385.9" y="1547.6" width="29.5" height="22.9" fill="#1e1848"/>
<rect x="415.1" y="1547.6" width="29.5" height="22.9" fill="#131230"/>
<rect x="444.3" y="1547.6" width="29.5" height="22.9" fill="#6b6b6b"/>
<rect x="473.5" y="1547.6" width="29.5" height="22.9" fill="#1e1848"/>
<rect x="502.7" y="1547.6" width="29.5" height="22.9" fill="#92368e"/>
<rect x="531.9" y="1547.6" width="29.5" height="22.9" fill="#6b6b6b"/>
<rect x="561.1" y="1547.6" width="29.5" height="22.9" fill="#fdd048"/>
<rect x="590.2" y="1547.6" width="146.2" height="22.9" fill="#6b6b6b"/>
<rect x="736.2" y="1547.6" width="29.5" height="22.9" fill="#1e1848"/>
<rect x="765.3" y="1547.6" width="29.5" height="22.9" fill="#6b6b6b"/>
<rect x="794.5" y="1547.6" width="29.5" height="22.9" fill="#131230"/>
<rect x="823.7" y="1547.6" width="58.7" height="22.9" fill="#6b6b6b"/>
<rect x="882.1" y="1547.6" width="29.5" height="22.9" fill="#1e1848"/>
<rect x="911.3" y="1547.6" width="29.5" height="22.9" fill="#33246a"/>
<rect x="940.5" y="1547.6" width="29.5" height="22.9" fill="#c04884"/>
<rect x="969.6" y="1547.6" width="29.5" height="22.9" fill="#131230"/>
<rect x="998.8" y="1547.6" width="29.5" height="22.9" fill="#6b6b6b"/>
<rect x="1028.0" y="1547.6" width="29.5" height="22.9" fill="#0b0b10"/>
<rect x="1057.2" y="1547.6" width="58.7" height="22.9" fill="#6b6b6b"/>
<rect x="1115.6" y="1547.6" width="29.5" height="22.9" fill="#4a2a7a"/>
<rect x="1144.7" y="1547.6" width="29.5" height="22.9" fill="#0b0b10"/>
<rect x="1173.9" y="1547.6" width="29.5" height="22.9" fill="#1e1848"/>
<rect x="1203.1" y="1547.6" width="29.5" height="22.9" fill="#6b6b6b"/>
<rect x="94.1" y="1570.2" width="29.5" height="22.9" fill="#4a2a7a"/>
<rect x="123.3" y="1570.2" width="29.5" height="22.9" fill="#131230"/>
<rect x="152.5" y="1570.2" width="29.5" height="22.9" fill="#0b0b10"/>
<rect x="181.7" y="1570.2" width="29.5" height="22.9" fill="#1e1848"/>
<rect x="210.8" y="1570.2" width="29.5" height="22.9" fill="#0b0b10"/>
<rect x="240.0" y="1570.2" width="29.5" height="22.9" fill="#4a2a7a"/>
<rect x="269.2" y="1570.2" width="29.5" height="22.9" fill="#0b0b10"/>
<rect x="298.4" y="1570.2" width="29.5" height="22.9" fill="#1e1848"/>
<rect x="327.6" y="1570.2" width="58.7" height="22.9" fill="#0b0b10"/>
<rect x="385.9" y="1570.2" width="87.9" height="22.9" fill="#131230"/>
<rect x="473.5" y="1570.2" width="29.5" height="22.9" fill="#0b0b10"/>
<rect x="502.7" y="1570.2" width="29.5" height="22.9" fill="#682e8a"/>
<rect x="531.9" y="1570.2" width="29.5" height="22.9" fill="#0b0b10"/>
<rect x="561.1" y="1570.2" width="29.5" height="22.9" fill="#de5a6c"/>
<rect x="590.2" y="1570.2" width="29.5" height="22.9" fill="#6b6b6b"/>
<rect x="619.4" y="1570.2" width="58.7" height="22.9" fill="#0b0b10"/>
<rect x="677.8" y="1570.2" width="29.5" height="22.9" fill="#682e8a"/>
<rect x="707.0" y="1570.2" width="29.5" height="22.9" fill="#1e1848"/>
<rect x="736.2" y="1570.2" width="29.5" height="22.9" fill="#33246a"/>
<rect x="765.3" y="1570.2" width="29.5" height="22.9" fill="#0b0b10"/>
<rect x="794.5" y="1570.2" width="29.5" height="22.9" fill="#1e1848"/>
<rect x="823.7" y="1570.2" width="29.5" height="22.9" fill="#0b0b10"/>
<rect x="852.9" y="1570.2" width="29.5" height="22.9" fill="#131230"/>
<rect x="882.1" y="1570.2" width="29.5" height="22.9" fill="#1e1848"/>
<rect x="911.3" y="1570.2" width="29.5" height="22.9" fill="#6b6b6b"/>
<rect x="940.5" y="1570.2" width="29.5" height="22.9" fill="#fdf3b0"/>
<rect x="969.6" y="1570.2" width="29.5" height="22.9" fill="#33246a"/>
<rect x="998.8" y="1570.2" width="29.5" height="22.9" fill="#6b6b6b"/>
<rect x="1028.0" y="1570.2" width="29.5" height="22.9" fill="#0b0b10"/>
<rect x="1057.2" y="1570.2" width="58.7" height="22.9" fill="#6b6b6b"/>
<rect x="1115.6" y="1570.2" width="29.5" height="22.9" fill="#1e1848"/>
<rect x="1144.7" y="1570.2" width="58.7" height="22.9" fill="#131230"/>
<rect x="1203.1" y="1570.2" width="29.5" height="22.9" fill="#6b6b6b"/>
<rect x="94.1" y="1592.8" width="29.5" height="22.9" fill="#4a2a7a"/>
<rect x="123.3" y="1592.8" width="117.0" height="22.9" fill="#6b6b6b"/>
<rect x="240.0" y="1592.8" width="58.7" height="22.9" fill="#0b0b10"/>
<rect x="298.4" y="1592.8" width="29.5" height="22.9" fill="#c04884"/>
<rect x="327.6" y="1592.8" width="29.5" height="22.9" fill="#0b0b10"/>
<rect x="356.8" y="1592.8" width="29.5" height="22.9" fill="#1e1848"/>
<rect x="385.9" y="1592.8" width="29.5" height="22.9" fill="#682e8a"/>
<rect x="415.1" y="1592.8" width="58.7" height="22.9" fill="#6b6b6b"/>
<rect x="473.5" y="1592.8" width="29.5" height="22.9" fill="#131230"/>
<rect x="502.7" y="1592.8" width="29.5" height="22.9" fill="#0b0b10"/>
<rect x="531.9" y="1592.8" width="29.5" height="22.9" fill="#6b6b6b"/>
<rect x="561.1" y="1592.8" width="29.5" height="22.9" fill="#92368e"/>
<rect x="590.2" y="1592.8" width="29.5" height="22.9" fill="#0b0b10"/>
<rect x="619.4" y="1592.8" width="29.5" height="22.9" fill="#131230"/>
<rect x="648.6" y="1592.8" width="29.5" height="22.9" fill="#6b6b6b"/>
<rect x="677.8" y="1592.8" width="29.5" height="22.9" fill="#1e1848"/>
<rect x="707.0" y="1592.8" width="29.5" height="22.9" fill="#6b6b6b"/>
<rect x="736.2" y="1592.8" width="29.5" height="22.9" fill="#131230"/>
<rect x="765.3" y="1592.8" width="87.9" height="22.9" fill="#6b6b6b"/>
<rect x="852.9" y="1592.8" width="29.5" height="22.9" fill="#1e1848"/>
<rect x="882.1" y="1592.8" width="29.5" height="22.9" fill="#6b6b6b"/>
<rect x="911.3" y="1592.8" width="29.5" height="22.9" fill="#0b0b10"/>
<rect x="940.5" y="1592.8" width="29.5" height="22.9" fill="#fa9f28"/>
<rect x="969.6" y="1592.8" width="29.5" height="22.9" fill="#682e8a"/>
<rect x="998.8" y="1592.8" width="29.5" height="22.9" fill="#6b6b6b"/>
<rect x="1028.0" y="1592.8" width="29.5" height="22.9" fill="#131230"/>
<rect x="1057.2" y="1592.8" width="117.0" height="22.9" fill="#6b6b6b"/>
<rect x="1173.9" y="1592.8" width="29.5" height="22.9" fill="#682e8a"/>
<rect x="1203.1" y="1592.8" width="29.5" height="22.9" fill="#6b6b6b"/>
<rect x="94.1" y="1615.4" width="29.5" height="22.9" fill="#131230"/>
<rect x="123.3" y="1615.4" width="29.5" height="22.9" fill="#682e8a"/>
<rect x="152.5" y="1615.4" width="29.5" height="22.9" fill="#131230"/>
<rect x="181.7" y="1615.4" width="29.5" height="22.9" fill="#1e1848"/>
<rect x="210.8" y="1615.4" width="29.5" height="22.9" fill="#0b0b10"/>
<rect x="240.0" y="1615.4" width="29.5" height="22.9" fill="#131230"/>
<rect x="269.2" y="1615.4" width="29.5" height="22.9" fill="#0b0b10"/>
<rect x="298.4" y="1615.4" width="29.5" height="22.9" fill="#682e8a"/>
<rect x="327.6" y="1615.4" width="29.5" height="22.9" fill="#1e1848"/>
<rect x="356.8" y="1615.4" width="29.5" height="22.9" fill="#0b0b10"/>
<rect x="385.9" y="1615.4" width="29.5" height="22.9" fill="#33246a"/>
<rect x="415.1" y="1615.4" width="87.9" height="22.9" fill="#6b6b6b"/>
<rect x="502.7" y="1615.4" width="29.5" height="22.9" fill="#4a2a7a"/>
<rect x="531.9" y="1615.4" width="29.5" height="22.9" fill="#0b0b10"/>
<rect x="561.1" y="1615.4" width="29.5" height="22.9" fill="#f07c44"/>
<rect x="590.2" y="1615.4" width="29.5" height="22.9" fill="#6b6b6b"/>
<rect x="619.4" y="1615.4" width="58.7" height="22.9" fill="#131230"/>
<rect x="677.8" y="1615.4" width="29.5" height="22.9" fill="#4a2a7a"/>
<rect x="707.0" y="1615.4" width="29.5" height="22.9" fill="#131230"/>
<rect x="736.2" y="1615.4" width="29.5" height="22.9" fill="#4a2a7a"/>
<rect x="765.3" y="1615.4" width="29.5" height="22.9" fill="#131230"/>
<rect x="794.5" y="1615.4" width="29.5" height="22.9" fill="#0b0b10"/>
<rect x="823.7" y="1615.4" width="29.5" height="22.9" fill="#1e1848"/>
<rect x="852.9" y="1615.4" width="29.5" height="22.9" fill="#131230"/>
<rect x="882.1" y="1615.4" width="58.7" height="22.9" fill="#1e1848"/>
<rect x="940.5" y="1615.4" width="29.5" height="22.9" fill="#92368e"/>
<rect x="969.6" y="1615.4" width="29.5" height="22.9" fill="#4a2a7a"/>
<rect x="998.8" y="1615.4" width="29.5" height="22.9" fill="#6b6b6b"/>
<rect x="1028.0" y="1615.4" width="58.7" height="22.9" fill="#0b0b10"/>
<rect x="1086.4" y="1615.4" width="29.5" height="22.9" fill="#6b6b6b"/>
<rect x="1115.6" y="1615.4" width="29.5" height="22.9" fill="#1e1848"/>
<rect x="1144.7" y="1615.4" width="29.5" height="22.9" fill="#131230"/>
<rect x="1173.9" y="1615.4" width="29.5" height="22.9" fill="#1e1848"/>
<rect x="1203.1" y="1615.4" width="29.5" height="22.9" fill="#0b0b10"/>
<rect x="94.1" y="1638.0" width="29.5" height="22.9" fill="#4a2a7a"/>
<rect x="123.3" y="1638.0" width="29.5" height="22.9" fill="#131230"/>
<rect x="152.5" y="1638.0" width="29.5" height="22.9" fill="#0b0b10"/>
<rect x="181.7" y="1638.0" width="29.5" height="22.9" fill="#4a2a7a"/>
<rect x="210.8" y="1638.0" width="29.5" height="22.9" fill="#6b6b6b"/>
<rect x="240.0" y="1638.0" width="29.5" height="22.9" fill="#1e1848"/>
<rect x="269.2" y="1638.0" width="29.5" height="22.9" fill="#131230"/>
<rect x="298.4" y="1638.0" width="117.0" height="22.9" fill="#1e1848"/>
<rect x="415.1" y="1638.0" width="29.5" height="22.9" fill="#33246a"/>
<rect x="444.3" y="1638.0" width="29.5" height="22.9" fill="#131230"/>
<rect x="473.5" y="1638.0" width="29.5" height="22.9" fill="#0b0b10"/>
<rect x="502.7" y="1638.0" width="29.5" height="22.9" fill="#33246a"/>
<rect x="531.9" y="1638.0" width="29.5" height="22.9" fill="#0b0b10"/>
<rect x="561.1" y="1638.0" width="29.5" height="22.9" fill="#92368e"/>
<rect x="590.2" y="1638.0" width="29.5" height="22.9" fill="#6b6b6b"/>
<rect x="619.4" y="1638.0" width="58.7" height="22.9" fill="#0b0b10"/>
<rect x="677.8" y="1638.0" width="29.5" height="22.9" fill="#33246a"/>
<rect x="707.0" y="1638.0" width="87.9" height="22.9" fill="#131230"/>
<rect x="794.5" y="1638.0" width="29.5" height="22.9" fill="#6b6b6b"/>
<rect x="823.7" y="1638.0" width="58.7" height="22.9" fill="#0b0b10"/>
<rect x="882.1" y="1638.0" width="29.5" height="22.9" fill="#1e1848"/>
<rect x="911.3" y="1638.0" width="29.5" height="22.9" fill="#0b0b10"/>
<rect x="940.5" y="1638.0" width="29.5" height="22.9" fill="#c04884"/>
<rect x="969.6" y="1638.0" width="29.5" height="22.9" fill="#92368e"/>
<rect x="998.8" y="1638.0" width="29.5" height="22.9" fill="#1e1848"/>
<rect x="1028.0" y="1638.0" width="29.5" height="22.9" fill="#6b6b6b"/>
<rect x="1057.2" y="1638.0" width="29.5" height="22.9" fill="#0b0b10"/>
<rect x="1086.4" y="1638.0" width="29.5" height="22.9" fill="#6b6b6b"/>
<rect x="1115.6" y="1638.0" width="58.7" height="22.9" fill="#1e1848"/>
<rect x="1173.9" y="1638.0" width="29.5" height="22.9" fill="#33246a"/>
<rect x="1203.1" y="1638.0" width="29.5" height="22.9" fill="#6b6b6b"/>
<rect x="94.1" y="1660.6" width="29.5" height="22.9" fill="#6b6b6b"/>
<rect x="123.3" y="1660.6" width="29.5" height="22.9" fill="#33246a"/>
<rect x="152.5" y="1660.6" width="58.7" height="22.9" fill="#131230"/>
<rect x="210.8" y="1660.6" width="29.5" height="22.9" fill="#6b6b6b"/>
<rect x="240.0" y="1660.6" width="29.5" height="22.9" fill="#131230"/>
<rect x="269.2" y="1660.6" width="58.7" height="22.9" fill="#6b6b6b"/>
<rect x="327.6" y="1660.6" width="29.5" height="22.9" fill="#0b0b10"/>
<rect x="356.8" y="1660.6" width="29.5" height="22.9" fill="#131230"/>
<rect x="385.9" y="1660.6" width="29.5" height="22.9" fill="#682e8a"/>
<rect x="415.1" y="1660.6" width="58.7" height="22.9" fill="#6b6b6b"/>
<rect x="473.5" y="1660.6" width="29.5" height="22.9" fill="#4a2a7a"/>
<rect x="502.7" y="1660.6" width="29.5" height="22.9" fill="#682e8a"/>
<rect x="531.9" y="1660.6" width="29.5" height="22.9" fill="#4a2a7a"/>
<rect x="561.1" y="1660.6" width="29.5" height="22.9" fill="#de5a6c"/>
<rect x="590.2" y="1660.6" width="87.9" height="22.9" fill="#6b6b6b"/>
<rect x="677.8" y="1660.6" width="29.5" height="22.9" fill="#1e1848"/>
<rect x="707.0" y="1660.6" width="29.5" height="22.9" fill="#6b6b6b"/>
<rect x="736.2" y="1660.6" width="29.5" height="22.9" fill="#131230"/>
<rect x="765.3" y="1660.6" width="29.5" height="22.9" fill="#0b0b10"/>
<rect x="794.5" y="1660.6" width="29.5" height="22.9" fill="#682e8a"/>
<rect x="823.7" y="1660.6" width="58.7" height="22.9" fill="#1e1848"/>
<rect x="882.1" y="1660.6" width="58.7" height="22.9" fill="#6b6b6b"/>
<rect x="940.5" y="1660.6" width="29.5" height="22.9" fill="#fdd048"/>
<rect x="969.6" y="1660.6" width="29.5" height="22.9" fill="#1e1848"/>
<rect x="998.8" y="1660.6" width="87.9" height="22.9" fill="#6b6b6b"/>
<rect x="1086.4" y="1660.6" width="29.5" height="22.9" fill="#131230"/>
<rect x="1115.6" y="1660.6" width="29.5" height="22.9" fill="#92368e"/>
<rect x="1144.7" y="1660.6" width="87.9" height="22.9" fill="#6b6b6b"/>
<rect x="94.1" y="1687.4" width="29.5" height="22.9" fill="#0b0b10"/>
<rect x="123.3" y="1687.4" width="29.5" height="22.9" fill="#1e1848"/>
<rect x="152.5" y="1687.4" width="29.5" height="22.9" fill="#6b6b6b"/>
<rect x="181.7" y="1687.4" width="29.5" height="22.9" fill="#33246a"/>
<rect x="210.8" y="1687.4" width="29.5" height="22.9" fill="#0b0b10"/>
<rect x="240.0" y="1687.4" width="29.5" height="22.9" fill="#4a2a7a"/>
<rect x="269.2" y="1687.4" width="58.7" height="22.9" fill="#0b0b10"/>
<rect x="327.6" y="1687.4" width="29.5" height="22.9" fill="#131230"/>
<rect x="356.8" y="1687.4" width="29.5" height="22.9" fill="#0b0b10"/>
<rect x="385.9" y="1687.4" width="29.5" height="22.9" fill="#131230"/>
<rect x="415.1" y="1687.4" width="29.5" height="22.9" fill="#6b6b6b"/>
<rect x="444.3" y="1687.4" width="58.7" height="22.9" fill="#0b0b10"/>
<rect x="502.7" y="1687.4" width="29.5" height="22.9" fill="#682e8a"/>
<rect x="531.9" y="1687.4" width="29.5" height="22.9" fill="#6b6b6b"/>
<rect x="561.1" y="1687.4" width="29.5" height="22.9" fill="#f07c44"/>
<rect x="590.2" y="1687.4" width="87.9" height="22.9" fill="#0b0b10"/>
<rect x="677.8" y="1687.4" width="58.7" height="22.9" fill="#1e1848"/>
<rect x="736.2" y="1687.4" width="29.5" height="22.9" fill="#131230"/>
<rect x="765.3" y="1687.4" width="29.5" height="22.9" fill="#33246a"/>
<rect x="794.5" y="1687.4" width="29.5" height="22.9" fill="#4a2a7a"/>
<rect x="823.7" y="1687.4" width="58.7" height="22.9" fill="#1e1848"/>
<rect x="882.1" y="1687.4" width="29.5" height="22.9" fill="#682e8a"/>
<rect x="911.3" y="1687.4" width="29.5" height="22.9" fill="#0b0b10"/>
<rect x="940.5" y="1687.4" width="29.5" height="22.9" fill="#4a2a7a"/>
<rect x="969.6" y="1687.4" width="29.5" height="22.9" fill="#1e1848"/>
<rect x="998.8" y="1687.4" width="58.7" height="22.9" fill="#0b0b10"/>
<rect x="1057.2" y="1687.4" width="29.5" height="22.9" fill="#6b6b6b"/>
<rect x="1086.4" y="1687.4" width="29.5" height="22.9" fill="#131230"/>
<rect x="1115.6" y="1687.4" width="29.5" height="22.9" fill="#33246a"/>
<rect x="1144.7" y="1687.4" width="58.7" height="22.9" fill="#131230"/>
<rect x="1203.1" y="1687.4" width="29.5" height="22.9" fill="#6b6b6b"/>
<rect x="94.1" y="1710.0" width="29.5" height="22.9" fill="#682e8a"/>
<rect x="123.3" y="1710.0" width="29.5" height="22.9" fill="#131230"/>
<rect x="152.5" y="1710.0" width="29.5" height="22.9" fill="#1e1848"/>
<rect x="181.7" y="1710.0" width="29.5" height="22.9" fill="#33246a"/>
<rect x="210.8" y="1710.0" width="29.5" height="22.9" fill="#0b0b10"/>
<rect x="240.0" y="1710.0" width="29.5" height="22.9" fill="#1e1848"/>
<rect x="269.2" y="1710.0" width="29.5" height="22.9" fill="#0b0b10"/>
<rect x="298.4" y="1710.0" width="58.7" height="22.9" fill="#1e1848"/>
<rect x="356.8" y="1710.0" width="58.7" height="22.9" fill="#131230"/>
<rect x="415.1" y="1710.0" width="29.5" height="22.9" fill="#682e8a"/>
<rect x="444.3" y="1710.0" width="29.5" height="22.9" fill="#131230"/>
<rect x="473.5" y="1710.0" width="29.5" height="22.9" fill="#0b0b10"/>
<rect x="502.7" y="1710.0" width="29.5" height="22.9" fill="#682e8a"/>
<rect x="531.9" y="1710.0" width="29.5" height="22.9" fill="#0b0b10"/>
<rect x="561.1" y="1710.0" width="29.5" height="22.9" fill="#de5a6c"/>
<rect x="590.2" y="1710.0" width="87.9" height="22.9" fill="#0b0b10"/>
<rect x="677.8" y="1710.0" width="87.9" height="22.9" fill="#131230"/>
<rect x="765.3" y="1710.0" width="29.5" height="22.9" fill="#0b0b10"/>
<rect x="794.5" y="1710.0" width="58.7" height="22.9" fill="#131230"/>
<rect x="852.9" y="1710.0" width="29.5" height="22.9" fill="#0b0b10"/>
<rect x="882.1" y="1710.0" width="29.5" height="22.9" fill="#33246a"/>
<rect x="911.3" y="1710.0" width="29.5" height="22.9" fill="#0b0b10"/>
<rect x="940.5" y="1710.0" width="29.5" height="22.9" fill="#682e8a"/>
<rect x="969.6" y="1710.0" width="87.9" height="22.9" fill="#0b0b10"/>
<rect x="1057.2" y="1710.0" width="29.5" height="22.9" fill="#6b6b6b"/>
<rect x="1086.4" y="1710.0" width="29.5" height="22.9" fill="#0b0b10"/>
<rect x="1115.6" y="1710.0" width="29.5" height="22.9" fill="#33246a"/>
<rect x="1144.7" y="1710.0" width="29.5" height="22.9" fill="#6b6b6b"/>
<rect x="1173.9" y="1710.0" width="29.5" height="22.9" fill="#0b0b10"/>
<rect x="1203.1" y="1710.0" width="29.5" height="22.9" fill="#1e1848"/>
<rect x="94.1" y="1732.5" width="29.5" height="22.9" fill="#0b0b10"/>
<rect x="123.3" y="1732.5" width="29.5" height="22.9" fill="#33246a"/>
<rect x="152.5" y="1732.5" width="29.5" height="22.9" fill="#0b0b10"/>
<rect x="181.7" y="1732.5" width="29.5" height="22.9" fill="#4a2a7a"/>
<rect x="210.8" y="1732.5" width="29.5" height="22.9" fill="#0b0b10"/>
<rect x="240.0" y="1732.5" width="29.5" height="22.9" fill="#1e1848"/>
<rect x="269.2" y="1732.5" width="29.5" height="22.9" fill="#0b0b10"/>
<rect x="298.4" y="1732.5" width="29.5" height="22.9" fill="#4a2a7a"/>
<rect x="327.6" y="1732.5" width="29.5" height="22.9" fill="#131230"/>
<rect x="356.8" y="1732.5" width="29.5" height="22.9" fill="#0b0b10"/>
<rect x="385.9" y="1732.5" width="29.5" height="22.9" fill="#131230"/>
<rect x="415.1" y="1732.5" width="29.5" height="22.9" fill="#6b6b6b"/>
<rect x="444.3" y="1732.5" width="58.7" height="22.9" fill="#0b0b10"/>
<rect x="502.7" y="1732.5" width="29.5" height="22.9" fill="#92368e"/>
<rect x="531.9" y="1732.5" width="29.5" height="22.9" fill="#6b6b6b"/>
<rect x="561.1" y="1732.5" width="29.5" height="22.9" fill="#fdd048"/>
<rect x="590.2" y="1732.5" width="87.9" height="22.9" fill="#0b0b10"/>
<rect x="677.8" y="1732.5" width="29.5" height="22.9" fill="#1e1848"/>
<rect x="707.0" y="1732.5" width="29.5" height="22.9" fill="#33246a"/>
<rect x="736.2" y="1732.5" width="58.7" height="22.9" fill="#131230"/>
<rect x="794.5" y="1732.5" width="29.5" height="22.9" fill="#6b6b6b"/>
<rect x="823.7" y="1732.5" width="58.7" height="22.9" fill="#131230"/>
<rect x="882.1" y="1732.5" width="29.5" height="22.9" fill="#4a2a7a"/>
<rect x="911.3" y="1732.5" width="29.5" height="22.9" fill="#0b0b10"/>
<rect x="940.5" y="1732.5" width="29.5" height="22.9" fill="#682e8a"/>
<rect x="969.6" y="1732.5" width="29.5" height="22.9" fill="#1e1848"/>
<rect x="998.8" y="1732.5" width="87.9" height="22.9" fill="#0b0b10"/>
<rect x="1086.4" y="1732.5" width="29.5" height="22.9" fill="#6b6b6b"/>
<rect x="1115.6" y="1732.5" width="29.5" height="22.9" fill="#33246a"/>
<rect x="1144.7" y="1732.5" width="58.7" height="22.9" fill="#1e1848"/>
<rect x="1203.1" y="1732.5" width="29.5" height="22.9" fill="#6b6b6b"/>
<rect x="94.1" y="1755.1" width="58.7" height="22.9" fill="#1e1848"/>
<rect x="152.5" y="1755.1" width="29.5" height="22.9" fill="#131230"/>
<rect x="181.7" y="1755.1" width="29.5" height="22.9" fill="#1e1848"/>
<rect x="210.8" y="1755.1" width="29.5" height="22.9" fill="#0b0b10"/>
<rect x="240.0" y="1755.1" width="29.5" height="22.9" fill="#131230"/>
<rect x="269.2" y="1755.1" width="58.7" height="22.9" fill="#0b0b10"/>
<rect x="327.6" y="1755.1" width="29.5" height="22.9" fill="#4a2a7a"/>
<rect x="356.8" y="1755.1" width="58.7" height="22.9" fill="#0b0b10"/>
<rect x="415.1" y="1755.1" width="29.5" height="22.9" fill="#682e8a"/>
<rect x="444.3" y="1755.1" width="29.5" height="22.9" fill="#1e1848"/>
<rect x="473.5" y="1755.1" width="29.5" height="22.9" fill="#0b0b10"/>
<rect x="502.7" y="1755.1" width="29.5" height="22.9" fill="#92368e"/>
<rect x="531.9" y="1755.1" width="29.5" height="22.9" fill="#0b0b10"/>
<rect x="561.1" y="1755.1" width="29.5" height="22.9" fill="#fa9f28"/>
<rect x="590.2" y="1755.1" width="87.9" height="22.9" fill="#0b0b10"/>
<rect x="677.8" y="1755.1" width="29.5" height="22.9" fill="#1e1848"/>
<rect x="707.0" y="1755.1" width="58.7" height="22.9" fill="#131230"/>
<rect x="765.3" y="1755.1" width="29.5" height="22.9" fill="#0b0b10"/>
<rect x="794.5" y="1755.1" width="29.5" height="22.9" fill="#131230"/>
<rect x="823.7" y="1755.1" width="29.5" height="22.9" fill="#1e1848"/>
<rect x="852.9" y="1755.1" width="29.5" height="22.9" fill="#0b0b10"/>
<rect x="882.1" y="1755.1" width="29.5" height="22.9" fill="#4a2a7a"/>
<rect x="911.3" y="1755.1" width="29.5" height="22.9" fill="#0b0b10"/>
<rect x="940.5" y="1755.1" width="29.5" height="22.9" fill="#4a2a7a"/>
<rect x="969.6" y="1755.1" width="29.5" height="22.9" fill="#1e1848"/>
<rect x="998.8" y="1755.1" width="29.5" height="22.9" fill="#131230"/>
<rect x="1028.0" y="1755.1" width="87.9" height="22.9" fill="#0b0b10"/>
<rect x="1115.6" y="1755.1" width="29.5" height="22.9" fill="#33246a"/>
<rect x="1144.7" y="1755.1" width="29.5" height="22.9" fill="#6b6b6b"/>
<rect x="1173.9" y="1755.1" width="29.5" height="22.9" fill="#0b0b10"/>
<rect x="1203.1" y="1755.1" width="29.5" height="22.9" fill="#6b6b6b"/>
<rect x="94.1" y="1777.7" width="58.7" height="22.9" fill="#1e1848"/>
<rect x="152.5" y="1777.7" width="29.5" height="22.9" fill="#131230"/>
<rect x="181.7" y="1777.7" width="29.5" height="22.9" fill="#4a2a7a"/>
<rect x="210.8" y="1777.7" width="29.5" height="22.9" fill="#0b0b10"/>
<rect x="240.0" y="1777.7" width="29.5" height="22.9" fill="#33246a"/>
<rect x="269.2" y="1777.7" width="29.5" height="22.9" fill="#6b6b6b"/>
<rect x="298.4" y="1777.7" width="29.5" height="22.9" fill="#1e1848"/>
<rect x="327.6" y="1777.7" width="29.5" height="22.9" fill="#131230"/>
<rect x="356.8" y="1777.7" width="58.7" height="22.9" fill="#0b0b10"/>
<rect x="415.1" y="1777.7" width="29.5" height="22.9" fill="#33246a"/>
<rect x="444.3" y="1777.7" width="58.7" height="22.9" fill="#0b0b10"/>
<rect x="502.7" y="1777.7" width="29.5" height="22.9" fill="#682e8a"/>
<rect x="531.9" y="1777.7" width="29.5" height="22.9" fill="#0b0b10"/>
<rect x="561.1" y="1777.7" width="29.5" height="22.9" fill="#f07c44"/>
<rect x="590.2" y="1777.7" width="29.5" height="22.9" fill="#131230"/>
<rect x="619.4" y="1777.7" width="58.7" height="22.9" fill="#0b0b10"/>
<rect x="677.8" y="1777.7" width="29.5" height="22.9" fill="#682e8a"/>
<rect x="707.0" y="1777.7" width="29.5" height="22.9" fill="#1e1848"/>
<rect x="736.2" y="1777.7" width="29.5" height="22.9" fill="#33246a"/>
<rect x="765.3" y="1777.7" width="29.5" height="22.9" fill="#0b0b10"/>
<rect x="794.5" y="1777.7" width="29.5" height="22.9" fill="#131230"/>
<rect x="823.7" y="1777.7" width="58.7" height="22.9" fill="#1e1848"/>
<rect x="882.1" y="1777.7" width="29.5" height="22.9" fill="#4a2a7a"/>
<rect x="911.3" y="1777.7" width="29.5" height="22.9" fill="#0b0b10"/>
<rect x="940.5" y="1777.7" width="58.7" height="22.9" fill="#33246a"/>
<rect x="998.8" y="1777.7" width="117.0" height="22.9" fill="#0b0b10"/>
<rect x="1115.6" y="1777.7" width="29.5" height="22.9" fill="#4a2a7a"/>
<rect x="1144.7" y="1777.7" width="29.5" height="22.9" fill="#131230"/>
<rect x="1173.9" y="1777.7" width="29.5" height="22.9" fill="#0b0b10"/>
<rect x="1203.1" y="1777.7" width="29.5" height="22.9" fill="#131230"/>
<rect x="94.1" y="1800.3" width="29.5" height="22.9" fill="#0b0b10"/>
<rect x="123.3" y="1800.3" width="29.5" height="22.9" fill="#1e1848"/>
<rect x="152.5" y="1800.3" width="29.5" height="22.9" fill="#131230"/>
<rect x="181.7" y="1800.3" width="29.5" height="22.9" fill="#4a2a7a"/>
<rect x="210.8" y="1800.3" width="29.5" height="22.9" fill="#0b0b10"/>
<rect x="240.0" y="1800.3" width="29.5" height="22.9" fill="#33246a"/>
<rect x="269.2" y="1800.3" width="29.5" height="22.9" fill="#0b0b10"/>
<rect x="298.4" y="1800.3" width="29.5" height="22.9" fill="#4a2a7a"/>
<rect x="327.6" y="1800.3" width="29.5" height="22.9" fill="#682e8a"/>
<rect x="356.8" y="1800.3" width="58.7" height="22.9" fill="#0b0b10"/>
<rect x="415.1" y="1800.3" width="29.5" height="22.9" fill="#682e8a"/>
<rect x="444.3" y="1800.3" width="29.5" height="22.9" fill="#1e1848"/>
<rect x="473.5" y="1800.3" width="29.5" height="22.9" fill="#0b0b10"/>
<rect x="502.7" y="1800.3" width="29.5" height="22.9" fill="#92368e"/>
<rect x="531.9" y="1800.3" width="29.5" height="22.9" fill="#0b0b10"/>
<rect x="561.1" y="1800.3" width="29.5" height="22.9" fill="#92368e"/>
<rect x="590.2" y="1800.3" width="29.5" height="22.9" fill="#6b6b6b"/>
<rect x="619.4" y="1800.3" width="29.5" height="22.9" fill="#0b0b10"/>
<rect x="648.6" y="1800.3" width="29.5" height="22.9" fill="#1e1848"/>
<rect x="677.8" y="1800.3" width="29.5" height="22.9" fill="#4a2a7a"/>
<rect x="707.0" y="1800.3" width="58.7" height="22.9" fill="#1e1848"/>
<rect x="765.3" y="1800.3" width="29.5" height="22.9" fill="#0b0b10"/>
<rect x="794.5" y="1800.3" width="29.5" height="22.9" fill="#6b6b6b"/>
<rect x="823.7" y="1800.3" width="29.5" height="22.9" fill="#1e1848"/>
<rect x="852.9" y="1800.3" width="29.5" height="22.9" fill="#0b0b10"/>
<rect x="882.1" y="1800.3" width="29.5" height="22.9" fill="#682e8a"/>
<rect x="911.3" y="1800.3" width="29.5" height="22.9" fill="#6b6b6b"/>
<rect x="940.5" y="1800.3" width="58.7" height="22.9" fill="#4a2a7a"/>
<rect x="998.8" y="1800.3" width="87.9" height="22.9" fill="#0b0b10"/>
<rect x="1086.4" y="1800.3" width="29.5" height="22.9" fill="#6b6b6b"/>
<rect x="1115.6" y="1800.3" width="29.5" height="22.9" fill="#4a2a7a"/>
<rect x="1144.7" y="1800.3" width="29.5" height="22.9" fill="#6b6b6b"/>
<rect x="1173.9" y="1800.3" width="29.5" height="22.9" fill="#1e1848"/>
<rect x="1203.1" y="1800.3" width="29.5" height="22.9" fill="#4a2a7a"/>
<rect x="94.1" y="1827.1" width="29.5" height="22.9" fill="#4a2a7a"/>
<rect x="123.3" y="1827.1" width="29.5" height="22.9" fill="#33246a"/>
<rect x="152.5" y="1827.1" width="29.5" height="22.9" fill="#0b0b10"/>
<rect x="181.7" y="1827.1" width="29.5" height="22.9" fill="#1e1848"/>
<rect x="210.8" y="1827.1" width="29.5" height="22.9" fill="#6b6b6b"/>
<rect x="240.0" y="1827.1" width="29.5" height="22.9" fill="#1e1848"/>
<rect x="269.2" y="1827.1" width="29.5" height="22.9" fill="#6b6b6b"/>
<rect x="298.4" y="1827.1" width="58.7" height="22.9" fill="#1e1848"/>
<rect x="356.8" y="1827.1" width="29.5" height="22.9" fill="#0b0b10"/>
<rect x="385.9" y="1827.1" width="29.5" height="22.9" fill="#131230"/>
<rect x="415.1" y="1827.1" width="29.5" height="22.9" fill="#33246a"/>
<rect x="444.3" y="1827.1" width="29.5" height="22.9" fill="#0b0b10"/>
<rect x="473.5" y="1827.1" width="29.5" height="22.9" fill="#6b6b6b"/>
<rect x="502.7" y="1827.1" width="29.5" height="22.9" fill="#92368e"/>
<rect x="531.9" y="1827.1" width="29.5" height="22.9" fill="#6b6b6b"/>
<rect x="561.1" y="1827.1" width="29.5" height="22.9" fill="#f07c44"/>
<rect x="590.2" y="1827.1" width="29.5" height="22.9" fill="#6b6b6b"/>
<rect x="619.4" y="1827.1" width="58.7" height="22.9" fill="#0b0b10"/>
<rect x="677.8" y="1827.1" width="29.5" height="22.9" fill="#1e1848"/>
<rect x="707.0" y="1827.1" width="29.5" height="22.9" fill="#0b0b10"/>
<rect x="736.2" y="1827.1" width="29.5" height="22.9" fill="#33246a"/>
<rect x="765.3" y="1827.1" width="29.5" height="22.9" fill="#1e1848"/>
<rect x="794.5" y="1827.1" width="29.5" height="22.9" fill="#131230"/>
<rect x="823.7" y="1827.1" width="29.5" height="22.9" fill="#6b6b6b"/>
<rect x="852.9" y="1827.1" width="29.5" height="22.9" fill="#33246a"/>
<rect x="882.1" y="1827.1" width="29.5" height="22.9" fill="#1e1848"/>
<rect x="911.3" y="1827.1" width="29.5" height="22.9" fill="#6b6b6b"/>
<rect x="940.5" y="1827.1" width="29.5" height="22.9" fill="#682e8a"/>
<rect x="969.6" y="1827.1" width="29.5" height="22.9" fill="#1e1848"/>
<rect x="998.8" y="1827.1" width="87.9" height="22.9" fill="#6b6b6b"/>
<rect x="1086.4" y="1827.1" width="29.5" height="22.9" fill="#0b0b10"/>
<rect x="1115.6" y="1827.1" width="29.5" height="22.9" fill="#1e1848"/>
<rect x="1144.7" y="1827.1" width="58.7" height="22.9" fill="#131230"/>
<rect x="1203.1" y="1827.1" width="29.5" height="22.9" fill="#6b6b6b"/>
<rect x="94.1" y="1849.7" width="29.5" height="22.9" fill="#682e8a"/>
<rect x="123.3" y="1849.7" width="29.5" height="22.9" fill="#131230"/>
<rect x="152.5" y="1849.7" width="29.5" height="22.9" fill="#1e1848"/>
<rect x="181.7" y="1849.7" width="29.5" height="22.9" fill="#33246a"/>
<rect x="210.8" y="1849.7" width="29.5" height="22.9" fill="#0b0b10"/>
<rect x="240.0" y="1849.7" width="29.5" height="22.9" fill="#1e1848"/>
<rect x="269.2" y="1849.7" width="29.5" height="22.9" fill="#0b0b10"/>
<rect x="298.4" y="1849.7" width="29.5" height="22.9" fill="#1e1848"/>
<rect x="327.6" y="1849.7" width="29.5" height="22.9" fill="#131230"/>
<rect x="356.8" y="1849.7" width="29.5" height="22.9" fill="#0b0b10"/>
<rect x="385.9" y="1849.7" width="29.5" height="22.9" fill="#131230"/>
<rect x="415.1" y="1849.7" width="58.7" height="22.9" fill="#1e1848"/>
<rect x="473.5" y="1849.7" width="29.5" height="22.9" fill="#0b0b10"/>
<rect x="502.7" y="1849.7" width="29.5" height="22.9" fill="#92368e"/>
<rect x="531.9" y="1849.7" width="29.5" height="22.9" fill="#0b0b10"/>
<rect x="561.1" y="1849.7" width="29.5" height="22.9" fill="#fdd048"/>
<rect x="590.2" y="1849.7" width="29.5" height="22.9" fill="#6b6b6b"/>
<rect x="619.4" y="1849.7" width="58.7" height="22.9" fill="#0b0b10"/>
<rect x="677.8" y="1849.7" width="29.5" height="22.9" fill="#682e8a"/>
<rect x="707.0" y="1849.7" width="29.5" height="22.9" fill="#131230"/>
<rect x="736.2" y="1849.7" width="29.5" height="22.9" fill="#33246a"/>
<rect x="765.3" y="1849.7" width="29.5" height="22.9" fill="#0b0b10"/>
<rect x="794.5" y="1849.7" width="29.5" height="22.9" fill="#1e1848"/>
<rect x="823.7" y="1849.7" width="29.5" height="22.9" fill="#131230"/>
<rect x="852.9" y="1849.7" width="58.7" height="22.9" fill="#1e1848"/>
<rect x="911.3" y="1849.7" width="29.5" height="22.9" fill="#6b6b6b"/>
<rect x="940.5" y="1849.7" width="29.5" height="22.9" fill="#92368e"/>
<rect x="969.6" y="1849.7" width="29.5" height="22.9" fill="#682e8a"/>
<rect x="998.8" y="1849.7" width="58.7" height="22.9" fill="#0b0b10"/>
<rect x="1057.2" y="1849.7" width="58.7" height="22.9" fill="#6b6b6b"/>
<rect x="1115.6" y="1849.7" width="29.5" height="22.9" fill="#1e1848"/>
<rect x="1144.7" y="1849.7" width="58.7" height="22.9" fill="#0b0b10"/>
<rect x="1203.1" y="1849.7" width="29.5" height="22.9" fill="#6b6b6b"/>
<rect x="94.1" y="1872.3" width="29.5" height="22.9" fill="#1e1848"/>
<rect x="123.3" y="1872.3" width="29.5" height="22.9" fill="#33246a"/>
<rect x="152.5" y="1872.3" width="29.5" height="22.9" fill="#1e1848"/>
<rect x="181.7" y="1872.3" width="29.5" height="22.9" fill="#33246a"/>
<rect x="210.8" y="1872.3" width="29.5" height="22.9" fill="#6b6b6b"/>
<rect x="240.0" y="1872.3" width="29.5" height="22.9" fill="#131230"/>
<rect x="269.2" y="1872.3" width="29.5" height="22.9" fill="#0b0b10"/>
<rect x="298.4" y="1872.3" width="58.7" height="22.9" fill="#1e1848"/>
<rect x="356.8" y="1872.3" width="29.5" height="22.9" fill="#0b0b10"/>
<rect x="385.9" y="1872.3" width="29.5" height="22.9" fill="#131230"/>
<rect x="415.1" y="1872.3" width="87.9" height="22.9" fill="#0b0b10"/>
<rect x="502.7" y="1872.3" width="29.5" height="22.9" fill="#c04884"/>
<rect x="531.9" y="1872.3" width="29.5" height="22.9" fill="#0b0b10"/>
<rect x="561.1" y="1872.3" width="29.5" height="22.9" fill="#f07c44"/>
<rect x="590.2" y="1872.3" width="29.5" height="22.9" fill="#0b0b10"/>
<rect x="619.4" y="1872.3" width="58.7" height="22.9" fill="#131230"/>
<rect x="677.8" y="1872.3" width="29.5" height="22.9" fill="#4a2a7a"/>
<rect x="707.0" y="1872.3" width="29.5" height="22.9" fill="#6b6b6b"/>
<rect x="736.2" y="1872.3" width="29.5" height="22.9" fill="#131230"/>
<rect x="765.3" y="1872.3" width="29.5" height="22.9" fill="#0b0b10"/>
<rect x="794.5" y="1872.3" width="29.5" height="22.9" fill="#6b6b6b"/>
<rect x="823.7" y="1872.3" width="29.5" height="22.9" fill="#0b0b10"/>
<rect x="852.9" y="1872.3" width="29.5" height="22.9" fill="#1e1848"/>
<rect x="882.1" y="1872.3" width="29.5" height="22.9" fill="#4a2a7a"/>
<rect x="911.3" y="1872.3" width="29.5" height="22.9" fill="#0b0b10"/>
<rect x="940.5" y="1872.3" width="58.7" height="22.9" fill="#682e8a"/>
<rect x="998.8" y="1872.3" width="29.5" height="22.9" fill="#6b6b6b"/>
<rect x="1028.0" y="1872.3" width="29.5" height="22.9" fill="#0b0b10"/>
<rect x="1057.2" y="1872.3" width="58.7" height="22.9" fill="#6b6b6b"/>
<rect x="1115.6" y="1872.3" width="29.5" height="22.9" fill="#1e1848"/>
<rect x="1144.7" y="1872.3" width="29.5" height="22.9" fill="#0b0b10"/>
<rect x="1173.9" y="1872.3" width="29.5" height="22.9" fill="#682e8a"/>
<rect x="1203.1" y="1872.3" width="29.5" height="22.9" fill="#131230"/>
<rect x="94.1" y="1894.8" width="29.5" height="22.9" fill="#6b6b6b"/>
<rect x="123.3" y="1894.8" width="29.5" height="22.9" fill="#33246a"/>
<rect x="152.5" y="1894.8" width="29.5" height="22.9" fill="#0b0b10"/>
<rect x="181.7" y="1894.8" width="29.5" height="22.9" fill="#131230"/>
<rect x="210.8" y="1894.8" width="29.5" height="22.9" fill="#6b6b6b"/>
<rect x="240.0" y="1894.8" width="29.5" height="22.9" fill="#682e8a"/>
<rect x="269.2" y="1894.8" width="29.5" height="22.9" fill="#0b0b10"/>
<rect x="298.4" y="1894.8" width="29.5" height="22.9" fill="#1e1848"/>
<rect x="327.6" y="1894.8" width="29.5" height="22.9" fill="#4a2a7a"/>
<rect x="356.8" y="1894.8" width="29.5" height="22.9" fill="#0b0b10"/>
<rect x="385.9" y="1894.8" width="29.5" height="22.9" fill="#33246a"/>
<rect x="415.1" y="1894.8" width="58.7" height="22.9" fill="#6b6b6b"/>
<rect x="473.5" y="1894.8" width="29.5" height="22.9" fill="#0b0b10"/>
<rect x="502.7" y="1894.8" width="29.5" height="22.9" fill="#de5a6c"/>
<rect x="531.9" y="1894.8" width="29.5" height="22.9" fill="#0b0b10"/>
<rect x="561.1" y="1894.8" width="29.5" height="22.9" fill="#de5a6c"/>
<rect x="590.2" y="1894.8" width="29.5" height="22.9" fill="#6b6b6b"/>
<rect x="619.4" y="1894.8" width="29.5" height="22.9" fill="#131230"/>
<rect x="648.6" y="1894.8" width="29.5" height="22.9" fill="#0b0b10"/>
<rect x="677.8" y="1894.8" width="29.5" height="22.9" fill="#4a2a7a"/>
<rect x="707.0" y="1894.8" width="29.5" height="22.9" fill="#1e1848"/>
<rect x="736.2" y="1894.8" width="29.5" height="22.9" fill="#4a2a7a"/>
<rect x="765.3" y="1894.8" width="29.5" height="22.9" fill="#0b0b10"/>
<rect x="794.5" y="1894.8" width="29.5" height="22.9" fill="#6b6b6b"/>
<rect x="823.7" y="1894.8" width="29.5" height="22.9" fill="#4a2a7a"/>
<rect x="852.9" y="1894.8" width="29.5" height="22.9" fill="#131230"/>
<rect x="882.1" y="1894.8" width="29.5" height="22.9" fill="#92368e"/>
<rect x="911.3" y="1894.8" width="29.5" height="22.9" fill="#6b6b6b"/>
<rect x="940.5" y="1894.8" width="29.5" height="22.9" fill="#1e1848"/>
<rect x="969.6" y="1894.8" width="29.5" height="22.9" fill="#92368e"/>
<rect x="998.8" y="1894.8" width="29.5" height="22.9" fill="#6b6b6b"/>
<rect x="1028.0" y="1894.8" width="58.7" height="22.9" fill="#0b0b10"/>
<rect x="1086.4" y="1894.8" width="29.5" height="22.9" fill="#6b6b6b"/>
<rect x="1115.6" y="1894.8" width="29.5" height="22.9" fill="#1e1848"/>
<rect x="1144.7" y="1894.8" width="29.5" height="22.9" fill="#0b0b10"/>
<rect x="1173.9" y="1894.8" width="29.5" height="22.9" fill="#1e1848"/>
<rect x="1203.1" y="1894.8" width="29.5" height="22.9" fill="#6b6b6b"/>
<rect x="94.1" y="1917.4" width="29.5" height="22.9" fill="#682e8a"/>
<rect x="123.3" y="1917.4" width="29.5" height="22.9" fill="#1e1848"/>
<rect x="152.5" y="1917.4" width="29.5" height="22.9" fill="#131230"/>
<rect x="181.7" y="1917.4" width="29.5" height="22.9" fill="#33246a"/>
<rect x="210.8" y="1917.4" width="29.5" height="22.9" fill="#0b0b10"/>
<rect x="240.0" y="1917.4" width="29.5" height="22.9" fill="#1e1848"/>
<rect x="269.2" y="1917.4" width="29.5" height="22.9" fill="#0b0b10"/>
<rect x="298.4" y="1917.4" width="58.7" height="22.9" fill="#1e1848"/>
<rect x="356.8" y="1917.4" width="29.5" height="22.9" fill="#131230"/>
<rect x="385.9" y="1917.4" width="29.5" height="22.9" fill="#0b0b10"/>
<rect x="415.1" y="1917.4" width="29.5" height="22.9" fill="#1e1848"/>
<rect x="444.3" y="1917.4" width="29.5" height="22.9" fill="#131230"/>
<rect x="473.5" y="1917.4" width="29.5" height="22.9" fill="#0b0b10"/>
<rect x="502.7" y="1917.4" width="29.5" height="22.9" fill="#682e8a"/>
<rect x="531.9" y="1917.4" width="29.5" height="22.9" fill="#0b0b10"/>
<rect x="561.1" y="1917.4" width="29.5" height="22.9" fill="#c04884"/>
<rect x="590.2" y="1917.4" width="87.9" height="22.9" fill="#0b0b10"/>
<rect x="677.8" y="1917.4" width="29.5" height="22.9" fill="#682e8a"/>
<rect x="707.0" y="1917.4" width="29.5" height="22.9" fill="#1e1848"/>
<rect x="736.2" y="1917.4" width="29.5" height="22.9" fill="#131230"/>
<rect x="765.3" y="1917.4" width="29.5" height="22.9" fill="#0b0b10"/>
<rect x="794.5" y="1917.4" width="29.5" height="22.9" fill="#6b6b6b"/>
<rect x="823.7" y="1917.4" width="29.5" height="22.9" fill="#1e1848"/>
<rect x="852.9" y="1917.4" width="29.5" height="22.9" fill="#131230"/>
<rect x="882.1" y="1917.4" width="29.5" height="22.9" fill="#33246a"/>
<rect x="911.3" y="1917.4" width="29.5" height="22.9" fill="#0b0b10"/>
<rect x="940.5" y="1917.4" width="58.7" height="22.9" fill="#682e8a"/>
<rect x="998.8" y="1917.4" width="87.9" height="22.9" fill="#0b0b10"/>
<rect x="1086.4" y="1917.4" width="29.5" height="22.9" fill="#6b6b6b"/>
<rect x="1115.6" y="1917.4" width="29.5" height="22.9" fill="#1e1848"/>
<rect x="1144.7" y="1917.4" width="29.5" height="22.9" fill="#131230"/>
<rect x="1173.9" y="1917.4" width="29.5" height="22.9" fill="#4a2a7a"/>
<rect x="1203.1" y="1917.4" width="29.5" height="22.9" fill="#6b6b6b"/>
<rect x="94.1" y="1940.0" width="29.5" height="22.9" fill="#0b0b10"/>
<rect x="123.3" y="1940.0" width="29.5" height="22.9" fill="#33246a"/>
<rect x="152.5" y="1940.0" width="29.5" height="22.9" fill="#6b6b6b"/>
<rect x="181.7" y="1940.0" width="29.5" height="22.9" fill="#1e1848"/>
<rect x="210.8" y="1940.0" width="29.5" height="22.9" fill="#6b6b6b"/>
<rect x="240.0" y="1940.0" width="87.9" height="22.9" fill="#0b0b10"/>
<rect x="327.6" y="1940.0" width="29.5" height="22.9" fill="#33246a"/>
<rect x="356.8" y="1940.0" width="29.5" height="22.9" fill="#131230"/>
<rect x="385.9" y="1940.0" width="29.5" height="22.9" fill="#682e8a"/>
<rect x="415.1" y="1940.0" width="29.5" height="22.9" fill="#1e1848"/>
<rect x="444.3" y="1940.0" width="29.5" height="22.9" fill="#131230"/>
<rect x="473.5" y="1940.0" width="29.5" height="22.9" fill="#0b0b10"/>
<rect x="502.7" y="1940.0" width="29.5" height="22.9" fill="#131230"/>
<rect x="531.9" y="1940.0" width="29.5" height="22.9" fill="#6b6b6b"/>
<rect x="561.1" y="1940.0" width="29.5" height="22.9" fill="#fa9f28"/>
<rect x="590.2" y="1940.0" width="87.9" height="22.9" fill="#6b6b6b"/>
<rect x="677.8" y="1940.0" width="29.5" height="22.9" fill="#1e1848"/>
<rect x="707.0" y="1940.0" width="58.7" height="22.9" fill="#131230"/>
<rect x="765.3" y="1940.0" width="29.5" height="22.9" fill="#1e1848"/>
<rect x="794.5" y="1940.0" width="29.5" height="22.9" fill="#4a2a7a"/>
<rect x="823.7" y="1940.0" width="58.7" height="22.9" fill="#131230"/>
<rect x="882.1" y="1940.0" width="29.5" height="22.9" fill="#92368e"/>
<rect x="911.3" y="1940.0" width="29.5" height="22.9" fill="#6b6b6b"/>
<rect x="940.5" y="1940.0" width="58.7" height="22.9" fill="#4a2a7a"/>
<rect x="998.8" y="1940.0" width="87.9" height="22.9" fill="#0b0b10"/>
<rect x="1086.4" y="1940.0" width="29.5" height="22.9" fill="#1e1848"/>
<rect x="1115.6" y="1940.0" width="29.5" height="22.9" fill="#4a2a7a"/>
<rect x="1144.7" y="1940.0" width="29.5" height="22.9" fill="#131230"/>
<rect x="1173.9" y="1940.0" width="29.5" height="22.9" fill="#4a2a7a"/>
<rect x="1203.1" y="1940.0" width="29.5" height="22.9" fill="#6b6b6b"/>
</g>
<rect x="94.1" y="1128.5" width="1138.2" height="834.1" fill="none" stroke="#000" stroke-width="4.3"/>
<line x1="108.7" y1="1964.0" x2="108.7" y2="1976.4" stroke="#000" stroke-width="4"/>
<text x="116.6" y="1980.4" font-size="20.4" text-anchor="end" transform="rotate(-90 116.6 1980.4)">IGHV01-02</text>
<line x1="137.9" y1="1964.0" x2="137.9" y2="1976.4" stroke="#000" stroke-width="4"/>
<text x="145.8" y="1980.4" font-size="20.4" text-anchor="end" transform="rotate(-90 145.8 1980.4)">IGHV01-03</text>
<line x1="167.1" y1="1964.0" x2="167.1" y2="1976.4" stroke="#000" stroke-width="4"/>
<text x="175.0" y="1980.4" font-size="20.4" text-anchor="end" transform="rotate(-90 175.0 1980.4)">IGHV01-08</text>
<line x1="196.2" y1="1964.0" x2="196.2" y2="1976.4" stroke="#000" stroke-width="4"/>
<text x="204.1" y="1980.4" font-size="20.4" text-anchor="end" transform="rotate(-90 204.1 1980.4)">IGHV01-18</text>
<line x1="225.4" y1="1964.0" x2="225.4" y2="1976.4" stroke="#000" stroke-width="4"/>
<text x="233.3" y="1980.4" font-size="20.4" text-anchor="end" transform="rotate(-90 233.3 1980.4)">IGHV01-24</text>
<line x1="254.6" y1="1964.0" x2="254.6" y2="1976.4" stroke="#000" stroke-width="4"/>
<text x="262.5" y="1980.4" font-size="20.4" text-anchor="end" transform="rotate(-90 262.5 1980.4)">IGHV01-46</text>
<line x1="283.8" y1="1964.0" x2="283.8" y2="1976.4" stroke="#000" stroke-width="4"/>
<text x="291.7" y="1980.4" font-size="20.4" text-anchor="end" transform="rotate(-90 291.7 1980.4)">IGHV01-58</text>
<line x1="313.0" y1="1964.0" x2="313.0" y2="1976.4" stroke="#000" stroke-width="4"/>
<text x="320.9" y="1980.4" font-size="20.4" text-anchor="end" transform="rotate(-90 320.9 1980.4)">IGHV01-69</text>
<line x1="342.2" y1="1964.0" x2="342.2" y2="1976.4" stroke="#000" stroke-width="4"/>
<text x="350.1" y="1980.4" font-size="20.4" text-anchor="end" transform="rotate(-90 350.1 1980.4)">IGHV02-05</text>
<line x1="371.4" y1="1964.0" x2="371.4" y2="1976.4" stroke="#000" stroke-width="4"/>
<text x="379.3" y="1980.4" font-size="20.4" text-anchor="end" transform="rotate(-90 379.3 1980.4)">IGHV02-26</text>
<line x1="400.5" y1="1964.0" x2="400.5" y2="1976.4" stroke="#000" stroke-width="4"/>
<text x="408.4" y="1980.4" font-size="20.4" text-anchor="end" transform="rotate(-90 408.4 1980.4)">IGHV02-70</text>
<line x1="429.7" y1="1964.0" x2="429.7" y2="1976.4" stroke="#000" stroke-width="4"/>
<text x="437.6" y="1980.4" font-size="20.4" text-anchor="end" transform="rotate(-90 437.6 1980.4)">IGHV03-09</text>
<line x1="458.9" y1="1964.0" x2="458.9" y2="1976.4" stroke="#000" stroke-width="4"/>
<text x="466.8" y="1980.4" font-size="20.4" text-anchor="end" transform="rotate(-90 466.8 1980.4)">IGHV03-11</text>
<line x1="488.1" y1="1964.0" x2="488.1" y2="1976.4" stroke="#000" stroke-width="4"/>
<text x="496.0" y="1980.4" font-size="20.4" text-anchor="end" transform="rotate(-90 496.0 1980.4)">IGHV03-13</text>
<line x1="517.3" y1="1964.0" x2="517.3" y2="1976.4" stroke="#000" stroke-width="4"/>
<text x="525.2" y="1980.4" font-size="20.4" text-anchor="end" transform="rotate(-90 525.2 1980.4)">IGHV03-15</text>
<line x1="546.5" y1="1964.0" x2="546.5" y2="1976.4" stroke="#000" stroke-width="4"/>
<text x="554.4" y="1980.4" font-size="20.4" text-anchor="end" transform="rotate(-90 554.4 1980.4)">IGHV03-20</text>
<line x1="575.6" y1="1964.0" x2="575.6" y2="1976.4" stroke="#000" stroke-width="4"/>
<text x="583.5" y="1980.4" font-size="20.4" text-anchor="end" transform="rotate(-90 583.5 1980.4)">IGHV03-23</text>
<line x1="604.8" y1="1964.0" x2="604.8" y2="1976.4" stroke="#000" stroke-width="4"/>
<text x="612.7" y="1980.4" font-size="20.4" text-anchor="end" transform="rotate(-90 612.7 1980.4)">IGHV03-30</text>
<line x1="634.0" y1="1964.0" x2="634.0" y2="1976.4" stroke="#000" stroke-width="4"/>
<text x="641.9" y="1980.4" font-size="20.4" text-anchor="end" transform="rotate(-90 641.9 1980.4)">IGHV03-33</text>
<line x1="663.2" y1="1964.0" x2="663.2" y2="1976.4" stroke="#000" stroke-width="4"/>
<text x="671.1" y="1980.4" font-size="20.4" text-anchor="end" transform="rotate(-90 671.1 1980.4)">IGHV03-43</text>
<line x1="692.4" y1="1964.0" x2="692.4" y2="1976.4" stroke="#000" stroke-width="4"/>
<text x="700.3" y="1980.4" font-size="20.4" text-anchor="end" transform="rotate(-90 700.3 1980.4)">IGHV03-48</text>
<line x1="721.6" y1="1964.0" x2="721.6" y2="1976.4" stroke="#000" stroke-width="4"/>
<text x="729.5" y="1980.4" font-size="20.4" text-anchor="end" transform="rotate(-90 729.5 1980.4)">IGHV03-49</text>
<line x1="750.8" y1="1964.0" x2="750.8" y2="1976.4" stroke="#000" stroke-width="4"/>
<text x="758.7" y="1980.4" font-size="20.4" text-anchor="end" transform="rotate(-90 758.7 1980.4)">IGHV03-53</text>
<line x1="779.9" y1="1964.0" x2="779.9" y2="1976.4" stroke="#000" stroke-width="4"/>
<text x="787.8" y="1980.4" font-size="20.4" text-anchor="end" transform="rotate(-90 787.8 1980.4)">IGHV03-64</text>
<line x1="809.1" y1="1964.0" x2="809.1" y2="1976.4" stroke="#000" stroke-width="4"/>
<text x="817.0" y="1980.4" font-size="20.4" text-anchor="end" transform="rotate(-90 817.0 1980.4)">IGHV03-66</text>
<line x1="838.3" y1="1964.0" x2="838.3" y2="1976.4" stroke="#000" stroke-width="4"/>
<text x="846.2" y="1980.4" font-size="20.4" text-anchor="end" transform="rotate(-90 846.2 1980.4)">IGHV03-72</text>
<line x1="867.5" y1="1964.0" x2="867.5" y2="1976.4" stroke="#000" stroke-width="4"/>
<text x="875.4" y="1980.4" font-size="20.4" text-anchor="end" transform="rotate(-90 875.4 1980.4)">IGHV03-73</text>
<line x1="896.7" y1="1964.0" x2="896.7" y2="1976.4" stroke="#000" stroke-width="4"/>
<text x="904.6" y="1980.4" font-size="20.4" text-anchor="end" transform="rotate(-90 904.6 1980.4)">IGHV03-74</text>
<line x1="925.9" y1="1964.0" x2="925.9" y2="1976.4" stroke="#000" stroke-width="4"/>
<text x="933.8" y="1980.4" font-size="20.4" text-anchor="end" transform="rotate(-90 933.8 1980.4)">IGHV04-30_2</text>
<line x1="955.0" y1="1964.0" x2="955.0" y2="1976.4" stroke="#000" stroke-width="4"/>
<text x="962.9" y="1980.4" font-size="20.4" text-anchor="end" transform="rotate(-90 962.9 1980.4)">IGHV04-34</text>
<line x1="984.2" y1="1964.0" x2="984.2" y2="1976.4" stroke="#000" stroke-width="4"/>
<text x="992.1" y="1980.4" font-size="20.4" text-anchor="end" transform="rotate(-90 992.1 1980.4)">IGHV04-39</text>
<line x1="1013.4" y1="1964.0" x2="1013.4" y2="1976.4" stroke="#000" stroke-width="4"/>
<text x="1021.3" y="1980.4" font-size="20.4" text-anchor="end" transform="rotate(-90 1021.3 1980.4)">IGHV04-55</text>
<line x1="1042.6" y1="1964.0" x2="1042.6" y2="1976.4" stroke="#000" stroke-width="4"/>
<text x="1050.5" y="1980.4" font-size="20.4" text-anchor="end" transform="rotate(-90 1050.5 1980.4)">IGHV04-59</text>
<line x1="1071.8" y1="1964.0" x2="1071.8" y2="1976.4" stroke="#000" stroke-width="4"/>
<text x="1079.7" y="1980.4" font-size="20.4" text-anchor="end" transform="rotate(-90 1079.7 1980.4)">IGHV04-61</text>
<line x1="1101.0" y1="1964.0" x2="1101.0" y2="1976.4" stroke="#000" stroke-width="4"/>
<text x="1108.9" y="1980.4" font-size="20.4" text-anchor="end" transform="rotate(-90 1108.9 1980.4)">IGHV04-b</text>
<line x1="1130.2" y1="1964.0" x2="1130.2" y2="1976.4" stroke="#000" stroke-width="4"/>
<text x="1138.1" y="1980.4" font-size="20.4" text-anchor="end" transform="rotate(-90 1138.1 1980.4)">IGHV05-51</text>
<line x1="1159.3" y1="1964.0" x2="1159.3" y2="1976.4" stroke="#000" stroke-width="4"/>
<text x="1167.2" y="1980.4" font-size="20.4" text-anchor="end" transform="rotate(-90 1167.2 1980.4)">IGHV05-a</text>
<line x1="1188.5" y1="1964.0" x2="1188.5" y2="1976.4" stroke="#000" stroke-width="4"/>
<text x="1196.4" y="1980.4" font-size="20.4" text-anchor="end" transform="rotate(-90 1196.4 1980.4)">IGHV06-01</text>
<line x1="1217.7" y1="1964.0" x2="1217.7" y2="1976.4" stroke="#000" stroke-width="4"/>
<text x="1225.6" y="1980.4" font-size="20.4" text-anchor="end" transform="rotate(-90 1225.6 1980.4)">IGHV07-04_1</text>
<text x="663.0" y="1099.9" font-size="27.6" font-weight="bold" text-anchor="middle" textLength="178.3" lengthAdjust="spacingAndGlyphs">V gene usage</text>
<text x="14.0" y="1097.0" font-size="41" font-weight="bold">G</text>
<line x1="38.0" y1="1129.0" x2="38.0" y2="1402.5" stroke="#000" stroke-width="4.3" stroke-linecap="round"/>
<text x="23.3" y="1264.7" font-size="26.3" font-weight="bold" text-anchor="middle" transform="rotate(-90 23.3 1264.7)" textLength="67.0" lengthAdjust="spacingAndGlyphs">Naïve</text>
<line x1="86.2" y1="1130.0" x2="86.2" y2="1262.0" stroke="#000" stroke-width="4.2" stroke-linecap="round"/>
<text x="62.5" y="1200.8" font-size="22" text-anchor="middle">HC</text>
<line x1="86.2" y1="1269.7" x2="86.2" y2="1401.7" stroke="#000" stroke-width="4.2" stroke-linecap="round"/>
<text x="62.5" y="1340.5" font-size="22" text-anchor="middle">DS</text>
<line x1="38.0" y1="1408.4" x2="38.0" y2="1682.0" stroke="#000" stroke-width="4.3" stroke-linecap="round"/>
<text x="29.8" y="1533.6" font-size="26.3" font-weight="bold" text-anchor="middle" transform="rotate(-90 29.8 1533.6)" textLength="90.9" lengthAdjust="spacingAndGlyphs">CD11c<tspan dy="-0.42em" font-size="72%">+</tspan></text>
<line x1="86.2" y1="1409.4" x2="86.2" y2="1541.5" stroke="#000" stroke-width="4.2" stroke-linecap="round"/>
<text x="62.5" y="1480.2" font-size="22" text-anchor="middle">HC</text>
<line x1="86.2" y1="1549.2" x2="86.2" y2="1681.2" stroke="#000" stroke-width="4.2" stroke-linecap="round"/>
<text x="62.5" y="1619.9" font-size="22" text-anchor="middle">DS</text>
<line x1="38.0" y1="1687.9" x2="38.0" y2="1961.4" stroke="#000" stroke-width="4.3" stroke-linecap="round"/>
<text x="21.3" y="1797.0" font-size="26.3" font-weight="bold" text-anchor="middle" transform="rotate(-90 21.3 1797.0)" textLength="106.6" lengthAdjust="spacingAndGlyphs">Memory</text>
<line x1="86.2" y1="1688.9" x2="86.2" y2="1820.9" stroke="#000" stroke-width="4.2" stroke-linecap="round"/>
<text x="62.5" y="1759.6" font-size="22" text-anchor="middle">HC</text>
<line x1="86.2" y1="1828.6" x2="86.2" y2="1960.6" stroke="#000" stroke-width="4.2" stroke-linecap="round"/>
<text x="62.5" y="1899.3" font-size="22" text-anchor="middle">DS</text>
<defs><linearGradient id="cbG" x1="0" y1="0" x2="0" y2="1"><stop offset="0" stop-color="#101017"/><stop offset="0.1" stop-color="#1c1430"/><stop offset="0.18" stop-color="#2c2360"/><stop offset="0.27" stop-color="#522672"/><stop offset="0.34" stop-color="#6c2270"/><stop offset="0.4" stop-color="#80226a"/><stop offset="0.47" stop-color="#9a2e66"/><stop offset="0.52" stop-color="#b23e5e"/><stop offset="0.56" stop-color="#c44a50"/><stop offset="0.62" stop-color="#d65c3e"/><stop offset="0.72" stop-color="#e88030"/><stop offset="0.8" stop-color="#f4a02a"/><stop offset="0.83" stop-color="#f5aa30"/><stop offset="0.9" stop-color="#f5cc58"/><stop offset="1" stop-color="#f5f098"/></linearGradient></defs>
<rect x="1266.9" y="1360.5" width="21.1" height="659.8" fill="url(#cbG)" stroke="#000" stroke-width="3.1"/>
<line x1="1267.0" y1="1539.9" x2="1273.0" y2="1539.9" stroke="#000" stroke-width="2.3"/>
<line x1="1282.0" y1="1539.9" x2="1288.0" y2="1539.9" stroke="#000" stroke-width="2.3"/>
<text x="1295.4" y="1540.4" font-size="16.5" text-anchor="middle" transform="rotate(90 1295.4 1540.4)" textLength="25.0" lengthAdjust="spacingAndGlyphs">0.05</text>
<line x1="1267.0" y1="1724.0" x2="1273.0" y2="1724.0" stroke="#000" stroke-width="2.3"/>
<line x1="1282.0" y1="1724.0" x2="1288.0" y2="1724.0" stroke="#000" stroke-width="2.3"/>
<text x="1295.4" y="1724.5" font-size="16.5" text-anchor="middle" transform="rotate(90 1295.4 1724.5)" textLength="25.0" lengthAdjust="spacingAndGlyphs">0.10</text>
<line x1="1267.0" y1="1908.0" x2="1273.0" y2="1908.0" stroke="#000" stroke-width="2.3"/>
<line x1="1282.0" y1="1908.0" x2="1288.0" y2="1908.0" stroke="#000" stroke-width="2.3"/>
<text x="1295.4" y="1908.5" font-size="16.5" text-anchor="middle" transform="rotate(90 1295.4 1908.5)" textLength="25.0" lengthAdjust="spacingAndGlyphs">0.15</text>
<text x="1337.0" y="1705.2" font-size="22.9" font-weight="bold" text-anchor="middle" transform="rotate(90 1337.0 1705.2)" textLength="225.6" lengthAdjust="spacingAndGlyphs">Productive_Frequency</text>
<text x="1467.0" y="1454.5" font-size="41" font-weight="bold">H</text>
<text x="1569.0" y="1439.6" font-size="23" font-weight="bold" textLength="275.3" lengthAdjust="spacingAndGlyphs">9G4 antibody secretion</text>
<rect x="1638.0" y="1708.0" width="31.8" height="20.4" fill="#6b6767" stroke="#000" stroke-width="3.4"/>
<rect x="1690.7" y="1524.8" width="32.5" height="203.6" fill="#f4a1b6" stroke="#e63a7a" stroke-width="3.4"/>
<rect x="1743.6" y="1606.5" width="32.3" height="121.9" fill="#9bbfc4" stroke="#1a9190" stroke-width="3.4"/>
<circle cx="1654.0" cy="1700.0" r="3.8" fill="#000"/>
<circle cx="1654.0" cy="1713.1" r="3.8" fill="#000"/>
<circle cx="1706.8" cy="1503.2" r="3.8" fill="#e63a7a"/>
<circle cx="1706.8" cy="1542.9" r="3.8" fill="#e63a7a"/>
<circle cx="1752.3" cy="1606.1" r="3.8" fill="#1a9190"/>
<circle cx="1767.7" cy="1603.9" r="3.8" fill="#1a9190"/>
<line x1="1620.0" y1="1472.4" x2="1620.0" y2="1730.0" stroke="#000" stroke-width="3.1"/>
<line x1="1606.6" y1="1728.4" x2="1794.8" y2="1728.4" stroke="#000" stroke-width="3.1"/>
<line x1="1606.6" y1="1474.0" x2="1620.0" y2="1474.0" stroke="#000" stroke-width="3.1"/>
<text x="1603.0" y="1480.8" font-size="19.5" font-weight="bold" text-anchor="end">0.6</text>
<line x1="1606.6" y1="1558.7" x2="1620.0" y2="1558.7" stroke="#000" stroke-width="3.1"/>
<text x="1603.0" y="1565.5" font-size="19.5" font-weight="bold" text-anchor="end">0.4</text>
<line x1="1606.6" y1="1643.6" x2="1620.0" y2="1643.6" stroke="#000" stroke-width="3.1"/>
<text x="1603.0" y="1650.4" font-size="19.5" font-weight="bold" text-anchor="end">0.2</text>
<line x1="1606.6" y1="1728.4" x2="1620.0" y2="1728.4" stroke="#000" stroke-width="3.1"/>
<text x="1603.0" y="1735.2" font-size="19.5" font-weight="bold" text-anchor="end">0.0</text>
<line x1="1654.0" y1="1728.4" x2="1654.0" y2="1739.5" stroke="#000" stroke-width="3.1"/>
<text x="1660.5" y="1755.5" font-size="20.4" font-weight="bold" text-anchor="end" transform="rotate(-45 1660.5 1755.5)">Naive</text>
<line x1="1706.8" y1="1728.4" x2="1706.8" y2="1739.5" stroke="#000" stroke-width="3.1"/>
<text x="1713.3" y="1755.5" font-size="20.4" font-weight="bold" text-anchor="end" transform="rotate(-45 1713.3 1755.5)">CD11c<tspan dy="-0.42em" font-size="72%">+</tspan></text>
<line x1="1760.0" y1="1728.4" x2="1760.0" y2="1739.5" stroke="#000" stroke-width="3.1"/>
<text x="1766.5" y="1755.5" font-size="20.4" font-weight="bold" text-anchor="end" transform="rotate(-45 1766.5 1755.5)">Memory</text>
<text x="1556.8" y="1600.5" font-size="19.5" font-weight="bold" text-anchor="middle" transform="rotate(-90 1556.8 1600.5)" textLength="118.7" lengthAdjust="spacingAndGlyphs">OD (490nm)</text>
</svg></body></html>
